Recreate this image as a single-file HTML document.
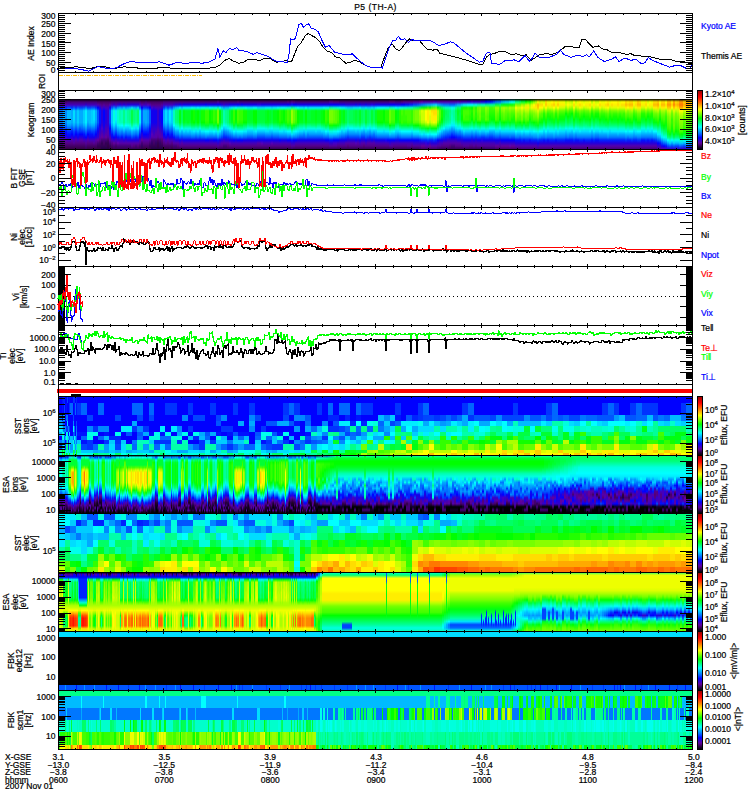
<!DOCTYPE html><html><head><meta charset="utf-8"><title>P5 (TH-A)</title><style>
html,body{margin:0;padding:0;background:#fff}
body{width:750px;height:800px;position:relative;overflow:hidden;font-family:"Liberation Sans",sans-serif}
.sp{position:absolute;overflow:hidden}
.sp i{position:absolute;top:0;height:100%;display:block}
.sp b{position:absolute;left:0;width:100%;display:block}
svg{position:absolute;left:0;top:0}
svg text{font-family:"Liberation Sans",sans-serif;font-size:8.5px;fill:currentColor;stroke:currentColor;stroke-width:.22px}
</style></head><body><div class="sp" style="left:59px;top:99px;width:633px;height:50px;background:#000"><i style="left:0px;width:2px;background:linear-gradient(#000,#406,#50a,#01f,#07f,#07f,#07f,#07f,#07f,#05f,#02f,#00f,#10e,#30c,#50a,#407,#306,#304)"></i><i style="left:2px;width:2px;background:linear-gradient(#000,#406,#50a,#01f,#07f,#07f,#07f,#07f,#07f,#05f,#02f,#00f,#10e,#30c,#50a,#407,#306,#304)"></i><i style="left:4px;width:2px;background:linear-gradient(#000,#407,#40b,#03f,#0af,#0af,#0af,#0af,#0af,#08f,#05f,#02f,#00f,#20d,#50a,#508,#406,#304)"></i><i style="left:6px;width:2px;background:linear-gradient(#000,#406,#50a,#02f,#08f,#08f,#08f,#08f,#08f,#06f,#04f,#01f,#10e,#20d,#50a,#508,#406,#304)"></i><i style="left:8px;width:2px;background:linear-gradient(#000,#407,#40b,#04f,#0bf,#0bf,#0bf,#0bf,#0bf,#09f,#06f,#03f,#01f,#10e,#40b,#508,#406,#304)"></i><i style="left:10px;width:2px;background:linear-gradient(#000,#407,#40b,#04f,#0bf,#0bf,#0bf,#0bf,#0bf,#09f,#06f,#03f,#01f,#10e,#40b,#508,#406,#304)"></i><i style="left:12px;width:2px;background:linear-gradient(#000,#407,#40b,#03f,#0af,#0af,#0af,#0af,#0af,#08f,#05f,#02f,#00f,#20d,#50a,#508,#406,#304)"></i><i style="left:14px;width:2px;background:linear-gradient(#000,#407,#40b,#05f,#0df,#0df,#0df,#0df,#0cf,#0af,#07f,#04f,#02f,#10e,#40b,#509,#406,#304)"></i><i style="left:16px;width:2px;background:linear-gradient(#000,#407,#40b,#03f,#0af,#0af,#0af,#0af,#0af,#08f,#05f,#02f,#00f,#20d,#50a,#508,#406,#304)"></i><i style="left:18px;width:2px;background:linear-gradient(#000,#407,#40b,#05f,#0cf,#0cf,#0cf,#0cf,#0cf,#0af,#07f,#04f,#01f,#10e,#40b,#508,#406,#304)"></i><i style="left:20px;width:2px;background:linear-gradient(#000,#407,#40b,#04f,#0af,#0af,#0af,#0af,#0af,#08f,#05f,#03f,#00f,#20d,#50a,#508,#406,#304)"></i><i style="left:22px;width:2px;background:linear-gradient(#000,#407,#40b,#04f,#0af,#0af,#0af,#0af,#0af,#08f,#06f,#03f,#00f,#20d,#50a,#508,#406,#304)"></i><i style="left:24px;width:2px;background:linear-gradient(#000,#407,#40b,#05f,#0cf,#0cf,#0cf,#0cf,#0cf,#0af,#07f,#04f,#01f,#10e,#40b,#508,#406,#304)"></i><i style="left:26px;width:2px;background:linear-gradient(#000,#407,#30c,#07f,#0ef,#0ef,#0ef,#0ef,#0ef,#0cf,#09f,#06f,#03f,#00f,#40b,#509,#407,#305)"></i><i style="left:28px;width:2px;background:linear-gradient(#000,#407,#40b,#04f,#0bf,#0bf,#0bf,#0bf,#0af,#08f,#06f,#03f,#00f,#20d,#50a,#508,#406,#304)"></i><i style="left:30px;width:2px;background:linear-gradient(#000,#407,#40b,#04f,#0bf,#0bf,#0bf,#0bf,#0bf,#09f,#06f,#03f,#01f,#10e,#40b,#508,#406,#304)"></i><i style="left:32px;width:2px;background:linear-gradient(#000,#407,#40b,#05f,#0cf,#0cf,#0cf,#0cf,#0cf,#0af,#07f,#04f,#01f,#10e,#40b,#508,#406,#304)"></i><i style="left:34px;width:2px;background:linear-gradient(#000,#407,#40b,#05f,#0df,#0df,#0df,#0df,#0cf,#0af,#07f,#04f,#02f,#10e,#40b,#509,#406,#304)"></i><i style="left:36px;width:2px;background:linear-gradient(#000,#407,#40b,#03f,#0af,#0af,#0af,#0af,#09f,#07f,#05f,#02f,#00f,#20d,#50a,#508,#406,#304)"></i><i style="left:38px;width:2px;background:linear-gradient(#000,#406,#50a,#00f,#05f,#05f,#05f,#05f,#05f,#03f,#01f,#10e,#20d,#30c,#609,#407,#305,#304)"></i><i style="left:40px;width:2px;background:linear-gradient(#000,#406,#509,#20d,#01f,#01f,#01f,#01f,#01f,#10e,#20d,#30c,#40b,#50a,#508,#406,#305,#304)"></i><i style="left:42px;width:2px;background:linear-gradient(#000,#406,#508,#40b,#20d,#20d,#20d,#20d,#20d,#30c,#40c,#40b,#50a,#609,#407,#305,#305,#204)"></i><i style="left:44px;width:2px;background:linear-gradient(#000,#406,#509,#30c,#00f,#00f,#00f,#00f,#10e,#10e,#20d,#30c,#40b,#50a,#407,#406,#305,#204)"></i><i style="left:46px;width:2px;background:linear-gradient(#000,#406,#508,#40b,#20d,#20d,#20d,#20d,#20d,#30c,#40b,#40b,#50a,#609,#407,#305,#305,#204)"></i><i style="left:48px;width:2px;background:linear-gradient(#000,#406,#508,#40b,#30c,#30c,#30c,#30c,#30c,#30c,#40b,#50a,#50a,#509,#406,#305,#304,#204)"></i><i style="left:50px;width:2px;background:linear-gradient(#000,#406,#50a,#10e,#04f,#04f,#04f,#04f,#04f,#02f,#00f,#10e,#20d,#40b,#509,#407,#305,#304)"></i><i style="left:52px;width:2px;background:linear-gradient(#000,#407,#40b,#05f,#0cf,#0cf,#0cf,#0cf,#0cf,#0af,#07f,#04f,#01f,#10e,#40b,#508,#406,#304)"></i><i style="left:54px;width:2px;background:linear-gradient(#000,#407,#30c,#08f,#0fd,#0fd,#0fd,#0fd,#0fe,#0df,#0af,#07f,#04f,#00f,#30c,#609,#407,#305)"></i><i style="left:56px;width:2px;background:linear-gradient(#000,#407,#40b,#06f,#0ef,#0ef,#0ef,#0ef,#0df,#0bf,#08f,#05f,#02f,#10e,#40b,#509,#406,#305)"></i><i style="left:58px;width:2px;background:linear-gradient(#000,#407,#30c,#09f,#0fc,#0fc,#0fc,#0fc,#0fc,#0ef,#0bf,#08f,#05f,#01f,#30c,#60a,#407,#305)"></i><i style="left:60px;width:2px;background:linear-gradient(#000,#407,#20d,#0af,#0fa,#0fa,#0fa,#0fa,#0fb,#0fe,#0cf,#09f,#06f,#02f,#30c,#50a,#407,#305)"></i><i style="left:62px;width:2px;background:linear-gradient(#000,#407,#30c,#09f,#0fb,#0fb,#0fb,#0fb,#0fb,#0ff,#0cf,#08f,#05f,#01f,#30c,#50a,#407,#305)"></i><i style="left:64px;width:2px;background:linear-gradient(#000,#407,#20d,#0bf,#0f8,#0f8,#0f8,#0f8,#0f8,#0fc,#0df,#0af,#06f,#03f,#20d,#50a,#407,#305)"></i><i style="left:66px;width:2px;background:linear-gradient(#000,#407,#30c,#09f,#0fb,#0fb,#0fb,#0fb,#0fb,#0ff,#0cf,#08f,#05f,#01f,#30c,#50a,#407,#305)"></i><i style="left:68px;width:2px;background:linear-gradient(#000,#407,#20d,#0af,#0f9,#0f9,#0f9,#0f9,#0fa,#0fe,#0cf,#09f,#06f,#02f,#20d,#50a,#407,#305)"></i><i style="left:70px;width:2px;background:linear-gradient(#000,#407,#20d,#0bf,#0f8,#0f8,#0f8,#0f8,#0f9,#0fd,#0df,#09f,#06f,#02f,#20d,#50a,#407,#305)"></i><i style="left:72px;width:2px;background:linear-gradient(#000,#407,#20d,#0df,#0f4,#0f4,#0f4,#0f4,#0f5,#0f9,#0fe,#0bf,#08f,#04f,#20d,#50a,#508,#305)"></i><i style="left:74px;width:2px;background:linear-gradient(#000,#407,#20d,#0bf,#0f7,#0f7,#0f7,#0f7,#0f8,#0fc,#0ef,#0af,#07f,#03f,#20d,#50a,#507,#305)"></i><i style="left:76px;width:2px;background:linear-gradient(#000,#407,#20d,#0af,#0f8,#0f8,#0f8,#0f8,#0f9,#0fd,#0df,#09f,#06f,#02f,#20d,#50a,#407,#305)"></i><i style="left:78px;width:2px;background:linear-gradient(#000,#407,#20d,#0cf,#0f6,#0f6,#0f6,#0f6,#0f7,#0fb,#0ef,#0af,#07f,#03f,#20d,#50a,#507,#305)"></i><i style="left:80px;width:2px;background:linear-gradient(#000,#407,#40c,#06f,#0ef,#0ef,#0ef,#0ef,#0ef,#0bf,#08f,#05f,#02f,#10e,#40b,#509,#406,#305)"></i><i style="left:82px;width:2px;background:linear-gradient(#000,#406,#50a,#00f,#06f,#06f,#06f,#06f,#06f,#04f,#02f,#00f,#20d,#30c,#609,#407,#306,#304)"></i><i style="left:84px;width:2px;background:linear-gradient(#000,#406,#40b,#03f,#0af,#0af,#0af,#0af,#09f,#07f,#05f,#02f,#00f,#20d,#50a,#508,#406,#304)"></i><i style="left:86px;width:2px;background:linear-gradient(#000,#407,#40b,#03f,#0af,#0af,#0af,#0af,#0af,#08f,#05f,#02f,#00f,#20d,#50a,#508,#406,#304)"></i><i style="left:88px;width:2px;background:linear-gradient(#000,#406,#50b,#02f,#09f,#09f,#09f,#09f,#09f,#07f,#04f,#02f,#10e,#20d,#50a,#508,#406,#304)"></i><i style="left:90px;width:2px;background:linear-gradient(#000,#406,#50a,#00f,#05f,#05f,#05f,#05f,#05f,#03f,#01f,#10e,#20d,#30c,#509,#407,#305,#304)"></i><i style="left:92px;width:2px;background:linear-gradient(#000,#406,#508,#40c,#10e,#10e,#10e,#10e,#10e,#20d,#30c,#40b,#50b,#50a,#407,#306,#305,#204)"></i><i style="left:94px;width:2px;background:linear-gradient(#000,#406,#508,#30c,#10e,#10e,#10e,#10e,#10e,#20d,#30c,#30c,#40b,#50a,#407,#406,#305,#204)"></i><i style="left:96px;width:2px;background:linear-gradient(#000,#406,#508,#40b,#10e,#10e,#10e,#10e,#10e,#20d,#30c,#40b,#50a,#50a,#407,#306,#305,#204)"></i><i style="left:98px;width:2px;background:linear-gradient(#000,#406,#508,#40b,#30c,#30c,#30c,#30c,#30c,#30c,#40b,#50a,#50a,#509,#406,#305,#304,#204)"></i><i style="left:100px;width:2px;background:linear-gradient(#000,#406,#508,#40b,#10e,#10e,#10e,#10e,#20d,#20d,#30c,#40b,#50a,#50a,#407,#306,#305,#204)"></i><i style="left:102px;width:2px;background:linear-gradient(#000,#406,#509,#30c,#00f,#00f,#00f,#00f,#00f,#10e,#20d,#30c,#40b,#50a,#507,#406,#305,#204)"></i><i style="left:104px;width:2px;background:linear-gradient(#000,#407,#40b,#03f,#0af,#0af,#0af,#0af,#0af,#08f,#05f,#02f,#00f,#20d,#50a,#508,#406,#304)"></i><i style="left:106px;width:2px;background:linear-gradient(#000,#407,#40b,#06f,#0df,#0df,#0df,#0df,#0cf,#0af,#07f,#04f,#02f,#10e,#40b,#509,#406,#304)"></i><i style="left:108px;width:2px;background:linear-gradient(#000,#407,#40b,#04f,#0bf,#0bf,#0bf,#0bf,#0af,#08f,#06f,#03f,#00f,#20d,#50a,#508,#406,#304)"></i><i style="left:110px;width:2px;background:linear-gradient(#000,#407,#40b,#06f,#0ef,#0ef,#0ef,#0ef,#0df,#0bf,#08f,#05f,#02f,#10e,#40b,#509,#406,#305)"></i><i style="left:112px;width:2px;background:linear-gradient(#000,#407,#40b,#05f,#0cf,#0cf,#0cf,#0cf,#0cf,#0af,#07f,#04f,#01f,#10e,#40b,#508,#406,#304)"></i><i style="left:114px;width:2px;background:linear-gradient(#000,#407,#30c,#09f,#0fb,#0fb,#0fb,#0fb,#0fc,#0ff,#0bf,#08f,#05f,#01f,#30c,#50a,#407,#305)"></i><i style="left:116px;width:2px;background:linear-gradient(#000,#407,#20d,#0bf,#0f7,#0f7,#0f7,#0f7,#0f8,#0fc,#0ef,#0af,#07f,#03f,#20d,#50a,#407,#305)"></i><i style="left:118px;width:2px;background:linear-gradient(#000,#407,#20d,#0cf,#0f6,#0f6,#0f6,#0f6,#0f7,#0fb,#0ef,#0af,#07f,#03f,#20d,#50a,#507,#305)"></i><i style="left:120px;width:2px;background:linear-gradient(#000,#407,#10e,#0ef,#0f1,#0f1,#0f1,#0f1,#0f2,#0f7,#0fc,#0df,#09f,#05f,#10e,#40b,#508,#305)"></i><i style="left:122px;width:2px;background:linear-gradient(#000,#407,#20d,#0cf,#0f5,#0f5,#0f5,#0f5,#0f6,#0fa,#0ff,#0bf,#08f,#04f,#20d,#50a,#508,#305)"></i><i style="left:124px;width:2px;background:linear-gradient(#000,#407,#10e,#0ef,#0f1,#0f1,#0f1,#0f1,#0f2,#0f6,#0fc,#0df,#09f,#05f,#10e,#40b,#508,#305)"></i><i style="left:126px;width:2px;background:linear-gradient(#000,#407,#10e,#0ef,#0f2,#0f2,#0f2,#0f2,#0f3,#0f7,#0fd,#0cf,#09f,#05f,#10e,#40b,#508,#305)"></i><i style="left:128px;width:2px;background:linear-gradient(#000,#407,#10e,#0ef,#0f2,#0f2,#0f2,#0f2,#0f2,#0f7,#0fd,#0df,#09f,#05f,#10e,#40b,#508,#305)"></i><i style="left:130px;width:2px;background:linear-gradient(#000,#407,#10e,#0ef,#0f2,#0f2,#0f2,#0f2,#0f3,#0f7,#0fd,#0cf,#09f,#05f,#10e,#40b,#508,#305)"></i><i style="left:132px;width:2px;background:linear-gradient(#000,#407,#10e,#0ff,#0f0,#0f0,#0f0,#0f0,#0f1,#0f5,#0fb,#0df,#0af,#06f,#10e,#40b,#508,#305)"></i><i style="left:134px;width:2px;background:linear-gradient(#000,#407,#10e,#0fe,#1f0,#1f0,#1f0,#1f0,#0f0,#0f5,#0fb,#0ef,#0af,#06f,#10e,#40b,#508,#305)"></i><i style="left:136px;width:2px;background:linear-gradient(#000,#407,#10e,#0ef,#0f1,#0f1,#0f1,#0f1,#0f2,#0f6,#0fc,#0df,#09f,#05f,#10e,#40b,#508,#305)"></i><i style="left:138px;width:2px;background:linear-gradient(#000,#407,#10e,#0ff,#0f0,#0f0,#0f0,#0f0,#0f0,#0f5,#0fb,#0ef,#0af,#06f,#10e,#40b,#508,#305)"></i><i style="left:140px;width:2px;background:linear-gradient(#000,#407,#10e,#0ef,#0f2,#0f2,#0f2,#0f2,#0f3,#0f7,#0fd,#0cf,#09f,#05f,#10e,#40b,#508,#305)"></i><i style="left:142px;width:2px;background:linear-gradient(#000,#407,#10e,#0fe,#1f0,#1f0,#1f0,#1f0,#0f0,#0f4,#0fa,#0ef,#0af,#06f,#10e,#40b,#508,#305)"></i><i style="left:144px;width:2px;background:linear-gradient(#000,#407,#10e,#0fe,#1f0,#1f0,#1f0,#1f0,#0f0,#0f4,#0fa,#0ef,#0af,#06f,#10e,#40b,#508,#305)"></i><i style="left:146px;width:2px;background:linear-gradient(#000,#407,#00f,#0fd,#3f0,#3f0,#3f0,#3f0,#2f0,#0f3,#0f9,#0ff,#0bf,#07f,#00f,#40b,#508,#305)"></i><i style="left:148px;width:2px;background:linear-gradient(#000,#407,#10e,#0fd,#3f0,#3f0,#3f0,#3f0,#2f0,#0f3,#0f9,#0ff,#0bf,#06f,#00f,#40b,#508,#305)"></i><i style="left:150px;width:2px;background:linear-gradient(#000,#407,#10e,#0ff,#0f0,#0f0,#0f0,#0f0,#0f0,#0f5,#0fb,#0ef,#0af,#06f,#10e,#40b,#508,#305)"></i><i style="left:152px;width:2px;background:linear-gradient(#000,#407,#10e,#0fe,#1f0,#1f0,#1f0,#1f0,#0f0,#0f5,#0fa,#0ef,#0af,#06f,#10e,#40b,#508,#305)"></i><i style="left:154px;width:2px;background:linear-gradient(#000,#407,#10e,#0fd,#3f0,#3f0,#3f0,#3f0,#2f0,#0f3,#0f9,#0ff,#0bf,#06f,#00f,#40b,#508,#305)"></i><i style="left:156px;width:2px;background:linear-gradient(#000,#407,#10e,#0fe,#2f0,#2f0,#2f0,#2f0,#1f0,#0f4,#0fa,#0ef,#0af,#06f,#00f,#40b,#508,#305)"></i><i style="left:158px;width:2px;background:linear-gradient(#000,#508,#00f,#0fb,#7f0,#7f0,#7f0,#7f0,#6f0,#0f0,#0f6,#0fd,#0cf,#08f,#01f,#30c,#509,#305)"></i><i style="left:160px;width:2px;background:linear-gradient(#000,#407,#10e,#0ff,#0f0,#0f0,#0f0,#0f0,#0f1,#0f5,#0fb,#0ef,#0af,#06f,#10e,#40b,#508,#305)"></i><i style="left:162px;width:2px;background:linear-gradient(#000,#407,#20d,#0cf,#0f5,#0f5,#0f5,#0f5,#0f5,#0fa,#0ff,#0bf,#08f,#04f,#20d,#50a,#508,#305)"></i><i style="left:164px;width:2px;background:linear-gradient(#000,#407,#30c,#0af,#0fa,#0fa,#0fa,#0fa,#0fb,#0fe,#0cf,#08f,#05f,#02f,#30c,#50a,#407,#305)"></i><i style="left:166px;width:2px;background:linear-gradient(#000,#407,#20d,#0bf,#0f8,#0f8,#0f8,#0f8,#0f9,#0fd,#0df,#09f,#06f,#02f,#20d,#50a,#407,#305)"></i><i style="left:168px;width:2px;background:linear-gradient(#000,#407,#20d,#0bf,#0f7,#0f7,#0f7,#0f7,#0f7,#0fb,#0ef,#0af,#07f,#03f,#20d,#50a,#507,#305)"></i><i style="left:170px;width:2px;background:linear-gradient(#000,#407,#10e,#0df,#0f3,#0f3,#0f3,#0f3,#0f4,#0f9,#0fe,#0cf,#08f,#04f,#10e,#50b,#508,#305)"></i><i style="left:172px;width:2px;background:linear-gradient(#000,#407,#10e,#0ef,#0f1,#0f1,#0f1,#0f1,#0f2,#0f7,#0fc,#0df,#09f,#05f,#10e,#40b,#508,#305)"></i><i style="left:174px;width:2px;background:linear-gradient(#000,#407,#10e,#0fd,#3f0,#3f0,#3f0,#3f0,#2f0,#0f3,#0f9,#0ff,#0bf,#06f,#00f,#40b,#508,#305)"></i><i style="left:176px;width:2px;background:linear-gradient(#000,#407,#10e,#0ff,#0f0,#0f0,#0f0,#0f0,#0f1,#0f5,#0fb,#0ef,#0af,#06f,#10e,#40b,#508,#305)"></i><i style="left:178px;width:2px;background:linear-gradient(#000,#507,#00f,#0fd,#4f0,#4f0,#4f0,#4f0,#3f0,#0f2,#0f9,#0ff,#0bf,#07f,#00f,#40b,#508,#305)"></i><i style="left:180px;width:2px;background:linear-gradient(#000,#407,#10e,#0fd,#3f0,#3f0,#3f0,#3f0,#2f0,#0f3,#0f9,#0ff,#0bf,#06f,#00f,#40b,#508,#305)"></i><i style="left:182px;width:2px;background:linear-gradient(#000,#407,#00f,#0fd,#3f0,#3f0,#3f0,#3f0,#2f0,#0f3,#0f9,#0ff,#0bf,#07f,#00f,#40b,#508,#305)"></i><i style="left:184px;width:2px;background:linear-gradient(#000,#407,#10e,#0fe,#1f0,#1f0,#1f0,#1f0,#0f0,#0f5,#0fa,#0ef,#0af,#06f,#10e,#40b,#508,#305)"></i><i style="left:186px;width:2px;background:linear-gradient(#000,#407,#10e,#0ff,#1f0,#1f0,#1f0,#1f0,#0f0,#0f5,#0fb,#0ef,#0af,#06f,#10e,#40b,#508,#305)"></i><i style="left:188px;width:2px;background:linear-gradient(#000,#407,#10e,#0ef,#0f2,#0f2,#0f2,#0f2,#0f3,#0f8,#0fd,#0cf,#09f,#05f,#10e,#40b,#508,#305)"></i><i style="left:190px;width:2px;background:linear-gradient(#000,#407,#10e,#0ef,#0f2,#0f2,#0f2,#0f2,#0f3,#0f7,#0fd,#0cf,#09f,#05f,#10e,#40b,#508,#305)"></i><i style="left:192px;width:2px;background:linear-gradient(#000,#407,#10e,#0ef,#0f2,#0f2,#0f2,#0f2,#0f3,#0f7,#0fd,#0cf,#09f,#05f,#10e,#40b,#508,#305)"></i><i style="left:194px;width:2px;background:linear-gradient(#000,#407,#10e,#0ff,#0f0,#0f0,#0f0,#0f0,#0f1,#0f5,#0fb,#0df,#0af,#06f,#10e,#40b,#508,#305)"></i><i style="left:196px;width:2px;background:linear-gradient(#000,#407,#10e,#0ff,#0f0,#0f0,#0f0,#0f0,#0f0,#0f5,#0fb,#0ef,#0af,#06f,#10e,#40b,#508,#305)"></i><i style="left:198px;width:2px;background:linear-gradient(#000,#407,#20e,#0df,#0f3,#0f3,#0f3,#0f3,#0f4,#0f9,#0fe,#0cf,#08f,#04f,#10e,#50a,#508,#305)"></i><i style="left:200px;width:2px;background:linear-gradient(#000,#407,#20e,#0df,#0f3,#0f3,#0f3,#0f3,#0f4,#0f9,#0fe,#0cf,#08f,#04f,#10e,#50a,#508,#305)"></i><i style="left:202px;width:2px;background:linear-gradient(#000,#407,#10e,#0df,#0f3,#0f3,#0f3,#0f3,#0f4,#0f8,#0fe,#0cf,#08f,#04f,#10e,#50b,#508,#305)"></i><i style="left:204px;width:2px;background:linear-gradient(#000,#407,#10e,#0df,#0f3,#0f3,#0f3,#0f3,#0f4,#0f8,#0fe,#0cf,#08f,#04f,#10e,#40b,#508,#305)"></i><i style="left:206px;width:2px;background:linear-gradient(#000,#407,#10e,#0ef,#0f2,#0f2,#0f2,#0f2,#0f2,#0f7,#0fd,#0df,#09f,#05f,#10e,#40b,#508,#305)"></i><i style="left:208px;width:2px;background:linear-gradient(#000,#407,#10e,#0ef,#0f1,#0f1,#0f1,#0f1,#0f2,#0f6,#0fc,#0df,#09f,#05f,#10e,#40b,#508,#305)"></i><i style="left:210px;width:2px;background:linear-gradient(#000,#407,#10e,#0ef,#0f2,#0f2,#0f2,#0f2,#0f3,#0f8,#0fd,#0cf,#09f,#05f,#10e,#40b,#508,#305)"></i><i style="left:212px;width:2px;background:linear-gradient(#000,#407,#10e,#0df,#0f3,#0f3,#0f3,#0f3,#0f4,#0f9,#0fe,#0cf,#08f,#04f,#10e,#50b,#508,#305)"></i><i style="left:214px;width:2px;background:linear-gradient(#000,#407,#10e,#0ef,#0f1,#0f1,#0f1,#0f1,#0f2,#0f7,#0fc,#0df,#09f,#05f,#10e,#40b,#508,#305)"></i><i style="left:216px;width:2px;background:linear-gradient(#000,#407,#10e,#0ef,#0f1,#0f1,#0f1,#0f1,#0f2,#0f7,#0fc,#0df,#09f,#05f,#10e,#40b,#508,#305)"></i><i style="left:218px;width:2px;background:linear-gradient(#000,#407,#10e,#0ff,#0f0,#0f0,#0f0,#0f0,#0f1,#0f6,#0fc,#0df,#09f,#05f,#10e,#40b,#508,#305)"></i><i style="left:220px;width:2px;background:linear-gradient(#000,#407,#10e,#0fe,#2f0,#2f0,#2f0,#2f0,#1f0,#0f4,#0fa,#0ef,#0af,#06f,#00f,#40b,#508,#305)"></i><i style="left:222px;width:2px;background:linear-gradient(#000,#407,#10e,#0ff,#1f0,#1f0,#1f0,#1f0,#0f0,#0f5,#0fb,#0ef,#0af,#06f,#10e,#40b,#508,#305)"></i><i style="left:224px;width:2px;background:linear-gradient(#000,#407,#10e,#0ff,#0f0,#0f0,#0f0,#0f0,#0f1,#0f6,#0fb,#0df,#0af,#06f,#10e,#40b,#508,#305)"></i><i style="left:226px;width:2px;background:linear-gradient(#000,#407,#10e,#0fe,#2f0,#2f0,#2f0,#2f0,#1f0,#0f4,#0fa,#0ef,#0af,#06f,#10e,#40b,#508,#305)"></i><i style="left:228px;width:2px;background:linear-gradient(#000,#507,#00f,#0fd,#4f0,#4f0,#4f0,#4f0,#3f0,#0f2,#0f8,#0ff,#0bf,#07f,#00f,#40b,#508,#305)"></i><i style="left:230px;width:2px;background:linear-gradient(#000,#407,#10e,#0fd,#3f0,#3f0,#3f0,#3f0,#2f0,#0f3,#0f9,#0ff,#0bf,#06f,#00f,#40b,#508,#305)"></i><i style="left:232px;width:2px;background:linear-gradient(#000,#508,#01f,#0f9,#9f0,#9f0,#9f0,#9f0,#8f0,#2f0,#0f4,#0fb,#0df,#08f,#01f,#30c,#509,#306)"></i><i style="left:234px;width:2px;background:linear-gradient(#000,#507,#00f,#0fb,#6f0,#6f0,#6f0,#6f0,#5f0,#0f1,#0f7,#0fe,#0cf,#07f,#00f,#30c,#509,#305)"></i><i style="left:236px;width:2px;background:linear-gradient(#000,#407,#00f,#0fd,#4f0,#4f0,#4f0,#4f0,#3f0,#0f3,#0f9,#0ff,#0bf,#07f,#00f,#40b,#508,#305)"></i><i style="left:238px;width:2px;background:linear-gradient(#000,#407,#10e,#0ff,#0f0,#0f0,#0f0,#0f0,#0f0,#0f5,#0fb,#0ef,#0af,#06f,#10e,#40b,#508,#305)"></i><i style="left:240px;width:2px;background:linear-gradient(#000,#407,#10e,#0ef,#0f1,#0f1,#0f1,#0f1,#0f2,#0f7,#0fc,#0df,#09f,#05f,#10e,#40b,#508,#305)"></i><i style="left:242px;width:2px;background:linear-gradient(#000,#407,#10e,#0ef,#0f1,#0f1,#0f1,#0f1,#0f2,#0f7,#0fc,#0df,#09f,#05f,#10e,#40b,#508,#305)"></i><i style="left:244px;width:2px;background:linear-gradient(#000,#407,#10e,#0df,#0f3,#0f3,#0f3,#0f3,#0f3,#0f8,#0fd,#0cf,#08f,#05f,#10e,#40b,#508,#305)"></i><i style="left:246px;width:2px;background:linear-gradient(#000,#407,#10e,#0ff,#0f0,#0f0,#0f0,#0f0,#0f1,#0f6,#0fb,#0df,#0af,#06f,#10e,#40b,#508,#305)"></i><i style="left:248px;width:2px;background:linear-gradient(#000,#407,#10e,#0df,#0f3,#0f3,#0f3,#0f3,#0f3,#0f8,#0fd,#0cf,#08f,#05f,#10e,#40b,#508,#305)"></i><i style="left:250px;width:2px;background:linear-gradient(#000,#407,#10e,#0ef,#0f3,#0f3,#0f3,#0f3,#0f3,#0f8,#0fd,#0cf,#09f,#05f,#10e,#40b,#508,#305)"></i><i style="left:252px;width:2px;background:linear-gradient(#000,#407,#10e,#0ef,#0f2,#0f2,#0f2,#0f2,#0f3,#0f7,#0fd,#0cf,#09f,#05f,#10e,#40b,#508,#305)"></i><i style="left:254px;width:2px;background:linear-gradient(#000,#407,#10e,#0ef,#0f2,#0f2,#0f2,#0f2,#0f3,#0f7,#0fd,#0cf,#09f,#05f,#10e,#40b,#508,#305)"></i><i style="left:256px;width:2px;background:linear-gradient(#000,#407,#10e,#0ef,#0f1,#0f1,#0f1,#0f1,#0f2,#0f6,#0fc,#0df,#09f,#05f,#10e,#40b,#508,#305)"></i><i style="left:258px;width:2px;background:linear-gradient(#000,#407,#10e,#0ef,#0f2,#0f2,#0f2,#0f2,#0f3,#0f8,#0fd,#0cf,#09f,#05f,#10e,#40b,#508,#305)"></i><i style="left:260px;width:2px;background:linear-gradient(#000,#407,#10e,#0ef,#0f2,#0f2,#0f2,#0f2,#0f3,#0f8,#0fd,#0cf,#09f,#05f,#10e,#40b,#508,#305)"></i><i style="left:262px;width:2px;background:linear-gradient(#000,#407,#10e,#0ef,#0f1,#0f1,#0f1,#0f1,#0f1,#0f6,#0fc,#0df,#09f,#05f,#10e,#40b,#508,#305)"></i><i style="left:264px;width:2px;background:linear-gradient(#000,#407,#10e,#0ff,#0f0,#0f0,#0f0,#0f0,#0f1,#0f5,#0fb,#0df,#0af,#06f,#10e,#40b,#508,#305)"></i><i style="left:266px;width:2px;background:linear-gradient(#000,#407,#10e,#0fe,#3f0,#3f0,#3f0,#3f0,#2f0,#0f3,#0f9,#0ff,#0bf,#06f,#00f,#40b,#508,#305)"></i><i style="left:268px;width:2px;background:linear-gradient(#000,#407,#10e,#0fe,#2f0,#2f0,#2f0,#2f0,#1f0,#0f4,#0fa,#0ef,#0af,#06f,#00f,#40b,#508,#305)"></i><i style="left:270px;width:2px;background:linear-gradient(#000,#508,#00f,#0fa,#7f0,#7f0,#7f0,#7f0,#6f0,#1f0,#0f6,#0fd,#0cf,#08f,#01f,#30c,#509,#305)"></i><i style="left:272px;width:2px;background:linear-gradient(#000,#508,#00f,#0fb,#7f0,#7f0,#7f0,#7f0,#6f0,#1f0,#0f6,#0fd,#0cf,#08f,#01f,#30c,#509,#305)"></i><i style="left:274px;width:2px;background:linear-gradient(#000,#507,#00f,#0fc,#6f0,#6f0,#6f0,#6f0,#5f0,#0f1,#0f7,#0fe,#0cf,#07f,#00f,#40c,#509,#305)"></i><i style="left:276px;width:2px;background:linear-gradient(#000,#507,#00f,#0fc,#5f0,#5f0,#5f0,#5f0,#5f0,#0f1,#0f7,#0fe,#0cf,#07f,#00f,#40c,#509,#305)"></i><i style="left:278px;width:2px;background:linear-gradient(#000,#507,#00f,#0fd,#4f0,#4f0,#4f0,#4f0,#3f0,#0f2,#0f9,#0ff,#0bf,#07f,#00f,#40b,#508,#305)"></i><i style="left:280px;width:2px;background:linear-gradient(#000,#407,#10e,#0fe,#1f0,#1f0,#1f0,#1f0,#1f0,#0f4,#0fa,#0ef,#0af,#06f,#10e,#40b,#508,#305)"></i><i style="left:282px;width:2px;background:linear-gradient(#000,#407,#10e,#0ef,#0f2,#0f2,#0f2,#0f2,#0f3,#0f7,#0fd,#0cf,#09f,#05f,#10e,#40b,#508,#305)"></i><i style="left:284px;width:2px;background:linear-gradient(#000,#407,#10e,#0ef,#0f1,#0f1,#0f1,#0f1,#0f2,#0f7,#0fc,#0df,#09f,#05f,#10e,#40b,#508,#305)"></i><i style="left:286px;width:2px;background:linear-gradient(#000,#407,#20d,#0df,#0f4,#0f4,#0f4,#0f4,#0f4,#0f9,#0fe,#0cf,#08f,#04f,#10e,#50a,#508,#305)"></i><i style="left:288px;width:2px;background:linear-gradient(#000,#407,#20d,#0cf,#0f6,#0f6,#0f6,#0f6,#0f7,#0fb,#0ef,#0af,#07f,#03f,#20d,#50a,#507,#305)"></i><i style="left:290px;width:2px;background:linear-gradient(#000,#407,#20d,#0cf,#0f5,#0f5,#0f5,#0f5,#0f5,#0fa,#0ff,#0bf,#08f,#04f,#20d,#50a,#508,#305)"></i><i style="left:292px;width:2px;background:linear-gradient(#000,#407,#20d,#0cf,#0f5,#0f5,#0f5,#0f5,#0f5,#0fa,#0ff,#0bf,#08f,#04f,#20d,#50a,#508,#305)"></i><i style="left:294px;width:2px;background:linear-gradient(#000,#407,#20d,#0df,#0f4,#0f4,#0f4,#0f4,#0f5,#0f9,#0fe,#0bf,#08f,#04f,#20d,#50a,#508,#305)"></i><i style="left:296px;width:2px;background:linear-gradient(#000,#407,#10e,#0df,#0f3,#0f3,#0f3,#0f3,#0f4,#0f8,#0fe,#0cf,#08f,#04f,#10e,#50b,#508,#305)"></i><i style="left:298px;width:2px;background:linear-gradient(#000,#407,#20d,#0df,#0f4,#0f4,#0f4,#0f4,#0f5,#0f9,#0fe,#0bf,#08f,#04f,#20d,#50a,#508,#305)"></i><i style="left:300px;width:2px;background:linear-gradient(#000,#407,#10e,#0ef,#0f2,#0f2,#0f2,#0f2,#0f3,#0f7,#0fd,#0cf,#09f,#05f,#10e,#40b,#508,#305)"></i><i style="left:302px;width:2px;background:linear-gradient(#000,#407,#20d,#0cf,#0f5,#0f5,#0f5,#0f5,#0f6,#0fa,#0ff,#0bf,#07f,#03f,#20d,#50a,#508,#305)"></i><i style="left:304px;width:2px;background:linear-gradient(#000,#407,#20d,#0cf,#0f6,#0f6,#0f6,#0f6,#0f7,#0fb,#0ef,#0af,#07f,#03f,#20d,#50a,#507,#305)"></i><i style="left:306px;width:2px;background:linear-gradient(#000,#407,#10e,#0df,#0f3,#0f3,#0f3,#0f3,#0f3,#0f8,#0fd,#0cf,#08f,#05f,#10e,#40b,#508,#305)"></i><i style="left:308px;width:2px;background:linear-gradient(#000,#407,#20d,#0cf,#0f5,#0f5,#0f5,#0f5,#0f6,#0fa,#0ff,#0bf,#08f,#04f,#20d,#50a,#508,#305)"></i><i style="left:310px;width:2px;background:linear-gradient(#000,#407,#20d,#0cf,#0f6,#0f6,#0f6,#0f6,#0f7,#0fb,#0ef,#0af,#07f,#03f,#20d,#50a,#508,#305)"></i><i style="left:312px;width:2px;background:linear-gradient(#000,#407,#20e,#0df,#0f3,#0f3,#0f3,#0f3,#0f4,#0f9,#0fe,#0cf,#08f,#04f,#10e,#50a,#508,#305)"></i><i style="left:314px;width:2px;background:linear-gradient(#000,#407,#20d,#0cf,#0f5,#0f5,#0f5,#0f5,#0f6,#0fa,#0ff,#0bf,#07f,#04f,#20d,#50a,#508,#305)"></i><i style="left:316px;width:2px;background:linear-gradient(#000,#407,#10e,#0ef,#0f2,#0f2,#0f2,#0f2,#0f3,#0f8,#0fd,#0cf,#09f,#05f,#10e,#40b,#508,#305)"></i><i style="left:318px;width:2px;background:linear-gradient(#000,#407,#10e,#0ff,#1f0,#1f0,#1f0,#1f0,#0f0,#0f5,#0fb,#0ef,#0af,#06f,#10e,#40b,#508,#305)"></i><i style="left:320px;width:2px;background:linear-gradient(#000,#407,#10e,#0ff,#1f0,#1f0,#1f0,#1f0,#0f0,#0f5,#0fb,#0ef,#0af,#06f,#10e,#40b,#508,#305)"></i><i style="left:322px;width:2px;background:linear-gradient(#000,#407,#10e,#0ff,#1f0,#1f0,#1f0,#1f0,#0f0,#0f5,#0fb,#0ef,#0af,#06f,#10e,#40b,#508,#305)"></i><i style="left:324px;width:2px;background:linear-gradient(#000,#407,#10e,#0ff,#0f0,#0f0,#0f0,#0f0,#0f1,#0f6,#0fb,#0df,#0af,#06f,#10e,#40b,#508,#305)"></i><i style="left:326px;width:2px;background:linear-gradient(#000,#407,#10e,#0fe,#2f0,#2f0,#2f0,#2f0,#1f0,#0f4,#0fa,#0ef,#0af,#06f,#10f,#40b,#508,#305)"></i><i style="left:328px;width:2px;background:linear-gradient(#000,#407,#10e,#0fe,#2f0,#2f0,#2f0,#2f0,#1f0,#0f4,#0fa,#0ef,#0af,#06f,#00f,#40b,#508,#305)"></i><i style="left:330px;width:2px;background:linear-gradient(#000,#507,#00f,#0fb,#6f0,#6f0,#6f0,#6f0,#5f0,#0f0,#0f7,#0fd,#0cf,#07f,#00f,#30c,#509,#305)"></i><i style="left:332px;width:2px;background:linear-gradient(#000,#507,#00f,#0fc,#4f0,#4f0,#4f0,#4f0,#3f0,#0f2,#0f8,#0fe,#0bf,#07f,#00f,#40b,#509,#305)"></i><i style="left:334px;width:2px;background:linear-gradient(#000,#507,#00f,#0fd,#4f0,#4f0,#4f0,#4f0,#3f0,#0f2,#0f8,#0ff,#0bf,#07f,#00f,#40b,#508,#305)"></i><i style="left:336px;width:2px;background:linear-gradient(#000,#407,#10e,#0ff,#0f0,#0f0,#0f0,#0f0,#0f1,#0f6,#0fb,#0df,#0af,#06f,#10e,#40b,#508,#305)"></i><i style="left:338px;width:2px;background:linear-gradient(#000,#407,#10e,#0ef,#0f1,#0f1,#0f1,#0f1,#0f2,#0f7,#0fc,#0df,#09f,#05f,#10e,#40b,#508,#305)"></i><i style="left:340px;width:2px;background:linear-gradient(#000,#407,#10e,#0fe,#2f0,#2f0,#2f0,#2f0,#1f0,#0f4,#0fa,#0ef,#0af,#06f,#00f,#40b,#508,#305)"></i><i style="left:342px;width:2px;background:linear-gradient(#000,#507,#00f,#0fd,#4f0,#4f0,#3f0,#3f0,#3f0,#0f3,#0f9,#0ff,#0bf,#07f,#00f,#40b,#508,#305)"></i><i style="left:344px;width:2px;background:linear-gradient(#000,#508,#00f,#0fc,#3f0,#3f0,#3f0,#3f0,#2f0,#0f3,#0f9,#0ff,#0bf,#07f,#00f,#40b,#508,#305)"></i><i style="left:346px;width:2px;background:linear-gradient(#000,#508,#01f,#0fc,#4f0,#4f0,#3f0,#3f0,#2f0,#0f3,#0f9,#0ff,#0bf,#07f,#00f,#40b,#508,#305)"></i><i style="left:348px;width:2px;background:linear-gradient(#000,#508,#01f,#0fb,#4f0,#4f0,#4f0,#4f0,#3f0,#0f2,#0f9,#0ff,#0bf,#07f,#00f,#40b,#509,#305)"></i><i style="left:350px;width:2px;background:linear-gradient(#000,#508,#02f,#0fb,#4f0,#4f0,#4f0,#4f0,#3f0,#0f3,#0f9,#0ff,#0bf,#07f,#00f,#40b,#509,#305)"></i><i style="left:352px;width:2px;background:linear-gradient(#000,#508,#02f,#0fb,#3f0,#3f0,#3f0,#3f0,#2f0,#0f3,#0fa,#0ef,#0af,#06f,#00f,#40b,#508,#305)"></i><i style="left:354px;width:2px;background:linear-gradient(#000,#509,#04f,#0f8,#6f0,#6f0,#6f0,#6f0,#5f0,#0f1,#0f7,#0fe,#0cf,#07f,#00f,#30c,#509,#305)"></i><i style="left:356px;width:2px;background:linear-gradient(#000,#509,#04f,#0f7,#7f0,#7f0,#7f0,#7f0,#5f0,#0f0,#0f7,#0fe,#0cf,#07f,#00f,#30c,#509,#305)"></i><i style="left:358px;width:2px;background:linear-gradient(#000,#509,#05f,#0f6,#7f0,#7f0,#7f0,#7f0,#5f0,#0f0,#0f7,#0fe,#0cf,#07f,#00f,#30c,#509,#305)"></i><i style="left:360px;width:2px;background:linear-gradient(#000,#609,#06f,#0f4,#af0,#af0,#9f0,#9f0,#7f0,#2f0,#0f5,#0fc,#0df,#08f,#01f,#30c,#509,#306)"></i><i style="left:362px;width:2px;background:linear-gradient(#000,#60a,#07f,#0f2,#df0,#cf0,#cf0,#cf0,#af0,#4f0,#0f3,#0fb,#0ef,#09f,#02f,#30c,#609,#406)"></i><i style="left:364px;width:2px;background:linear-gradient(#000,#50a,#08f,#0f1,#cf0,#cf0,#cf0,#cf0,#af0,#4f0,#0f3,#0fb,#0df,#09f,#02f,#30c,#609,#406)"></i><i style="left:366px;width:2px;background:linear-gradient(#000,#50a,#09f,#1f0,#ff0,#ff0,#ff0,#ff0,#cf0,#6f0,#0f2,#0f9,#0ef,#09f,#02f,#30d,#50a,#406)"></i><i style="left:368px;width:2px;background:linear-gradient(#000,#50a,#0af,#3f0,#fe0,#fe0,#fe0,#fe0,#ef0,#7f0,#0f1,#0f8,#0ff,#0af,#03f,#20d,#50a,#406)"></i><i style="left:370px;width:2px;background:linear-gradient(#000,#50a,#0af,#1f0,#ef0,#ef0,#df0,#df0,#bf0,#5f0,#0f3,#0fa,#0ef,#09f,#02f,#30c,#609,#406)"></i><i style="left:372px;width:2px;background:linear-gradient(#000,#50a,#0bf,#4f0,#fd0,#fe0,#fe0,#fe0,#df0,#7f0,#0f1,#0f9,#0ff,#09f,#02f,#20d,#50a,#406)"></i><i style="left:374px;width:2px;background:linear-gradient(#000,#50b,#0cf,#5f0,#fd0,#fd0,#fe0,#fe0,#ef0,#7f0,#0f1,#0f9,#0ff,#0af,#03f,#20d,#50a,#406)"></i><i style="left:376px;width:2px;background:linear-gradient(#000,#40b,#0df,#6f0,#fd0,#fd0,#fe0,#fe0,#df0,#7f0,#0f1,#0f9,#0ff,#09f,#02f,#20d,#50a,#406)"></i><i style="left:378px;width:2px;background:linear-gradient(#000,#50a,#0af,#0f0,#af0,#af0,#9f0,#9f0,#6f0,#1f0,#0f6,#0fd,#0cf,#07f,#00f,#30c,#509,#306)"></i><i style="left:380px;width:2px;background:linear-gradient(#000,#50a,#09f,#0f3,#5f0,#5f0,#5f0,#4f0,#2f0,#0f4,#0fa,#0ef,#0af,#06f,#10e,#40b,#509,#305)"></i><i style="left:382px;width:2px;background:linear-gradient(#000,#50a,#08f,#0f6,#1f0,#1f0,#1f0,#0f0,#0f2,#0f7,#0fd,#0cf,#08f,#04f,#10e,#40b,#508,#305)"></i><i style="left:384px;width:2px;background:linear-gradient(#000,#50a,#07f,#0f9,#0f3,#0f3,#0f3,#0f4,#0f6,#0fa,#0ff,#0af,#07f,#03f,#20d,#50a,#508,#305)"></i><i style="left:386px;width:2px;background:linear-gradient(#000,#50a,#07f,#0fb,#0f5,#0f5,#0f6,#0f6,#0f8,#0fc,#0df,#09f,#06f,#02f,#20d,#50a,#508,#305)"></i><i style="left:388px;width:2px;background:linear-gradient(#000,#50a,#07f,#0fb,#0f6,#0f6,#0f6,#0f7,#0f9,#0fd,#0df,#09f,#05f,#02f,#30c,#50a,#508,#305)"></i><i style="left:390px;width:2px;background:linear-gradient(#000,#50a,#06f,#0fc,#0f7,#0f8,#0f8,#0f8,#0fa,#0fe,#0cf,#08f,#05f,#01f,#30c,#50a,#507,#305)"></i><i style="left:392px;width:2px;background:linear-gradient(#000,#50a,#06f,#0fe,#0fa,#0fa,#0fb,#0fb,#0fd,#0ef,#0af,#07f,#03f,#00f,#30c,#50a,#407,#305)"></i><i style="left:394px;width:2px;background:linear-gradient(#000,#50a,#06f,#0fd,#0f9,#0f9,#0f9,#0fa,#0fc,#0ef,#0bf,#07f,#04f,#00f,#30c,#50a,#407,#305)"></i><i style="left:396px;width:2px;background:linear-gradient(#000,#50a,#08f,#0f9,#0f5,#0f6,#0f6,#0f6,#0f9,#0fd,#0df,#09f,#05f,#01f,#30c,#50a,#508,#305)"></i><i style="left:398px;width:2px;background:linear-gradient(#000,#50b,#0af,#0f6,#0f2,#0f2,#0f3,#0f3,#0f6,#0fb,#0ef,#0af,#06f,#02f,#20d,#50a,#508,#305)"></i><i style="left:400px;width:2px;background:linear-gradient(#000,#50a,#0af,#0f7,#0f3,#0f4,#0f4,#0f4,#0f7,#0fc,#0ef,#09f,#06f,#02f,#20d,#50a,#508,#305)"></i><i style="left:402px;width:2px;background:linear-gradient(#000,#40b,#0cf,#0f2,#1f0,#1f0,#0f0,#0f0,#0f3,#0f8,#0fe,#0bf,#07f,#03f,#20d,#40b,#508,#305)"></i><i style="left:404px;width:2px;background:linear-gradient(#000,#40b,#0ef,#1f0,#4f0,#4f0,#4f0,#3f0,#0f1,#0f6,#0fc,#0df,#09f,#04f,#10e,#40b,#509,#305)"></i><i style="left:406px;width:2px;background:linear-gradient(#000,#40b,#0ef,#1f0,#4f0,#4f0,#3f0,#3f0,#0f1,#0f6,#0fc,#0cf,#08f,#04f,#10e,#40b,#509,#305)"></i><i style="left:408px;width:2px;background:linear-gradient(#000,#30c,#0ff,#2f0,#4f0,#4f0,#3f0,#3f0,#0f1,#0f6,#0fc,#0cf,#08f,#04f,#10e,#40b,#509,#305)"></i><i style="left:410px;width:2px;background:linear-gradient(#000,#30c,#0ff,#1f0,#3f0,#3f0,#2f0,#2f0,#0f2,#0f7,#0fd,#0cf,#08f,#04f,#10e,#40b,#508,#305)"></i><i style="left:412px;width:2px;background:linear-gradient(#000,#40c,#0ff,#0f0,#2f0,#1f0,#1f0,#0f0,#0f4,#0f8,#0fe,#0bf,#07f,#03f,#20d,#40b,#508,#305)"></i><i style="left:414px;width:2px;background:linear-gradient(#000,#30c,#0fd,#4f0,#5f0,#5f0,#4f0,#3f0,#0f1,#0f6,#0fc,#0cf,#08f,#04f,#10e,#40b,#509,#305)"></i><i style="left:416px;width:2px;background:linear-gradient(#000,#30c,#0fe,#2f0,#3f0,#2f0,#2f0,#1f0,#0f3,#0f8,#0fd,#0bf,#07f,#03f,#20d,#40b,#508,#305)"></i><i style="left:418px;width:2px;background:linear-gradient(#000,#30c,#0fb,#6f0,#6f0,#5f0,#4f0,#4f0,#0f0,#0f6,#0fc,#0cf,#08f,#04f,#10e,#40b,#509,#305)"></i><i style="left:420px;width:2px;background:linear-gradient(#000,#30c,#0fa,#7f0,#7f0,#6f0,#6f0,#5f0,#0f0,#0f5,#0fb,#0df,#09f,#04f,#10e,#40b,#509,#305)"></i><i style="left:422px;width:2px;background:linear-gradient(#000,#20d,#0fb,#5f0,#4f0,#3f0,#3f0,#2f0,#0f2,#0f7,#0fd,#0cf,#08f,#03f,#20e,#40b,#509,#305)"></i><i style="left:424px;width:2px;background:linear-gradient(#000,#20d,#0fb,#5f0,#4f0,#3f0,#3f0,#2f0,#0f2,#0f7,#0fd,#0cf,#08f,#03f,#10e,#40b,#509,#305)"></i><i style="left:426px;width:2px;background:linear-gradient(#000,#00f,#0f8,#8f0,#7f0,#6f0,#5f0,#5f0,#0f0,#0f5,#0fb,#0df,#09f,#04f,#10e,#40b,#509,#306)"></i><i style="left:428px;width:2px;background:linear-gradient(#000,#01f,#0f8,#7f0,#6f0,#5f0,#4f0,#4f0,#0f1,#0f6,#0fc,#0df,#08f,#04f,#10e,#40b,#509,#306)"></i><i style="left:430px;width:2px;background:linear-gradient(#000,#01f,#0f9,#4f0,#3f0,#2f0,#1f0,#1f0,#0f3,#0f8,#0fe,#0bf,#07f,#03f,#10e,#40b,#509,#306)"></i><i style="left:432px;width:2px;background:linear-gradient(#000,#02f,#0f9,#4f0,#3f0,#2f0,#1f0,#0f0,#0f4,#0f8,#0fe,#0bf,#07f,#03f,#10e,#40b,#509,#306)"></i><i style="left:434px;width:2px;background:linear-gradient(#000,#04f,#0f8,#5f0,#3f0,#2f0,#1f0,#0f0,#0f3,#0f8,#0fe,#0bf,#08f,#04f,#10e,#40b,#509,#306)"></i><i style="left:436px;width:2px;background:linear-gradient(#000,#06f,#0f4,#9f0,#7f0,#6f0,#5f0,#4f0,#0f0,#0f5,#0fb,#0df,#09f,#05f,#10e,#30c,#609,#406)"></i><i style="left:438px;width:2px;background:linear-gradient(#000,#07f,#0f4,#9f0,#7f0,#5f0,#4f0,#3f0,#0f1,#0f6,#0fc,#0df,#09f,#05f,#10e,#30c,#609,#406)"></i><i style="left:440px;width:2px;background:linear-gradient(#000,#07f,#0f6,#5f0,#3f0,#2f0,#1f0,#0f0,#0f4,#0f8,#0fe,#0cf,#08f,#04f,#10e,#40b,#509,#406)"></i><i style="left:442px;width:2px;background:linear-gradient(#000,#0af,#0f2,#9f0,#7f0,#5f0,#4f0,#3f0,#0f1,#0f5,#0fb,#0df,#09f,#05f,#00f,#30c,#609,#406)"></i><i style="left:444px;width:2px;background:linear-gradient(#000,#0bf,#0f1,#af0,#8f0,#6f0,#5f0,#4f0,#0f0,#0f5,#0fb,#0df,#09f,#05f,#00f,#30c,#609,#406)"></i><i style="left:446px;width:2px;background:linear-gradient(#000,#0cf,#0f1,#9f0,#6f0,#5f0,#4f0,#3f0,#0f1,#0f6,#0fc,#0df,#09f,#05f,#00f,#30c,#609,#406)"></i><i style="left:448px;width:2px;background:linear-gradient(#000,#0cf,#0f1,#8f0,#6f0,#4f0,#3f0,#2f0,#0f2,#0f7,#0fc,#0df,#09f,#05f,#00f,#30c,#609,#406)"></i><i style="left:450px;width:2px;background:linear-gradient(#000,#0ef,#1f0,#af0,#7f0,#5f0,#4f0,#3f0,#0f1,#0f5,#0fb,#0df,#09f,#06f,#00f,#30c,#60a,#406)"></i><i style="left:452px;width:2px;background:linear-gradient(#000,#0ff,#1f0,#9f0,#6f0,#4f0,#3f0,#1f0,#0f2,#0f7,#0fc,#0df,#09f,#05f,#00f,#30c,#609,#406)"></i><i style="left:454px;width:2px;background:linear-gradient(#000,#0fe,#2f0,#9f0,#6f0,#4f0,#2f0,#1f0,#0f2,#0f7,#0fc,#0df,#09f,#05f,#00f,#30c,#609,#406)"></i><i style="left:456px;width:2px;background:linear-gradient(#000,#0f8,#8f0,#ff0,#bf0,#9f0,#8f0,#6f0,#2f0,#0f3,#0f9,#0ff,#0bf,#07f,#01f,#20d,#50a,#406)"></i><i style="left:458px;width:2px;background:linear-gradient(#000,#0f8,#7f0,#df0,#af0,#7f0,#6f0,#4f0,#1f0,#0f4,#0fa,#0ef,#0af,#07f,#01f,#20d,#50a,#406)"></i><i style="left:460px;width:2px;background:linear-gradient(#000,#0f6,#7f0,#df0,#9f0,#7f0,#5f0,#4f0,#0f0,#0f4,#0fa,#0ef,#0af,#06f,#01f,#20d,#50a,#406)"></i><i style="left:462px;width:2px;background:linear-gradient(#000,#0f3,#af0,#ff0,#bf0,#9f0,#7f0,#6f0,#2f0,#0f3,#0f9,#0ff,#0bf,#07f,#02f,#20d,#50a,#407)"></i><i style="left:464px;width:2px;background:linear-gradient(#000,#0f3,#9f0,#df0,#9f0,#6f0,#5f0,#3f0,#0f0,#0f5,#0fb,#0ef,#0af,#07f,#01f,#20d,#50a,#407)"></i><i style="left:466px;width:2px;background:linear-gradient(#000,#0f0,#cf0,#fe0,#bf0,#8f0,#7f0,#5f0,#2f0,#0f3,#0f9,#0ff,#0bf,#07f,#02f,#20d,#50a,#407)"></i><i style="left:468px;width:2px;background:linear-gradient(#000,#2f0,#df0,#fe0,#bf0,#8f0,#6f0,#5f0,#1f0,#0f3,#0f9,#0ff,#0bf,#07f,#02f,#20d,#50a,#407)"></i><i style="left:470px;width:2px;background:linear-gradient(#000,#1f0,#af0,#cf0,#8f0,#5f0,#3f0,#1f0,#0f2,#0f6,#0fb,#0ef,#0af,#07f,#01f,#20d,#50a,#407)"></i><i style="left:472px;width:2px;background:linear-gradient(#000,#4f0,#df0,#ef0,#9f0,#6f0,#4f0,#3f0,#0f1,#0f5,#0fa,#0ef,#0bf,#07f,#02f,#20d,#50a,#407)"></i><i style="left:474px;width:2px;background:linear-gradient(#000,#7f0,#ff0,#fe0,#af0,#7f0,#6f0,#4f0,#0f0,#0f4,#0fa,#0ff,#0bf,#08f,#02f,#20d,#50a,#407)"></i><i style="left:476px;width:2px;background:linear-gradient(#000,#af0,#fd0,#fe0,#bf0,#8f0,#6f0,#4f0,#1f0,#0f3,#0f9,#0fe,#0bf,#08f,#02f,#20d,#50a,#407)"></i><i style="left:478px;width:2px;background:linear-gradient(#000,#ef0,#fb0,#fc0,#df0,#af0,#8f0,#5f0,#2f0,#0f2,#0f8,#0fd,#0cf,#09f,#03f,#10e,#40b,#407)"></i><i style="left:480px;width:2px;background:linear-gradient(#000,#cf0,#fd0,#ff0,#af0,#6f0,#4f0,#2f0,#0f1,#0f5,#0fa,#0ff,#0bf,#08f,#02f,#20d,#50a,#407)"></i><i style="left:482px;width:2px;background:linear-gradient(#000,#df0,#fd0,#ff0,#9f0,#5f0,#4f0,#1f0,#0f1,#0f5,#0fb,#0ff,#0bf,#07f,#02f,#20d,#50a,#407)"></i><i style="left:484px;width:2px;background:linear-gradient(#000,#cf0,#ff0,#cf0,#6f0,#2f0,#1f0,#0f1,#0f4,#0f8,#0fd,#0df,#0af,#07f,#01f,#20d,#50a,#407)"></i><i style="left:486px;width:2px;background:linear-gradient(#000,#fd0,#fc0,#ff0,#9f0,#5f0,#3f0,#1f0,#0f1,#0f5,#0fb,#0ff,#0bf,#08f,#02f,#20d,#50a,#407)"></i><i style="left:488px;width:2px;background:linear-gradient(#000,#ef0,#fe0,#cf0,#6f0,#2f0,#1f0,#0f2,#0f4,#0f8,#0fd,#0df,#0af,#07f,#01f,#20d,#50a,#407)"></i><i style="left:490px;width:2px;background:linear-gradient(#000,#ef0,#fe0,#df0,#6f0,#3f0,#1f0,#0f1,#0f4,#0f7,#0fc,#0ef,#0af,#07f,#02f,#20d,#50a,#407)"></i><i style="left:492px;width:2px;background:linear-gradient(#000,#ff0,#fd0,#df0,#7f0,#3f0,#2f0,#0f1,#0f3,#0f7,#0fc,#0ef,#0af,#07f,#02f,#20d,#50a,#407)"></i><i style="left:494px;width:2px;background:linear-gradient(#000,#fe0,#fc0,#ff0,#9f0,#5f0,#3f0,#1f0,#0f2,#0f6,#0fb,#0ef,#0bf,#08f,#02f,#20d,#50a,#407)"></i><i style="left:496px;width:2px;background:linear-gradient(#000,#ef0,#fe0,#cf0,#6f0,#2f0,#1f0,#0f2,#0f4,#0f8,#0fd,#0df,#0af,#07f,#01f,#20d,#50a,#407)"></i><i style="left:498px;width:2px;background:linear-gradient(#000,#fe0,#fc0,#ff0,#8f0,#5f0,#3f0,#1f0,#0f2,#0f6,#0fb,#0ef,#0bf,#07f,#02f,#20d,#50a,#407)"></i><i style="left:500px;width:2px;background:linear-gradient(#000,#ef0,#fe0,#cf0,#6f0,#3f0,#1f0,#0f1,#0f4,#0f8,#0fd,#0df,#0af,#07f,#02f,#20d,#50a,#407)"></i><i style="left:502px;width:2px;background:linear-gradient(#000,#ef0,#fe0,#cf0,#6f0,#3f0,#1f0,#0f1,#0f4,#0f7,#0fc,#0df,#0af,#07f,#02f,#20d,#50a,#407)"></i><i style="left:504px;width:2px;background:linear-gradient(#000,#ef0,#fe0,#cf0,#6f0,#3f0,#1f0,#0f1,#0f4,#0f7,#0fc,#0df,#0af,#07f,#02f,#20d,#50a,#407)"></i><i style="left:506px;width:2px;background:linear-gradient(#000,#bf0,#df0,#9f0,#4f0,#0f0,#0f2,#0f4,#0f6,#0f9,#0fe,#0cf,#09f,#06f,#01f,#20d,#50a,#407)"></i><i style="left:508px;width:2px;background:linear-gradient(#000,#df0,#ff0,#cf0,#6f0,#2f0,#0f0,#0f2,#0f4,#0f8,#0fd,#0df,#0af,#07f,#01f,#20d,#50a,#407)"></i><i style="left:510px;width:2px;background:linear-gradient(#000,#cf0,#ef0,#af0,#4f0,#1f0,#0f1,#0f3,#0f5,#0f9,#0fe,#0df,#09f,#06f,#01f,#20d,#50a,#407)"></i><i style="left:512px;width:2px;background:linear-gradient(#000,#bf0,#df0,#9f0,#4f0,#0f0,#0f2,#0f4,#0f6,#0f9,#0fe,#0cf,#09f,#06f,#01f,#20d,#50a,#407)"></i><i style="left:514px;width:2px;background:linear-gradient(#000,#ff0,#fd0,#ef0,#8f0,#4f0,#2f0,#0f0,#0f3,#0f6,#0fc,#0ef,#0af,#07f,#02f,#20d,#50a,#407)"></i><i style="left:516px;width:2px;background:linear-gradient(#000,#cf0,#ef0,#af0,#4f0,#1f0,#0f1,#0f3,#0f5,#0f9,#0fe,#0df,#09f,#06f,#01f,#20d,#50a,#407)"></i><i style="left:518px;width:2px;background:linear-gradient(#000,#ef0,#fe0,#cf0,#6f0,#2f0,#1f0,#0f2,#0f4,#0f8,#0fd,#0df,#0af,#07f,#01f,#20d,#50a,#407)"></i><i style="left:520px;width:2px;background:linear-gradient(#000,#ff0,#fd0,#ef0,#7f0,#4f0,#2f0,#0f0,#0f3,#0f7,#0fc,#0ef,#0af,#07f,#02f,#20d,#50a,#407)"></i><i style="left:522px;width:2px;background:linear-gradient(#000,#ef0,#fe0,#df0,#6f0,#3f0,#1f0,#0f1,#0f4,#0f7,#0fc,#0df,#0af,#07f,#02f,#20d,#50a,#407)"></i><i style="left:524px;width:2px;background:linear-gradient(#000,#df0,#ff0,#bf0,#5f0,#2f0,#0f0,#0f2,#0f5,#0f8,#0fd,#0df,#0af,#07f,#01f,#20d,#50a,#407)"></i><i style="left:526px;width:2px;background:linear-gradient(#000,#ef0,#fe0,#cf0,#6f0,#3f0,#1f0,#0f1,#0f4,#0f8,#0fc,#0df,#0af,#07f,#02f,#20d,#50a,#407)"></i><i style="left:528px;width:2px;background:linear-gradient(#000,#ef0,#fe0,#df0,#6f0,#3f0,#1f0,#0f1,#0f4,#0f7,#0fc,#0df,#0af,#07f,#02f,#20d,#50a,#407)"></i><i style="left:530px;width:2px;background:linear-gradient(#000,#ff0,#fd0,#ef0,#8f0,#4f0,#2f0,#0f0,#0f3,#0f6,#0fc,#0ef,#0af,#07f,#02f,#20d,#50a,#407)"></i><i style="left:532px;width:2px;background:linear-gradient(#000,#bf0,#ef0,#af0,#4f0,#1f0,#0f1,#0f3,#0f6,#0f9,#0fe,#0cf,#09f,#06f,#01f,#20d,#50a,#407)"></i><i style="left:534px;width:2px;background:linear-gradient(#000,#ef0,#fe0,#df0,#6f0,#3f0,#1f0,#0f1,#0f4,#0f7,#0fc,#0ef,#0af,#07f,#02f,#20d,#50a,#407)"></i><i style="left:536px;width:2px;background:linear-gradient(#000,#cf0,#ef0,#bf0,#5f0,#1f0,#0f0,#0f3,#0f5,#0f9,#0fd,#0df,#09f,#06f,#01f,#20d,#50a,#407)"></i><i style="left:538px;width:2px;background:linear-gradient(#000,#cf0,#ff0,#bf0,#5f0,#1f0,#0f0,#0f2,#0f5,#0f8,#0fd,#0df,#09f,#06f,#01f,#20d,#50a,#407)"></i><i style="left:540px;width:2px;background:linear-gradient(#000,#ff0,#fd0,#ef0,#8f0,#4f0,#2f0,#0f0,#0f3,#0f7,#0fc,#0ef,#0af,#07f,#02f,#20d,#50a,#407)"></i><i style="left:542px;width:2px;background:linear-gradient(#000,#ef0,#fe0,#cf0,#6f0,#3f0,#1f0,#0f1,#0f4,#0f7,#0fc,#0df,#0af,#07f,#02f,#20d,#50a,#407)"></i><i style="left:544px;width:2px;background:linear-gradient(#000,#ef0,#fe0,#df0,#7f0,#3f0,#1f0,#0f1,#0f3,#0f7,#0fc,#0ef,#0af,#07f,#02f,#20d,#50a,#407)"></i><i style="left:546px;width:2px;background:linear-gradient(#000,#ff0,#fd0,#ef0,#8f0,#4f0,#2f0,#0f0,#0f3,#0f6,#0fc,#0ef,#0af,#07f,#02f,#20d,#50a,#407)"></i><i style="left:548px;width:2px;background:linear-gradient(#000,#fe0,#fc0,#ff0,#9f0,#5f0,#3f0,#1f0,#0f2,#0f6,#0fb,#0ef,#0bf,#08f,#02f,#20d,#50a,#407)"></i><i style="left:550px;width:2px;background:linear-gradient(#000,#ef0,#fe0,#cf0,#6f0,#3f0,#1f0,#0f1,#0f4,#0f7,#0fc,#0df,#0af,#07f,#02f,#20d,#50a,#407)"></i><i style="left:552px;width:2px;background:linear-gradient(#000,#ff0,#fd0,#df0,#7f0,#4f0,#2f0,#0f0,#0f3,#0f7,#0fc,#0ef,#0af,#07f,#02f,#20d,#50a,#407)"></i><i style="left:554px;width:2px;background:linear-gradient(#000,#ff0,#fe0,#df0,#7f0,#3f0,#1f0,#0f1,#0f3,#0f7,#0fc,#0ef,#0af,#07f,#02f,#20d,#50a,#407)"></i><i style="left:556px;width:2px;background:linear-gradient(#000,#ff0,#fe0,#df0,#7f0,#3f0,#1f0,#0f1,#0f3,#0f7,#0fc,#0ef,#0af,#07f,#02f,#20d,#50a,#407)"></i><i style="left:558px;width:2px;background:linear-gradient(#000,#fe0,#fd0,#ef0,#8f0,#4f0,#2f0,#0f0,#0f2,#0f6,#0fb,#0ef,#0bf,#07f,#02f,#20d,#50a,#407)"></i><i style="left:560px;width:2px;background:linear-gradient(#000,#ef0,#fe0,#df0,#7f0,#3f0,#1f0,#0f1,#0f3,#0f7,#0fc,#0ef,#0af,#07f,#02f,#20d,#50a,#407)"></i><i style="left:562px;width:2px;background:linear-gradient(#000,#ff0,#fd0,#df0,#7f0,#4f0,#2f0,#0f0,#0f3,#0f7,#0fc,#0ef,#0af,#07f,#02f,#20d,#50a,#407)"></i><i style="left:564px;width:2px;background:linear-gradient(#000,#ff0,#fd0,#df0,#7f0,#3f0,#2f0,#0f1,#0f3,#0f7,#0fc,#0ef,#0af,#07f,#02f,#20d,#50a,#407)"></i><i style="left:566px;width:2px;background:linear-gradient(#000,#fd0,#fb0,#fe0,#af0,#6f0,#4f0,#2f0,#0f1,#0f5,#0fa,#0ff,#0bf,#08f,#03f,#20d,#50a,#407)"></i><i style="left:568px;width:2px;background:linear-gradient(#000,#fe0,#fc0,#ff0,#8f0,#5f0,#3f0,#0f0,#0f2,#0f6,#0fb,#0ef,#0bf,#07f,#02f,#20d,#50a,#407)"></i><i style="left:570px;width:2px;background:linear-gradient(#000,#fd0,#fb0,#fe0,#9f0,#6f0,#4f0,#1f0,#0f1,#0f5,#0fa,#0ff,#0bf,#08f,#02f,#20d,#50a,#407)"></i><i style="left:572px;width:2px;background:linear-gradient(#000,#fd0,#fb0,#fe0,#af0,#6f0,#4f0,#2f0,#0f1,#0f5,#0fa,#0ff,#0bf,#08f,#03f,#20d,#50a,#407)"></i><i style="left:574px;width:2px;background:linear-gradient(#000,#ef0,#fe0,#cf0,#6f0,#3f0,#1f0,#0f1,#0f4,#0f7,#0fc,#0df,#0af,#07f,#02f,#20d,#50a,#407)"></i><i style="left:576px;width:2px;background:linear-gradient(#000,#fe0,#fd0,#ef0,#8f0,#4f0,#2f0,#0f0,#0f2,#0f6,#0fb,#0ef,#0bf,#07f,#02f,#20d,#50a,#407)"></i><i style="left:578px;width:2px;background:linear-gradient(#000,#fc0,#fb0,#fe0,#af0,#6f0,#4f0,#2f0,#0f1,#0f5,#0fa,#0ff,#0bf,#08f,#03f,#20d,#50a,#407)"></i><i style="left:580px;width:2px;background:linear-gradient(#000,#fd0,#fb0,#fe0,#af0,#6f0,#4f0,#2f0,#0f1,#0f5,#0fa,#0ff,#0bf,#08f,#03f,#20d,#50a,#407)"></i><i style="left:582px;width:2px;background:linear-gradient(#000,#ef0,#fe0,#cf0,#6f0,#2f0,#1f0,#0f2,#0f4,#0f8,#0fd,#0df,#0af,#07f,#01f,#20d,#50a,#407)"></i><i style="left:584px;width:2px;background:linear-gradient(#000,#ef0,#fe0,#cf0,#6f0,#2f0,#1f0,#0f2,#0f4,#0f8,#0fd,#0df,#0af,#07f,#01f,#20d,#50a,#407)"></i><i style="left:586px;width:2px;background:linear-gradient(#000,#fe0,#fd0,#ef0,#8f0,#4f0,#2f0,#0f0,#0f3,#0f6,#0fb,#0ef,#0af,#07f,#02f,#20d,#50a,#407)"></i><i style="left:588px;width:2px;background:linear-gradient(#000,#df0,#ff0,#cf0,#6f0,#2f0,#0f0,#0f2,#0f4,#0f8,#0fd,#0df,#0af,#07f,#01f,#20d,#50a,#407)"></i><i style="left:590px;width:2px;background:linear-gradient(#000,#ff0,#fe0,#df0,#7f0,#3f0,#1f0,#0f1,#0f3,#0f7,#0fc,#0ef,#0af,#07f,#02f,#20d,#50a,#407)"></i><i style="left:592px;width:2px;background:linear-gradient(#000,#ef0,#fe0,#cf0,#6f0,#2f0,#1f0,#0f2,#0f4,#0f8,#0fd,#0df,#0af,#07f,#01f,#20d,#50a,#407)"></i><i style="left:594px;width:2px;background:linear-gradient(#000,#fd0,#fb0,#fe0,#9f0,#6f0,#4f0,#1f0,#0f1,#0f5,#0fa,#0ff,#0bf,#08f,#02f,#20d,#50a,#407)"></i><i style="left:596px;width:2px;background:linear-gradient(#000,#fd0,#fb0,#fe0,#af0,#6f0,#4f0,#2f0,#0f1,#0f5,#0fa,#0ff,#0bf,#08f,#03f,#20d,#50a,#407)"></i><i style="left:598px;width:2px;background:linear-gradient(#000,#fc0,#fa0,#fd0,#bf0,#7f0,#5f0,#3f0,#1f0,#0f3,#0f8,#0fc,#0ef,#0af,#05f,#00f,#30c,#508)"></i><i style="left:600px;width:2px;background:linear-gradient(#000,#ff0,#fe0,#df0,#7f0,#4f0,#2f0,#0f0,#0f2,#0f5,#0f9,#0fc,#0ef,#0bf,#06f,#01f,#30c,#509)"></i><i style="left:602px;width:2px;background:linear-gradient(#000,#fd0,#fb0,#fe0,#af0,#7f0,#5f0,#3f0,#1f0,#0f1,#0f4,#0f8,#0fc,#0ef,#09f,#04f,#10e,#50a)"></i><i style="left:604px;width:2px;background:linear-gradient(#000,#fd0,#fb0,#fe0,#af0,#7f0,#5f0,#4f0,#2f0,#0f0,#0f2,#0f6,#0f9,#0fe,#0bf,#06f,#00f,#50a)"></i><i style="left:606px;width:2px;background:linear-gradient(#000,#ff0,#fd0,#ef0,#8f0,#5f0,#3f0,#2f0,#1f0,#0f1,#0f3,#0f5,#0f9,#0fd,#0cf,#07f,#01f,#40b)"></i><i style="left:608px;width:2px;background:linear-gradient(#000,#fb0,#f90,#fc0,#cf0,#9f0,#7f0,#6f0,#5f0,#4f0,#3f0,#1f0,#0f3,#0f7,#0ff,#0af,#04f,#30c)"></i><i style="left:610px;width:2px;background:linear-gradient(#000,#fb0,#f90,#fc0,#df0,#af0,#8f0,#7f0,#6f0,#5f0,#4f0,#2f0,#0f1,#0f6,#0fd,#0cf,#05f,#30c)"></i><i style="left:612px;width:2px;background:linear-gradient(#000,#fe0,#fc0,#ff0,#9f0,#6f0,#5f0,#3f0,#3f0,#2f0,#1f0,#0f1,#0f4,#0f8,#0ff,#0af,#04f,#30c)"></i><i style="left:614px;width:2px;background:linear-gradient(#000,#fa0,#f80,#fc0,#df0,#af0,#8f0,#7f0,#6f0,#6f0,#5f0,#3f0,#0f1,#0f5,#0fd,#0cf,#05f,#30c)"></i><i style="left:616px;width:2px;background:linear-gradient(#000,#fd0,#fb0,#fe0,#bf0,#7f0,#6f0,#5f0,#4f0,#3f0,#2f0,#0f0,#0f3,#0f7,#0fe,#0bf,#04f,#30c)"></i><i style="left:618px;width:2px;background:linear-gradient(#000,#fc0,#fa0,#fd0,#cf0,#9f0,#7f0,#6f0,#5f0,#4f0,#3f0,#1f0,#0f2,#0f7,#0fe,#0bf,#04f,#30c)"></i><i style="left:620px;width:2px;background:linear-gradient(#000,#f90,#f70,#fa0,#ff0,#cf0,#af0,#9f0,#8f0,#7f0,#6f0,#4f0,#1f0,#0f4,#0fc,#0cf,#06f,#30c)"></i><i style="left:622px;width:2px;background:linear-gradient(#000,#f90,#f70,#fa0,#ff0,#cf0,#af0,#9f0,#8f0,#7f0,#6f0,#4f0,#0f0,#0f4,#0fc,#0cf,#05f,#30c)"></i><i style="left:624px;width:2px;background:linear-gradient(#000,#fc0,#fa0,#fd0,#cf0,#9f0,#7f0,#6f0,#5f0,#4f0,#3f0,#1f0,#0f2,#0f7,#0fe,#0bf,#04f,#30c)"></i><i style="left:626px;width:2px;background:linear-gradient(#000,#fb0,#f90,#fc0,#df0,#af0,#8f0,#7f0,#6f0,#5f0,#4f0,#2f0,#0f1,#0f6,#0fd,#0cf,#05f,#30c)"></i><i style="left:628px;width:2px;background:linear-gradient(#000,#fb0,#f90,#fc0,#df0,#af0,#8f0,#7f0,#6f0,#5f0,#4f0,#2f0,#0f1,#0f6,#0fd,#0cf,#05f,#30c)"></i><i style="left:630px;width:2px;background:linear-gradient(#000,#fc0,#fa0,#fd0,#bf0,#8f0,#7f0,#5f0,#5f0,#4f0,#3f0,#1f0,#0f2,#0f7,#0fe,#0bf,#04f,#30c)"></i><i style="left:632px;width:1px;background:linear-gradient(#000,#fd0,#fb0,#fe0,#af0,#7f0,#6f0,#4f0,#4f0,#3f0,#2f0,#0f0,#0f3,#0f8,#0ff,#0bf,#04f,#30c)"></i></div><div class="sp" style="left:59px;top:396px;width:633px;height:59px;background:#000"><i style="left:0px;width:6px;background:linear-gradient(#00f 0% 12.71%,#00f 12.71% 33.05%,#08f 33.05% 43.22%,#0af 43.22% 51.69%,#0ef 51.69% 60.17%,#0af 60.17% 67.8%,#00f 67.8% 74.58%,#07f 74.58% 82.2%,#04f 82.2% 90.68%,#0fa 90.68% 96.61%,#0fe 96.61% 100%)"></i><i style="left:6px;width:5px;background:linear-gradient(#00f 0% 12.71%,#00f 12.71% 33.05%,#00f 33.05% 43.22%,#00f 43.22% 51.69%,#08f 51.69% 60.17%,#00f 60.17% 67.8%,#0bf 67.8% 74.58%,#01f 74.58% 82.2%,#03f 82.2% 90.68%,#0fa 90.68% 96.61%,#0fd 96.61% 100%)"></i><i style="left:11px;width:6px;background:linear-gradient(#00f 0% 12.71%,#06f 12.71% 33.05%,#00f 33.05% 43.22%,#00f 43.22% 51.69%,#00f 51.69% 60.17%,#00f 60.17% 67.8%,#0bf 67.8% 74.58%,#0cf 74.58% 82.2%,#09f 82.2% 90.68%,#0bf 90.68% 96.61%,#0fd 96.61% 100%)"></i><i style="left:17px;width:5px;background:linear-gradient(#00f 0% 12.71%,#03f 12.71% 33.05%,#00f 33.05% 43.22%,#00f 43.22% 51.69%,#00f 51.69% 60.17%,#01f 60.17% 67.8%,#00f 67.8% 74.58%,#0cf 74.58% 82.2%,#0fa 82.2% 90.68%,#0fa 90.68% 96.61%,#0fd 96.61% 100%)"></i><i style="left:22px;width:6px;background:linear-gradient(#00f 0% 12.71%,#06f 12.71% 33.05%,#00f 33.05% 43.22%,#00f 43.22% 51.69%,#00f 51.69% 60.17%,#01f 60.17% 67.8%,#06f 67.8% 74.58%,#01f 74.58% 82.2%,#04f 82.2% 90.68%,#0cf 90.68% 96.61%,#0fe 96.61% 100%)"></i><i style="left:28px;width:6px;background:linear-gradient(#00f 0% 12.71%,#00f 12.71% 33.05%,#04f 33.05% 43.22%,#00f 43.22% 51.69%,#08f 51.69% 60.17%,#0fe 60.17% 67.8%,#0fd 67.8% 74.58%,#03f 74.58% 82.2%,#03f 82.2% 90.68%,#0cf 90.68% 96.61%,#0fd 96.61% 100%)"></i><i style="left:34px;width:5px;background:linear-gradient(#00f 0% 12.71%,#00f 12.71% 33.05%,#00f 33.05% 43.22%,#00f 43.22% 51.69%,#03f 51.69% 60.17%,#0fe 60.17% 67.8%,#00f 67.8% 74.58%,#00f 74.58% 82.2%,#06f 82.2% 90.68%,#0af 90.68% 96.61%,#0f6 96.61% 100%)"></i><i style="left:39px;width:6px;background:linear-gradient(#00f 0% 12.71%,#06f 12.71% 33.05%,#00f 33.05% 43.22%,#00f 43.22% 51.69%,#08f 51.69% 60.17%,#00f 60.17% 67.8%,#06f 67.8% 74.58%,#00f 74.58% 82.2%,#0fa 82.2% 90.68%,#0bf 90.68% 96.61%,#0f9 96.61% 100%)"></i><i style="left:45px;width:5px;background:linear-gradient(#00f 0% 12.71%,#00f 12.71% 33.05%,#00f 33.05% 43.22%,#00f 43.22% 51.69%,#08f 51.69% 60.17%,#01f 60.17% 67.8%,#0bf 67.8% 74.58%,#03f 74.58% 82.2%,#09f 82.2% 90.68%,#0af 90.68% 96.61%,#0f9 96.61% 100%)"></i><i style="left:50px;width:6px;background:linear-gradient(#00f 0% 12.71%,#00f 12.71% 33.05%,#00f 33.05% 43.22%,#00f 43.22% 51.69%,#00f 51.69% 60.17%,#00f 60.17% 67.8%,#02f 67.8% 74.58%,#0cf 74.58% 82.2%,#0df 82.2% 90.68%,#0cf 90.68% 96.61%,#0fd 96.61% 100%)"></i><i style="left:56px;width:6px;background:linear-gradient(#00f 0% 12.71%,#00f 12.71% 33.05%,#04f 33.05% 43.22%,#00f 43.22% 51.69%,#00f 51.69% 60.17%,#0fe 60.17% 67.8%,#02f 67.8% 74.58%,#03f 74.58% 82.2%,#04f 82.2% 90.68%,#0af 90.68% 96.61%,#0f6 96.61% 100%)"></i><i style="left:62px;width:5px;background:linear-gradient(#00f 0% 12.71%,#00f 12.71% 33.05%,#00f 33.05% 43.22%,#00f 43.22% 51.69%,#0ef 51.69% 60.17%,#00f 60.17% 67.8%,#00f 67.8% 74.58%,#0cf 74.58% 82.2%,#0df 82.2% 90.68%,#0df 90.68% 96.61%,#0fe 96.61% 100%)"></i><i style="left:67px;width:6px;background:linear-gradient(#00f 0% 12.71%,#00f 12.71% 33.05%,#00f 33.05% 43.22%,#00f 43.22% 51.69%,#0ef 51.69% 60.17%,#05f 60.17% 67.8%,#00f 67.8% 74.58%,#00f 74.58% 82.2%,#0fa 82.2% 90.68%,#0af 90.68% 96.61%,#0fb 96.61% 100%)"></i><i style="left:73px;width:5px;background:linear-gradient(#00f 0% 12.71%,#06f 12.71% 33.05%,#00f 33.05% 43.22%,#0af 43.22% 51.69%,#03f 51.69% 60.17%,#00f 60.17% 67.8%,#00f 67.8% 74.58%,#07f 74.58% 82.2%,#06f 82.2% 90.68%,#0bf 90.68% 96.61%,#0fe 96.61% 100%)"></i><i style="left:78px;width:6px;background:linear-gradient(#00f 0% 12.71%,#06f 12.71% 33.05%,#04f 33.05% 43.22%,#00f 43.22% 51.69%,#08f 51.69% 60.17%,#05f 60.17% 67.8%,#06f 67.8% 74.58%,#0fb 74.58% 82.2%,#0fa 82.2% 90.68%,#0cf 90.68% 96.61%,#0fb 96.61% 100%)"></i><i style="left:84px;width:6px;background:linear-gradient(#00f 0% 12.71%,#00f 12.71% 33.05%,#00f 33.05% 43.22%,#00f 43.22% 51.69%,#03f 51.69% 60.17%,#0af 60.17% 67.8%,#00f 67.8% 74.58%,#0fb 74.58% 82.2%,#09f 82.2% 90.68%,#0cf 90.68% 96.61%,#0fd 96.61% 100%)"></i><i style="left:90px;width:5px;background:linear-gradient(#00f 0% 12.71%,#06f 12.71% 33.05%,#04f 33.05% 43.22%,#00f 43.22% 51.69%,#00f 51.69% 60.17%,#01f 60.17% 67.8%,#0fd 67.8% 74.58%,#0cf 74.58% 82.2%,#0fa 82.2% 90.68%,#0af 90.68% 96.61%,#0fd 96.61% 100%)"></i><i style="left:95px;width:6px;background:linear-gradient(#00f 0% 12.71%,#00f 12.71% 33.05%,#00f 33.05% 43.22%,#00f 43.22% 51.69%,#00f 51.69% 60.17%,#0fe 60.17% 67.8%,#0fd 67.8% 74.58%,#03f 74.58% 82.2%,#06f 82.2% 90.68%,#0fa 90.68% 96.61%,#0fd 96.61% 100%)"></i><i style="left:101px;width:5px;background:linear-gradient(#00f 0% 12.71%,#00f 12.71% 33.05%,#00f 33.05% 43.22%,#00f 43.22% 51.69%,#0ef 51.69% 60.17%,#01f 60.17% 67.8%,#06f 67.8% 74.58%,#03f 74.58% 82.2%,#0df 82.2% 90.68%,#0fa 90.68% 96.61%,#0f6 96.61% 100%)"></i><i style="left:106px;width:6px;background:linear-gradient(#00f 0% 12.71%,#03f 12.71% 33.05%,#00f 33.05% 43.22%,#00f 43.22% 51.69%,#00f 51.69% 60.17%,#0fe 60.17% 67.8%,#06f 67.8% 74.58%,#03f 74.58% 82.2%,#06f 82.2% 90.68%,#0fe 90.68% 96.61%,#0fd 96.61% 100%)"></i><i style="left:112px;width:6px;background:linear-gradient(#00f 0% 12.71%,#03f 12.71% 33.05%,#00f 33.05% 43.22%,#00f 43.22% 51.69%,#0ef 51.69% 60.17%,#00f 60.17% 67.8%,#0fd 67.8% 74.58%,#0fb 74.58% 82.2%,#0fa 82.2% 90.68%,#0df 90.68% 96.61%,#0fd 96.61% 100%)"></i><i style="left:118px;width:5px;background:linear-gradient(#00f 0% 12.71%,#00f 12.71% 33.05%,#00f 33.05% 43.22%,#00f 43.22% 51.69%,#08f 51.69% 60.17%,#0af 60.17% 67.8%,#0fd 67.8% 74.58%,#03f 74.58% 82.2%,#0fa 82.2% 90.68%,#0af 90.68% 96.61%,#0fd 96.61% 100%)"></i><i style="left:123px;width:6px;background:linear-gradient(#00f 0% 12.71%,#00f 12.71% 33.05%,#08f 33.05% 43.22%,#00f 43.22% 51.69%,#00f 51.69% 60.17%,#0fe 60.17% 67.8%,#00f 67.8% 74.58%,#0fb 74.58% 82.2%,#0fa 82.2% 90.68%,#0af 90.68% 96.61%,#0fb 96.61% 100%)"></i><i style="left:129px;width:5px;background:linear-gradient(#00f 0% 12.71%,#03f 12.71% 33.05%,#00f 33.05% 43.22%,#00f 43.22% 51.69%,#03f 51.69% 60.17%,#00f 60.17% 67.8%,#0bf 67.8% 74.58%,#00f 74.58% 82.2%,#09f 82.2% 90.68%,#0df 90.68% 96.61%,#0fd 96.61% 100%)"></i><i style="left:134px;width:6px;background:linear-gradient(#00f 0% 12.71%,#00f 12.71% 33.05%,#04f 33.05% 43.22%,#00f 43.22% 51.69%,#00f 51.69% 60.17%,#0fe 60.17% 67.8%,#02f 67.8% 74.58%,#00f 74.58% 82.2%,#06f 82.2% 90.68%,#0df 90.68% 96.61%,#0fd 96.61% 100%)"></i><i style="left:140px;width:6px;background:linear-gradient(#00f 0% 12.71%,#00f 12.71% 33.05%,#04f 33.05% 43.22%,#00f 43.22% 51.69%,#00f 51.69% 60.17%,#0af 60.17% 67.8%,#0bf 67.8% 74.58%,#03f 74.58% 82.2%,#03f 82.2% 90.68%,#0cf 90.68% 96.61%,#0f9 96.61% 100%)"></i><i style="left:146px;width:5px;background:linear-gradient(#00f 0% 12.71%,#00f 12.71% 33.05%,#00f 33.05% 43.22%,#00f 43.22% 51.69%,#00f 51.69% 60.17%,#05f 60.17% 67.8%,#06f 67.8% 74.58%,#0cf 74.58% 82.2%,#0fa 82.2% 90.68%,#0fe 90.68% 96.61%,#0fd 96.61% 100%)"></i><i style="left:151px;width:6px;background:linear-gradient(#00f 0% 12.71%,#03f 12.71% 33.05%,#00f 33.05% 43.22%,#00f 43.22% 51.69%,#00f 51.69% 60.17%,#0af 60.17% 67.8%,#00f 67.8% 74.58%,#03f 74.58% 82.2%,#0fa 82.2% 90.68%,#0af 90.68% 96.61%,#0fb 96.61% 100%)"></i><i style="left:157px;width:5px;background:linear-gradient(#00f 0% 12.71%,#00f 12.71% 33.05%,#04f 33.05% 43.22%,#05f 43.22% 51.69%,#00f 51.69% 60.17%,#01f 60.17% 67.8%,#0fd 67.8% 74.58%,#0cf 74.58% 82.2%,#09f 82.2% 90.68%,#0df 90.68% 96.61%,#0fb 96.61% 100%)"></i><i style="left:162px;width:6px;background:linear-gradient(#00f 0% 12.71%,#00f 12.71% 33.05%,#08f 33.05% 43.22%,#00f 43.22% 51.69%,#03f 51.69% 60.17%,#00f 60.17% 67.8%,#0bf 67.8% 74.58%,#0cf 74.58% 82.2%,#06f 82.2% 90.68%,#0fa 90.68% 96.61%,#0fd 96.61% 100%)"></i><i style="left:168px;width:6px;background:linear-gradient(#00f 0% 12.71%,#00f 12.71% 33.05%,#00f 33.05% 43.22%,#00f 43.22% 51.69%,#03f 51.69% 60.17%,#01f 60.17% 67.8%,#00f 67.8% 74.58%,#07f 74.58% 82.2%,#03f 82.2% 90.68%,#0af 90.68% 96.61%,#0f6 96.61% 100%)"></i><i style="left:174px;width:5px;background:linear-gradient(#00f 0% 12.71%,#03f 12.71% 33.05%,#00f 33.05% 43.22%,#00f 43.22% 51.69%,#00f 51.69% 60.17%,#05f 60.17% 67.8%,#0bf 67.8% 74.58%,#0cf 74.58% 82.2%,#06f 82.2% 90.68%,#0bf 90.68% 96.61%,#0fb 96.61% 100%)"></i><i style="left:179px;width:6px;background:linear-gradient(#00f 0% 12.71%,#00f 12.71% 33.05%,#00f 33.05% 43.22%,#0af 43.22% 51.69%,#00f 51.69% 60.17%,#01f 60.17% 67.8%,#06f 67.8% 74.58%,#0cf 74.58% 82.2%,#09f 82.2% 90.68%,#0fe 90.68% 96.61%,#0f6 96.61% 100%)"></i><i style="left:185px;width:5px;background:linear-gradient(#00f 0% 12.71%,#00f 12.71% 33.05%,#00f 33.05% 43.22%,#00f 43.22% 51.69%,#00f 51.69% 60.17%,#01f 60.17% 67.8%,#0bf 67.8% 74.58%,#0fb 74.58% 82.2%,#06f 82.2% 90.68%,#0fe 90.68% 96.61%,#0fd 96.61% 100%)"></i><i style="left:190px;width:6px;background:linear-gradient(#00f 0% 12.71%,#03f 12.71% 33.05%,#08f 33.05% 43.22%,#0af 43.22% 51.69%,#08f 51.69% 60.17%,#00f 60.17% 67.8%,#00f 67.8% 74.58%,#00f 74.58% 82.2%,#06f 82.2% 90.68%,#0fe 90.68% 96.61%,#0fb 96.61% 100%)"></i><i style="left:196px;width:6px;background:linear-gradient(#00f 0% 12.71%,#00f 12.71% 33.05%,#04f 33.05% 43.22%,#00f 43.22% 51.69%,#00f 51.69% 60.17%,#05f 60.17% 67.8%,#06f 67.8% 74.58%,#0cf 74.58% 82.2%,#0df 82.2% 90.68%,#0fa 90.68% 96.61%,#0f6 96.61% 100%)"></i><i style="left:202px;width:5px;background:linear-gradient(#00f 0% 12.71%,#00f 12.71% 33.05%,#00f 33.05% 43.22%,#00f 43.22% 51.69%,#03f 51.69% 60.17%,#0fe 60.17% 67.8%,#0fd 67.8% 74.58%,#01f 74.58% 82.2%,#06f 82.2% 90.68%,#0df 90.68% 96.61%,#0fe 96.61% 100%)"></i><i style="left:207px;width:6px;background:linear-gradient(#00f 0% 12.71%,#00f 12.71% 33.05%,#00f 33.05% 43.22%,#05f 43.22% 51.69%,#00f 51.69% 60.17%,#0fe 60.17% 67.8%,#06f 67.8% 74.58%,#03f 74.58% 82.2%,#04f 82.2% 90.68%,#0bf 90.68% 96.61%,#0fb 96.61% 100%)"></i><i style="left:213px;width:5px;background:linear-gradient(#00f 0% 12.71%,#00f 12.71% 33.05%,#00f 33.05% 43.22%,#05f 43.22% 51.69%,#00f 51.69% 60.17%,#05f 60.17% 67.8%,#0bf 67.8% 74.58%,#0cf 74.58% 82.2%,#03f 82.2% 90.68%,#0af 90.68% 96.61%,#0f6 96.61% 100%)"></i><i style="left:218px;width:6px;background:linear-gradient(#00f 0% 12.71%,#00f 12.71% 33.05%,#00f 33.05% 43.22%,#0af 43.22% 51.69%,#00f 51.69% 60.17%,#01f 60.17% 67.8%,#0fd 67.8% 74.58%,#07f 74.58% 82.2%,#03f 82.2% 90.68%,#0df 90.68% 96.61%,#0f6 96.61% 100%)"></i><i style="left:224px;width:6px;background:linear-gradient(#00f 0% 12.71%,#03f 12.71% 33.05%,#04f 33.05% 43.22%,#0af 43.22% 51.69%,#00f 51.69% 60.17%,#0fe 60.17% 67.8%,#00f 67.8% 74.58%,#03f 74.58% 82.2%,#0fa 82.2% 90.68%,#0df 90.68% 96.61%,#0fd 96.61% 100%)"></i><i style="left:230px;width:5px;background:linear-gradient(#00f 0% 12.71%,#06f 12.71% 33.05%,#00f 33.05% 43.22%,#05f 43.22% 51.69%,#00f 51.69% 60.17%,#00f 60.17% 67.8%,#0bf 67.8% 74.58%,#00f 74.58% 82.2%,#0fa 82.2% 90.68%,#0ef 90.68% 96.61%,#0f5 96.61% 100%)"></i><i style="left:235px;width:6px;background:linear-gradient(#00f 0% 12.71%,#03f 12.71% 33.05%,#08f 33.05% 43.22%,#01f 43.22% 51.69%,#09f 51.69% 60.17%,#00f 60.17% 67.8%,#00f 67.8% 74.58%,#08f 74.58% 82.2%,#04f 82.2% 90.68%,#0df 90.68% 96.61%,#0f4 96.61% 100%)"></i><i style="left:241px;width:5px;background:linear-gradient(#00f 0% 12.71%,#00f 12.71% 33.05%,#08f 33.05% 43.22%,#00f 43.22% 51.69%,#00f 51.69% 60.17%,#00f 60.17% 67.8%,#0fb 67.8% 74.58%,#06f 74.58% 82.2%,#07f 82.2% 90.68%,#0fb 90.68% 96.61%,#0f3 96.61% 100%)"></i><i style="left:246px;width:6px;background:linear-gradient(#00f 0% 12.71%,#00f 12.71% 33.05%,#05f 33.05% 43.22%,#06f 43.22% 51.69%,#0af 51.69% 60.17%,#01f 60.17% 67.8%,#04f 67.8% 74.58%,#03f 74.58% 82.2%,#0fd 82.2% 90.68%,#0ef 90.68% 96.61%,#0f9 96.61% 100%)"></i><i style="left:252px;width:6px;background:linear-gradient(#00f 0% 12.71%,#00f 12.71% 33.05%,#00f 33.05% 43.22%,#00f 43.22% 51.69%,#06f 51.69% 60.17%,#0fb 60.17% 67.8%,#08f 67.8% 74.58%,#05f 74.58% 82.2%,#09f 82.2% 90.68%,#0f4 90.68% 96.61%,#0f9 96.61% 100%)"></i><i style="left:258px;width:5px;background:linear-gradient(#00f 0% 12.71%,#03f 12.71% 33.05%,#00f 33.05% 43.22%,#00f 43.22% 51.69%,#0bf 51.69% 60.17%,#0df 60.17% 67.8%,#09f 67.8% 74.58%,#06f 74.58% 82.2%,#0ef 82.2% 90.68%,#0fa 90.68% 96.61%,#0f5 96.61% 100%)"></i><i style="left:263px;width:6px;background:linear-gradient(#00f 0% 12.71%,#00f 12.71% 33.05%,#00f 33.05% 43.22%,#08f 43.22% 51.69%,#0fd 51.69% 60.17%,#08f 60.17% 67.8%,#03f 67.8% 74.58%,#07f 74.58% 82.2%,#0ff 82.2% 90.68%,#0f2 90.68% 96.61%,#0f6 96.61% 100%)"></i><i style="left:269px;width:5px;background:linear-gradient(#00f 0% 12.71%,#06f 12.71% 33.05%,#02f 33.05% 43.22%,#00f 43.22% 51.69%,#03f 51.69% 60.17%,#0f9 60.17% 67.8%,#0ff 67.8% 74.58%,#0df 74.58% 82.2%,#0df 82.2% 90.68%,#0fb 90.68% 96.61%,#0f4 96.61% 100%)"></i><i style="left:274px;width:6px;background:linear-gradient(#00f 0% 12.71%,#00f 12.71% 33.05%,#02f 33.05% 43.22%,#05f 43.22% 51.69%,#03f 51.69% 60.17%,#0f8 60.17% 67.8%,#08f 67.8% 74.58%,#0f2 74.58% 82.2%,#0ef 82.2% 90.68%,#1f0 90.68% 96.61%,#0f1 96.61% 100%)"></i><i style="left:280px;width:6px;background:linear-gradient(#00f 0% 12.71%,#06f 12.71% 33.05%,#00f 33.05% 43.22%,#0ef 43.22% 51.69%,#04f 51.69% 60.17%,#0af 60.17% 67.8%,#05f 67.8% 74.58%,#08f 74.58% 82.2%,#0df 82.2% 90.68%,#0f9 90.68% 96.61%,#0f2 96.61% 100%)"></i><i style="left:286px;width:5px;background:linear-gradient(#00f 0% 12.71%,#06f 12.71% 33.05%,#02f 33.05% 43.22%,#0ef 43.22% 51.69%,#06f 51.69% 60.17%,#04f 60.17% 67.8%,#0cf 67.8% 74.58%,#0ff 74.58% 82.2%,#0fd 82.2% 90.68%,#0f1 90.68% 96.61%,#1f0 96.61% 100%)"></i><i style="left:291px;width:6px;background:linear-gradient(#00f 0% 12.71%,#00f 12.71% 33.05%,#00f 33.05% 43.22%,#02f 43.22% 51.69%,#0f9 51.69% 60.17%,#06f 60.17% 67.8%,#07f 67.8% 74.58%,#0df 74.58% 82.2%,#0f8 82.2% 90.68%,#0f2 90.68% 96.61%,#0f0 96.61% 100%)"></i><i style="left:297px;width:5px;background:linear-gradient(#00f 0% 12.71%,#06f 12.71% 33.05%,#01f 33.05% 43.22%,#0ff 43.22% 51.69%,#06f 51.69% 60.17%,#05f 60.17% 67.8%,#0df 67.8% 74.58%,#0bf 74.58% 82.2%,#0fb 82.2% 90.68%,#0f3 90.68% 96.61%,#2f0 96.61% 100%)"></i><i style="left:302px;width:6px;background:linear-gradient(#00f 0% 12.71%,#03f 12.71% 33.05%,#00f 33.05% 43.22%,#02f 43.22% 51.69%,#0f8 51.69% 60.17%,#09f 60.17% 67.8%,#0bf 67.8% 74.58%,#0fc 74.58% 82.2%,#7f0 82.2% 90.68%,#0f3 90.68% 96.61%,#af0 96.61% 100%)"></i><i style="left:308px;width:6px;background:linear-gradient(#00f 0% 12.71%,#03f 12.71% 33.05%,#00f 33.05% 43.22%,#0fe 43.22% 51.69%,#06f 51.69% 60.17%,#0fc 60.17% 67.8%,#0ff 67.8% 74.58%,#4f0 74.58% 82.2%,#0f8 82.2% 90.68%,#9f0 90.68% 96.61%,#5f0 96.61% 100%)"></i><i style="left:314px;width:5px;background:linear-gradient(#00f 0% 12.71%,#00f 12.71% 33.05%,#00f 33.05% 43.22%,#0fd 43.22% 51.69%,#0f7 51.69% 60.17%,#0df 60.17% 67.8%,#0af 67.8% 74.58%,#0ef 74.58% 82.2%,#0f9 82.2% 90.68%,#af0 90.68% 96.61%,#5f0 96.61% 100%)"></i><i style="left:319px;width:6px;background:linear-gradient(#00f 0% 12.71%,#00f 12.71% 33.05%,#0bf 33.05% 43.22%,#06f 43.22% 51.69%,#07f 51.69% 60.17%,#0ef 60.17% 67.8%,#0af 67.8% 74.58%,#0f8 74.58% 82.2%,#bf0 82.2% 90.68%,#4f0 90.68% 96.61%,#6f0 96.61% 100%)"></i><i style="left:325px;width:6px;background:linear-gradient(#00f 0% 12.71%,#00f 12.71% 33.05%,#08f 33.05% 43.22%,#0cf 43.22% 51.69%,#0af 51.69% 60.17%,#08f 60.17% 67.8%,#2f0 67.8% 74.58%,#0ff 74.58% 82.2%,#0f6 82.2% 90.68%,#5f0 90.68% 96.61%,#7f0 96.61% 100%)"></i><i style="left:331px;width:5px;background:linear-gradient(#00f 0% 12.71%,#00f 12.71% 33.05%,#0cf 33.05% 43.22%,#04f 43.22% 51.69%,#0df 51.69% 60.17%,#0ff 60.17% 67.8%,#0bf 67.8% 74.58%,#0fe 74.58% 82.2%,#0f3 82.2% 90.68%,#7f0 90.68% 96.61%,#bf0 96.61% 100%)"></i><i style="left:336px;width:6px;background:linear-gradient(#00f 0% 12.71%,#03f 12.71% 33.05%,#01f 33.05% 43.22%,#06f 43.22% 51.69%,#0f4 51.69% 60.17%,#0f8 60.17% 67.8%,#3f0 67.8% 74.58%,#0f5 74.58% 82.2%,#0f4 82.2% 90.68%,#bf0 90.68% 96.61%,#af0 96.61% 100%)"></i><i style="left:342px;width:5px;background:linear-gradient(#00f 0% 12.71%,#00f 12.71% 33.05%,#00f 33.05% 43.22%,#0ef 43.22% 51.69%,#0af 51.69% 60.17%,#0f8 60.17% 67.8%,#0cf 67.8% 74.58%,#af0 74.58% 82.2%,#0f2 82.2% 90.68%,#cf0 90.68% 96.61%,#af0 96.61% 100%)"></i><i style="left:347px;width:6px;background:linear-gradient(#00f 0% 12.71%,#00f 12.71% 33.05%,#05f 33.05% 43.22%,#0ef 43.22% 51.69%,#0ff 51.69% 60.17%,#0f7 60.17% 67.8%,#5f0 67.8% 74.58%,#0f9 74.58% 82.2%,#fd0 82.2% 90.68%,#6f0 90.68% 96.61%,#df0 96.61% 100%)"></i><i style="left:353px;width:6px;background:linear-gradient(#00f 0% 12.71%,#00f 12.71% 33.05%,#02f 33.05% 43.22%,#0ef 43.22% 51.69%,#0af 51.69% 60.17%,#0cf 60.17% 67.8%,#0fd 67.8% 74.58%,#0f2 74.58% 82.2%,#0f1 82.2% 90.68%,#af0 90.68% 96.61%,#fe0 96.61% 100%)"></i><i style="left:359px;width:5px;background:linear-gradient(#00f 0% 12.71%,#03f 12.71% 33.05%,#03f 33.05% 43.22%,#0fe 43.22% 51.69%,#0df 51.69% 60.17%,#0fc 60.17% 67.8%,#0f4 67.8% 74.58%,#8f0 74.58% 82.2%,#4f0 82.2% 90.68%,#cf0 90.68% 96.61%,#ff0 96.61% 100%)"></i><i style="left:364px;width:6px;background:linear-gradient(#00f 0% 12.71%,#06f 12.71% 33.05%,#04f 33.05% 43.22%,#0af 43.22% 51.69%,#0df 51.69% 60.17%,#0ef 60.17% 67.8%,#0f8 67.8% 74.58%,#0f3 74.58% 82.2%,#7f0 82.2% 90.68%,#ff0 90.68% 96.61%,#ff0 96.61% 100%)"></i><i style="left:370px;width:5px;background:linear-gradient(#00f 0% 12.71%,#00f 12.71% 33.05%,#04f 33.05% 43.22%,#0ef 43.22% 51.69%,#0df 51.69% 60.17%,#0fc 60.17% 67.8%,#0fb 67.8% 74.58%,#8f0 74.58% 82.2%,#ff0 82.2% 90.68%,#bf0 90.68% 96.61%,#fb0 96.61% 100%)"></i><i style="left:375px;width:6px;background:linear-gradient(#00f 0% 12.71%,#00f 12.71% 33.05%,#03f 33.05% 43.22%,#0bf 43.22% 51.69%,#0fa 51.69% 60.17%,#0ff 60.17% 67.8%,#0fa 67.8% 74.58%,#0f5 74.58% 82.2%,#5f0 82.2% 90.68%,#bf0 90.68% 96.61%,#ff0 96.61% 100%)"></i><i style="left:381px;width:6px;background:linear-gradient(#00f 0% 12.71%,#00f 12.71% 33.05%,#04f 33.05% 43.22%,#09f 43.22% 51.69%,#0df 51.69% 60.17%,#0f7 60.17% 67.8%,#2f0 67.8% 74.58%,#3f0 74.58% 82.2%,#3f0 82.2% 90.68%,#bf0 90.68% 96.61%,#ff0 96.61% 100%)"></i><i style="left:387px;width:5px;background:linear-gradient(#00f 0% 12.71%,#00f 12.71% 33.05%,#06f 33.05% 43.22%,#0af 43.22% 51.69%,#0fa 51.69% 60.17%,#0ef 60.17% 67.8%,#0fb 67.8% 74.58%,#3f0 74.58% 82.2%,#7f0 82.2% 90.68%,#bf0 90.68% 96.61%,#fe0 96.61% 100%)"></i><i style="left:392px;width:6px;background:linear-gradient(#00f 0% 12.71%,#00f 12.71% 33.05%,#04f 33.05% 43.22%,#0ef 43.22% 51.69%,#0fa 51.69% 60.17%,#0ff 60.17% 67.8%,#2f0 67.8% 74.58%,#0f5 74.58% 82.2%,#5f0 82.2% 90.68%,#ff0 90.68% 96.61%,#fc0 96.61% 100%)"></i><i style="left:398px;width:5px;background:linear-gradient(#00f 0% 12.71%,#00f 12.71% 33.05%,#06f 33.05% 43.22%,#0cf 43.22% 51.69%,#0fd 51.69% 60.17%,#0ff 60.17% 67.8%,#0f9 67.8% 74.58%,#0f3 74.58% 82.2%,#7f0 82.2% 90.68%,#cf0 90.68% 96.61%,#fe0 96.61% 100%)"></i><i style="left:403px;width:6px;background:linear-gradient(#00f 0% 12.71%,#03f 12.71% 33.05%,#0af 33.05% 43.22%,#0af 43.22% 51.69%,#0f9 51.69% 60.17%,#0fa 60.17% 67.8%,#0f6 67.8% 74.58%,#4f0 74.58% 82.2%,#3f0 82.2% 90.68%,#bf0 90.68% 96.61%,#ff0 96.61% 100%)"></i><i style="left:409px;width:6px;background:linear-gradient(#00f 0% 12.71%,#06f 12.71% 33.05%,#03f 33.05% 43.22%,#0ef 43.22% 51.69%,#0ef 51.69% 60.17%,#0fa 60.17% 67.8%,#3f0 67.8% 74.58%,#0f2 74.58% 82.2%,#8f0 82.2% 90.68%,#ef0 90.68% 96.61%,#ff0 96.61% 100%)"></i><i style="left:415px;width:5px;background:linear-gradient(#00f 0% 12.71%,#00f 12.71% 33.05%,#05f 33.05% 43.22%,#0ff 43.22% 51.69%,#0f9 51.69% 60.17%,#0fc 60.17% 67.8%,#0fa 67.8% 74.58%,#0f2 74.58% 82.2%,#6f0 82.2% 90.68%,#cf0 90.68% 96.61%,#fb0 96.61% 100%)"></i><i style="left:420px;width:6px;background:linear-gradient(#00f 0% 12.71%,#00f 12.71% 33.05%,#05f 33.05% 43.22%,#0af 43.22% 51.69%,#0ff 51.69% 60.17%,#0fd 60.17% 67.8%,#0f6 67.8% 74.58%,#0f0 74.58% 82.2%,#3f0 82.2% 90.68%,#bf0 90.68% 96.61%,#ff0 96.61% 100%)"></i><i style="left:426px;width:5px;background:linear-gradient(#00f 0% 12.71%,#00f 12.71% 33.05%,#05f 33.05% 43.22%,#0af 43.22% 51.69%,#0fe 51.69% 60.17%,#0f9 60.17% 67.8%,#3f0 67.8% 74.58%,#1f0 74.58% 82.2%,#bf0 82.2% 90.68%,#fe0 90.68% 96.61%,#ff0 96.61% 100%)"></i><i style="left:431px;width:6px;background:linear-gradient(#00f 0% 12.71%,#00f 12.71% 33.05%,#04f 33.05% 43.22%,#0ff 43.22% 51.69%,#0f9 51.69% 60.17%,#0f5 60.17% 67.8%,#0f1 67.8% 74.58%,#0f3 74.58% 82.2%,#8f0 82.2% 90.68%,#bf0 90.68% 96.61%,#fe0 96.61% 100%)"></i><i style="left:437px;width:6px;background:linear-gradient(#00f 0% 12.71%,#00f 12.71% 33.05%,#08f 33.05% 43.22%,#0df 43.22% 51.69%,#0f8 51.69% 60.17%,#0f9 60.17% 67.8%,#0f1 67.8% 74.58%,#9f0 74.58% 82.2%,#ff0 82.2% 90.68%,#ef0 90.68% 96.61%,#fe0 96.61% 100%)"></i><i style="left:443px;width:5px;background:linear-gradient(#00f 0% 12.71%,#00f 12.71% 33.05%,#04f 33.05% 43.22%,#0ff 43.22% 51.69%,#0ff 51.69% 60.17%,#0f9 60.17% 67.8%,#0f7 67.8% 74.58%,#5f0 74.58% 82.2%,#4f0 82.2% 90.68%,#fd0 90.68% 96.61%,#fc0 96.61% 100%)"></i><i style="left:448px;width:6px;background:linear-gradient(#00f 0% 12.71%,#00f 12.71% 33.05%,#04f 33.05% 43.22%,#0af 43.22% 51.69%,#0fe 51.69% 60.17%,#0f5 60.17% 67.8%,#0f1 67.8% 74.58%,#af0 74.58% 82.2%,#8f0 82.2% 90.68%,#df0 90.68% 96.61%,#ff0 96.61% 100%)"></i><i style="left:454px;width:5px;background:linear-gradient(#00f 0% 12.71%,#03f 12.71% 33.05%,#04f 33.05% 43.22%,#0fb 43.22% 51.69%,#0fd 51.69% 60.17%,#0fb 60.17% 67.8%,#4f0 67.8% 74.58%,#af0 74.58% 82.2%,#bf0 82.2% 90.68%,#fe0 90.68% 96.61%,#fc0 96.61% 100%)"></i><i style="left:459px;width:6px;background:linear-gradient(#00f 0% 12.71%,#00f 12.71% 33.05%,#04f 33.05% 43.22%,#0bf 43.22% 51.69%,#0fd 51.69% 60.17%,#0f4 60.17% 67.8%,#0f4 67.8% 74.58%,#1f0 74.58% 82.2%,#4f0 82.2% 90.68%,#fc0 90.68% 96.61%,#fe0 96.61% 100%)"></i><i style="left:465px;width:6px;background:linear-gradient(#00f 0% 12.71%,#00f 12.71% 33.05%,#08f 33.05% 43.22%,#0bf 43.22% 51.69%,#0f3 51.69% 60.17%,#0f4 60.17% 67.8%,#0f6 67.8% 74.58%,#1f0 74.58% 82.2%,#6f0 82.2% 90.68%,#cf0 90.68% 96.61%,#fb0 96.61% 100%)"></i><i style="left:471px;width:5px;background:linear-gradient(#00f 0% 12.71%,#00f 12.71% 33.05%,#05f 33.05% 43.22%,#0bf 43.22% 51.69%,#0ff 51.69% 60.17%,#0fb 60.17% 67.8%,#0f6 67.8% 74.58%,#0f1 74.58% 82.2%,#6f0 82.2% 90.68%,#fe0 90.68% 96.61%,#ff0 96.61% 100%)"></i><i style="left:476px;width:6px;background:linear-gradient(#00f 0% 12.71%,#00f 12.71% 33.05%,#05f 33.05% 43.22%,#0bf 43.22% 51.69%,#0f3 51.69% 60.17%,#0fc 60.17% 67.8%,#0f0 67.8% 74.58%,#5f0 74.58% 82.2%,#fe0 82.2% 90.68%,#fc0 90.68% 96.61%,#fc0 96.61% 100%)"></i><i style="left:482px;width:5px;background:linear-gradient(#00f 0% 12.71%,#00f 12.71% 33.05%,#07f 33.05% 43.22%,#0ef 43.22% 51.69%,#0f7 51.69% 60.17%,#0f3 60.17% 67.8%,#0f7 67.8% 74.58%,#0f1 74.58% 82.2%,#8f0 82.2% 90.68%,#df0 90.68% 96.61%,#ff0 96.61% 100%)"></i><i style="left:487px;width:6px;background:linear-gradient(#00f 0% 12.71%,#03f 12.71% 33.05%,#04f 33.05% 43.22%,#0cf 43.22% 51.69%,#0f7 51.69% 60.17%,#0f3 60.17% 67.8%,#1f0 67.8% 74.58%,#6f0 74.58% 82.2%,#5f0 82.2% 90.68%,#ef0 90.68% 96.61%,#ff0 96.61% 100%)"></i><i style="left:493px;width:6px;background:linear-gradient(#00f 0% 12.71%,#06f 12.71% 33.05%,#06f 33.05% 43.22%,#0fa 43.22% 51.69%,#0fe 51.69% 60.17%,#0fc 60.17% 67.8%,#0f3 67.8% 74.58%,#0f2 74.58% 82.2%,#cf0 82.2% 90.68%,#cf0 90.68% 96.61%,#fe0 96.61% 100%)"></i><i style="left:499px;width:5px;background:linear-gradient(#00f 0% 12.71%,#00f 12.71% 33.05%,#05f 33.05% 43.22%,#0fa 43.22% 51.69%,#0f7 51.69% 60.17%,#0f7 60.17% 67.8%,#0f7 67.8% 74.58%,#0f3 74.58% 82.2%,#5f0 82.2% 90.68%,#fc0 90.68% 96.61%,#ff0 96.61% 100%)"></i><i style="left:504px;width:6px;background:linear-gradient(#00f 0% 12.71%,#00f 12.71% 33.05%,#06f 33.05% 43.22%,#0fd 43.22% 51.69%,#0fe 51.69% 60.17%,#0f2 60.17% 67.8%,#0f2 67.8% 74.58%,#bf0 74.58% 82.2%,#7f0 82.2% 90.68%,#df0 90.68% 96.61%,#fb0 96.61% 100%)"></i><i style="left:510px;width:5px;background:linear-gradient(#00f 0% 12.71%,#00f 12.71% 33.05%,#04f 33.05% 43.22%,#0df 43.22% 51.69%,#0fe 51.69% 60.17%,#0fb 60.17% 67.8%,#0f6 67.8% 74.58%,#0f1 74.58% 82.2%,#7f0 82.2% 90.68%,#df0 90.68% 96.61%,#ff0 96.61% 100%)"></i><i style="left:515px;width:6px;background:linear-gradient(#00f 0% 12.71%,#00f 12.71% 33.05%,#04f 33.05% 43.22%,#0cf 43.22% 51.69%,#0fa 51.69% 60.17%,#0f2 60.17% 67.8%,#0f2 67.8% 74.58%,#2f0 74.58% 82.2%,#5f0 82.2% 90.68%,#cf0 90.68% 96.61%,#fc0 96.61% 100%)"></i><i style="left:521px;width:6px;background:linear-gradient(#00f 0% 12.71%,#00f 12.71% 33.05%,#07f 33.05% 43.22%,#0ff 43.22% 51.69%,#0fc 51.69% 60.17%,#3f0 60.17% 67.8%,#0f6 67.8% 74.58%,#3f0 74.58% 82.2%,#fe0 82.2% 90.68%,#fc0 90.68% 96.61%,#fe0 96.61% 100%)"></i><i style="left:527px;width:5px;background:linear-gradient(#00f 0% 12.71%,#00f 12.71% 33.05%,#06f 33.05% 43.22%,#0f9 43.22% 51.69%,#0fd 51.69% 60.17%,#0f8 60.17% 67.8%,#0f1 67.8% 74.58%,#0f1 74.58% 82.2%,#7f0 82.2% 90.68%,#ff0 90.68% 96.61%,#fb0 96.61% 100%)"></i><i style="left:532px;width:6px;background:linear-gradient(#00f 0% 12.71%,#00f 12.71% 33.05%,#06f 33.05% 43.22%,#0ff 43.22% 51.69%,#0fb 51.69% 60.17%,#0fa 60.17% 67.8%,#3f0 67.8% 74.58%,#3f0 74.58% 82.2%,#5f0 82.2% 90.68%,#df0 90.68% 96.61%,#fe0 96.61% 100%)"></i><i style="left:538px;width:5px;background:linear-gradient(#00f 0% 12.71%,#00f 12.71% 33.05%,#05f 33.05% 43.22%,#0df 43.22% 51.69%,#0fb 51.69% 60.17%,#0fa 60.17% 67.8%,#3f0 67.8% 74.58%,#3f0 74.58% 82.2%,#9f0 82.2% 90.68%,#df0 90.68% 96.61%,#fc0 96.61% 100%)"></i><i style="left:543px;width:6px;background:linear-gradient(#00f 0% 12.71%,#03f 12.71% 33.05%,#05f 33.05% 43.22%,#0cf 43.22% 51.69%,#0fc 51.69% 60.17%,#0f7 60.17% 67.8%,#0f6 67.8% 74.58%,#0f2 74.58% 82.2%,#7f0 82.2% 90.68%,#fe0 90.68% 96.61%,#fe0 96.61% 100%)"></i><i style="left:549px;width:6px;background:linear-gradient(#00f 0% 12.71%,#06f 12.71% 33.05%,#05f 33.05% 43.22%,#0ff 43.22% 51.69%,#0fd 51.69% 60.17%,#0f5 60.17% 67.8%,#3f0 67.8% 74.58%,#0f2 74.58% 82.2%,#7f0 82.2% 90.68%,#fe0 90.68% 96.61%,#fb0 96.61% 100%)"></i><i style="left:555px;width:5px;background:linear-gradient(#00f 0% 12.71%,#03f 12.71% 33.05%,#09f 33.05% 43.22%,#0ff 43.22% 51.69%,#0f6 51.69% 60.17%,#4f0 60.17% 67.8%,#8f0 67.8% 74.58%,#7f0 74.58% 82.2%,#fe0 82.2% 90.68%,#fe0 90.68% 96.61%,#ff0 96.61% 100%)"></i><i style="left:560px;width:6px;background:linear-gradient(#00f 0% 12.71%,#00f 12.71% 33.05%,#0bf 33.05% 43.22%,#0ff 43.22% 51.69%,#0f9 51.69% 60.17%,#0f5 60.17% 67.8%,#0f6 67.8% 74.58%,#0f1 74.58% 82.2%,#7f0 82.2% 90.68%,#df0 90.68% 96.61%,#fe0 96.61% 100%)"></i><i style="left:566px;width:5px;background:linear-gradient(#00f 0% 12.71%,#00f 12.71% 33.05%,#05f 33.05% 43.22%,#0ef 43.22% 51.69%,#0fc 51.69% 60.17%,#0f5 60.17% 67.8%,#0f1 67.8% 74.58%,#0f1 74.58% 82.2%,#7f0 82.2% 90.68%,#df0 90.68% 96.61%,#fe0 96.61% 100%)"></i><i style="left:571px;width:6px;background:linear-gradient(#00f 0% 12.71%,#03f 12.71% 33.05%,#05f 33.05% 43.22%,#0ff 43.22% 51.69%,#0fd 51.69% 60.17%,#0fa 60.17% 67.8%,#8f0 67.8% 74.58%,#3f0 74.58% 82.2%,#5f0 82.2% 90.68%,#ff0 90.68% 96.61%,#ff0 96.61% 100%)"></i><i style="left:577px;width:6px;background:linear-gradient(#00f 0% 12.71%,#06f 12.71% 33.05%,#06f 33.05% 43.22%,#0fc 43.22% 51.69%,#0f9 51.69% 60.17%,#0f9 60.17% 67.8%,#0f1 67.8% 74.58%,#0f1 74.58% 82.2%,#5f0 82.2% 90.68%,#ef0 90.68% 96.61%,#fc0 96.61% 100%)"></i><i style="left:583px;width:5px;background:linear-gradient(#00f 0% 12.71%,#03f 12.71% 33.05%,#06f 33.05% 43.22%,#0df 43.22% 51.69%,#0f1 51.69% 60.17%,#0f7 60.17% 67.8%,#0f3 67.8% 74.58%,#0f1 74.58% 82.2%,#6f0 82.2% 90.68%,#ef0 90.68% 96.61%,#fc0 96.61% 100%)"></i><i style="left:588px;width:6px;background:linear-gradient(#00f 0% 12.71%,#03f 12.71% 33.05%,#0bf 33.05% 43.22%,#0ff 43.22% 51.69%,#0fb 51.69% 60.17%,#0f7 60.17% 67.8%,#0f3 67.8% 74.58%,#3f0 74.58% 82.2%,#cf0 82.2% 90.68%,#fe0 90.68% 96.61%,#fe0 96.61% 100%)"></i><i style="left:594px;width:5px;background:linear-gradient(#00f 0% 12.71%,#03f 12.71% 33.05%,#05f 33.05% 43.22%,#0f9 43.22% 51.69%,#0f9 51.69% 60.17%,#0f9 60.17% 67.8%,#0f5 67.8% 74.58%,#3f0 74.58% 82.2%,#fe0 82.2% 90.68%,#fc0 90.68% 96.61%,#ff0 96.61% 100%)"></i><i style="left:599px;width:6px;background:linear-gradient(#00f 0% 12.71%,#00f 12.71% 33.05%,#07f 33.05% 43.22%,#0df 43.22% 51.69%,#0f6 51.69% 60.17%,#4f0 60.17% 67.8%,#3f0 67.8% 74.58%,#0f1 74.58% 82.2%,#7f0 82.2% 90.68%,#df0 90.68% 96.61%,#fc0 96.61% 100%)"></i><i style="left:605px;width:6px;background:linear-gradient(#00f 0% 12.71%,#00f 12.71% 33.05%,#06f 33.05% 43.22%,#0cf 43.22% 51.69%,#0f6 51.69% 60.17%,#0f7 60.17% 67.8%,#0f1 67.8% 74.58%,#3f0 74.58% 82.2%,#5f0 82.2% 90.68%,#fc0 90.68% 96.61%,#ff0 96.61% 100%)"></i><i style="left:611px;width:5px;background:linear-gradient(#00f 0% 12.71%,#00f 12.71% 33.05%,#0bf 33.05% 43.22%,#0fc 43.22% 51.69%,#0f6 51.69% 60.17%,#0f5 60.17% 67.8%,#0f1 67.8% 74.58%,#1f0 74.58% 82.2%,#6f0 82.2% 90.68%,#fe0 90.68% 96.61%,#fb0 96.61% 100%)"></i><i style="left:616px;width:6px;background:linear-gradient(#00f 0% 12.71%,#00f 12.71% 33.05%,#0bf 33.05% 43.22%,#0df 43.22% 51.69%,#0f6 51.69% 60.17%,#0f1 60.17% 67.8%,#0f1 67.8% 74.58%,#0f2 74.58% 82.2%,#cf0 82.2% 90.68%,#ef0 90.68% 96.61%,#fc0 96.61% 100%)"></i><i style="left:622px;width:5px;background:linear-gradient(#00f 0% 12.71%,#03f 12.71% 33.05%,#07f 33.05% 43.22%,#0cf 43.22% 51.69%,#0f6 51.69% 60.17%,#0f1 60.17% 67.8%,#0f5 67.8% 74.58%,#7f0 74.58% 82.2%,#9f0 82.2% 90.68%,#df0 90.68% 96.61%,#ff0 96.61% 100%)"></i><i style="left:627px;width:6px;background:linear-gradient(#00f 0% 12.71%,#06f 12.71% 33.05%,#06f 33.05% 43.22%,#0ef 43.22% 51.69%,#0fb 51.69% 60.17%,#0f7 60.17% 67.8%,#0f1 67.8% 74.58%,#0f1 74.58% 82.2%,#fe0 82.2% 90.68%,#df0 90.68% 96.61%,#fe0 96.61% 100%)"></i><i style="left:3px;width:1px;background:linear-gradient(#01f 0% 12.71%,#01f 12.71% 33.05%,#00f 33.05% 43.22%,#08f 43.22% 51.69%,#0df 51.69% 60.17%,#0fd 60.17% 67.8%,#0fc 67.8% 74.58%,#0af 74.58% 82.2%,#0cf 82.2% 90.68%,#0f2 90.68% 96.61%,#4f0 96.61% 100%)"></i><i style="left:4px;width:1px;background:linear-gradient(#02f 0% 12.71%,#00f 12.71% 33.05%,#0af 33.05% 43.22%,#04f 43.22% 51.69%,#07f 51.69% 60.17%,#0fd 60.17% 67.8%,#0ff 67.8% 74.58%,#0af 74.58% 82.2%,#0ff 82.2% 90.68%,#0f9 90.68% 96.61%,#0fb 96.61% 100%)"></i><i style="left:5px;width:1px;background:linear-gradient(#02f 0% 12.71%,#04f 12.71% 33.05%,#0af 33.05% 43.22%,#04f 43.22% 51.69%,#07f 51.69% 60.17%,#08f 60.17% 67.8%,#06f 67.8% 74.58%,#07f 74.58% 82.2%,#0cf 82.2% 90.68%,#0f2 90.68% 96.61%,#1f0 96.61% 100%)"></i><i style="left:7px;width:1px;background:linear-gradient(#00f 0% 12.71%,#01f 12.71% 33.05%,#07f 33.05% 43.22%,#00f 43.22% 51.69%,#03f 51.69% 60.17%,#0fd 60.17% 67.8%,#0ff 67.8% 74.58%,#07f 74.58% 82.2%,#0f8 82.2% 90.68%,#0df 90.68% 96.61%,#0f3 96.61% 100%)"></i><i style="left:8px;width:1px;background:linear-gradient(#04f 0% 12.71%,#00f 12.71% 33.05%,#07f 33.05% 43.22%,#0df 43.22% 51.69%,#03f 51.69% 60.17%,#0ef 60.17% 67.8%,#0fc 67.8% 74.58%,#0fa 74.58% 82.2%,#0f8 82.2% 90.68%,#0fd 90.68% 96.61%,#0f7 96.61% 100%)"></i><i style="left:10px;width:1px;background:linear-gradient(#01f 0% 12.71%,#03f 12.71% 33.05%,#00f 33.05% 43.22%,#00f 43.22% 51.69%,#03f 51.69% 60.17%,#0ef 60.17% 67.8%,#06f 67.8% 74.58%,#0df 74.58% 82.2%,#0fb 82.2% 90.68%,#0df 90.68% 96.61%,#0f3 96.61% 100%)"></i><i style="left:14px;width:1px;background:linear-gradient(#03f 0% 12.71%,#00f 12.71% 33.05%,#04f 33.05% 43.22%,#08f 43.22% 51.69%,#0fe 51.69% 60.17%,#05f 60.17% 67.8%,#06f 67.8% 74.58%,#0fd 74.58% 82.2%,#0ff 82.2% 90.68%,#0f5 90.68% 96.61%,#4f0 96.61% 100%)"></i><i style="left:15px;width:1px;background:linear-gradient(#03f 0% 12.71%,#01f 12.71% 33.05%,#00f 33.05% 43.22%,#00f 43.22% 51.69%,#07f 51.69% 60.17%,#05f 60.17% 67.8%,#0ff 67.8% 74.58%,#07f 74.58% 82.2%,#0fb 82.2% 90.68%,#0f5 90.68% 96.61%,#0fb 96.61% 100%)"></i><i style="left:17px;width:1px;background:linear-gradient(#02f 0% 12.71%,#01f 12.71% 33.05%,#00f 33.05% 43.22%,#04f 43.22% 51.69%,#07f 51.69% 60.17%,#08f 60.17% 67.8%,#06f 67.8% 74.58%,#07f 74.58% 82.2%,#0cf 82.2% 90.68%,#0f2 90.68% 96.61%,#1f0 96.61% 100%)"></i></div><div class="sp" style="left:59px;top:455px;width:633px;height:58px;background:#000"><i style="left:0px;width:1px;background:linear-gradient(#000,#04f,#0ff,#0fb,#0fa,#0fa,#0fa,#0fa,#0fa,#0fa,#0fa,#0fa,#0fc,#0fe,#0df,#09f,#06f,#01f,#20d,#50a,#406,#204,#102,#001)"></i><i style="left:1px;width:1px;background:linear-gradient(#000,#02f,#0bf,#0ef,#0ff,#0ff,#0ff,#0ff,#0ff,#0ff,#0ff,#0ff,#0df,#0bf,#09f,#06f,#02f,#10e,#40b,#508,#304,#50a,#407,#000)"></i><i style="left:2px;width:1px;background:linear-gradient(#000,#01f,#0bf,#0ef,#0ff,#0ff,#0ff,#0ff,#0ff,#0ff,#0ff,#0ff,#0df,#0bf,#09f,#06f,#02f,#10e,#40b,#407,#304,#50a,#50a,#000)"></i><i style="left:3px;width:1px;background:linear-gradient(#000,#04f,#0ef,#0fc,#0fb,#0fb,#0fb,#0fb,#0fb,#0fb,#0fb,#0fb,#0fd,#0ff,#0cf,#08f,#05f,#00f,#30c,#509,#305,#202,#102,#000)"></i><i style="left:4px;width:1px;background:linear-gradient(#000,#05f,#0fe,#0fa,#0f9,#0f9,#0f9,#0f9,#0f9,#0f9,#0f9,#0f9,#0fb,#0fe,#0df,#0af,#06f,#01f,#20d,#609,#407,#50a,#204,#000)"></i><i style="left:5px;width:1px;background:linear-gradient(#000,#05f,#0fe,#0fa,#0f9,#0f9,#0f9,#0f9,#0f9,#0f9,#0f9,#0f9,#0fb,#0fe,#0df,#09f,#06f,#01f,#30c,#509,#50a,#202,#101,#000)"></i><i style="left:6px;width:1px;background:linear-gradient(#000,#03f,#0df,#0fd,#0fc,#0fc,#0fc,#0fc,#0fc,#0fc,#0fc,#0fc,#0fe,#0df,#0af,#07f,#04f,#10e,#40b,#508,#305,#407,#407,#000)"></i><i style="left:7px;width:1px;background:linear-gradient(#000,#05f,#0fe,#0fa,#0f9,#0f9,#0f9,#0f9,#0f9,#0f9,#0f9,#0fa,#0fc,#0ff,#0cf,#09f,#05f,#00f,#30c,#508,#305,#204,#101,#000)"></i><i style="left:8px;width:1px;background:linear-gradient(#000,#03f,#0ef,#0fd,#0fc,#0fc,#0fc,#0fc,#0fc,#0fc,#0fc,#0fc,#0fd,#0ff,#0df,#0af,#06f,#02f,#20d,#50a,#407,#204,#102,#101)"></i><i style="left:9px;width:1px;background:linear-gradient(#000,#07f,#0fa,#0f5,#0f4,#0f4,#0f4,#0f4,#0f4,#0f4,#0f4,#0f4,#0f4,#0f6,#0fa,#0fe,#0cf,#08f,#03f,#10e,#50a,#406,#204,#102)"></i><i style="left:10px;width:1px;background:linear-gradient(#000,#0df,#0f3,#0f3,#0f3,#2f0,#6f0,#9f0,#9f0,#9f0,#9f0,#9f0,#6f0,#3f0,#0f2,#0f8,#0fe,#0af,#04f,#20d,#509,#305,#202,#101)"></i><i style="left:11px;width:1px;background:linear-gradient(#000,#0df,#0f3,#0f3,#0f3,#2f0,#6f0,#9f0,#9f0,#9f0,#9f0,#9f0,#6f0,#3f0,#0f3,#0f8,#0ff,#0af,#03f,#20d,#509,#304,#204,#101)"></i><i style="left:12px;width:1px;background:linear-gradient(#000,#0fc,#0f3,#0f3,#0f3,#6f0,#ef0,#fc0,#fc0,#fc0,#fc0,#fc0,#fd0,#ef0,#8f0,#2f0,#0f5,#0fd,#0af,#03f,#40b,#507,#50a,#102)"></i><i style="left:13px;width:1px;background:linear-gradient(#000,#0fa,#0f3,#0f3,#0f3,#6f0,#ff0,#fa0,#fa0,#fa0,#fa0,#fa0,#fc0,#ff0,#9f0,#2f0,#0f6,#0fe,#09f,#01f,#40b,#407,#204,#101)"></i><i style="left:14px;width:1px;background:linear-gradient(#000,#0fa,#0f3,#0f3,#0f3,#7f0,#fe0,#fa0,#fa0,#fa0,#fa0,#fa0,#fa0,#fc0,#ef0,#7f0,#0f0,#0f8,#0df,#06f,#10e,#50a,#305,#202)"></i><i style="left:15px;width:1px;background:linear-gradient(#000,#0df,#0f3,#0f3,#0f3,#1f0,#6f0,#8f0,#8f0,#8f0,#8f0,#8f0,#7f0,#4f0,#0f1,#0f6,#0fd,#0cf,#06f,#10e,#50a,#407,#407,#101)"></i><i style="left:16px;width:1px;background:linear-gradient(#000,#0fe,#0f3,#0f3,#0f3,#4f0,#bf0,#fe0,#fe0,#fe0,#fe0,#fe0,#ff0,#bf0,#6f0,#0f1,#0f8,#0ff,#09f,#02f,#40b,#407,#407,#102)"></i><i style="left:17px;width:1px;background:linear-gradient(#000,#0df,#0f3,#0f3,#0f3,#1f0,#6f0,#8f0,#8f0,#8f0,#8f0,#8f0,#7f0,#4f0,#0f1,#0f6,#0fc,#0cf,#06f,#00f,#50a,#406,#203,#101)"></i><i style="left:18px;width:1px;background:linear-gradient(#000,#06f,#0fc,#0f7,#0f6,#0f6,#0f6,#0f6,#0f6,#0f6,#0f6,#0f6,#0f7,#0f9,#0fd,#0df,#0af,#05f,#00f,#30c,#508,#304,#102,#101)"></i><i style="left:19px;width:1px;background:linear-gradient(#000,#04f,#0ff,#0fb,#0fa,#0fa,#0fa,#0fa,#0fa,#0fa,#0fa,#0fa,#0fa,#0fc,#0ff,#0cf,#09f,#05f,#00f,#30c,#509,#305,#50a,#101)"></i><i style="left:20px;width:1px;background:linear-gradient(#000,#03f,#0ef,#0fc,#0fc,#0fc,#0fc,#0fc,#0fc,#0fc,#0fc,#0fc,#0fe,#0df,#0bf,#07f,#03f,#10e,#40b,#508,#304,#102,#101,#000)"></i><i style="left:21px;width:1px;background:linear-gradient(#000,#03f,#0ef,#0fc,#0fc,#0fc,#0fc,#0fc,#0fc,#0fc,#0fd,#0ff,#0cf,#09f,#06f,#02f,#20d,#50a,#406,#203,#407,#204,#102,#000)"></i><i style="left:22px;width:1px;background:linear-gradient(#000,#0df,#0f3,#0f3,#0f3,#2f0,#7f0,#af0,#af0,#af0,#af0,#af0,#7f0,#4f0,#0f2,#0f8,#0fe,#0af,#04f,#20d,#509,#304,#202,#101)"></i><i style="left:23px;width:1px;background:linear-gradient(#000,#0fc,#0f3,#0f3,#0f3,#5f0,#df0,#fd0,#fd0,#fd0,#fd0,#fe0,#df0,#7f0,#0f0,#0f7,#0ff,#08f,#01f,#40b,#407,#407,#204,#000)"></i><i style="left:24px;width:1px;background:linear-gradient(#000,#0fc,#0f3,#0f3,#0f3,#6f0,#ef0,#fc0,#fc0,#fc0,#fc0,#fe0,#cf0,#6f0,#0f1,#0f9,#0df,#07f,#10e,#50a,#407,#203,#101,#000)"></i><i style="left:25px;width:1px;background:linear-gradient(#000,#0f8,#0f3,#0f3,#0f3,#8f0,#fc0,#f70,#f70,#f70,#f70,#f70,#f90,#fc0,#cf0,#5f0,#0f3,#0fc,#0af,#02f,#40b,#407,#407,#101)"></i><i style="left:26px;width:1px;background:linear-gradient(#000,#0fe,#0f3,#0f3,#0f3,#4f0,#bf0,#ff0,#ff0,#ff0,#ff0,#ff0,#df0,#af0,#4f0,#0f2,#0f9,#0ef,#08f,#01f,#40b,#407,#407,#101)"></i><i style="left:27px;width:1px;background:linear-gradient(#000,#0fd,#0f3,#0f3,#0f3,#5f0,#df0,#fd0,#fd0,#fd0,#fd0,#fe0,#df0,#8f0,#1f0,#0f6,#0fd,#0af,#03f,#30c,#508,#204,#102,#000)"></i><i style="left:28px;width:1px;background:linear-gradient(#000,#0fe,#0f3,#0f3,#0f3,#4f0,#cf0,#fe0,#fe0,#fe0,#fe0,#ff0,#bf0,#6f0,#0f0,#0f7,#0ff,#09f,#02f,#40b,#407,#50a,#102,#000)"></i><i style="left:29px;width:1px;background:linear-gradient(#000,#0df,#0f3,#0f3,#0f3,#1f0,#6f0,#8f0,#8f0,#8f0,#8f0,#7f0,#4f0,#0f0,#0f6,#0fc,#0cf,#06f,#00f,#50a,#406,#203,#101,#000)"></i><i style="left:30px;width:1px;background:linear-gradient(#000,#09f,#0f7,#0f2,#0f1,#0f1,#0f1,#0f1,#0f1,#0f2,#0f5,#0f9,#0fe,#0cf,#07f,#01f,#30c,#508,#305,#102,#50a,#000,#407,#000)"></i><i style="left:31px;width:1px;background:linear-gradient(#000,#06f,#0fc,#0f7,#0f6,#0f6,#0f6,#0f6,#0f6,#0f6,#0f8,#0fb,#0ff,#0cf,#08f,#04f,#10e,#40b,#407,#203,#50a,#50a,#204,#000)"></i><i style="left:32px;width:1px;background:linear-gradient(#000,#08f,#0f9,#0f4,#0f3,#0f3,#0f3,#0f3,#0f3,#0f3,#0f3,#0f3,#0f6,#0fa,#0fe,#0cf,#07f,#02f,#20d,#509,#305,#202,#101,#000)"></i><i style="left:33px;width:1px;background:linear-gradient(#000,#08f,#0f8,#0f3,#0f2,#0f2,#0f2,#0f2,#0f2,#0f2,#0f2,#0f2,#0f4,#0f7,#0fc,#0ef,#0af,#05f,#00f,#40b,#407,#203,#407,#001)"></i><i style="left:34px;width:1px;background:linear-gradient(#000,#08f,#0f8,#0f2,#0f1,#0f1,#0f1,#0f1,#0f1,#0f1,#0f1,#0f1,#0f3,#0f6,#0fb,#0ff,#0bf,#06f,#00f,#40b,#508,#204,#407,#101)"></i><i style="left:35px;width:1px;background:linear-gradient(#000,#05f,#0fe,#0fa,#0f9,#0f9,#0f9,#0f9,#0f9,#0f9,#0fa,#0fc,#0ef,#0bf,#07f,#03f,#10e,#50b,#407,#203,#102,#407,#102,#000)"></i><i style="left:36px;width:1px;background:linear-gradient(#000,#04f,#0ff,#0fb,#0fa,#0fa,#0fa,#0fa,#0fa,#0fa,#0fa,#0fc,#0ff,#0cf,#09f,#05f,#00f,#30c,#509,#305,#202,#50a,#102,#000)"></i><i style="left:37px;width:1px;background:linear-gradient(#000,#06f,#0fd,#0f8,#0f7,#0f7,#0f7,#0f7,#0f7,#0f7,#0f9,#0fc,#0ef,#0bf,#07f,#02f,#20d,#50a,#406,#203,#102,#001,#000,#000)"></i><i style="left:38px;width:1px;background:linear-gradient(#000,#03f,#0ef,#0fc,#0fc,#0fc,#0fc,#0fc,#0fc,#0fc,#0fe,#0ef,#0bf,#08f,#04f,#10e,#40b,#508,#305,#102,#101,#50a,#50a,#000)"></i><i style="left:39px;width:1px;background:linear-gradient(#000,#0af,#0f5,#0f0,#1f0,#1f0,#1f0,#1f0,#1f0,#1f0,#1f0,#0f1,#0f4,#0f9,#0fe,#0bf,#06f,#00f,#40b,#407,#203,#407,#001,#000)"></i><i style="left:40px;width:1px;background:linear-gradient(#000,#05f,#0fe,#0f9,#0f9,#0f9,#0f9,#0f9,#0f9,#0fa,#0fc,#0ef,#0bf,#07f,#03f,#10e,#40b,#407,#203,#102,#407,#204,#000,#000)"></i><i style="left:41px;width:1px;background:linear-gradient(#000,#04f,#0ff,#0fb,#0fa,#0fa,#0fa,#0fa,#0fa,#0fb,#0fd,#0df,#0af,#07f,#03f,#10e,#50a,#407,#204,#102,#407,#000,#204,#000)"></i><i style="left:42px;width:1px;background:linear-gradient(#000,#06f,#0fc,#0f7,#0f6,#0f6,#0f6,#0f6,#0f6,#0f8,#0fa,#0ff,#0cf,#08f,#03f,#10e,#50a,#407,#203,#102,#102,#000,#407,#000)"></i><i style="left:43px;width:1px;background:linear-gradient(#000,#0af,#0f5,#0f0,#1f0,#1f0,#1f0,#1f0,#1f0,#1f0,#1f0,#1f0,#0f2,#0f6,#0fb,#0ef,#09f,#04f,#10e,#50a,#50a,#203,#101,#000)"></i><i style="left:44px;width:1px;background:linear-gradient(#000,#0af,#0f5,#1f0,#2f0,#2f0,#2f0,#2f0,#2f0,#2f0,#2f0,#2f0,#0f1,#0f4,#0f9,#0fe,#0bf,#06f,#00f,#40b,#50a,#407,#102,#000)"></i><i style="left:45px;width:1px;background:linear-gradient(#000,#09f,#0f6,#0f0,#1f0,#1f0,#1f0,#1f0,#1f0,#1f0,#1f0,#1f0,#0f1,#0f4,#0f8,#0fd,#0cf,#07f,#01f,#30c,#508,#304,#407,#101)"></i><i style="left:46px;width:1px;background:linear-gradient(#000,#04f,#0ff,#0fb,#0fa,#0fa,#0fa,#0fa,#0fa,#0fa,#0fa,#0fc,#0ff,#0cf,#09f,#05f,#00f,#30c,#509,#305,#50a,#101,#102,#000)"></i><i style="left:47px;width:1px;background:linear-gradient(#000,#06f,#0fc,#0f7,#0f6,#0f6,#0f6,#0f6,#0f6,#0f6,#0f6,#0f7,#0fa,#0fe,#0df,#09f,#05f,#00f,#40b,#507,#304,#50a,#50a,#000)"></i><i style="left:48px;width:1px;background:linear-gradient(#000,#06f,#0fc,#0f8,#0f7,#0f7,#0f7,#0f7,#0f7,#0f7,#0f7,#0f7,#0fa,#0fd,#0df,#0af,#06f,#01f,#30c,#508,#50a,#204,#204,#000)"></i><i style="left:49px;width:1px;background:linear-gradient(#000,#04f,#0ff,#0fb,#0fa,#0fa,#0fa,#0fa,#0fa,#0fa,#0fa,#0fa,#0fc,#0ff,#0cf,#09f,#05f,#01f,#30c,#509,#407,#202,#102,#000)"></i><i style="left:50px;width:1px;background:linear-gradient(#000,#06f,#0fc,#0f7,#0f6,#0f6,#0f6,#0f6,#0f6,#0f6,#0f6,#0f6,#0f8,#0fb,#0ff,#0bf,#07f,#03f,#20d,#50a,#406,#203,#50a,#000)"></i><i style="left:51px;width:1px;background:linear-gradient(#000,#04f,#0ef,#0fc,#0fb,#0fb,#0fb,#0fb,#0fb,#0fb,#0fb,#0fb,#0fd,#0ff,#0cf,#09f,#06f,#01f,#20d,#50a,#407,#203,#102,#001)"></i><i style="left:52px;width:1px;background:linear-gradient(#000,#08f,#0f8,#0f3,#0f2,#0f2,#0f2,#0f2,#0f2,#0f2,#0f2,#0f2,#0f3,#0f6,#0fa,#0ff,#0bf,#06f,#01f,#30c,#508,#50a,#102,#101)"></i><i style="left:53px;width:1px;background:linear-gradient(#000,#09f,#0f6,#0f1,#0f0,#0f0,#0f0,#0f0,#0f0,#0f0,#0f0,#0f2,#0f5,#0f9,#0fe,#0bf,#07f,#01f,#30c,#508,#304,#102,#50a,#000)"></i><i style="left:54px;width:1px;background:linear-gradient(#000,#0af,#0f4,#1f0,#2f0,#2f0,#2f0,#2f0,#2f0,#2f0,#2f0,#1f0,#0f2,#0f6,#0fc,#0df,#09f,#03f,#20d,#509,#50a,#204,#101,#000)"></i><i style="left:55px;width:1px;background:linear-gradient(#000,#08f,#0f8,#0f3,#0f2,#0f2,#0f2,#0f2,#0f2,#0f2,#0f2,#0f4,#0f7,#0fc,#0ef,#0af,#05f,#10e,#40b,#407,#203,#204,#001,#000)"></i><i style="left:56px;width:1px;background:linear-gradient(#000,#08f,#0f7,#0f2,#0f1,#0f1,#0f1,#0f1,#0f1,#0f1,#0f1,#0f3,#0f6,#0fa,#0ff,#0bf,#06f,#01f,#30c,#508,#407,#102,#50a,#000)"></i><i style="left:57px;width:1px;background:linear-gradient(#000,#0df,#0f3,#0f3,#0f3,#1f0,#6f0,#8f0,#8f0,#8f0,#8f0,#8f0,#8f0,#6f0,#3f0,#0f3,#0f8,#0ff,#0af,#04f,#20d,#50a,#305,#202)"></i><i style="left:58px;width:1px;background:linear-gradient(#000,#0df,#0f3,#0f3,#0f3,#2f0,#7f0,#af0,#af0,#af0,#af0,#af0,#8f0,#5f0,#0f0,#0f6,#0fd,#0bf,#06f,#10e,#50a,#50a,#203,#101)"></i><i style="left:59px;width:1px;background:linear-gradient(#000,#0ef,#0f3,#0f3,#0f3,#3f0,#9f0,#cf0,#cf0,#cf0,#cf0,#cf0,#8f0,#4f0,#0f2,#0f9,#0ef,#08f,#02f,#40b,#507,#204,#102,#000)"></i><i style="left:60px;width:1px;background:linear-gradient(#000,#0af,#0f4,#1f0,#2f0,#2f0,#2f0,#2f0,#2f0,#2f0,#2f0,#0f0,#0f4,#0f8,#0fe,#0cf,#06f,#01f,#40b,#407,#50a,#407,#102,#000)"></i><i style="left:61px;width:1px;background:linear-gradient(#000,#0df,#0f3,#0f3,#0f3,#1f0,#5f0,#8f0,#8f0,#8f0,#8f0,#8f0,#7f0,#4f0,#0f1,#0f6,#0fd,#0cf,#06f,#00f,#50a,#407,#203,#101)"></i><i style="left:62px;width:1px;background:linear-gradient(#000,#0df,#0f3,#0f3,#0f3,#2f0,#6f0,#9f0,#9f0,#9f0,#9f0,#9f0,#6f0,#2f0,#0f3,#0f9,#0ef,#09f,#03f,#30c,#508,#204,#102,#001)"></i><i style="left:63px;width:1px;background:linear-gradient(#000,#0ef,#0f3,#0f3,#0f3,#3f0,#8f0,#bf0,#bf0,#bf0,#bf0,#bf0,#af0,#7f0,#1f0,#0f5,#0fb,#0cf,#06f,#00f,#50a,#407,#203,#101)"></i><i style="left:64px;width:1px;background:linear-gradient(#000,#0ff,#0f3,#0f3,#0f3,#4f0,#af0,#ef0,#ef0,#ef0,#ef0,#df0,#af0,#5f0,#0f1,#0f8,#0ff,#09f,#02f,#40b,#407,#204,#407,#000)"></i><i style="left:65px;width:1px;background:linear-gradient(#000,#0cf,#0f1,#5f0,#6f0,#6f0,#6f0,#6f0,#6f0,#6f0,#6f0,#6f0,#4f0,#0f0,#0f5,#0fb,#0ef,#08f,#02f,#30c,#508,#304,#102,#001)"></i><i style="left:66px;width:1px;background:linear-gradient(#000,#0bf,#0f2,#4f0,#5f0,#5f0,#5f0,#5f0,#5f0,#5f0,#5f0,#4f0,#1f0,#0f3,#0f8,#0fe,#0bf,#05f,#10e,#50a,#406,#203,#101,#000)"></i><i style="left:67px;width:1px;background:linear-gradient(#000,#0fd,#0f3,#0f3,#0f3,#5f0,#cf0,#fd0,#fd0,#fd0,#fd0,#fe0,#cf0,#7f0,#0f0,#0f7,#0fe,#09f,#02f,#40b,#407,#203,#102,#000)"></i><i style="left:68px;width:1px;background:linear-gradient(#000,#0df,#0f3,#0f3,#0f3,#1f0,#6f0,#8f0,#8f0,#8f0,#8f0,#6f0,#2f0,#0f3,#0f9,#0ff,#09f,#03f,#30c,#508,#304,#50a,#50a,#000)"></i><i style="left:69px;width:1px;background:linear-gradient(#000,#0fe,#0f3,#0f3,#0f3,#4f0,#bf0,#ff0,#ff0,#ff0,#ff0,#ff0,#bf0,#6f0,#0f0,#0f7,#0fe,#0af,#03f,#30c,#508,#204,#204,#000)"></i><i style="left:70px;width:1px;background:linear-gradient(#000,#0fe,#0f3,#0f3,#0f3,#4f0,#bf0,#ff0,#ff0,#ff0,#ff0,#ff0,#df0,#9f0,#4f0,#0f3,#0f9,#0df,#07f,#00f,#50a,#50a,#203,#101)"></i><i style="left:71px;width:1px;background:linear-gradient(#000,#0ff,#0f3,#0f3,#0f3,#4f0,#af0,#ef0,#ef0,#ef0,#ef0,#ef0,#df0,#9f0,#4f0,#0f2,#0f9,#0ef,#08f,#01f,#40b,#407,#203,#101)"></i><i style="left:72px;width:1px;background:linear-gradient(#000,#0fc,#0f3,#0f3,#0f3,#5f0,#df0,#fd0,#fd0,#fd0,#fd0,#fd0,#fd0,#fe0,#cf0,#6f0,#0f1,#0f8,#0ef,#07f,#00f,#50a,#406,#203)"></i><i style="left:73px;width:1px;background:linear-gradient(#000,#0fe,#0f3,#0f3,#0f3,#4f0,#af0,#ef0,#ef0,#ef0,#ef0,#ef0,#cf0,#8f0,#2f0,#0f5,#0fb,#0cf,#05f,#10e,#50a,#50a,#204,#101)"></i><i style="left:74px;width:1px;background:linear-gradient(#000,#0fe,#0f3,#0f3,#0f3,#4f0,#bf0,#fe0,#fe0,#fe0,#fe0,#ff0,#bf0,#6f0,#0f0,#0f7,#0fe,#09f,#02f,#40c,#507,#204,#102,#000)"></i><i style="left:75px;width:1px;background:linear-gradient(#000,#0fe,#0f3,#0f3,#0f3,#4f0,#bf0,#ff0,#ff0,#ff0,#ff0,#ff0,#bf0,#6f0,#0f0,#0f6,#0fe,#0af,#03f,#30c,#50a,#204,#204,#000)"></i><i style="left:76px;width:1px;background:linear-gradient(#000,#0fc,#0f3,#0f3,#0f3,#5f0,#df0,#fd0,#fd0,#fd0,#fd0,#fd0,#df0,#8f0,#2f0,#0f5,#0fd,#0af,#03f,#30c,#508,#204,#50a,#000)"></i><i style="left:77px;width:1px;background:linear-gradient(#000,#0fd,#0f3,#0f3,#0f3,#5f0,#cf0,#fe0,#fe0,#fe0,#fe0,#ff0,#bf0,#5f0,#0f1,#0f8,#0ef,#08f,#00f,#50a,#407,#407,#101,#000)"></i><i style="left:78px;width:1px;background:linear-gradient(#000,#0fd,#0f3,#0f3,#0f3,#5f0,#df0,#fd0,#fd0,#fd0,#fd0,#fd0,#ff0,#bf0,#5f0,#0f2,#0f9,#0df,#07f,#10e,#50a,#407,#204,#101)"></i><i style="left:79px;width:1px;background:linear-gradient(#000,#0fc,#0f3,#0f3,#0f3,#5f0,#df0,#fd0,#fd0,#fd0,#fd0,#fd0,#fe0,#df0,#7f0,#1f0,#0f6,#0fe,#09f,#02f,#40b,#407,#50a,#102)"></i><i style="left:80px;width:1px;background:linear-gradient(#000,#0fe,#0f3,#0f3,#0f3,#4f0,#af0,#ff0,#ff0,#ff0,#ff0,#ff0,#ff0,#cf0,#9f0,#3f0,#0f3,#0fa,#0df,#06f,#10e,#50a,#306,#203)"></i><i style="left:81px;width:1px;background:linear-gradient(#000,#0fd,#0f3,#0f3,#0f3,#5f0,#df0,#fd0,#fd0,#fd0,#fd0,#fd0,#fd0,#ef0,#af0,#3f0,#0f4,#0fb,#0cf,#05f,#20d,#609,#50a,#202)"></i><i style="left:82px;width:1px;background:linear-gradient(#000,#0fc,#0f3,#0f3,#0f3,#5f0,#df0,#fd0,#fd0,#fd0,#fd0,#fd0,#ef0,#9f0,#3f0,#0f4,#0fc,#0bf,#04f,#20d,#509,#304,#407,#000)"></i><i style="left:83px;width:1px;background:linear-gradient(#000,#0ff,#0f3,#0f3,#0f3,#4f0,#af0,#ef0,#ef0,#ef0,#ef0,#df0,#9f0,#4f0,#0f2,#0f9,#0ef,#07f,#00f,#50b,#406,#203,#407,#000)"></i><i style="left:84px;width:1px;background:linear-gradient(#000,#0fe,#0f3,#0f3,#0f3,#4f0,#bf0,#ff0,#ff0,#ff0,#ff0,#ff0,#ef0,#af0,#5f0,#0f2,#0f9,#0ef,#08f,#01f,#40b,#406,#203,#101)"></i><i style="left:85px;width:1px;background:linear-gradient(#000,#0fd,#0f3,#0f3,#0f3,#5f0,#df0,#fd0,#fd0,#fd0,#fd0,#fd0,#fd0,#ef0,#9f0,#3f0,#0f4,#0fc,#0bf,#05f,#20d,#509,#304,#102)"></i><i style="left:86px;width:1px;background:linear-gradient(#000,#0fe,#0f3,#0f3,#0f3,#4f0,#cf0,#fe0,#fe0,#fe0,#fe0,#fe0,#ef0,#bf0,#5f0,#0f1,#0f8,#0ef,#08f,#01f,#40b,#406,#204,#101)"></i><i style="left:87px;width:1px;background:linear-gradient(#000,#0fc,#0f3,#0f3,#0f3,#6f0,#ef0,#fc0,#fc0,#fc0,#fc0,#fc0,#fe0,#df0,#7f0,#0f0,#0f7,#0ff,#08f,#01f,#40b,#406,#407,#101)"></i><i style="left:88px;width:1px;background:linear-gradient(#000,#0cf,#0f1,#5f0,#6f0,#6f0,#6f0,#6f0,#6f0,#6f0,#6f0,#6f0,#6f0,#4f0,#0f0,#0f5,#0fb,#0ef,#08f,#02f,#30c,#508,#204,#102)"></i><i style="left:89px;width:1px;background:linear-gradient(#000,#0fd,#0f3,#0f3,#0f3,#4f0,#cf0,#fe0,#fe0,#fe0,#fe0,#fe0,#df0,#8f0,#2f0,#0f5,#0fc,#0bf,#05f,#20d,#509,#50a,#102,#001)"></i><i style="left:90px;width:1px;background:linear-gradient(#000,#0fe,#0f3,#0f3,#0f3,#4f0,#af0,#ef0,#ef0,#ef0,#ef0,#ef0,#bf0,#7f0,#1f0,#0f6,#0fd,#0af,#04f,#20d,#509,#304,#102,#000)"></i><i style="left:91px;width:1px;background:linear-gradient(#000,#0fe,#0f3,#0f3,#0f3,#4f0,#bf0,#ff0,#ff0,#ff0,#ff0,#ff0,#df0,#af0,#4f0,#0f2,#0f9,#0ef,#07f,#00f,#50a,#406,#204,#101)"></i><i style="left:92px;width:1px;background:linear-gradient(#000,#0ef,#0f3,#0f3,#0f3,#3f0,#8f0,#bf0,#bf0,#bf0,#bf0,#bf0,#8f0,#3f0,#0f2,#0f9,#0ef,#09f,#02f,#30c,#508,#204,#102,#000)"></i><i style="left:93px;width:1px;background:linear-gradient(#000,#0af,#0f4,#2f0,#3f0,#3f0,#3f0,#3f0,#3f0,#3f0,#3f0,#1f0,#0f2,#0f7,#0fc,#0df,#08f,#02f,#30c,#508,#304,#204,#101,#000)"></i><i style="left:94px;width:1px;background:linear-gradient(#000,#0af,#0f5,#1f0,#2f0,#2f0,#2f0,#2f0,#2f0,#2f0,#2f0,#2f0,#0f1,#0f5,#0fa,#0ff,#0af,#05f,#00f,#40b,#407,#203,#102,#000)"></i><i style="left:95px;width:1px;background:linear-gradient(#000,#0af,#0f5,#0f0,#1f0,#1f0,#1f0,#1f0,#1f0,#1f0,#1f0,#0f0,#0f3,#0f7,#0fc,#0df,#08f,#03f,#20d,#509,#407,#407,#204,#000)"></i><i style="left:96px;width:1px;background:linear-gradient(#000,#05f,#0fe,#0fa,#0f9,#0f9,#0f9,#0f9,#0f9,#0f9,#0fc,#0ff,#0cf,#09f,#05f,#00f,#30c,#508,#305,#202,#102,#102,#102,#000)"></i><i style="left:97px;width:1px;background:linear-gradient(#000,#05f,#0fe,#0f9,#0f9,#0f9,#0f9,#0f9,#0f9,#0f9,#0fa,#0fc,#0ef,#0bf,#07f,#03f,#10e,#50a,#407,#203,#102,#001,#000,#000)"></i><i style="left:98px;width:1px;background:linear-gradient(#000,#09f,#0f6,#0f1,#0f0,#0f0,#0f0,#0f0,#0f0,#0f0,#0f2,#0f6,#0fb,#0ef,#0af,#05f,#00f,#40b,#407,#203,#102,#204,#000,#000)"></i><i style="left:99px;width:1px;background:linear-gradient(#000,#0ff,#0f3,#0f3,#0f3,#3f0,#af0,#df0,#df0,#df0,#df0,#df0,#cf0,#8f0,#3f0,#0f4,#0fa,#0df,#07f,#00f,#50a,#406,#203,#101)"></i><i style="left:100px;width:1px;background:linear-gradient(#000,#0fd,#0f3,#0f3,#0f3,#5f0,#cf0,#fe0,#fe0,#fe0,#fe0,#fe0,#ff0,#bf0,#5f0,#0f2,#0f9,#0ef,#07f,#00f,#50a,#407,#407,#101)"></i><i style="left:101px;width:1px;background:linear-gradient(#000,#0fe,#0f3,#0f3,#0f3,#4f0,#af0,#ef0,#ef0,#ef0,#ef0,#df0,#af0,#5f0,#0f1,#0f8,#0ff,#08f,#02f,#40b,#407,#50a,#204,#000)"></i><i style="left:102px;width:1px;background:linear-gradient(#000,#0ff,#0f3,#0f3,#0f3,#4f0,#af0,#ef0,#ef0,#ef0,#ef0,#df0,#af0,#5f0,#0f1,#0f8,#0ff,#09f,#02f,#40b,#407,#203,#102,#000)"></i><i style="left:103px;width:1px;background:linear-gradient(#000,#0ef,#0f3,#0f3,#0f3,#2f0,#7f0,#af0,#af0,#af0,#af0,#af0,#8f0,#5f0,#0f0,#0f6,#0fd,#0bf,#05f,#10e,#50a,#305,#407,#101)"></i><i style="left:104px;width:1px;background:linear-gradient(#000,#06f,#0fc,#0f7,#0f6,#0f6,#0f6,#0f6,#0f6,#0f6,#0f7,#0fa,#0fe,#0df,#09f,#05f,#00f,#40b,#407,#304,#102,#204,#000,#000)"></i><i style="left:105px;width:1px;background:linear-gradient(#000,#05f,#0fe,#0f9,#0f9,#0f9,#0f9,#0f9,#0f9,#0f9,#0f9,#0fc,#0ff,#0cf,#08f,#04f,#10e,#40b,#407,#304,#407,#101,#000,#000)"></i><i style="left:106px;width:1px;background:linear-gradient(#000,#08f,#0f9,#0f3,#0f3,#0f3,#0f3,#0f3,#0f3,#0f3,#0f3,#0f4,#0f7,#0fb,#0ef,#0bf,#06f,#01f,#30c,#508,#407,#102,#102,#000)"></i><i style="left:107px;width:1px;background:linear-gradient(#000,#09f,#0f7,#0f2,#0f1,#0f1,#0f1,#0f1,#0f1,#0f1,#0f1,#0f1,#0f4,#0f7,#0fc,#0df,#09f,#04f,#10e,#50a,#406,#407,#102,#000)"></i><i style="left:108px;width:1px;background:linear-gradient(#000,#09f,#0f7,#0f2,#0f1,#0f1,#0f1,#0f1,#0f1,#0f1,#0f1,#0f1,#0f3,#0f7,#0fb,#0ef,#0af,#05f,#10e,#50a,#50a,#204,#407,#000)"></i><i style="left:109px;width:1px;background:linear-gradient(#000,#09f,#0f7,#0f2,#0f1,#0f1,#0f1,#0f1,#0f1,#0f1,#0f1,#0f1,#0f2,#0f4,#0f9,#0fd,#0cf,#08f,#02f,#20d,#509,#407,#407,#101)"></i><i style="left:110px;width:1px;background:linear-gradient(#000,#09f,#0f6,#0f1,#0f0,#0f0,#0f0,#0f0,#0f0,#0f0,#0f0,#0f0,#0f1,#0f3,#0f7,#0fc,#0df,#09f,#04f,#20d,#50a,#406,#203,#101)"></i><i style="left:111px;width:1px;background:linear-gradient(#000,#0af,#0f5,#0f0,#1f0,#1f0,#1f0,#1f0,#1f0,#1f0,#1f0,#1f0,#0f0,#0f3,#0f8,#0fd,#0df,#08f,#02f,#30c,#508,#50a,#407,#101)"></i><i style="left:112px;width:1px;background:linear-gradient(#000,#05f,#0fe,#0fa,#0f9,#0f9,#0f9,#0f9,#0f9,#0f9,#0f9,#0fb,#0fe,#0df,#09f,#06f,#01f,#30c,#609,#305,#202,#101,#50a,#000)"></i><i style="left:113px;width:1px;background:linear-gradient(#000,#08f,#0f7,#0f2,#0f1,#0f1,#0f1,#0f1,#0f1,#0f1,#0f1,#0f1,#0f4,#0f7,#0fb,#0ef,#0af,#05f,#10e,#40b,#407,#407,#102,#000)"></i><i style="left:114px;width:1px;background:linear-gradient(#000,#08f,#0f8,#0f3,#0f2,#0f2,#0f2,#0f2,#0f2,#0f2,#0f2,#0f3,#0f6,#0fa,#0fe,#0bf,#07f,#02f,#30c,#508,#305,#202,#102,#000)"></i><i style="left:115px;width:1px;background:linear-gradient(#000,#08f,#0f8,#0f3,#0f2,#0f2,#0f2,#0f2,#0f2,#0f2,#0f2,#0f2,#0f4,#0f7,#0fc,#0ef,#0af,#05f,#00f,#40b,#407,#203,#102,#001)"></i><i style="left:116px;width:1px;background:linear-gradient(#000,#09f,#0f7,#0f2,#0f1,#0f1,#0f1,#0f1,#0f1,#0f1,#0f1,#0f1,#0f4,#0f7,#0fc,#0df,#09f,#04f,#10e,#50a,#407,#407,#102,#000)"></i><i style="left:117px;width:1px;background:linear-gradient(#000,#08f,#0f8,#0f3,#0f2,#0f2,#0f2,#0f2,#0f2,#0f2,#0f2,#0f3,#0f5,#0f9,#0fd,#0cf,#08f,#03f,#20d,#609,#306,#204,#101,#000)"></i><i style="left:118px;width:1px;background:linear-gradient(#000,#09f,#0f7,#0f2,#0f1,#0f1,#0f1,#0f1,#0f1,#0f1,#0f1,#0f1,#0f2,#0f5,#0fa,#0ff,#0bf,#06f,#01f,#30c,#508,#50a,#102,#101)"></i><i style="left:119px;width:1px;background:linear-gradient(#000,#05f,#0ff,#0fa,#0fa,#0fa,#0fa,#0fa,#0fa,#0fa,#0fa,#0fc,#0ff,#0cf,#09f,#05f,#00f,#30c,#509,#305,#202,#50a,#50a,#000)"></i><i style="left:120px;width:1px;background:linear-gradient(#000,#04f,#0ef,#0fc,#0fb,#0fb,#0fb,#0fb,#0fb,#0fb,#0fd,#0ff,#0cf,#09f,#06f,#01f,#20d,#50a,#406,#203,#102,#50a,#000,#000)"></i><i style="left:121px;width:1px;background:linear-gradient(#000,#06f,#0fc,#0f7,#0f7,#0f7,#0f7,#0f7,#0f7,#0f7,#0f9,#0fd,#0ef,#0af,#06f,#01f,#30c,#509,#305,#202,#204,#407,#407,#000)"></i><i style="left:122px;width:1px;background:linear-gradient(#000,#0df,#0f3,#0f3,#0f3,#2f0,#7f0,#af0,#af0,#af0,#af0,#af0,#9f0,#6f0,#2f0,#0f4,#0fa,#0ef,#08f,#02f,#40c,#508,#203,#102)"></i><i style="left:123px;width:1px;background:linear-gradient(#000,#0cf,#0f1,#5f0,#6f0,#6f0,#6f0,#6f0,#6f0,#6f0,#6f0,#6f0,#6f0,#3f0,#0f1,#0f6,#0fc,#0cf,#07f,#00f,#40b,#407,#203,#102)"></i><i style="left:124px;width:1px;background:linear-gradient(#000,#0cf,#0f3,#0f3,#0f3,#1f0,#5f0,#8f0,#8f0,#8f0,#8f0,#8f0,#6f0,#3f0,#0f3,#0f8,#0fe,#0af,#04f,#20d,#609,#305,#50a,#101)"></i><i style="left:125px;width:1px;background:linear-gradient(#000,#05f,#0fe,#0f9,#0f8,#0f8,#0f8,#0f8,#0f8,#0f8,#0f8,#0fb,#0fe,#0df,#09f,#06f,#01f,#30c,#509,#305,#202,#407,#000,#000)"></i><i style="left:126px;width:1px;background:linear-gradient(#000,#09f,#0f6,#0f1,#0f0,#0f0,#0f0,#0f0,#0f0,#0f0,#0f0,#0f1,#0f4,#0f9,#0fd,#0cf,#07f,#02f,#30c,#508,#407,#202,#204,#000)"></i><i style="left:127px;width:1px;background:linear-gradient(#000,#0af,#0f5,#0f0,#1f0,#1f0,#1f0,#1f0,#1f0,#1f0,#1f0,#0f2,#0f6,#0fa,#0ef,#0af,#05f,#10e,#50a,#406,#50a,#102,#102,#000)"></i><i style="left:128px;width:1px;background:linear-gradient(#000,#0af,#0f4,#1f0,#2f0,#2f0,#2f0,#2f0,#2f0,#2f0,#2f0,#1f0,#0f1,#0f6,#0fa,#0ef,#0af,#04f,#10e,#50a,#406,#204,#407,#000)"></i><i style="left:129px;width:1px;background:linear-gradient(#000,#05f,#0ff,#0fa,#0f9,#0f9,#0f9,#0f9,#0f9,#0f9,#0fb,#0fe,#0df,#09f,#06f,#01f,#30c,#609,#305,#202,#50a,#407,#50a,#000)"></i><i style="left:130px;width:1px;background:linear-gradient(#000,#05f,#0fe,#0fa,#0f9,#0f9,#0f9,#0f9,#0f9,#0fa,#0fc,#0ff,#0bf,#08f,#04f,#10e,#40b,#407,#304,#102,#407,#102,#407,#000)"></i><i style="left:131px;width:1px;background:linear-gradient(#000,#04f,#0ef,#0fc,#0fb,#0fb,#0fb,#0fb,#0fb,#0fb,#0fc,#0fe,#0df,#0af,#07f,#02f,#10e,#50a,#407,#204,#102,#101,#204,#000)"></i><i style="left:132px;width:1px;background:linear-gradient(#000,#08f,#0f8,#0f3,#0f2,#0f2,#0f2,#0f2,#0f2,#0f2,#0f2,#0f3,#0f5,#0f9,#0fd,#0cf,#08f,#03f,#20d,#60a,#306,#203,#102,#000)"></i><i style="left:133px;width:1px;background:linear-gradient(#000,#0af,#0f5,#1f0,#2f0,#2f0,#2f0,#2f0,#2f0,#2f0,#2f0,#0f1,#0f4,#0f9,#0ff,#0bf,#06f,#00f,#40b,#407,#204,#102,#204,#000)"></i><i style="left:134px;width:1px;background:linear-gradient(#000,#08f,#0f8,#0f3,#0f2,#0f2,#0f2,#0f2,#0f2,#0f2,#0f2,#0f4,#0f7,#0fb,#0ef,#0af,#06f,#00f,#40b,#407,#204,#102,#204,#000)"></i><i style="left:135px;width:1px;background:linear-gradient(#000,#09f,#0f7,#0f2,#0f1,#0f1,#0f1,#0f1,#0f1,#0f1,#0f1,#0f1,#0f4,#0f7,#0fc,#0ef,#09f,#04f,#10e,#50a,#406,#203,#102,#000)"></i><i style="left:136px;width:1px;background:linear-gradient(#000,#0af,#0f5,#1f0,#2f0,#2f0,#2f0,#2f0,#2f0,#2f0,#2f0,#1f0,#0f2,#0f6,#0fb,#0ef,#09f,#04f,#10e,#50a,#406,#50a,#204,#000)"></i><i style="left:137px;width:1px;background:linear-gradient(#000,#09f,#0f6,#0f1,#0f0,#0f0,#0f0,#0f0,#0f0,#0f0,#0f0,#0f0,#0f1,#0f4,#0f8,#0fd,#0cf,#08f,#02f,#30c,#508,#407,#50a,#101)"></i><i style="left:138px;width:1px;background:linear-gradient(#000,#0af,#0f4,#2f0,#3f0,#3f0,#3f0,#3f0,#3f0,#3f0,#3f0,#3f0,#1f0,#0f2,#0f6,#0fc,#0df,#08f,#03f,#20d,#509,#305,#202,#101)"></i><i style="left:139px;width:1px;background:linear-gradient(#000,#08f,#0f8,#0f3,#0f2,#0f2,#0f2,#0f2,#0f2,#0f2,#0f2,#0f2,#0f3,#0f6,#0fa,#0ff,#0bf,#07f,#01f,#30c,#508,#304,#102,#101)"></i><i style="left:140px;width:1px;background:linear-gradient(#000,#0af,#0f5,#0f0,#1f0,#1f0,#1f0,#1f0,#1f0,#1f0,#1f0,#1f0,#0f1,#0f4,#0f9,#0ff,#0bf,#06f,#00f,#40b,#407,#203,#50a,#001)"></i><i style="left:141px;width:1px;background:linear-gradient(#000,#0af,#0f5,#1f0,#2f0,#2f0,#2f0,#2f0,#2f0,#2f0,#2f0,#2f0,#0f0,#0f2,#0f7,#0fc,#0df,#08f,#03f,#20d,#509,#305,#407,#101)"></i><i style="left:142px;width:1px;background:linear-gradient(#000,#04f,#0ff,#0fb,#0fa,#0fa,#0fa,#0fa,#0fa,#0fa,#0fa,#0fa,#0fc,#0ff,#0cf,#08f,#04f,#00f,#30c,#508,#305,#102,#101,#000)"></i><i style="left:143px;width:1px;background:linear-gradient(#000,#06f,#0fc,#0f8,#0f7,#0f7,#0f7,#0f7,#0f7,#0f7,#0f7,#0fa,#0fd,#0df,#0af,#06f,#01f,#30c,#508,#305,#407,#407,#407,#000)"></i><i style="left:144px;width:1px;background:linear-gradient(#000,#05f,#0fe,#0f9,#0f9,#0f9,#0f9,#0f9,#0f9,#0f9,#0f9,#0fb,#0fe,#0df,#0af,#06f,#01f,#20d,#609,#306,#50a,#50a,#000,#000)"></i><i style="left:145px;width:1px;background:linear-gradient(#000,#08f,#0f8,#0f3,#0f2,#0f2,#0f2,#0f2,#0f2,#0f2,#0f2,#0f2,#0f3,#0f6,#0fb,#0ff,#0bf,#06f,#00f,#40b,#508,#204,#50a,#101)"></i><i style="left:146px;width:1px;background:linear-gradient(#000,#08f,#0f8,#0f3,#0f2,#0f2,#0f2,#0f2,#0f2,#0f2,#0f2,#0f2,#0f5,#0f8,#0fc,#0df,#09f,#04f,#10e,#50a,#406,#203,#102,#000)"></i><i style="left:147px;width:1px;background:linear-gradient(#000,#08f,#0f7,#0f2,#0f1,#0f1,#0f1,#0f1,#0f1,#0f1,#0f1,#0f3,#0f6,#0fb,#0ef,#0af,#06f,#00f,#40b,#407,#204,#407,#50a,#000)"></i><i style="left:148px;width:1px;background:linear-gradient(#000,#0ef,#0f3,#0f3,#0f3,#3f0,#8f0,#bf0,#bf0,#bf0,#bf0,#bf0,#bf0,#8f0,#4f0,#0f1,#0f8,#0fe,#0af,#03f,#30d,#508,#50a,#102)"></i><i style="left:149px;width:1px;background:linear-gradient(#000,#05f,#0fe,#0fa,#0f9,#0f9,#0f9,#0f9,#0f9,#0f9,#0fa,#0fd,#0ef,#0af,#07f,#02f,#20d,#50a,#406,#203,#102,#204,#204,#000)"></i><i style="left:150px;width:1px;background:linear-gradient(#000,#07f,#0fb,#0f6,#0f5,#0f5,#0f5,#0f5,#0f5,#0f5,#0f7,#0fa,#0ff,#0cf,#08f,#03f,#20d,#50a,#406,#203,#407,#000,#50a,#000)"></i><i style="left:151px;width:1px;background:linear-gradient(#000,#09f,#0f7,#0f2,#0f1,#0f1,#0f1,#0f1,#0f1,#0f1,#0f1,#0f3,#0f6,#0fb,#0ef,#0af,#05f,#00f,#40b,#407,#203,#204,#001,#000)"></i><i style="left:152px;width:1px;background:linear-gradient(#000,#08f,#0f7,#0f2,#0f1,#0f1,#0f1,#0f1,#0f1,#0f1,#0f1,#0f2,#0f4,#0f8,#0fd,#0df,#09f,#03f,#20d,#50a,#406,#203,#407,#000)"></i><i style="left:153px;width:1px;background:linear-gradient(#000,#06f,#0fb,#0f7,#0f6,#0f6,#0f6,#0f6,#0f6,#0f6,#0f6,#0f8,#0fb,#0ef,#0bf,#07f,#02f,#20d,#609,#306,#204,#101,#000,#000)"></i><i style="left:154px;width:1px;background:linear-gradient(#000,#05f,#0fe,#0fa,#0f9,#0f9,#0f9,#0f9,#0f9,#0f9,#0f9,#0fb,#0fd,#0df,#0af,#07f,#02f,#20d,#50a,#406,#203,#50a,#204,#000)"></i><i style="left:155px;width:1px;background:linear-gradient(#000,#06f,#0fd,#0f8,#0f8,#0f8,#0f8,#0f8,#0f8,#0f8,#0f8,#0fb,#0fe,#0df,#09f,#05f,#00f,#30c,#508,#304,#407,#407,#50a,#000)"></i><i style="left:156px;width:1px;background:linear-gradient(#000,#04f,#0ef,#0fc,#0fb,#0fb,#0fb,#0fb,#0fb,#0fb,#0fd,#0ef,#0bf,#08f,#05f,#00f,#30c,#508,#305,#202,#204,#407,#102,#000)"></i><i style="left:157px;width:1px;background:linear-gradient(#000,#04f,#0ff,#0fb,#0fa,#0fa,#0fa,#0fa,#0fa,#0fa,#0fa,#0fc,#0ff,#0cf,#09f,#05f,#00f,#30c,#509,#305,#204,#102,#000,#000)"></i><i style="left:158px;width:1px;background:linear-gradient(#000,#0df,#0f3,#0f3,#0f3,#2f0,#6f0,#9f0,#9f0,#9f0,#9f0,#9f0,#9f0,#9f0,#6f0,#1f0,#0f4,#0fa,#0ef,#08f,#00f,#40b,#407,#203)"></i><i style="left:159px;width:1px;background:linear-gradient(#000,#0af,#0f4,#1f0,#2f0,#2f0,#2f0,#2f0,#2f0,#2f0,#2f0,#2f0,#0f0,#0f3,#0f8,#0fd,#0cf,#07f,#01f,#30c,#508,#204,#102,#001)"></i><i style="left:160px;width:1px;background:linear-gradient(#000,#09f,#0f6,#0f1,#0f0,#0f0,#0f0,#0f0,#0f0,#0f0,#0f0,#0f0,#0f2,#0f5,#0fa,#0ff,#0bf,#06f,#01f,#30c,#508,#304,#102,#101)"></i><i style="left:161px;width:1px;background:linear-gradient(#000,#0af,#0f4,#1f0,#2f0,#2f0,#2f0,#2f0,#2f0,#2f0,#2f0,#0f0,#0f3,#0f8,#0fd,#0cf,#07f,#01f,#30c,#508,#50a,#50a,#001,#000)"></i><i style="left:162px;width:1px;background:linear-gradient(#000,#09f,#0f7,#0f2,#0f1,#0f1,#0f1,#0f1,#0f1,#0f1,#0f1,#0f3,#0f6,#0fb,#0ff,#0bf,#06f,#00f,#40b,#407,#204,#102,#407,#000)"></i><i style="left:163px;width:1px;background:linear-gradient(#000,#09f,#0f7,#0f1,#0f0,#0f0,#0f0,#0f0,#0f0,#0f0,#0f0,#0f0,#0f3,#0f6,#0fa,#0ff,#0bf,#06f,#00f,#40b,#407,#203,#102,#001)"></i><i style="left:164px;width:1px;background:linear-gradient(#000,#06f,#0fc,#0f8,#0f7,#0f7,#0f7,#0f7,#0f7,#0f7,#0f7,#0fa,#0fd,#0df,#0af,#06f,#01f,#30c,#508,#305,#50a,#407,#50a,#000)"></i><i style="left:165px;width:1px;background:linear-gradient(#000,#05f,#0fe,#0fa,#0f9,#0f9,#0f9,#0f9,#0f9,#0f9,#0f9,#0fb,#0fe,#0df,#0af,#06f,#01f,#20d,#60a,#306,#50a,#101,#50a,#000)"></i><i style="left:166px;width:1px;background:linear-gradient(#000,#05f,#0ff,#0fa,#0f9,#0f9,#0f9,#0f9,#0f9,#0f9,#0fb,#0fe,#0df,#0af,#06f,#02f,#20d,#50a,#406,#203,#204,#407,#204,#000)"></i><i style="left:167px;width:1px;background:linear-gradient(#000,#06f,#0fd,#0f8,#0f7,#0f7,#0f7,#0f7,#0f7,#0f7,#0f9,#0fc,#0ef,#0bf,#07f,#02f,#20d,#50a,#406,#203,#407,#001,#407,#000)"></i><i style="left:168px;width:1px;background:linear-gradient(#000,#05f,#0fe,#0f9,#0f9,#0f9,#0f9,#0f9,#0f9,#0f9,#0fa,#0fc,#0ef,#0bf,#08f,#03f,#10e,#40b,#407,#204,#204,#101,#102,#000)"></i><i style="left:169px;width:1px;background:linear-gradient(#000,#07f,#0fb,#0f6,#0f5,#0f5,#0f5,#0f5,#0f5,#0f5,#0f6,#0f9,#0fd,#0df,#09f,#05f,#00f,#40b,#407,#204,#102,#50a,#000,#000)"></i><i style="left:170px;width:1px;background:linear-gradient(#000,#0af,#0f5,#1f0,#2f0,#2f0,#2f0,#2f0,#2f0,#2f0,#2f0,#1f0,#0f1,#0f5,#0fa,#0ff,#0af,#05f,#10e,#50a,#406,#203,#102,#000)"></i><i style="left:171px;width:1px;background:linear-gradient(#000,#09f,#0f5,#0f0,#1f0,#1f0,#1f0,#1f0,#1f0,#1f0,#1f0,#1f0,#0f1,#0f4,#0f8,#0fd,#0cf,#07f,#01f,#30c,#508,#304,#50a,#101)"></i><i style="left:172px;width:1px;background:linear-gradient(#000,#0af,#0f5,#1f0,#2f0,#2f0,#2f0,#2f0,#2f0,#2f0,#2f0,#2f0,#1f0,#0f2,#0f6,#0fa,#0ef,#0af,#04f,#10e,#50a,#406,#203,#101)"></i><i style="left:173px;width:1px;background:linear-gradient(#000,#0bf,#0f3,#2f0,#3f0,#3f0,#3f0,#3f0,#3f0,#3f0,#3f0,#3f0,#2f0,#0f1,#0f6,#0fb,#0ef,#09f,#03f,#20d,#509,#407,#202,#101)"></i><i style="left:174px;width:1px;background:linear-gradient(#000,#07f,#0fa,#0f5,#0f4,#0f4,#0f4,#0f4,#0f4,#0f4,#0f6,#0f9,#0fd,#0df,#09f,#04f,#10e,#40b,#407,#203,#204,#50a,#102,#000)"></i><i style="left:175px;width:1px;background:linear-gradient(#000,#0df,#0f3,#0f3,#0f3,#1f0,#6f0,#8f0,#8f0,#8f0,#8f0,#8f0,#4f0,#0f0,#0f6,#0fc,#0cf,#07f,#00f,#40b,#407,#407,#407,#000)"></i><i style="left:176px;width:1px;background:linear-gradient(#000,#0ff,#0f3,#0f3,#0f3,#3f0,#af0,#df0,#df0,#df0,#df0,#df0,#df0,#9f0,#4f0,#0f2,#0f8,#0ff,#08f,#02f,#40b,#407,#407,#102)"></i><i style="left:177px;width:1px;background:linear-gradient(#000,#0fd,#0f3,#0f3,#0f3,#5f0,#df0,#fd0,#fd0,#fd0,#fd0,#fd0,#fe0,#df0,#9f0,#2f0,#0f5,#0fc,#0bf,#04f,#30d,#508,#407,#102)"></i><i style="left:178px;width:1px;background:linear-gradient(#000,#0ff,#0f3,#0f3,#0f3,#4f0,#af0,#ef0,#ef0,#ef0,#ef0,#ef0,#ef0,#cf0,#9f0,#3f0,#0f3,#0fa,#0df,#07f,#00f,#50a,#406,#203)"></i><i style="left:179px;width:1px;background:linear-gradient(#000,#0fd,#0f3,#0f3,#0f3,#5f0,#cf0,#fe0,#fe0,#fe0,#fe0,#fe0,#ff0,#cf0,#6f0,#0f0,#0f7,#0fe,#09f,#02f,#40b,#50a,#203,#102)"></i><i style="left:180px;width:1px;background:linear-gradient(#000,#0fd,#0f3,#0f3,#0f3,#5f0,#cf0,#fe0,#fe0,#fe0,#fe0,#fe0,#ff0,#bf0,#5f0,#0f1,#0f8,#0ef,#08f,#00f,#50a,#406,#407,#101)"></i><i style="left:181px;width:1px;background:linear-gradient(#000,#0ff,#0f3,#0f3,#0f3,#3f0,#af0,#ef0,#ef0,#ef0,#ef0,#ef0,#af0,#6f0,#0f0,#0f7,#0fe,#0af,#03f,#30c,#508,#204,#407,#000)"></i><i style="left:182px;width:1px;background:linear-gradient(#000,#0fd,#0f3,#0f3,#0f3,#5f0,#cf0,#fd0,#fd0,#fd0,#fd0,#ff0,#cf0,#5f0,#0f1,#0f8,#0ef,#08f,#00f,#50b,#407,#203,#101,#000)"></i><i style="left:183px;width:1px;background:linear-gradient(#000,#0bf,#0f3,#3f0,#4f0,#4f0,#4f0,#4f0,#4f0,#4f0,#4f0,#4f0,#1f0,#0f2,#0f7,#0fd,#0cf,#07f,#01f,#40b,#407,#50a,#204,#001)"></i><i style="left:184px;width:1px;background:linear-gradient(#000,#0ef,#0f3,#0f3,#0f3,#2f0,#8f0,#bf0,#bf0,#bf0,#bf0,#bf0,#9f0,#5f0,#0f0,#0f6,#0fd,#0bf,#05f,#10e,#50a,#305,#202,#101)"></i><i style="left:185px;width:1px;background:linear-gradient(#000,#0cf,#0f3,#0f3,#0f3,#1f0,#5f0,#8f0,#8f0,#8f0,#8f0,#8f0,#4f0,#0f0,#0f5,#0fb,#0df,#07f,#01f,#40b,#407,#203,#102,#000)"></i><i style="left:186px;width:1px;background:linear-gradient(#000,#07f,#0fb,#0f6,#0f5,#0f5,#0f5,#0f5,#0f5,#0f5,#0f5,#0f7,#0fb,#0ff,#0cf,#08f,#03f,#20d,#50a,#406,#203,#102,#000,#000)"></i><i style="left:187px;width:1px;background:linear-gradient(#000,#05f,#0fe,#0f9,#0f8,#0f8,#0f8,#0f8,#0f8,#0f8,#0f8,#0fa,#0fd,#0df,#0af,#06f,#02f,#20d,#609,#306,#407,#101,#50a,#000)"></i><i style="left:188px;width:1px;background:linear-gradient(#000,#05f,#0ff,#0fa,#0fa,#0fa,#0fa,#0fa,#0fa,#0fa,#0fa,#0fc,#0ff,#0cf,#09f,#05f,#00f,#30c,#508,#305,#204,#102,#000,#000)"></i><i style="left:189px;width:1px;background:linear-gradient(#000,#05f,#0fe,#0fa,#0f9,#0f9,#0f9,#0f9,#0f9,#0f9,#0f9,#0fc,#0ff,#0cf,#09f,#05f,#00f,#30c,#508,#305,#102,#101,#102,#000)"></i><i style="left:190px;width:1px;background:linear-gradient(#000,#09f,#0f7,#0f2,#0f1,#0f1,#0f1,#0f1,#0f1,#0f1,#0f1,#0f1,#0f3,#0f7,#0fb,#0ef,#0af,#05f,#10e,#50a,#407,#203,#102,#000)"></i><i style="left:191px;width:1px;background:linear-gradient(#000,#09f,#0f5,#0f0,#1f0,#1f0,#1f0,#1f0,#1f0,#1f0,#1f0,#1f0,#0f1,#0f4,#0f9,#0fe,#0cf,#07f,#01f,#30c,#508,#407,#102,#001)"></i><i style="left:192px;width:1px;background:linear-gradient(#000,#09f,#0f5,#0f0,#1f0,#1f0,#1f0,#1f0,#1f0,#1f0,#1f0,#1f0,#0f1,#0f4,#0f9,#0fe,#0bf,#07f,#01f,#40c,#508,#50a,#102,#001)"></i><i style="left:193px;width:1px;background:linear-gradient(#000,#08f,#0f8,#0f3,#0f2,#0f2,#0f2,#0f2,#0f2,#0f2,#0f2,#0f2,#0f2,#0f5,#0f9,#0fd,#0cf,#08f,#03f,#20d,#509,#305,#202,#101)"></i><i style="left:194px;width:1px;background:linear-gradient(#000,#0af,#0f5,#1f0,#1f0,#1f0,#1f0,#1f0,#1f0,#1f0,#1f0,#1f0,#1f0,#0f2,#0f5,#0fa,#0ef,#0af,#05f,#10e,#50a,#50a,#203,#102)"></i><i style="left:195px;width:1px;background:linear-gradient(#000,#06f,#0fc,#0f7,#0f6,#0f6,#0f6,#0f6,#0f6,#0f6,#0f7,#0f9,#0fc,#0ef,#0af,#06f,#01f,#30c,#509,#305,#50a,#101,#000,#000)"></i><i style="left:196px;width:1px;background:linear-gradient(#000,#04f,#0ff,#0fb,#0fa,#0fa,#0fa,#0fa,#0fa,#0fa,#0fa,#0fc,#0fe,#0df,#09f,#06f,#01f,#20d,#60a,#406,#407,#50a,#50a,#000)"></i><i style="left:197px;width:1px;background:linear-gradient(#000,#07f,#0fb,#0f6,#0f5,#0f5,#0f5,#0f5,#0f5,#0f5,#0f6,#0f9,#0fd,#0df,#09f,#05f,#00f,#40b,#407,#204,#102,#50a,#204,#000)"></i><i style="left:198px;width:1px;background:linear-gradient(#000,#0ef,#0f3,#0f3,#0f3,#2f0,#8f0,#bf0,#bf0,#bf0,#bf0,#bf0,#8f0,#5f0,#0f1,#0f7,#0fd,#0bf,#05f,#20d,#609,#305,#50a,#101)"></i><i style="left:199px;width:1px;background:linear-gradient(#000,#0ef,#0f3,#0f3,#0f3,#3f0,#9f0,#cf0,#cf0,#cf0,#cf0,#cf0,#af0,#6f0,#0f0,#0f6,#0fd,#0bf,#05f,#20d,#609,#305,#202,#101)"></i><i style="left:200px;width:1px;background:linear-gradient(#000,#0bf,#0f2,#4f0,#5f0,#5f0,#5f0,#5f0,#5f0,#5f0,#5f0,#5f0,#3f0,#0f0,#0f5,#0fa,#0ef,#09f,#03f,#20d,#50a,#50a,#202,#101)"></i><i style="left:201px;width:1px;background:linear-gradient(#000,#0fc,#0f3,#0f3,#0f3,#5f0,#ef0,#fc0,#fc0,#fc0,#fc0,#fc0,#ff0,#bf0,#4f0,#0f3,#0fa,#0cf,#06f,#20d,#609,#304,#50a,#001)"></i><i style="left:202px;width:1px;background:linear-gradient(#000,#0fd,#0f3,#0f3,#0f3,#5f0,#cf0,#fe0,#fe0,#fe0,#fe0,#fe0,#ff0,#cf0,#6f0,#0f0,#0f7,#0ff,#08f,#01f,#40b,#50a,#203,#101)"></i><i style="left:203px;width:1px;background:linear-gradient(#000,#0fe,#0f3,#0f3,#0f3,#4f0,#bf0,#ff0,#ff0,#ff0,#ff0,#ff0,#cf0,#8f0,#2f0,#0f4,#0fb,#0cf,#05f,#10e,#60a,#305,#50a,#101)"></i><i style="left:204px;width:1px;background:linear-gradient(#000,#0fd,#0f3,#0f3,#0f3,#5f0,#cf0,#fe0,#fe0,#fe0,#fe0,#fe0,#fe0,#cf0,#7f0,#1f0,#0f6,#0fe,#09f,#02f,#40b,#50a,#203,#102)"></i><i style="left:205px;width:1px;background:linear-gradient(#000,#0fe,#0f3,#0f3,#0f3,#4f0,#bf0,#ff0,#ff0,#ff0,#ff0,#ef0,#bf0,#6f0,#0f0,#0f7,#0fe,#09f,#02f,#30c,#508,#407,#204,#000)"></i><i style="left:206px;width:1px;background:linear-gradient(#000,#0af,#0f5,#1f0,#2f0,#2f0,#2f0,#2f0,#2f0,#2f0,#2f0,#1f0,#0f2,#0f7,#0fc,#0df,#09f,#03f,#20d,#509,#305,#202,#101,#000)"></i><i style="left:207px;width:1px;background:linear-gradient(#000,#0df,#0f3,#0f3,#0f3,#2f0,#6f0,#9f0,#9f0,#9f0,#9f0,#7f0,#3f0,#0f2,#0f8,#0fe,#0af,#04f,#20d,#509,#305,#202,#101,#000)"></i><i style="left:208px;width:1px;background:linear-gradient(#000,#08f,#0f8,#0f3,#0f2,#0f2,#0f2,#0f2,#0f2,#0f3,#0f6,#0fa,#0fe,#0bf,#07f,#02f,#30c,#508,#305,#202,#50a,#000,#50a,#000)"></i><i style="left:209px;width:1px;background:linear-gradient(#000,#0af,#0f4,#1f0,#2f0,#2f0,#2f0,#2f0,#2f0,#2f0,#2f0,#0f1,#0f5,#0fa,#0ff,#0af,#05f,#10e,#50a,#406,#50a,#101,#102,#000)"></i><i style="left:210px;width:1px;background:linear-gradient(#000,#09f,#0f6,#0f1,#0f0,#0f0,#0f0,#0f0,#0f0,#0f0,#0f0,#0f2,#0f5,#0f9,#0fe,#0bf,#07f,#01f,#30c,#508,#304,#407,#50a,#000)"></i><i style="left:211px;width:1px;background:linear-gradient(#000,#0af,#0f5,#1f0,#2f0,#2f0,#2f0,#2f0,#2f0,#2f0,#2f0,#0f0,#0f2,#0f7,#0fc,#0df,#08f,#03f,#20d,#509,#305,#202,#204,#000)"></i><i style="left:212px;width:1px;background:linear-gradient(#000,#0af,#0f4,#2f0,#3f0,#3f0,#3f0,#3f0,#3f0,#3f0,#3f0,#0f0,#0f4,#0f8,#0fe,#0bf,#06f,#00f,#40b,#407,#407,#204,#000,#000)"></i><i style="left:213px;width:1px;background:linear-gradient(#000,#0af,#0f4,#1f0,#2f0,#2f0,#2f0,#2f0,#2f0,#2f0,#1f0,#0f2,#0f6,#0fb,#0ef,#09f,#04f,#20d,#609,#305,#203,#101,#407,#000)"></i><i style="left:214px;width:1px;background:linear-gradient(#000,#09f,#0f5,#0f0,#1f0,#1f0,#1f0,#1f0,#1f0,#1f0,#0f1,#0f4,#0f9,#0fe,#0cf,#07f,#01f,#30c,#508,#204,#102,#001,#50a,#000)"></i><i style="left:215px;width:1px;background:linear-gradient(#000,#0af,#0f4,#2f0,#3f0,#3f0,#3f0,#3f0,#3f0,#3f0,#3f0,#1f0,#0f2,#0f7,#0fc,#0df,#08f,#02f,#30c,#508,#304,#102,#101,#000)"></i><i style="left:216px;width:1px;background:linear-gradient(#000,#0bf,#0f2,#4f0,#5f0,#5f0,#5f0,#5f0,#5f0,#5f0,#5f0,#2f0,#0f2,#0f7,#0fd,#0cf,#07f,#01f,#40b,#407,#203,#102,#407,#000)"></i><i style="left:217px;width:1px;background:linear-gradient(#000,#09f,#0f5,#0f0,#1f0,#1f0,#1f0,#1f0,#1f0,#1f0,#1f0,#0f1,#0f5,#0f9,#0ff,#0bf,#06f,#00f,#40b,#407,#50a,#102,#50a,#000)"></i><i style="left:218px;width:1px;background:linear-gradient(#000,#0af,#0f4,#2f0,#3f0,#3f0,#3f0,#3f0,#3f0,#3f0,#3f0,#0f0,#0f3,#0f8,#0fe,#0bf,#06f,#00f,#40b,#407,#203,#407,#102,#000)"></i><i style="left:219px;width:1px;background:linear-gradient(#000,#0af,#0f5,#1f0,#2f0,#2f0,#2f0,#2f0,#2f0,#2f0,#2f0,#1f0,#0f1,#0f5,#0fa,#0ef,#0af,#04f,#10e,#50a,#406,#203,#102,#000)"></i><i style="left:220px;width:1px;background:linear-gradient(#000,#0bf,#0f3,#3f0,#4f0,#4f0,#4f0,#4f0,#4f0,#4f0,#4f0,#4f0,#1f0,#0f2,#0f7,#0fc,#0cf,#07f,#01f,#30c,#508,#50a,#204,#001)"></i><i style="left:221px;width:1px;background:linear-gradient(#000,#0af,#0f4,#2f0,#3f0,#3f0,#3f0,#3f0,#3f0,#3f0,#3f0,#3f0,#2f0,#0f1,#0f5,#0fa,#0ef,#0af,#04f,#10e,#50a,#407,#203,#101)"></i><i style="left:222px;width:1px;background:linear-gradient(#000,#0cf,#0f1,#5f0,#6f0,#6f0,#6f0,#6f0,#6f0,#6f0,#6f0,#6f0,#3f0,#0f1,#0f7,#0fc,#0cf,#07f,#00f,#40b,#50a,#204,#407,#000)"></i><i style="left:223px;width:1px;background:linear-gradient(#000,#0bf,#0f3,#3f0,#4f0,#4f0,#4f0,#4f0,#4f0,#4f0,#4f0,#3f0,#0f0,#0f5,#0fa,#0ef,#09f,#04f,#20d,#609,#305,#202,#101,#000)"></i><i style="left:224px;width:1px;background:linear-gradient(#000,#0bf,#0f2,#4f0,#5f0,#5f0,#5f0,#5f0,#5f0,#5f0,#5f0,#2f0,#0f1,#0f6,#0fc,#0df,#08f,#02f,#30c,#508,#204,#50a,#50a,#000)"></i><i style="left:225px;width:1px;background:linear-gradient(#000,#0bf,#0f2,#4f0,#5f0,#5f0,#5f0,#5f0,#5f0,#5f0,#5f0,#5f0,#3f0,#0f1,#0f6,#0fc,#0df,#08f,#02f,#30c,#508,#204,#102,#001)"></i><i style="left:226px;width:1px;background:linear-gradient(#000,#0fe,#0f3,#0f3,#0f3,#4f0,#bf0,#ff0,#ff0,#ff0,#ff0,#ff0,#ff0,#df0,#af0,#4f0,#0f3,#0fa,#0df,#07f,#00f,#50a,#406,#203)"></i><i style="left:227px;width:1px;background:linear-gradient(#000,#0cf,#0f1,#5f0,#6f0,#6f0,#6f0,#6f0,#6f0,#6f0,#6f0,#6f0,#3f0,#0f2,#0f7,#0fd,#0cf,#06f,#00f,#50b,#407,#203,#102,#000)"></i><i style="left:228px;width:1px;background:linear-gradient(#000,#0bf,#0f2,#4f0,#5f0,#5f0,#5f0,#5f0,#5f0,#5f0,#5f0,#3f0,#0f0,#0f5,#0fa,#0ef,#09f,#03f,#20d,#509,#50a,#202,#102,#000)"></i><i style="left:229px;width:1px;background:linear-gradient(#000,#08f,#0f8,#0f3,#0f2,#0f2,#0f2,#0f2,#0f2,#0f2,#0f3,#0f6,#0fa,#0fe,#0cf,#07f,#02f,#20d,#509,#305,#204,#101,#204,#000)"></i><i style="left:230px;width:1px;background:linear-gradient(#000,#06f,#0fc,#0f8,#0f7,#0f7,#0f7,#0f7,#0f7,#0f7,#0fa,#0fd,#0df,#09f,#06f,#00f,#30c,#508,#305,#102,#101,#204,#000,#000)"></i><i style="left:231px;width:1px;background:linear-gradient(#000,#06f,#0fc,#0f7,#0f6,#0f6,#0f6,#0f6,#0f6,#0f6,#0f8,#0fa,#0fe,#0cf,#08f,#04f,#10e,#40b,#407,#204,#407,#407,#000,#000)"></i><i style="left:232px;width:1px;background:linear-gradient(#000,#06f,#0fc,#0f7,#0f6,#0f6,#0f6,#0f6,#0f6,#0f6,#0f8,#0fb,#0ff,#0bf,#07f,#03f,#20d,#50a,#406,#203,#102,#50a,#000,#000)"></i><i style="left:233px;width:1px;background:linear-gradient(#000,#08f,#0f8,#0f3,#0f2,#0f2,#0f2,#0f2,#0f2,#0f3,#0f5,#0f9,#0fe,#0cf,#08f,#02f,#20d,#509,#305,#202,#102,#407,#204,#000)"></i><i style="left:234px;width:1px;background:linear-gradient(#000,#08f,#0f9,#0f4,#0f3,#0f3,#0f3,#0f3,#0f3,#0f3,#0f6,#0f9,#0fd,#0cf,#08f,#03f,#20d,#50a,#406,#203,#101,#000,#204,#000)"></i><i style="left:235px;width:1px;background:linear-gradient(#000,#07f,#0fa,#0f5,#0f4,#0f4,#0f4,#0f4,#0f4,#0f4,#0f5,#0f8,#0fc,#0ef,#0af,#05f,#00f,#40b,#407,#204,#407,#101,#102,#000)"></i><i style="left:236px;width:1px;background:linear-gradient(#000,#06f,#0fc,#0f7,#0f7,#0f7,#0f7,#0f7,#0f7,#0f7,#0f7,#0f9,#0fc,#0ef,#0af,#06f,#01f,#30c,#509,#305,#202,#101,#000,#000)"></i><i style="left:237px;width:1px;background:linear-gradient(#000,#0bf,#0f2,#4f0,#5f0,#5f0,#5f0,#5f0,#5f0,#5f0,#5f0,#5f0,#2f0,#0f1,#0f6,#0fc,#0df,#08f,#02f,#30c,#508,#304,#50a,#001)"></i><i style="left:238px;width:1px;background:linear-gradient(#000,#0cf,#0f1,#5f0,#6f0,#6f0,#6f0,#6f0,#6f0,#6f0,#6f0,#4f0,#1f0,#0f5,#0fa,#0ef,#09f,#03f,#30c,#508,#50a,#204,#101,#000)"></i><i style="left:239px;width:1px;background:linear-gradient(#000,#08f,#0f8,#0f3,#0f3,#0f3,#0f3,#0f3,#0f3,#0f3,#0f4,#0f6,#0fb,#0ff,#0bf,#06f,#01f,#30c,#508,#304,#102,#101,#407,#000)"></i><i style="left:240px;width:1px;background:linear-gradient(#000,#08f,#0f8,#0f3,#0f2,#0f2,#0f2,#0f2,#0f2,#0f2,#0f2,#0f4,#0f8,#0fc,#0df,#09f,#05f,#10e,#50b,#407,#204,#102,#204,#000)"></i><i style="left:241px;width:1px;background:linear-gradient(#000,#0fe,#0f3,#0f3,#0f3,#4f0,#bf0,#ff0,#ff0,#ff0,#ff0,#ff0,#ff0,#ff0,#bf0,#6f0,#0f0,#0f7,#0fe,#0af,#00f,#30c,#50a,#204)"></i><i style="left:242px;width:1px;background:linear-gradient(#000,#08f,#0f9,#0f4,#0f3,#0f3,#0f3,#0f3,#0f3,#0f3,#0f4,#0f6,#0fb,#0ff,#0bf,#06f,#01f,#30c,#508,#304,#50a,#204,#000,#000)"></i><i style="left:243px;width:1px;background:linear-gradient(#000,#06f,#0fd,#0f8,#0f7,#0f7,#0f7,#0f7,#0f7,#0f7,#0f7,#0f9,#0fb,#0ff,#0bf,#08f,#03f,#10e,#50b,#407,#407,#102,#407,#000)"></i><i style="left:244px;width:1px;background:linear-gradient(#000,#0af,#0f3,#2f0,#3f0,#3f0,#3f0,#3f0,#3f0,#3f0,#3f0,#3f0,#2f0,#0f1,#0f6,#0fb,#0ef,#09f,#03f,#20d,#509,#305,#202,#101)"></i><i style="left:245px;width:1px;background:linear-gradient(#000,#0cf,#0f1,#5f0,#6f0,#6f0,#6f0,#6f0,#6f0,#6f0,#6f0,#6f0,#6f0,#3f0,#0f2,#0f7,#0fd,#0cf,#06f,#00f,#40b,#407,#203,#102)"></i><i style="left:246px;width:1px;background:linear-gradient(#000,#0af,#0f4,#2f0,#3f0,#3f0,#3f0,#3f0,#3f0,#3f0,#3f0,#3f0,#3f0,#0f0,#0f3,#0f8,#0fe,#0cf,#06f,#00f,#40b,#407,#203,#102)"></i><i style="left:247px;width:1px;background:linear-gradient(#000,#0af,#0f5,#1f0,#2f0,#2f0,#2f0,#2f0,#2f0,#2f0,#2f0,#2f0,#2f0,#0f1,#0f5,#0fa,#0ff,#0af,#05f,#10e,#50a,#406,#50a,#102)"></i><i style="left:248px;width:1px;background:linear-gradient(#000,#0bf,#0f3,#3f0,#4f0,#4f0,#4f0,#4f0,#4f0,#4f0,#4f0,#4f0,#1f0,#0f3,#0f8,#0fe,#0bf,#06f,#00f,#40b,#407,#50a,#102,#000)"></i><i style="left:249px;width:1px;background:linear-gradient(#000,#05f,#0fe,#0f9,#0f8,#0f8,#0f8,#0f8,#0f8,#0f8,#0fa,#0fd,#0ef,#0af,#07f,#02f,#20d,#50a,#406,#203,#50a,#001,#102,#000)"></i><i style="left:250px;width:1px;background:linear-gradient(#000,#07f,#0fb,#0f6,#0f5,#0f5,#0f5,#0f5,#0f5,#0f6,#0f9,#0fd,#0df,#0af,#05f,#00f,#40b,#508,#304,#102,#407,#000,#50a,#000)"></i><i style="left:251px;width:1px;background:linear-gradient(#000,#07f,#0fb,#0f6,#0f5,#0f5,#0f5,#0f5,#0f5,#0f6,#0f9,#0fd,#0df,#09f,#05f,#00f,#40b,#407,#204,#102,#102,#407,#204,#000)"></i><i style="left:252px;width:1px;background:linear-gradient(#000,#09f,#0f6,#0f1,#0f0,#0f0,#0f0,#0f0,#0f0,#0f0,#0f2,#0f5,#0fa,#0ff,#0bf,#06f,#00f,#40b,#407,#203,#102,#001,#000,#000)"></i><i style="left:253px;width:1px;background:linear-gradient(#000,#09f,#0f6,#0f1,#0f0,#0f0,#0f0,#0f0,#0f0,#0f0,#0f0,#0f2,#0f5,#0f9,#0fe,#0bf,#06f,#01f,#30c,#508,#50a,#102,#50a,#000)"></i><i style="left:254px;width:1px;background:linear-gradient(#000,#09f,#0f6,#0f0,#1f0,#1f0,#1f0,#1f0,#1f0,#1f0,#1f0,#0f0,#0f3,#0f7,#0fc,#0df,#08f,#03f,#20d,#509,#305,#204,#204,#000)"></i><i style="left:255px;width:1px;background:linear-gradient(#000,#07f,#0fb,#0f6,#0f6,#0f6,#0f6,#0f6,#0f6,#0f6,#0f8,#0fc,#0ef,#0bf,#07f,#02f,#20d,#509,#305,#202,#102,#50a,#204,#000)"></i><i style="left:256px;width:1px;background:linear-gradient(#000,#05f,#0fe,#0fa,#0f9,#0f9,#0f9,#0f9,#0f9,#0f9,#0fa,#0fc,#0ef,#0bf,#08f,#03f,#10e,#40b,#407,#204,#102,#102,#204,#000)"></i><i style="left:257px;width:2px;background:linear-gradient(#000,#0fd,#0f0,#4f0,#4f0,#4f0,#4f0,#4f0,#0f1,#2f0,#3f0,#0f8,#0fc,#07f,#02f,#03f,#203,#102,#000,#000)"></i><i style="left:259px;width:2px;background:linear-gradient(#203,#0fc,#0f0,#4f0,#3f0,#3f0,#3f0,#2f0,#6f0,#5f0,#1f0,#0f2,#0cf,#0ff,#03f,#00f,#406,#000,#102,#000)"></i><i style="left:261px;width:2px;background:linear-gradient(#407,#0fb,#0f0,#3f0,#3f0,#2f0,#1f0,#1f0,#0f1,#0f3,#0f2,#0f6,#0ef,#0bf,#02f,#40b,#30c,#000,#102,#000)"></i><i style="left:263px;width:2px;background:linear-gradient(#50a,#0fa,#0f0,#3f0,#2f0,#1f0,#0f0,#0f1,#0f6,#0f0,#0f6,#0f9,#0bf,#05f,#10e,#30c,#508,#000,#407,#000)"></i><i style="left:265px;width:2px;background:linear-gradient(#30d,#0f9,#0f0,#2f0,#2f0,#0f0,#0f2,#0f3,#0f0,#0f2,#0fe,#0df,#09f,#09f,#04f,#40b,#509,#000,#102,#000)"></i><i style="left:267px;width:2px;background:linear-gradient(#00f,#0f8,#0f0,#2f0,#1f0,#0f1,#0f3,#0f5,#0fb,#0f9,#0f6,#0fa,#0ef,#08f,#20d,#10e,#50a,#000,#407,#000)"></i><i style="left:269px;width:2px;background:linear-gradient(#04f,#0f7,#0f0,#2f0,#1f0,#0f2,#0f4,#0f6,#0f4,#0f9,#0fd,#0ef,#07f,#0af,#04f,#30c,#50a,#000,#000,#000)"></i><i style="left:271px;width:2px;background:linear-gradient(#07f,#0f6,#0f0,#1f0,#0f0,#0f3,#0f6,#0f8,#0f9,#0fc,#0bf,#0df,#09f,#07f,#02f,#01f,#305,#407,#407,#000)"></i><i style="left:273px;width:2px;background:linear-gradient(#0af,#0f5,#0f0,#1f0,#0f0,#0f4,#0f7,#0fa,#0fd,#0fe,#09f,#0ff,#0bf,#09f,#30c,#50a,#30d,#102,#000,#000)"></i><i style="left:275px;width:2px;background:linear-gradient(#0df,#0f4,#0f0,#0f0,#0f1,#0f4,#0f9,#0fc,#0f8,#0af,#0ff,#0bf,#04f,#07f,#10e,#30c,#30c,#407,#102,#000)"></i><i style="left:277px;width:2px;background:linear-gradient(#0f3,#0f3,#0f0,#0f0,#0f2,#0f3,#0f4,#0f6,#0f6,#0f5,#0f9,#0fe,#0f8,#0f9,#0fb,#30c,#20d,#102,#102,#000)"></i><i style="left:279px;width:2px;background:linear-gradient(#0fd,#0f3,#0f0,#0f0,#0f2,#0f5,#0fa,#0fd,#0af,#0af,#0df,#0bf,#02f,#10e,#10e,#10e,#50a,#000,#102,#000)"></i><i style="left:281px;width:2px;background:linear-gradient(#0fd,#0f3,#0f0,#0f0,#0f2,#0f5,#0fa,#0fd,#0cf,#0fe,#0ef,#08f,#0bf,#01f,#03f,#20d,#30c,#102,#102,#000)"></i><i style="left:283px;width:2px;background:linear-gradient(#0fd,#0f3,#0f0,#0f0,#0f2,#0f5,#0fa,#0fd,#0bf,#0df,#06f,#06f,#03f,#01f,#00f,#50a,#304,#102,#407,#000)"></i><i style="left:285px;width:2px;background:linear-gradient(#0fd,#0f3,#0f0,#0f0,#0f2,#0f5,#0fa,#0fd,#0fd,#09f,#06f,#06f,#05f,#04f,#20d,#509,#305,#000,#000,#000)"></i><i style="left:287px;width:2px;background:linear-gradient(#0fd,#0f3,#0f0,#0f0,#0f2,#0f5,#0fa,#0fd,#0fc,#0af,#0df,#0af,#05f,#07f,#10e,#10e,#50a,#000,#407,#000)"></i><i style="left:289px;width:2px;background:linear-gradient(#0fd,#0f3,#0f0,#0f0,#0f2,#0f5,#0fa,#0fd,#0df,#0fe,#08f,#0af,#07f,#00f,#10e,#509,#30c,#000,#000,#000)"></i><i style="left:291px;width:2px;background:linear-gradient(#0fd,#0f3,#0f0,#0f0,#0f2,#0f5,#0fa,#0fd,#0fc,#0df,#0af,#04f,#0af,#10e,#20d,#40b,#40b,#407,#000,#000)"></i><i style="left:293px;width:2px;background:linear-gradient(#0fd,#0f3,#0f0,#0f0,#0f2,#0f5,#0fa,#0fd,#0bf,#08f,#07f,#08f,#06f,#04f,#40b,#50a,#304,#000,#000,#000)"></i><i style="left:295px;width:2px;background:linear-gradient(#0fd,#0f3,#0f0,#0f0,#0f2,#0f5,#0fa,#0fd,#0af,#0bf,#09f,#09f,#03f,#08f,#30c,#40b,#306,#000,#407,#000)"></i><i style="left:297px;width:2px;background:linear-gradient(#0fd,#0f3,#0f0,#0f0,#0f2,#0f5,#0fa,#0fd,#0fb,#0cf,#0df,#07f,#02f,#01f,#20d,#10e,#30c,#000,#000,#000)"></i><i style="left:299px;width:2px;background:linear-gradient(#0fd,#0f3,#0f0,#0f0,#0f2,#0f5,#0fa,#0fd,#0af,#0fd,#0af,#03f,#03f,#04f,#10e,#50a,#508,#000,#102,#000)"></i><i style="left:301px;width:2px;background:linear-gradient(#0fd,#0f3,#0f0,#0f0,#0f2,#0f5,#0fa,#0fd,#0bf,#08f,#06f,#0cf,#09f,#03f,#30c,#30c,#406,#000,#000,#000)"></i><i style="left:303px;width:2px;background:linear-gradient(#0fd,#0f3,#0f0,#0f0,#0f2,#0f5,#0fa,#0fd,#0fd,#08f,#0cf,#07f,#04f,#04f,#10e,#30c,#20d,#000,#407,#000)"></i><i style="left:305px;width:2px;background:linear-gradient(#0f3,#0f3,#0f0,#0f0,#0f2,#0f3,#0f4,#0f6,#0fa,#0fd,#0f4,#0fc,#0fc,#0fb,#0f9,#00f,#50a,#000,#407,#000)"></i><i style="left:307px;width:2px;background:linear-gradient(#0fd,#0f3,#0f0,#0f0,#0f2,#0f5,#0fa,#0fd,#0ff,#09f,#06f,#0bf,#05f,#04f,#20d,#509,#507,#102,#407,#000)"></i><i style="left:309px;width:2px;background:linear-gradient(#0fd,#0f3,#0f0,#0f0,#0f2,#0f5,#0fa,#0fd,#0bf,#08f,#09f,#06f,#06f,#00f,#02f,#30c,#304,#000,#407,#000)"></i><i style="left:311px;width:2px;background:linear-gradient(#0fd,#0f3,#0f0,#0f0,#0f2,#0f5,#0fa,#0fd,#0df,#0df,#09f,#06f,#07f,#04f,#20d,#30c,#50a,#000,#102,#000)"></i><i style="left:313px;width:2px;background:linear-gradient(#0fd,#0f3,#0f0,#0f0,#0f2,#0f5,#0fa,#0fd,#0cf,#0ff,#09f,#0bf,#05f,#00f,#01f,#508,#20d,#407,#102,#000)"></i><i style="left:315px;width:2px;background:linear-gradient(#0fd,#0f3,#0f0,#0f0,#0f2,#0f5,#0fa,#0fd,#0fd,#0df,#06f,#0af,#01f,#04f,#00f,#00f,#50b,#102,#000,#000)"></i><i style="left:317px;width:2px;background:linear-gradient(#0fd,#0f3,#0f0,#0f0,#0f2,#0f5,#0fa,#0fd,#0ef,#0af,#0bf,#0cf,#09f,#10e,#40b,#20d,#305,#000,#000,#000)"></i><i style="left:319px;width:2px;background:linear-gradient(#0fd,#0f3,#0f0,#0f0,#0f2,#0f5,#0fa,#0fd,#0fe,#08f,#06f,#0bf,#07f,#03f,#40b,#509,#507,#000,#102,#000)"></i><i style="left:321px;width:2px;background:linear-gradient(#0fd,#0f3,#0f0,#0f0,#0f2,#0f5,#0fa,#0fd,#0cf,#08f,#0ef,#04f,#03f,#02f,#04f,#00f,#406,#000,#000,#000)"></i><i style="left:323px;width:2px;background:linear-gradient(#0fd,#0f3,#0f0,#0f0,#0f2,#0f5,#0fa,#0fd,#0ef,#0cf,#0df,#0af,#04f,#20d,#03f,#20d,#508,#000,#000,#000)"></i><i style="left:325px;width:2px;background:linear-gradient(#0fd,#0f3,#0f0,#0f0,#0f2,#0f5,#0fa,#0fd,#0ff,#0cf,#0ef,#06f,#08f,#00f,#20d,#20d,#50a,#000,#407,#000)"></i><i style="left:327px;width:2px;background:linear-gradient(#0fd,#0f3,#0f0,#0f0,#0f2,#0f5,#0fa,#0fd,#0fe,#0bf,#0bf,#08f,#0af,#07f,#10e,#30c,#407,#000,#102,#000)"></i><i style="left:329px;width:2px;background:linear-gradient(#0f3,#0f3,#0f0,#0f0,#0f2,#0f3,#0f4,#0f6,#0f4,#0f7,#0f9,#0fc,#0ef,#0f7,#0fb,#10e,#305,#102,#407,#000)"></i><i style="left:331px;width:2px;background:linear-gradient(#0fd,#0f3,#0f0,#0f0,#0f2,#0f5,#0fa,#0fd,#0fd,#0df,#0ef,#0cf,#08f,#01f,#04f,#20d,#407,#407,#407,#000)"></i><i style="left:333px;width:2px;background:linear-gradient(#0f3,#0f3,#0f0,#0f0,#0f2,#0f3,#0f4,#0f6,#0f6,#0fb,#0fc,#0fd,#0ef,#0fd,#0ef,#50a,#407,#000,#102,#000)"></i><i style="left:335px;width:2px;background:linear-gradient(#0fd,#0f3,#0f0,#0f0,#0f2,#0f5,#0fa,#0fd,#0ef,#0ef,#0af,#09f,#0af,#06f,#20d,#508,#20d,#102,#407,#000)"></i><i style="left:337px;width:2px;background:linear-gradient(#0fd,#0f3,#0f0,#0f0,#0f2,#0f5,#0fa,#0fd,#0bf,#0df,#08f,#0af,#09f,#10e,#00f,#30c,#20d,#407,#000,#000)"></i><i style="left:339px;width:2px;background:linear-gradient(#0fd,#0f3,#0f0,#0f0,#0f2,#0f5,#0fa,#0fd,#0fb,#09f,#09f,#06f,#02f,#07f,#01f,#509,#509,#000,#102,#000)"></i><i style="left:341px;width:2px;background:linear-gradient(#0fd,#0f3,#0f0,#0f0,#0f2,#0f5,#0fa,#0fd,#0fe,#0df,#0ef,#0bf,#01f,#10e,#30c,#20d,#304,#000,#407,#000)"></i><i style="left:343px;width:2px;background:linear-gradient(#0fd,#0f3,#0f0,#0f0,#0f2,#0f5,#0fa,#0fd,#0bf,#0af,#07f,#08f,#09f,#10e,#10e,#10e,#50a,#407,#000,#000)"></i><i style="left:345px;width:2px;background:linear-gradient(#0fd,#0f3,#0f0,#0f0,#0f2,#0f5,#0fa,#0fd,#0bf,#0fe,#06f,#06f,#04f,#08f,#10e,#509,#406,#000,#000,#000)"></i><i style="left:347px;width:2px;background:linear-gradient(#0fd,#0f3,#0f0,#0f0,#0f2,#0f5,#0fa,#0fd,#0bf,#0bf,#07f,#06f,#03f,#01f,#04f,#50a,#304,#407,#407,#000)"></i><i style="left:349px;width:2px;background:linear-gradient(#0fd,#0f3,#0f0,#0f0,#0f2,#0f5,#0fa,#0fd,#0bf,#0fe,#07f,#04f,#03f,#02f,#02f,#50a,#407,#407,#407,#000)"></i><i style="left:351px;width:2px;background:linear-gradient(#0fd,#0f3,#0f0,#0f0,#0f2,#0f5,#0fa,#0fd,#09f,#0af,#06f,#08f,#08f,#00f,#40b,#50a,#305,#102,#000,#000)"></i><i style="left:353px;width:2px;background:linear-gradient(#0fd,#0f3,#0f0,#0f0,#0f2,#0f5,#0fa,#0fd,#0fb,#0bf,#09f,#0cf,#0af,#01f,#30c,#10e,#30c,#102,#407,#000)"></i><i style="left:355px;width:2px;background:linear-gradient(#0fd,#0f3,#0f0,#0f0,#0f2,#0f5,#0fa,#0fd,#0fb,#08f,#0ef,#0cf,#01f,#20d,#04f,#40b,#406,#102,#102,#000)"></i><i style="left:357px;width:2px;background:linear-gradient(#0fd,#0f3,#0f0,#0f0,#0f2,#0f5,#0fa,#0fd,#0cf,#0fe,#07f,#0af,#0af,#10e,#30c,#20d,#30c,#000,#000,#000)"></i><i style="left:359px;width:2px;background:linear-gradient(#0fd,#0f3,#0f0,#0f0,#0f2,#0f5,#0fa,#0fd,#0bf,#0ff,#0ef,#0af,#08f,#10e,#20d,#30c,#407,#000,#407,#000)"></i><i style="left:361px;width:2px;background:linear-gradient(#0fd,#0f3,#0f0,#0f0,#0f2,#0f5,#0fa,#0fd,#0af,#09f,#06f,#06f,#08f,#07f,#10e,#509,#508,#407,#000,#000)"></i><i style="left:363px;width:2px;background:linear-gradient(#0fd,#0f3,#0f0,#0f0,#0f2,#0f5,#0fa,#0fd,#0fa,#0cf,#06f,#04f,#06f,#05f,#10e,#30c,#50a,#000,#102,#000)"></i><i style="left:365px;width:2px;background:linear-gradient(#0fd,#0f3,#0f0,#0f0,#0f2,#0f5,#0fa,#0fd,#09f,#0bf,#0ef,#09f,#01f,#20d,#20d,#509,#20d,#407,#407,#000)"></i><i style="left:367px;width:2px;background:linear-gradient(#0fd,#0f3,#0f0,#0f0,#0f2,#0f5,#0fa,#0fd,#0cf,#0af,#0df,#09f,#05f,#03f,#10e,#50a,#20d,#102,#407,#000)"></i><i style="left:369px;width:2px;background:linear-gradient(#0fd,#0f3,#0f0,#0f0,#0f2,#0f5,#0fa,#0fd,#0fb,#0af,#0af,#07f,#08f,#01f,#01f,#20d,#304,#000,#000,#000)"></i><i style="left:371px;width:2px;background:linear-gradient(#0fd,#0f3,#0f0,#0f0,#0f2,#0f5,#0fa,#0fd,#0fe,#0bf,#0af,#0bf,#07f,#20d,#20d,#20d,#305,#000,#000,#000)"></i><i style="left:373px;width:2px;background:linear-gradient(#0f3,#0f3,#0f0,#0f0,#0f2,#0f3,#0f4,#0f6,#0f9,#0fd,#0f8,#0fc,#0df,#0ef,#0fc,#508,#508,#000,#000,#000)"></i><i style="left:375px;width:2px;background:linear-gradient(#0fd,#0f3,#0f0,#0f0,#0f2,#0f5,#0fa,#0fd,#0cf,#0df,#0af,#0cf,#07f,#05f,#10e,#50a,#40b,#102,#407,#000)"></i><i style="left:377px;width:2px;background:linear-gradient(#0fd,#0f3,#0f0,#0f0,#0f2,#0f5,#0fa,#0fd,#0fd,#09f,#0df,#06f,#03f,#07f,#40b,#30c,#508,#000,#000,#000)"></i><i style="left:379px;width:2px;background:linear-gradient(#0fd,#0f3,#0f0,#0f0,#0f2,#0f5,#0fa,#0fd,#0bf,#0af,#08f,#07f,#03f,#04f,#02f,#50a,#40b,#000,#000,#000)"></i><i style="left:381px;width:2px;background:linear-gradient(#0fd,#0f3,#0f0,#0f0,#0f2,#0f5,#0fa,#0fd,#0fd,#0ff,#0af,#0cf,#07f,#03f,#20d,#40b,#304,#102,#000,#000)"></i><i style="left:383px;width:2px;background:linear-gradient(#0fd,#0f3,#0f0,#0f0,#0f2,#0f5,#0fa,#0fd,#0ef,#0af,#08f,#05f,#07f,#05f,#04f,#50a,#20d,#407,#407,#000)"></i><i style="left:385px;width:2px;background:linear-gradient(#0fd,#0f3,#0f0,#0f0,#0f2,#0f5,#0fa,#0fd,#0fd,#0af,#08f,#08f,#06f,#20d,#03f,#30c,#609,#102,#407,#000)"></i><i style="left:387px;width:2px;background:linear-gradient(#0fd,#0f3,#0f0,#0f0,#0f2,#0f5,#0fa,#0fd,#0cf,#08f,#06f,#07f,#06f,#07f,#01f,#40b,#509,#000,#000,#000)"></i><i style="left:389px;width:2px;background:linear-gradient(#0fd,#0f3,#0f0,#0f0,#0f2,#0f5,#0fa,#0fd,#0df,#0ef,#0cf,#08f,#07f,#07f,#04f,#50a,#50a,#000,#000,#000)"></i><i style="left:391px;width:2px;background:linear-gradient(#0fd,#0f3,#0f0,#0f0,#0f2,#0f5,#0fa,#0fd,#0bf,#0fd,#0df,#09f,#0af,#00f,#02f,#508,#305,#000,#102,#000)"></i><i style="left:393px;width:2px;background:linear-gradient(#0fd,#0f3,#0f0,#0f0,#0f2,#0f5,#0fa,#0fd,#0fc,#08f,#06f,#06f,#08f,#02f,#30c,#40b,#50a,#000,#102,#000)"></i><i style="left:395px;width:2px;background:linear-gradient(#0fd,#0f3,#0f0,#0f0,#0f2,#0f5,#0fa,#0fd,#0ff,#08f,#0cf,#04f,#01f,#02f,#40b,#508,#508,#000,#102,#000)"></i><i style="left:397px;width:2px;background:linear-gradient(#0fd,#0f3,#0f0,#0f0,#0f2,#0f5,#0fa,#0fd,#0ef,#0df,#08f,#0cf,#02f,#00f,#30c,#10e,#50a,#000,#102,#000)"></i><i style="left:399px;width:2px;background:linear-gradient(#0fd,#0f3,#0f0,#0f0,#0f2,#0f5,#0fa,#0fd,#0fd,#0ef,#09f,#07f,#05f,#02f,#20d,#20d,#509,#000,#000,#000)"></i><i style="left:401px;width:2px;background:linear-gradient(#0fd,#0f3,#0f0,#0f0,#0f2,#0f5,#0fa,#0fd,#0ef,#0df,#0cf,#08f,#09f,#07f,#03f,#508,#406,#000,#407,#000)"></i><i style="left:403px;width:2px;background:linear-gradient(#0fd,#0f3,#0f0,#0f0,#0f2,#0f5,#0fa,#0fd,#0fd,#0cf,#0ef,#06f,#08f,#20d,#10e,#10e,#407,#102,#407,#000)"></i><i style="left:405px;width:2px;background:linear-gradient(#0fd,#0f3,#0f0,#0f0,#0f2,#0f5,#0fa,#0fd,#0bf,#0fe,#06f,#09f,#09f,#06f,#10e,#30c,#40b,#407,#407,#000)"></i><i style="left:407px;width:2px;background:linear-gradient(#0fd,#0f3,#0f0,#0f0,#0f2,#0f5,#0fa,#0fd,#0fe,#0bf,#07f,#03f,#08f,#04f,#03f,#30c,#304,#407,#000,#000)"></i><i style="left:409px;width:2px;background:linear-gradient(#0fd,#0f3,#0f0,#0f0,#0f2,#0f5,#0fa,#0fd,#0fb,#0ff,#0af,#08f,#0af,#08f,#01f,#508,#304,#000,#407,#000)"></i><i style="left:411px;width:2px;background:linear-gradient(#0fd,#0f3,#0f0,#0f0,#0f2,#0f5,#0fa,#0fd,#0fd,#08f,#08f,#0af,#08f,#06f,#20d,#50a,#508,#000,#000,#000)"></i><i style="left:413px;width:2px;background:linear-gradient(#0fd,#0f3,#0f0,#0f0,#0f2,#0f5,#0fa,#0fd,#0bf,#0af,#0df,#0cf,#03f,#10e,#40c,#508,#30c,#407,#000,#000)"></i><i style="left:415px;width:2px;background:linear-gradient(#0fd,#0f3,#0f0,#0f0,#0f2,#0f5,#0fa,#0fd,#09f,#0ff,#0df,#05f,#08f,#05f,#20d,#00f,#406,#407,#407,#000)"></i><i style="left:417px;width:2px;background:linear-gradient(#0fd,#0f3,#0f0,#0f0,#0f2,#0f5,#0fa,#0fd,#0fb,#09f,#07f,#09f,#02f,#07f,#20d,#40b,#509,#102,#407,#000)"></i><i style="left:419px;width:2px;background:linear-gradient(#0fd,#0f3,#0f0,#0f0,#0f2,#0f5,#0fa,#0fd,#0fc,#0ff,#07f,#07f,#03f,#05f,#40b,#20d,#305,#000,#000,#000)"></i><i style="left:421px;width:2px;background:linear-gradient(#0fd,#0f3,#0f0,#0f0,#0f2,#0f5,#0fa,#0fd,#0fd,#0cf,#0af,#07f,#09f,#02f,#04f,#20d,#50a,#102,#407,#000)"></i><i style="left:423px;width:2px;background:linear-gradient(#0fd,#0f3,#0f0,#0f0,#0f2,#0f5,#0fa,#0fd,#0fd,#09f,#05f,#06f,#00f,#07f,#20d,#507,#508,#102,#000,#000)"></i><i style="left:425px;width:2px;background:linear-gradient(#0fd,#0f3,#0f0,#0f0,#0f2,#0f5,#0fa,#0fd,#0af,#0df,#07f,#08f,#09f,#07f,#02f,#40b,#40b,#000,#407,#000)"></i><i style="left:427px;width:2px;background:linear-gradient(#0fd,#0f3,#0f0,#0f0,#0f2,#0f5,#0fa,#0fd,#0ef,#0cf,#0df,#0cf,#03f,#20d,#20d,#508,#30c,#407,#407,#000)"></i><i style="left:429px;width:2px;background:linear-gradient(#0fd,#0f3,#0f0,#0f0,#0f2,#0f5,#0fa,#0fd,#0fc,#0ef,#0cf,#0af,#05f,#01f,#00f,#00f,#20d,#102,#102,#000)"></i><i style="left:431px;width:2px;background:linear-gradient(#0fd,#0f3,#0f0,#0f0,#0f2,#0f5,#0fa,#0fd,#0cf,#0bf,#0af,#03f,#04f,#01f,#04f,#30c,#305,#000,#000,#000)"></i><i style="left:433px;width:2px;background:linear-gradient(#0fd,#0f3,#0f0,#0f0,#0f2,#0f5,#0fa,#0fd,#0fb,#0fe,#0bf,#08f,#01f,#05f,#40b,#10e,#407,#000,#407,#000)"></i><i style="left:435px;width:2px;background:linear-gradient(#0fd,#0f3,#0f0,#0f0,#0f2,#0f5,#0fa,#0fd,#0fb,#0df,#05f,#0af,#0af,#04f,#30c,#50a,#406,#000,#102,#000)"></i><i style="left:437px;width:2px;background:linear-gradient(#0fd,#0f3,#0f0,#0f0,#0f2,#0f5,#0fa,#0fd,#0fd,#0ef,#0cf,#03f,#01f,#06f,#30c,#609,#304,#000,#407,#000)"></i><i style="left:439px;width:2px;background:linear-gradient(#0fd,#0f3,#0f0,#0f0,#0f2,#0f5,#0fa,#0fd,#0fc,#0ef,#08f,#04f,#00f,#05f,#03f,#50a,#30c,#000,#102,#000)"></i><i style="left:441px;width:2px;background:linear-gradient(#0fd,#0f3,#0f0,#0f0,#0f2,#0f5,#0fa,#0fd,#0ff,#07f,#0bf,#06f,#03f,#10e,#30d,#20d,#508,#000,#000,#000)"></i><i style="left:443px;width:2px;background:linear-gradient(#0fd,#0f3,#0f0,#0f0,#0f2,#0f5,#0fa,#0fd,#0cf,#07f,#09f,#09f,#02f,#00f,#40c,#40b,#50a,#000,#102,#000)"></i><i style="left:445px;width:2px;background:linear-gradient(#0fd,#0f3,#0f0,#0f0,#0f2,#0f5,#0fa,#0fd,#09f,#0df,#0bf,#09f,#05f,#02f,#40b,#30c,#20d,#000,#000,#000)"></i><i style="left:447px;width:2px;background:linear-gradient(#0fd,#0f3,#0f0,#0f0,#0f2,#0f5,#0fa,#0fd,#0fd,#0ef,#0cf,#03f,#09f,#10e,#30c,#508,#304,#000,#000,#000)"></i><i style="left:449px;width:2px;background:linear-gradient(#0fd,#0f3,#0f0,#0f0,#0f2,#0f5,#0fa,#0fd,#0cf,#0fd,#0df,#09f,#03f,#10e,#10e,#40b,#305,#000,#000,#000)"></i><i style="left:451px;width:2px;background:linear-gradient(#0fd,#0f3,#0f0,#0f0,#0f2,#0f5,#0fa,#0fd,#0df,#0ef,#06f,#03f,#04f,#08f,#40b,#10e,#20d,#000,#407,#000)"></i><i style="left:453px;width:2px;background:linear-gradient(#0fd,#0f3,#0f0,#0f0,#0f2,#0f5,#0fa,#0fd,#0af,#0bf,#0cf,#07f,#08f,#07f,#40b,#50a,#407,#000,#102,#000)"></i><i style="left:455px;width:2px;background:linear-gradient(#0fd,#0f3,#0f0,#0f0,#0f2,#0f5,#0fa,#0fd,#0fc,#0af,#08f,#08f,#02f,#02f,#01f,#30c,#40b,#407,#000,#000)"></i><i style="left:457px;width:2px;background:linear-gradient(#0fd,#0f3,#0f0,#0f0,#0f2,#0f5,#0fa,#0fd,#0fb,#09f,#09f,#08f,#02f,#06f,#40b,#20d,#407,#000,#000,#000)"></i><i style="left:459px;width:2px;background:linear-gradient(#0fd,#0f3,#0f0,#0f0,#0f2,#0f5,#0fa,#0fd,#0fc,#07f,#07f,#08f,#07f,#03f,#20d,#40b,#50a,#000,#000,#000)"></i><i style="left:461px;width:2px;background:linear-gradient(#0fd,#0f3,#0f0,#0f0,#0f2,#0f5,#0fa,#0fd,#0ff,#0cf,#0af,#03f,#05f,#07f,#02f,#609,#509,#000,#000,#000)"></i><i style="left:463px;width:2px;background:linear-gradient(#0fd,#0f3,#0f0,#0f0,#0f2,#0f5,#0fa,#0fd,#0fe,#0ef,#0af,#09f,#0af,#04f,#04f,#509,#50a,#000,#102,#000)"></i><i style="left:465px;width:2px;background:linear-gradient(#0fd,#0f3,#0f0,#0f0,#0f2,#0f5,#0fa,#0fd,#0bf,#0df,#09f,#09f,#04f,#07f,#30c,#20d,#407,#000,#407,#000)"></i><i style="left:467px;width:2px;background:linear-gradient(#0fd,#0f3,#0f0,#0f0,#0f2,#0f5,#0fa,#0fd,#0af,#0df,#0af,#04f,#07f,#06f,#30c,#40b,#305,#407,#407,#000)"></i><i style="left:469px;width:2px;background:linear-gradient(#0fd,#0f3,#0f0,#0f0,#0f2,#0f5,#0fa,#0fd,#0fe,#0fe,#0af,#09f,#09f,#05f,#04f,#50a,#30c,#000,#000,#000)"></i><i style="left:471px;width:2px;background:linear-gradient(#0fd,#0f3,#0f0,#0f0,#0f2,#0f5,#0fa,#0fd,#0cf,#0df,#0af,#08f,#01f,#10e,#00f,#20d,#20d,#407,#000,#000)"></i><i style="left:473px;width:2px;background:linear-gradient(#0fd,#0f3,#0f0,#0f0,#0f2,#0f5,#0fa,#0fd,#0df,#0fe,#0af,#07f,#06f,#01f,#05f,#508,#508,#102,#000,#000)"></i><i style="left:475px;width:2px;background:linear-gradient(#0fd,#0f3,#0f0,#0f0,#0f2,#0f5,#0fa,#0fd,#0bf,#09f,#0bf,#06f,#05f,#07f,#02f,#407,#406,#102,#000,#000)"></i><i style="left:477px;width:2px;background:linear-gradient(#0fd,#0f3,#0f0,#0f0,#0f2,#0f5,#0fa,#0fd,#0bf,#0af,#07f,#0cf,#03f,#20d,#01f,#40b,#305,#407,#102,#000)"></i><i style="left:479px;width:2px;background:linear-gradient(#0fd,#0f3,#0f0,#0f0,#0f2,#0f5,#0fa,#0fd,#0fb,#09f,#0af,#06f,#05f,#06f,#04f,#40b,#406,#102,#000,#000)"></i><i style="left:481px;width:2px;background:linear-gradient(#0fd,#0f3,#0f0,#0f0,#0f2,#0f5,#0fa,#0fd,#0fd,#08f,#0af,#04f,#06f,#07f,#03f,#50a,#50a,#102,#407,#000)"></i><i style="left:483px;width:2px;background:linear-gradient(#0fd,#0f3,#0f0,#0f0,#0f2,#0f6,#0fa,#0fe,#0cf,#0bf,#0bf,#0af,#05f,#20d,#40b,#509,#30c,#000,#407,#000)"></i><i style="left:485px;width:2px;background:linear-gradient(#0fc,#0f4,#0f1,#0f1,#0f3,#0f6,#0fa,#0fe,#0bf,#0cf,#07f,#03f,#05f,#02f,#04f,#10e,#30c,#000,#407,#000)"></i><i style="left:487px;width:2px;background:linear-gradient(#0fc,#0f4,#0f1,#0f1,#0f3,#0f7,#0fb,#0fe,#0fe,#08f,#07f,#07f,#05f,#10e,#00f,#509,#508,#000,#407,#000)"></i><i style="left:489px;width:2px;background:linear-gradient(#0fc,#0f4,#0f1,#0f2,#0f4,#0f7,#0fb,#0fe,#0fc,#08f,#0df,#07f,#05f,#03f,#03f,#30c,#40b,#000,#000,#000)"></i><i style="left:491px;width:2px;background:linear-gradient(#0fc,#0f4,#0f2,#0f2,#0f4,#0f8,#0fb,#0fe,#0df,#08f,#07f,#06f,#01f,#02f,#50a,#20d,#20d,#102,#000,#000)"></i><i style="left:493px;width:2px;background:linear-gradient(#0fc,#0f4,#0f2,#0f3,#0f5,#0f8,#0fc,#0fe,#0fe,#0cf,#04f,#05f,#04f,#20d,#609,#40b,#50a,#407,#000,#000)"></i><i style="left:495px;width:2px;background:linear-gradient(#0fb,#0f4,#0f3,#0f3,#0f6,#0f9,#0fc,#0fe,#0fe,#07f,#09f,#01f,#20e,#20d,#50a,#01f,#30c,#000,#000,#000)"></i><i style="left:497px;width:2px;background:linear-gradient(#0fb,#0f4,#0f3,#0f4,#0f6,#0f9,#0fc,#0ff,#0ff,#0cf,#05f,#06f,#01f,#10e,#10e,#20d,#30c,#000,#102,#000)"></i><i style="left:499px;width:2px;background:linear-gradient(#0fb,#0f4,#0f3,#0f4,#0f7,#0f9,#0fc,#0ff,#0fe,#0ff,#0af,#00f,#20d,#40b,#20d,#20d,#30c,#407,#000,#000)"></i><i style="left:501px;width:2px;background:linear-gradient(#0fa,#0f5,#0f4,#0f5,#0f7,#0fa,#0fd,#0ff,#0bf,#0ef,#05f,#03f,#02f,#10e,#10e,#609,#50a,#000,#407,#000)"></i><i style="left:503px;width:2px;background:linear-gradient(#0fa,#0f5,#0f4,#0f5,#0f8,#0fa,#0fd,#0ff,#0cf,#0af,#08f,#05f,#01f,#30c,#00f,#60a,#20d,#000,#000,#000)"></i><i style="left:505px;width:2px;background:linear-gradient(#0fa,#0f5,#0f4,#0f6,#0f9,#0fb,#0fd,#0ff,#0ff,#0df,#0bf,#00f,#30c,#50a,#609,#00f,#00f,#102,#000,#000)"></i><i style="left:507px;width:2px;background:linear-gradient(#0fa,#0f5,#0f5,#0f6,#0f9,#0fb,#0fd,#0ff,#0df,#0cf,#09f,#03f,#10e,#40c,#50a,#40b,#10e,#407,#102,#000)"></i><i style="left:509px;width:2px;background:linear-gradient(#0f9,#0f5,#0f5,#0f7,#0fa,#0fc,#0fe,#0ff,#0cf,#0af,#0bf,#03f,#03f,#20d,#508,#50b,#60a,#000,#102,#000)"></i><i style="left:511px;width:2px;background:linear-gradient(#0f9,#0f5,#0f5,#0f7,#0fa,#0fc,#0fe,#0ef,#0df,#0af,#05f,#10e,#20d,#40b,#30c,#609,#00f,#102,#407,#000)"></i><i style="left:513px;width:2px;background:linear-gradient(#0f9,#0f5,#0f6,#0f8,#0fb,#0fd,#0fe,#0ef,#08f,#0cf,#01f,#02f,#50a,#407,#10e,#00f,#50a,#407,#000,#000)"></i><i style="left:515px;width:2px;background:linear-gradient(#0f9,#0f6,#0f6,#0f8,#0fc,#0fd,#0fe,#0ef,#0fe,#06f,#09f,#20d,#30c,#50a,#30d,#20d,#40b,#000,#407,#000)"></i><i style="left:517px;width:2px;background:linear-gradient(#0f8,#0f6,#0f7,#0f9,#0fc,#0fd,#0ff,#0ef,#0ef,#08f,#01f,#05f,#30c,#509,#509,#30c,#20d,#000,#407,#000)"></i><i style="left:519px;width:2px;background:linear-gradient(#0f8,#0f6,#0f7,#0f9,#0fd,#0fe,#0ff,#0ef,#0af,#09f,#03f,#30c,#10e,#508,#609,#40b,#30c,#407,#102,#000)"></i><i style="left:521px;width:2px;background:linear-gradient(#0f8,#0f6,#0f7,#0fa,#0fd,#0fe,#0ff,#0ef,#07f,#08f,#00f,#05f,#40b,#508,#609,#507,#40b,#000,#000,#000)"></i><i style="left:523px;width:2px;background:linear-gradient(#0f8,#0f6,#0f7,#0fa,#0fd,#0fe,#0ff,#0ef,#0bf,#0bf,#08f,#05f,#10e,#50a,#509,#30c,#00f,#000,#000,#000)"></i><i style="left:525px;width:2px;background:linear-gradient(#0f8,#0f6,#0f7,#0fa,#0fd,#0fe,#0ff,#0ef,#08f,#03f,#06f,#05f,#50a,#30c,#40b,#508,#00f,#000,#102,#000)"></i><i style="left:527px;width:2px;background:linear-gradient(#0f8,#0f6,#0f7,#0fa,#0fd,#0fe,#0ff,#0ef,#0af,#0af,#08f,#06f,#40b,#509,#30c,#30c,#01f,#000,#407,#000)"></i><i style="left:529px;width:2px;background:linear-gradient(#0f8,#0f6,#0f7,#0fa,#0fd,#0fe,#0ff,#0ef,#0cf,#07f,#05f,#04f,#609,#609,#509,#609,#20d,#000,#407,#000)"></i><i style="left:531px;width:2px;background:linear-gradient(#0f8,#0f6,#0f7,#0fa,#0fd,#0fe,#0ff,#0ef,#0ff,#0cf,#08f,#20d,#50a,#508,#50a,#30c,#20d,#407,#102,#000)"></i><i style="left:533px;width:2px;background:linear-gradient(#0f8,#0f6,#0f7,#0fa,#0fd,#0fe,#0ff,#0ef,#08f,#0af,#08f,#30c,#50a,#406,#40b,#00f,#30c,#407,#000,#000)"></i><i style="left:535px;width:2px;background:linear-gradient(#0f8,#0f6,#0f7,#0fa,#0fd,#0fe,#0ff,#0ef,#0af,#0cf,#08f,#06f,#20d,#40b,#40b,#509,#30c,#102,#000,#000)"></i><i style="left:537px;width:2px;background:linear-gradient(#0f8,#0f6,#0f7,#0fa,#0fd,#0fe,#0ff,#0ef,#0ff,#0bf,#09f,#04f,#20d,#304,#40b,#10e,#02f,#000,#000,#000)"></i><i style="left:539px;width:2px;background:linear-gradient(#0f8,#0f6,#0f7,#0fa,#0fd,#0fe,#0ff,#0ef,#0cf,#0af,#09f,#20d,#40b,#508,#304,#00f,#01f,#000,#102,#000)"></i><i style="left:541px;width:2px;background:linear-gradient(#0f8,#0f6,#0f7,#0fa,#0fd,#0fe,#0ff,#0ef,#0af,#0bf,#07f,#20d,#01f,#30c,#30c,#509,#04f,#102,#000,#000)"></i><i style="left:543px;width:2px;background:linear-gradient(#0f8,#0f6,#0f7,#0fa,#0fd,#0fe,#0ff,#0ef,#0df,#05f,#03f,#20d,#509,#50a,#507,#00f,#02f,#000,#000,#000)"></i><i style="left:545px;width:2px;background:linear-gradient(#0f8,#0f6,#0f7,#0fa,#0fd,#0fe,#0ff,#0ef,#0ff,#0bf,#0af,#00f,#508,#50a,#50a,#10e,#00f,#000,#407,#000)"></i><i style="left:547px;width:2px;background:linear-gradient(#0f8,#0f6,#0f7,#0fa,#0fd,#0fe,#0ff,#0ef,#0fe,#09f,#09f,#04f,#01f,#509,#30c,#40b,#50a,#407,#000,#000)"></i><i style="left:549px;width:2px;background:linear-gradient(#0f8,#0f6,#0f7,#0fa,#0fd,#0fe,#0ff,#0ef,#07f,#0cf,#06f,#03f,#10e,#304,#609,#40b,#40b,#102,#407,#000)"></i><i style="left:551px;width:2px;background:linear-gradient(#0f8,#0f6,#0f7,#0fa,#0fd,#0fe,#0ff,#0ef,#06f,#06f,#09f,#10e,#30c,#609,#406,#30c,#40b,#407,#102,#000)"></i><i style="left:553px;width:2px;background:linear-gradient(#0f8,#0f6,#0f7,#0fa,#0fd,#0fe,#0ff,#0ef,#0df,#04f,#01f,#03f,#00f,#20d,#40b,#509,#10e,#000,#407,#000)"></i><i style="left:555px;width:2px;background:linear-gradient(#0f8,#0f6,#0f7,#0fa,#0fd,#0fe,#0ff,#0ef,#09f,#0df,#04f,#30c,#20d,#406,#406,#50a,#00f,#102,#407,#000)"></i><i style="left:557px;width:2px;background:linear-gradient(#0f8,#0f6,#0f7,#0fa,#0fd,#0fe,#0ff,#0ef,#0af,#09f,#08f,#00f,#30c,#50b,#406,#20d,#00f,#102,#000,#000)"></i><i style="left:559px;width:2px;background:linear-gradient(#0f8,#0f6,#0f7,#0fa,#0fd,#0fe,#0ff,#0ef,#0bf,#08f,#03f,#02f,#508,#509,#20d,#50a,#30c,#102,#407,#000)"></i><i style="left:561px;width:2px;background:linear-gradient(#0f8,#0f6,#0f7,#0fa,#0fd,#0fe,#0ff,#0ef,#0df,#06f,#01f,#00f,#50a,#30c,#305,#508,#04f,#000,#102,#000)"></i><i style="left:563px;width:2px;background:linear-gradient(#0f8,#0f6,#0f7,#0fa,#0fd,#0fe,#0ff,#0ef,#0df,#07f,#04f,#06f,#50a,#304,#204,#10e,#40b,#000,#407,#000)"></i><i style="left:565px;width:2px;background:linear-gradient(#0f8,#0f6,#0f7,#0fa,#0fd,#0fe,#0ff,#0ef,#08f,#08f,#05f,#10e,#20d,#509,#406,#509,#20d,#102,#102,#000)"></i><i style="left:567px;width:2px;background:linear-gradient(#0f8,#0f6,#0f7,#0fa,#0fd,#0fe,#0ff,#0ef,#0bf,#04f,#02f,#00f,#00f,#30c,#406,#509,#01f,#407,#407,#000)"></i><i style="left:569px;width:2px;background:linear-gradient(#0f8,#0f6,#0f7,#0fa,#0fd,#0fe,#0ff,#0ef,#0ff,#06f,#09f,#20d,#40b,#407,#305,#508,#01f,#000,#000,#000)"></i><i style="left:571px;width:2px;background:linear-gradient(#0f8,#0f6,#0f7,#0fa,#0fd,#0fe,#0ff,#0ef,#09f,#09f,#04f,#20d,#30c,#305,#509,#00f,#40b,#102,#000,#000)"></i><i style="left:573px;width:2px;background:linear-gradient(#0f8,#0f6,#0f7,#0fa,#0fd,#0fe,#0ff,#0ef,#0af,#0cf,#06f,#30c,#20d,#509,#40b,#00f,#30c,#000,#102,#000)"></i><i style="left:575px;width:2px;background:linear-gradient(#0f8,#0f6,#0f7,#0fa,#0fd,#0fe,#0ff,#0ef,#09f,#08f,#04f,#04f,#00f,#508,#20d,#407,#30c,#407,#102,#000)"></i><i style="left:577px;width:2px;background:linear-gradient(#0f8,#0f6,#0f7,#0fa,#0fd,#0fe,#0ff,#0ef,#0bf,#07f,#05f,#02f,#50a,#30c,#50a,#00f,#30c,#102,#102,#000)"></i><i style="left:579px;width:2px;background:linear-gradient(#0f8,#0f6,#0f7,#0fa,#0fd,#0fe,#0ff,#0ef,#0df,#08f,#0af,#10e,#30c,#30c,#20d,#10e,#03f,#407,#000,#000)"></i><i style="left:581px;width:2px;background:linear-gradient(#0f8,#0f6,#0f7,#0fa,#0fd,#0fe,#0ff,#0ef,#0ff,#09f,#06f,#01f,#30c,#507,#20d,#10e,#10e,#000,#000,#000)"></i><i style="left:583px;width:2px;background:linear-gradient(#0f8,#0f6,#0f7,#0fa,#0fd,#0fe,#0ff,#0ef,#0ef,#0cf,#01f,#02f,#00f,#50a,#40b,#509,#10e,#000,#000,#000)"></i><i style="left:585px;width:2px;background:linear-gradient(#0f8,#0f6,#0f7,#0fa,#0fd,#0fe,#0ff,#0ef,#0ef,#09f,#01f,#10e,#00f,#50a,#50a,#20d,#40b,#000,#102,#000)"></i><i style="left:587px;width:2px;background:linear-gradient(#0f8,#0f6,#0f7,#0fa,#0fd,#0fe,#0ff,#0ef,#09f,#04f,#06f,#00f,#01f,#306,#406,#407,#50a,#000,#000,#000)"></i><i style="left:589px;width:2px;background:linear-gradient(#0f8,#0f6,#0f7,#0fa,#0fd,#0fe,#0ff,#0ef,#0af,#05f,#02f,#06f,#30c,#40b,#50a,#50a,#30c,#102,#407,#000)"></i><i style="left:591px;width:2px;background:linear-gradient(#0f8,#0f6,#0f7,#0fa,#0fd,#0fe,#0ff,#0ef,#0cf,#03f,#08f,#30c,#10e,#40b,#50a,#50a,#40b,#102,#000,#000)"></i><i style="left:593px;width:2px;background:linear-gradient(#0f8,#0f6,#0f7,#0fa,#0fd,#0fe,#0ff,#0ef,#0af,#0cf,#08f,#04f,#01f,#50a,#30c,#20d,#00f,#000,#407,#000)"></i><i style="left:595px;width:2px;background:linear-gradient(#0f8,#0f6,#0f7,#0fa,#0fd,#0fe,#0ff,#0ef,#0cf,#0cf,#07f,#20d,#508,#507,#508,#10e,#10e,#000,#102,#000)"></i><i style="left:597px;width:2px;background:linear-gradient(#0f8,#0f6,#0f7,#0fa,#0fd,#0fe,#0ff,#0ef,#0cf,#06f,#01f,#05f,#508,#508,#30c,#40b,#04f,#102,#102,#000)"></i><i style="left:599px;width:2px;background:linear-gradient(#0f8,#0f6,#0f7,#0fa,#0fd,#0fe,#0ff,#0ef,#0df,#05f,#07f,#01f,#20e,#40b,#40b,#40b,#40b,#102,#000,#000)"></i><i style="left:601px;width:2px;background:linear-gradient(#0f8,#0f6,#0f7,#0fa,#0fd,#0fe,#0ff,#0ef,#0fe,#09f,#06f,#03f,#40b,#508,#508,#20d,#01f,#102,#000,#000)"></i><i style="left:603px;width:2px;background:linear-gradient(#0f8,#0f6,#0f7,#0fa,#0fd,#0fe,#0ff,#0ef,#0af,#05f,#05f,#30c,#40b,#40b,#30c,#50a,#01f,#000,#407,#000)"></i><i style="left:605px;width:2px;background:linear-gradient(#0f8,#0f6,#0f7,#0fa,#0fd,#0fe,#0ff,#0ef,#0cf,#04f,#07f,#03f,#30c,#20d,#509,#509,#10e,#102,#102,#000)"></i><i style="left:607px;width:2px;background:linear-gradient(#0f8,#0f6,#0f7,#0fa,#0fd,#0fe,#0ff,#0ef,#0df,#05f,#05f,#06f,#509,#30c,#204,#00f,#03f,#000,#407,#000)"></i><i style="left:609px;width:2px;background:linear-gradient(#0f8,#0f6,#0f7,#0fa,#0fd,#0fe,#0ff,#0ef,#09f,#0bf,#06f,#06f,#10f,#203,#50a,#40b,#30c,#407,#000,#000)"></i><i style="left:611px;width:2px;background:linear-gradient(#0f8,#0f6,#0f7,#0fa,#0fd,#0fe,#0ff,#0ef,#09f,#07f,#05f,#00f,#50a,#406,#507,#00f,#10e,#102,#407,#000)"></i><i style="left:613px;width:2px;background:linear-gradient(#0f8,#0f6,#0f7,#0fa,#0fd,#0fe,#0ff,#0ef,#0af,#0df,#05f,#06f,#20d,#50a,#508,#01f,#20d,#102,#000,#000)"></i><i style="left:615px;width:2px;background:linear-gradient(#0f8,#0f6,#0f7,#0fa,#0fd,#0fe,#0ff,#0ef,#0ff,#0af,#01f,#06f,#508,#204,#30c,#50a,#50a,#000,#000,#000)"></i><i style="left:617px;width:2px;background:linear-gradient(#0f8,#0f6,#0f7,#0fa,#0fd,#0fe,#0ff,#0ef,#08f,#03f,#00f,#10e,#30c,#20d,#50a,#10e,#00f,#102,#407,#000)"></i><i style="left:619px;width:2px;background:linear-gradient(#0f8,#0f6,#0f7,#0fa,#0fd,#0fe,#0ff,#0ef,#07f,#0cf,#05f,#20d,#30c,#40b,#407,#30c,#40b,#102,#000,#000)"></i><i style="left:621px;width:2px;background:linear-gradient(#0f8,#0f6,#0f7,#0fa,#0fd,#0fe,#0ff,#0ef,#08f,#0af,#06f,#03f,#01f,#407,#20d,#40b,#10e,#000,#000,#000)"></i><i style="left:623px;width:2px;background:linear-gradient(#0f8,#0f6,#0f7,#0fa,#0fd,#0fe,#0ff,#0ef,#07f,#04f,#00f,#05f,#10e,#50a,#407,#40b,#03f,#102,#102,#000)"></i><i style="left:625px;width:2px;background:linear-gradient(#0f8,#0f6,#0f7,#0fa,#0fd,#0fe,#0ff,#0ef,#0ef,#0bf,#02f,#04f,#509,#305,#609,#609,#10e,#407,#000,#000)"></i><i style="left:627px;width:2px;background:linear-gradient(#0f8,#0f6,#0f7,#0fa,#0fd,#0fe,#0ff,#0ef,#06f,#0df,#03f,#00f,#10e,#407,#508,#508,#02f,#102,#000,#000)"></i><i style="left:629px;width:2px;background:linear-gradient(#0f8,#0f6,#0f7,#0fa,#0fd,#0fe,#0ff,#0ef,#09f,#0bf,#05f,#01f,#00f,#203,#407,#30c,#01f,#407,#000,#000)"></i><i style="left:631px;width:2px;background:linear-gradient(#0f8,#0f6,#0f7,#0fa,#0fd,#0fe,#0ff,#0ef,#0cf,#0bf,#04f,#02f,#509,#407,#50a,#00f,#20d,#000,#407,#000)"></i></div><div class="sp" style="left:59px;top:513px;width:633px;height:59px;background:#000"><i style="left:0px;width:6px;background:linear-gradient(#0ef 0% 12.71%,#0ff 12.71% 22.88%,#0af 22.88% 33.9%,#0df 33.9% 46.61%,#0ef 46.61% 57.63%,#0f9 57.63% 69.49%,#0f4 69.49% 80.51%,#6f0 80.51% 90.68%,#cf0 90.68% 100%)"></i><i style="left:6px;width:5px;background:linear-gradient(#0ef 0% 12.71%,#0ff 12.71% 22.88%,#04f 22.88% 33.9%,#0cf 33.9% 46.61%,#0f9 46.61% 57.63%,#0f5 57.63% 69.49%,#0f6 69.49% 80.51%,#5f0 80.51% 90.68%,#3f0 90.68% 100%)"></i><i style="left:11px;width:6px;background:linear-gradient(#0ef 0% 12.71%,#0cf 12.71% 22.88%,#07f 22.88% 33.9%,#0af 33.9% 46.61%,#0df 46.61% 57.63%,#0fe 57.63% 69.49%,#0f8 69.49% 80.51%,#0f1 80.51% 90.68%,#7f0 90.68% 100%)"></i><i style="left:17px;width:5px;background:linear-gradient(#0fc 0% 12.71%,#02f 12.71% 22.88%,#0cf 22.88% 33.9%,#07f 33.9% 46.61%,#0ef 46.61% 57.63%,#0fe 57.63% 69.49%,#0f8 69.49% 80.51%,#0f0 80.51% 90.68%,#0f4 90.68% 100%)"></i><i style="left:22px;width:6px;background:linear-gradient(#0bf 0% 12.71%,#06f 12.71% 22.88%,#0cf 22.88% 33.9%,#0bf 33.9% 46.61%,#0df 46.61% 57.63%,#0df 57.63% 69.49%,#0fb 69.49% 80.51%,#0f8 80.51% 90.68%,#0f0 90.68% 100%)"></i><i style="left:28px;width:6px;background:linear-gradient(#05f 0% 12.71%,#0cf 12.71% 22.88%,#0cf 22.88% 33.9%,#0af 33.9% 46.61%,#0af 46.61% 57.63%,#0fd 57.63% 69.49%,#0f3 69.49% 80.51%,#0f4 80.51% 90.68%,#6f0 90.68% 100%)"></i><i style="left:34px;width:5px;background:linear-gradient(#05f 0% 12.71%,#02f 12.71% 22.88%,#0ff 22.88% 33.9%,#0cf 33.9% 46.61%,#0ff 46.61% 57.63%,#0f7 57.63% 69.49%,#0f3 69.49% 80.51%,#3f0 80.51% 90.68%,#7f0 90.68% 100%)"></i><i style="left:39px;width:6px;background:linear-gradient(#0fd 0% 12.71%,#02f 12.71% 22.88%,#0fe 22.88% 33.9%,#0bf 33.9% 46.61%,#0f6 46.61% 57.63%,#0f2 57.63% 69.49%,#9f0 69.49% 80.51%,#bf0 80.51% 90.68%,#fe0 90.68% 100%)"></i><i style="left:45px;width:5px;background:linear-gradient(#05f 0% 12.71%,#0cf 12.71% 22.88%,#08f 22.88% 33.9%,#0bf 33.9% 46.61%,#0f6 46.61% 57.63%,#0f7 57.63% 69.49%,#2f0 69.49% 80.51%,#ff0 80.51% 90.68%,#9f0 90.68% 100%)"></i><i style="left:50px;width:6px;background:linear-gradient(#05f 0% 12.71%,#09f 12.71% 22.88%,#0fe 22.88% 33.9%,#0fa 33.9% 46.61%,#0fd 46.61% 57.63%,#0f5 57.63% 69.49%,#6f0 69.49% 80.51%,#5f0 80.51% 90.68%,#7f0 90.68% 100%)"></i><i style="left:56px;width:6px;background:linear-gradient(#0ef 0% 12.71%,#06f 12.71% 22.88%,#08f 22.88% 33.9%,#0fa 33.9% 46.61%,#0f6 46.61% 57.63%,#0fa 57.63% 69.49%,#1f0 69.49% 80.51%,#bf0 80.51% 90.68%,#df0 90.68% 100%)"></i><i style="left:62px;width:5px;background:linear-gradient(#0fd 0% 12.71%,#02f 12.71% 22.88%,#0bf 22.88% 33.9%,#0bf 33.9% 46.61%,#0f6 46.61% 57.63%,#0f6 57.63% 69.49%,#2f0 69.49% 80.51%,#3f0 80.51% 90.68%,#9f0 90.68% 100%)"></i><i style="left:67px;width:6px;background:linear-gradient(#08f 0% 12.71%,#0ff 12.71% 22.88%,#05f 22.88% 33.9%,#0fc 33.9% 46.61%,#0f6 46.61% 57.63%,#0f7 57.63% 69.49%,#0f6 69.49% 80.51%,#5f0 80.51% 90.68%,#2f0 90.68% 100%)"></i><i style="left:73px;width:5px;background:linear-gradient(#08f 0% 12.71%,#06f 12.71% 22.88%,#0ef 22.88% 33.9%,#0ff 33.9% 46.61%,#0fb 46.61% 57.63%,#0fb 57.63% 69.49%,#0f3 69.49% 80.51%,#1f0 80.51% 90.68%,#0f0 90.68% 100%)"></i><i style="left:78px;width:6px;background:linear-gradient(#0fd 0% 12.71%,#02f 12.71% 22.88%,#06f 22.88% 33.9%,#0fc 33.9% 46.61%,#0f7 46.61% 57.63%,#0f6 57.63% 69.49%,#0f3 69.49% 80.51%,#0f1 80.51% 90.68%,#0f0 90.68% 100%)"></i><i style="left:84px;width:6px;background:linear-gradient(#0fd 0% 12.71%,#03f 12.71% 22.88%,#0ef 22.88% 33.9%,#0df 33.9% 46.61%,#0ef 46.61% 57.63%,#0f5 57.63% 69.49%,#2f0 69.49% 80.51%,#2f0 80.51% 90.68%,#9f0 90.68% 100%)"></i><i style="left:90px;width:5px;background:linear-gradient(#0bf 0% 12.71%,#07f 12.71% 22.88%,#0cf 22.88% 33.9%,#0ef 33.9% 46.61%,#0fa 46.61% 57.63%,#0f9 57.63% 69.49%,#0f4 69.49% 80.51%,#3f0 80.51% 90.68%,#8f0 90.68% 100%)"></i><i style="left:95px;width:6px;background:linear-gradient(#08f 0% 12.71%,#04f 12.71% 22.88%,#0fb 22.88% 33.9%,#0ef 33.9% 46.61%,#0fe 46.61% 57.63%,#0f8 57.63% 69.49%,#0f2 69.49% 80.51%,#bf0 80.51% 90.68%,#9f0 90.68% 100%)"></i><i style="left:101px;width:5px;background:linear-gradient(#0ff 0% 12.71%,#0af 12.71% 22.88%,#0fa 22.88% 33.9%,#0df 33.9% 46.61%,#0f9 46.61% 57.63%,#0f3 57.63% 69.49%,#2f0 69.49% 80.51%,#ef0 80.51% 90.68%,#fd0 90.68% 100%)"></i><i style="left:106px;width:6px;background:linear-gradient(#0cf 0% 12.71%,#07f 12.71% 22.88%,#08f 22.88% 33.9%,#0f8 33.9% 46.61%,#0f8 46.61% 57.63%,#0f6 57.63% 69.49%,#1f0 69.49% 80.51%,#ff0 80.51% 90.68%,#fe0 90.68% 100%)"></i><i style="left:112px;width:6px;background:linear-gradient(#09f 0% 12.71%,#0fd 12.71% 22.88%,#0fd 22.88% 33.9%,#0f8 33.9% 46.61%,#0fb 46.61% 57.63%,#0f2 57.63% 69.49%,#9f0 69.49% 80.51%,#fe0 80.51% 90.68%,#fe0 90.68% 100%)"></i><i style="left:118px;width:5px;background:linear-gradient(#0cf 0% 12.71%,#05f 12.71% 22.88%,#08f 22.88% 33.9%,#0fd 33.9% 46.61%,#0f4 46.61% 57.63%,#0f4 57.63% 69.49%,#3f0 69.49% 80.51%,#8f0 80.51% 90.68%,#cf0 90.68% 100%)"></i><i style="left:123px;width:6px;background:linear-gradient(#0af 0% 12.71%,#05f 12.71% 22.88%,#0bf 22.88% 33.9%,#0ff 33.9% 46.61%,#0f6 46.61% 57.63%,#0f0 57.63% 69.49%,#9f0 69.49% 80.51%,#ff0 80.51% 90.68%,#fd0 90.68% 100%)"></i><i style="left:129px;width:5px;background:linear-gradient(#0fe 0% 12.71%,#05f 12.71% 22.88%,#0bf 22.88% 33.9%,#0f8 33.9% 46.61%,#0f6 46.61% 57.63%,#2f0 57.63% 69.49%,#4f0 69.49% 80.51%,#ff0 80.51% 90.68%,#9f0 90.68% 100%)"></i><i style="left:134px;width:6px;background:linear-gradient(#07f 0% 12.71%,#0fd 12.71% 22.88%,#0fa 22.88% 33.9%,#0fa 33.9% 46.61%,#0f4 46.61% 57.63%,#0f2 57.63% 69.49%,#8f0 69.49% 80.51%,#ff0 80.51% 90.68%,#fe0 90.68% 100%)"></i><i style="left:140px;width:6px;background:linear-gradient(#07f 0% 12.71%,#0fd 12.71% 22.88%,#0fa 22.88% 33.9%,#0fd 33.9% 46.61%,#0fd 46.61% 57.63%,#0f4 57.63% 69.49%,#2f0 69.49% 80.51%,#6f0 80.51% 90.68%,#8f0 90.68% 100%)"></i><i style="left:146px;width:5px;background:linear-gradient(#0fe 0% 12.71%,#0ef 12.71% 22.88%,#08f 22.88% 33.9%,#0fa 33.9% 46.61%,#0fd 46.61% 57.63%,#2f0 57.63% 69.49%,#0f0 69.49% 80.51%,#af0 80.51% 90.68%,#af0 90.68% 100%)"></i><i style="left:151px;width:6px;background:linear-gradient(#0fd 0% 12.71%,#08f 12.71% 22.88%,#0df 22.88% 33.9%,#0f8 33.9% 46.61%,#0f4 46.61% 57.63%,#0f0 57.63% 69.49%,#2f0 69.49% 80.51%,#5f0 80.51% 90.68%,#ff0 90.68% 100%)"></i><i style="left:157px;width:5px;background:linear-gradient(#0fa 0% 12.71%,#05f 12.71% 22.88%,#0fa 22.88% 33.9%,#0df 33.9% 46.61%,#0f6 46.61% 57.63%,#0f0 57.63% 69.49%,#8f0 69.49% 80.51%,#5f0 80.51% 90.68%,#7f0 90.68% 100%)"></i><i style="left:162px;width:6px;background:linear-gradient(#0bf 0% 12.71%,#05f 12.71% 22.88%,#0fa 22.88% 33.9%,#0ff 33.9% 46.61%,#0fd 46.61% 57.63%,#0f6 57.63% 69.49%,#0f0 69.49% 80.51%,#9f0 80.51% 90.68%,#ff0 90.68% 100%)"></i><i style="left:168px;width:6px;background:linear-gradient(#0fd 0% 12.71%,#0fd 12.71% 22.88%,#0fa 22.88% 33.9%,#0fa 33.9% 46.61%,#0fd 46.61% 57.63%,#0f6 57.63% 69.49%,#4f0 69.49% 80.51%,#5f0 80.51% 90.68%,#bf0 90.68% 100%)"></i><i style="left:174px;width:5px;background:linear-gradient(#08f 0% 12.71%,#0ef 12.71% 22.88%,#0fe 22.88% 33.9%,#0f8 33.9% 46.61%,#0fb 46.61% 57.63%,#0f0 57.63% 69.49%,#6f0 69.49% 80.51%,#7f0 80.51% 90.68%,#6f0 90.68% 100%)"></i><i style="left:179px;width:6px;background:linear-gradient(#0df 0% 12.71%,#08f 12.71% 22.88%,#0fe 22.88% 33.9%,#0ff 33.9% 46.61%,#0fb 46.61% 57.63%,#0f4 57.63% 69.49%,#0f0 69.49% 80.51%,#5f0 80.51% 90.68%,#6f0 90.68% 100%)"></i><i style="left:185px;width:5px;background:linear-gradient(#08f 0% 12.71%,#05f 12.71% 22.88%,#08f 22.88% 33.9%,#0fd 33.9% 46.61%,#0fd 46.61% 57.63%,#0f6 57.63% 69.49%,#6f0 69.49% 80.51%,#df0 80.51% 90.68%,#8f0 90.68% 100%)"></i><i style="left:190px;width:6px;background:linear-gradient(#0df 0% 12.71%,#05f 12.71% 22.88%,#0af 22.88% 33.9%,#0df 33.9% 46.61%,#0f8 46.61% 57.63%,#2f0 57.63% 69.49%,#2f0 69.49% 80.51%,#5f0 80.51% 90.68%,#cf0 90.68% 100%)"></i><i style="left:196px;width:6px;background:linear-gradient(#0df 0% 12.71%,#0fd 12.71% 22.88%,#08f 22.88% 33.9%,#0df 33.9% 46.61%,#0f4 46.61% 57.63%,#0f0 57.63% 69.49%,#1f0 69.49% 80.51%,#9f0 80.51% 90.68%,#cf0 90.68% 100%)"></i><i style="left:202px;width:5px;background:linear-gradient(#0df 0% 12.71%,#0fd 12.71% 22.88%,#0af 22.88% 33.9%,#0df 33.9% 46.61%,#0f8 46.61% 57.63%,#0f4 57.63% 69.49%,#5f0 69.49% 80.51%,#5f0 80.51% 90.68%,#8f0 90.68% 100%)"></i><i style="left:207px;width:6px;background:linear-gradient(#0df 0% 12.71%,#0df 12.71% 22.88%,#07f 22.88% 33.9%,#0fc 33.9% 46.61%,#0fd 46.61% 57.63%,#0f6 57.63% 69.49%,#5f0 69.49% 80.51%,#bf0 80.51% 90.68%,#8f0 90.68% 100%)"></i><i style="left:213px;width:5px;background:linear-gradient(#0fd 0% 12.71%,#0fd 12.71% 22.88%,#0df 22.88% 33.9%,#0fa 33.9% 46.61%,#0f4 46.61% 57.63%,#0f2 57.63% 69.49%,#7f0 69.49% 80.51%,#bf0 80.51% 90.68%,#7f0 90.68% 100%)"></i><i style="left:218px;width:6px;background:linear-gradient(#08f 0% 12.71%,#0af 12.71% 22.88%,#0df 22.88% 33.9%,#0fa 33.9% 46.61%,#0f6 46.61% 57.63%,#2f0 57.63% 69.49%,#9f0 69.49% 80.51%,#bf0 80.51% 90.68%,#bf0 90.68% 100%)"></i><i style="left:224px;width:6px;background:linear-gradient(#0fd 0% 12.71%,#07f 12.71% 22.88%,#0df 22.88% 33.9%,#0fa 33.9% 46.61%,#0fd 46.61% 57.63%,#0f2 57.63% 69.49%,#1f0 69.49% 80.51%,#7f0 80.51% 90.68%,#9f0 90.68% 100%)"></i><i style="left:230px;width:5px;background:linear-gradient(#0fa 0% 12.71%,#04f 12.71% 22.88%,#09f 22.88% 33.9%,#0ef 33.9% 46.61%,#0fa 46.61% 57.63%,#0f6 57.63% 69.49%,#0f2 69.49% 80.51%,#5f0 80.51% 90.68%,#5f0 90.68% 100%)"></i><i style="left:235px;width:6px;background:linear-gradient(#0fd 0% 12.71%,#0ff 12.71% 22.88%,#0cf 22.88% 33.9%,#0af 33.9% 46.61%,#0fc 46.61% 57.63%,#0fc 57.63% 69.49%,#0fc 69.49% 80.51%,#0ff 80.51% 90.68%,#0fd 90.68% 100%)"></i><i style="left:241px;width:5px;background:linear-gradient(#0fe 0% 12.71%,#0ef 12.71% 22.88%,#0af 22.88% 33.9%,#0fd 33.9% 46.61%,#0f4 46.61% 57.63%,#1f0 57.63% 69.49%,#0f2 69.49% 80.51%,#7f0 80.51% 90.68%,#1f0 90.68% 100%)"></i><i style="left:246px;width:6px;background:linear-gradient(#0df 0% 12.71%,#0fc 12.71% 22.88%,#0bf 22.88% 33.9%,#0fe 33.9% 46.61%,#0f7 46.61% 57.63%,#0f3 57.63% 69.49%,#7f0 69.49% 80.51%,#7f0 80.51% 90.68%,#9f0 90.68% 100%)"></i><i style="left:252px;width:6px;background:linear-gradient(#0bf 0% 12.71%,#0cf 12.71% 22.88%,#0cf 22.88% 33.9%,#0fc 33.9% 46.61%,#4f0 46.61% 57.63%,#5f0 57.63% 69.49%,#bf0 69.49% 80.51%,#ff0 80.51% 90.68%,#fc0 90.68% 100%)"></i><i style="left:258px;width:5px;background:linear-gradient(#0fa 0% 12.71%,#09f 12.71% 22.88%,#0f7 22.88% 33.9%,#0f6 33.9% 46.61%,#0f1 46.61% 57.63%,#3f0 57.63% 69.49%,#bf0 69.49% 80.51%,#fd0 80.51% 90.68%,#f80 90.68% 100%)"></i><i style="left:263px;width:6px;background:linear-gradient(#0fa 0% 12.71%,#09f 12.71% 22.88%,#0f7 22.88% 33.9%,#0f6 33.9% 46.61%,#2f0 46.61% 57.63%,#2f0 57.63% 69.49%,#df0 69.49% 80.51%,#fb0 80.51% 90.68%,#fa0 90.68% 100%)"></i><i style="left:269px;width:5px;background:linear-gradient(#0df 0% 12.71%,#0ff 12.71% 22.88%,#0f7 22.88% 33.9%,#0f4 33.9% 46.61%,#0f4 46.61% 57.63%,#3f0 57.63% 69.49%,#ff0 69.49% 80.51%,#fc0 80.51% 90.68%,#f70 90.68% 100%)"></i><i style="left:274px;width:6px;background:linear-gradient(#0fe 0% 12.71%,#0ff 12.71% 22.88%,#0df 22.88% 33.9%,#0f6 33.9% 46.61%,#0f1 46.61% 57.63%,#3f0 57.63% 69.49%,#ff0 69.49% 80.51%,#fa0 80.51% 90.68%,#fb0 90.68% 100%)"></i><i style="left:280px;width:6px;background:linear-gradient(#0fb 0% 12.71%,#0cf 12.71% 22.88%,#0fe 22.88% 33.9%,#0f7 33.9% 46.61%,#2f0 46.61% 57.63%,#3f0 57.63% 69.49%,#fe0 69.49% 80.51%,#fe0 80.51% 90.68%,#fa0 90.68% 100%)"></i><i style="left:286px;width:5px;background:linear-gradient(#0af 0% 12.71%,#0cf 12.71% 22.88%,#0df 22.88% 33.9%,#0f2 33.9% 46.61%,#0f2 46.61% 57.63%,#5f0 57.63% 69.49%,#df0 69.49% 80.51%,#fb0 80.51% 90.68%,#fc0 90.68% 100%)"></i><i style="left:291px;width:6px;background:linear-gradient(#0fb 0% 12.71%,#0ff 12.71% 22.88%,#0bf 22.88% 33.9%,#0f2 33.9% 46.61%,#0f3 46.61% 57.63%,#4f0 57.63% 69.49%,#ff0 69.49% 80.51%,#fd0 80.51% 90.68%,#fd0 90.68% 100%)"></i><i style="left:297px;width:5px;background:linear-gradient(#0cf 0% 12.71%,#0ff 12.71% 22.88%,#0f9 22.88% 33.9%,#0f3 33.9% 46.61%,#0f1 46.61% 57.63%,#6f0 57.63% 69.49%,#bf0 69.49% 80.51%,#fe0 80.51% 90.68%,#fa0 90.68% 100%)"></i><i style="left:302px;width:6px;background:linear-gradient(#07f 0% 12.71%,#0df 12.71% 22.88%,#0fc 22.88% 33.9%,#0f5 33.9% 46.61%,#1f0 46.61% 57.63%,#6f0 57.63% 69.49%,#cf0 69.49% 80.51%,#fc0 80.51% 90.68%,#fe0 90.68% 100%)"></i><i style="left:308px;width:6px;background:linear-gradient(#0fb 0% 12.71%,#0df 12.71% 22.88%,#0ff 22.88% 33.9%,#0f5 33.9% 46.61%,#0f2 46.61% 57.63%,#2f0 57.63% 69.49%,#ef0 69.49% 80.51%,#fd0 80.51% 90.68%,#fe0 90.68% 100%)"></i><i style="left:314px;width:5px;background:linear-gradient(#0cf 0% 12.71%,#0df 12.71% 22.88%,#0ff 22.88% 33.9%,#0f4 33.9% 46.61%,#1f0 46.61% 57.63%,#6f0 57.63% 69.49%,#9f0 69.49% 80.51%,#df0 80.51% 90.68%,#fc0 90.68% 100%)"></i><i style="left:319px;width:6px;background:linear-gradient(#09f 0% 12.71%,#0fe 12.71% 22.88%,#0f8 22.88% 33.9%,#0f6 33.9% 46.61%,#1f0 46.61% 57.63%,#4f0 57.63% 69.49%,#af0 69.49% 80.51%,#fe0 80.51% 90.68%,#fe0 90.68% 100%)"></i><i style="left:325px;width:6px;background:linear-gradient(#0fb 0% 12.71%,#0fa 12.71% 22.88%,#0f7 22.88% 33.9%,#0f1 33.9% 46.61%,#0f0 46.61% 57.63%,#6f0 57.63% 69.49%,#8f0 69.49% 80.51%,#ff0 80.51% 90.68%,#ff0 90.68% 100%)"></i><i style="left:331px;width:5px;background:linear-gradient(#0cf 0% 12.71%,#0fe 12.71% 22.88%,#0f7 22.88% 33.9%,#0f5 33.9% 46.61%,#4f0 46.61% 57.63%,#3f0 57.63% 69.49%,#cf0 69.49% 80.51%,#ff0 80.51% 90.68%,#fd0 90.68% 100%)"></i><i style="left:336px;width:6px;background:linear-gradient(#0cf 0% 12.71%,#0df 12.71% 22.88%,#0fa 22.88% 33.9%,#0f1 33.9% 46.61%,#2f0 46.61% 57.63%,#7f0 57.63% 69.49%,#7f0 69.49% 80.51%,#cf0 80.51% 90.68%,#df0 90.68% 100%)"></i><i style="left:342px;width:5px;background:linear-gradient(#0fb 0% 12.71%,#0fd 12.71% 22.88%,#0fa 22.88% 33.9%,#0f6 33.9% 46.61%,#0f0 46.61% 57.63%,#2f0 57.63% 69.49%,#5f0 69.49% 80.51%,#af0 80.51% 90.68%,#9f0 90.68% 100%)"></i><i style="left:347px;width:6px;background:linear-gradient(#0cf 0% 12.71%,#0df 12.71% 22.88%,#0fa 22.88% 33.9%,#0f4 33.9% 46.61%,#0f2 46.61% 57.63%,#1f0 57.63% 69.49%,#3f0 69.49% 80.51%,#3f0 80.51% 90.68%,#5f0 90.68% 100%)"></i><i style="left:353px;width:6px;background:linear-gradient(#0cf 0% 12.71%,#0df 12.71% 22.88%,#0f4 22.88% 33.9%,#0f4 33.9% 46.61%,#9f0 46.61% 57.63%,#9f0 57.63% 69.49%,#ef0 69.49% 80.51%,#fd0 80.51% 90.68%,#fe0 90.68% 100%)"></i><i style="left:359px;width:5px;background:linear-gradient(#06f 0% 12.71%,#0bf 12.71% 22.88%,#0df 22.88% 33.9%,#0f2 33.9% 46.61%,#8f0 46.61% 57.63%,#df0 57.63% 69.49%,#fd0 69.49% 80.51%,#f80 80.51% 90.68%,#fa0 90.68% 100%)"></i><i style="left:364px;width:6px;background:linear-gradient(#05f 0% 12.71%,#0fd 12.71% 22.88%,#0f6 22.88% 33.9%,#0f3 33.9% 46.61%,#4f0 46.61% 57.63%,#cf0 57.63% 69.49%,#fb0 69.49% 80.51%,#f90 80.51% 90.68%,#f50 90.68% 100%)"></i><i style="left:370px;width:5px;background:linear-gradient(#0fd 0% 12.71%,#0fd 12.71% 22.88%,#0f9 22.88% 33.9%,#0f2 33.9% 46.61%,#7f0 46.61% 57.63%,#ff0 57.63% 69.49%,#fb0 69.49% 80.51%,#f70 80.51% 90.68%,#f60 90.68% 100%)"></i><i style="left:375px;width:6px;background:linear-gradient(#08f 0% 12.71%,#0f8 12.71% 22.88%,#0f8 22.88% 33.9%,#0f1 33.9% 46.61%,#8f0 46.61% 57.63%,#df0 57.63% 69.49%,#fd0 69.49% 80.51%,#f70 80.51% 90.68%,#f30 90.68% 100%)"></i><i style="left:381px;width:6px;background:linear-gradient(#0ff 0% 12.71%,#0af 12.71% 22.88%,#0ff 22.88% 33.9%,#0f1 33.9% 46.61%,#7f0 46.61% 57.63%,#df0 57.63% 69.49%,#fd0 69.49% 80.51%,#f80 80.51% 90.68%,#f40 90.68% 100%)"></i><i style="left:387px;width:5px;background:linear-gradient(#0df 0% 12.71%,#0af 12.71% 22.88%,#0f4 22.88% 33.9%,#2f0 33.9% 46.61%,#7f0 46.61% 57.63%,#cf0 57.63% 69.49%,#fe0 69.49% 80.51%,#f80 80.51% 90.68%,#f40 90.68% 100%)"></i><i style="left:392px;width:6px;background:linear-gradient(#0fc 0% 12.71%,#0bf 12.71% 22.88%,#0f7 22.88% 33.9%,#0f0 33.9% 46.61%,#6f0 46.61% 57.63%,#df0 57.63% 69.49%,#fe0 69.49% 80.51%,#f80 80.51% 90.68%,#f40 90.68% 100%)"></i><i style="left:398px;width:5px;background:linear-gradient(#0fd 0% 12.71%,#0fc 12.71% 22.88%,#0f4 22.88% 33.9%,#0f2 33.9% 46.61%,#7f0 46.61% 57.63%,#df0 57.63% 69.49%,#fe0 69.49% 80.51%,#f80 80.51% 90.68%,#f50 90.68% 100%)"></i><i style="left:403px;width:6px;background:linear-gradient(#0fb 0% 12.71%,#0f8 12.71% 22.88%,#0f7 22.88% 33.9%,#0f1 33.9% 46.61%,#7f0 46.61% 57.63%,#ef0 57.63% 69.49%,#fe0 69.49% 80.51%,#f80 80.51% 90.68%,#f50 90.68% 100%)"></i><i style="left:409px;width:6px;background:linear-gradient(#0fb 0% 12.71%,#0f9 12.71% 22.88%,#0f7 22.88% 33.9%,#1f0 33.9% 46.61%,#8f0 46.61% 57.63%,#df0 57.63% 69.49%,#fe0 69.49% 80.51%,#f90 80.51% 90.68%,#f60 90.68% 100%)"></i><i style="left:415px;width:5px;background:linear-gradient(#0fa 0% 12.71%,#0f7 12.71% 22.88%,#0f3 22.88% 33.9%,#0f0 33.9% 46.61%,#7f0 46.61% 57.63%,#ef0 57.63% 69.49%,#fe0 69.49% 80.51%,#f90 80.51% 90.68%,#f60 90.68% 100%)"></i><i style="left:420px;width:6px;background:linear-gradient(#0fa 0% 12.71%,#0f4 12.71% 22.88%,#0f2 22.88% 33.9%,#1f0 33.9% 46.61%,#6f0 46.61% 57.63%,#cf0 57.63% 69.49%,#fd0 69.49% 80.51%,#fa0 80.51% 90.68%,#f70 90.68% 100%)"></i><i style="left:426px;width:5px;background:linear-gradient(#0f7 0% 12.71%,#0f7 12.71% 22.88%,#0f2 22.88% 33.9%,#1f0 33.9% 46.61%,#8f0 46.61% 57.63%,#df0 57.63% 69.49%,#fd0 69.49% 80.51%,#fa0 80.51% 90.68%,#f60 90.68% 100%)"></i><i style="left:431px;width:6px;background:linear-gradient(#0f7 0% 12.71%,#0f8 12.71% 22.88%,#0f2 22.88% 33.9%,#1f0 33.9% 46.61%,#6f0 46.61% 57.63%,#df0 57.63% 69.49%,#fd0 69.49% 80.51%,#fa0 80.51% 90.68%,#f70 90.68% 100%)"></i><i style="left:437px;width:6px;background:linear-gradient(#0f6 0% 12.71%,#0f6 12.71% 22.88%,#0f2 22.88% 33.9%,#0f0 33.9% 46.61%,#7f0 46.61% 57.63%,#cf0 57.63% 69.49%,#fe0 69.49% 80.51%,#fa0 80.51% 90.68%,#f70 90.68% 100%)"></i><i style="left:443px;width:5px;background:linear-gradient(#0f6 0% 12.71%,#0f6 12.71% 22.88%,#0f3 22.88% 33.9%,#0f0 33.9% 46.61%,#7f0 46.61% 57.63%,#df0 57.63% 69.49%,#fe0 69.49% 80.51%,#fb0 80.51% 90.68%,#f70 90.68% 100%)"></i><i style="left:448px;width:6px;background:linear-gradient(#0fa 0% 12.71%,#0f6 12.71% 22.88%,#0f3 22.88% 33.9%,#0f0 33.9% 46.61%,#8f0 46.61% 57.63%,#df0 57.63% 69.49%,#fe0 69.49% 80.51%,#fb0 80.51% 90.68%,#f70 90.68% 100%)"></i><i style="left:454px;width:5px;background:linear-gradient(#0f7 0% 12.71%,#0f5 12.71% 22.88%,#0f5 22.88% 33.9%,#1f0 33.9% 46.61%,#7f0 46.61% 57.63%,#df0 57.63% 69.49%,#fd0 69.49% 80.51%,#fb0 80.51% 90.68%,#f80 90.68% 100%)"></i><i style="left:459px;width:6px;background:linear-gradient(#0f7 0% 12.71%,#0f4 12.71% 22.88%,#0f5 22.88% 33.9%,#1f0 33.9% 46.61%,#7f0 46.61% 57.63%,#cf0 57.63% 69.49%,#fd0 69.49% 80.51%,#fc0 80.51% 90.68%,#f90 90.68% 100%)"></i><i style="left:465px;width:6px;background:linear-gradient(#0f9 0% 12.71%,#0f6 12.71% 22.88%,#0f5 22.88% 33.9%,#2f0 33.9% 46.61%,#7f0 46.61% 57.63%,#cf0 57.63% 69.49%,#fd0 69.49% 80.51%,#fb0 80.51% 90.68%,#f80 90.68% 100%)"></i><i style="left:471px;width:5px;background:linear-gradient(#0f9 0% 12.71%,#0f6 12.71% 22.88%,#0f5 22.88% 33.9%,#0f0 33.9% 46.61%,#7f0 46.61% 57.63%,#df0 57.63% 69.49%,#fd0 69.49% 80.51%,#fb0 80.51% 90.68%,#f80 90.68% 100%)"></i><i style="left:476px;width:6px;background:linear-gradient(#0f8 0% 12.71%,#0f7 12.71% 22.88%,#0f2 22.88% 33.9%,#2f0 33.9% 46.61%,#8f0 46.61% 57.63%,#df0 57.63% 69.49%,#fd0 69.49% 80.51%,#fb0 80.51% 90.68%,#f70 90.68% 100%)"></i><i style="left:482px;width:5px;background:linear-gradient(#0f8 0% 12.71%,#0f5 12.71% 22.88%,#0f4 22.88% 33.9%,#2f0 33.9% 46.61%,#8f0 46.61% 57.63%,#df0 57.63% 69.49%,#fd0 69.49% 80.51%,#fb0 80.51% 90.68%,#f70 90.68% 100%)"></i><i style="left:487px;width:6px;background:linear-gradient(#0f5 0% 12.71%,#0f5 12.71% 22.88%,#0f4 22.88% 33.9%,#2f0 33.9% 46.61%,#8f0 46.61% 57.63%,#df0 57.63% 69.49%,#fc0 69.49% 80.51%,#fb0 80.51% 90.68%,#f70 90.68% 100%)"></i><i style="left:493px;width:6px;background:linear-gradient(#0f6 0% 12.71%,#0f5 12.71% 22.88%,#0f1 22.88% 33.9%,#2f0 33.9% 46.61%,#8f0 46.61% 57.63%,#df0 57.63% 69.49%,#fd0 69.49% 80.51%,#fb0 80.51% 90.68%,#f70 90.68% 100%)"></i><i style="left:499px;width:5px;background:linear-gradient(#0f5 0% 12.71%,#0f8 12.71% 22.88%,#0f4 22.88% 33.9%,#1f0 33.9% 46.61%,#8f0 46.61% 57.63%,#ef0 57.63% 69.49%,#fc0 69.49% 80.51%,#fa0 80.51% 90.68%,#f70 90.68% 100%)"></i><i style="left:504px;width:6px;background:linear-gradient(#0f8 0% 12.71%,#0f5 12.71% 22.88%,#0f1 22.88% 33.9%,#1f0 33.9% 46.61%,#9f0 46.61% 57.63%,#ef0 57.63% 69.49%,#fc0 69.49% 80.51%,#fa0 80.51% 90.68%,#f70 90.68% 100%)"></i><i style="left:510px;width:5px;background:linear-gradient(#0f7 0% 12.71%,#0f8 12.71% 22.88%,#0f2 22.88% 33.9%,#2f0 33.9% 46.61%,#9f0 46.61% 57.63%,#ff0 57.63% 69.49%,#fd0 69.49% 80.51%,#fa0 80.51% 90.68%,#f70 90.68% 100%)"></i><i style="left:515px;width:6px;background:linear-gradient(#0f9 0% 12.71%,#0f7 12.71% 22.88%,#0f1 22.88% 33.9%,#2f0 33.9% 46.61%,#8f0 46.61% 57.63%,#ef0 57.63% 69.49%,#fc0 69.49% 80.51%,#fa0 80.51% 90.68%,#f60 90.68% 100%)"></i><i style="left:521px;width:6px;background:linear-gradient(#0f8 0% 12.71%,#0f5 12.71% 22.88%,#0f2 22.88% 33.9%,#4f0 33.9% 46.61%,#af0 46.61% 57.63%,#ef0 57.63% 69.49%,#fc0 69.49% 80.51%,#fa0 80.51% 90.68%,#f70 90.68% 100%)"></i><i style="left:527px;width:5px;background:linear-gradient(#0f9 0% 12.71%,#0f4 12.71% 22.88%,#0f3 22.88% 33.9%,#2f0 33.9% 46.61%,#af0 46.61% 57.63%,#ff0 57.63% 69.49%,#fc0 69.49% 80.51%,#fa0 80.51% 90.68%,#f60 90.68% 100%)"></i><i style="left:532px;width:6px;background:linear-gradient(#0f9 0% 12.71%,#0f4 12.71% 22.88%,#0f0 22.88% 33.9%,#3f0 33.9% 46.61%,#9f0 46.61% 57.63%,#ef0 57.63% 69.49%,#fc0 69.49% 80.51%,#f90 80.51% 90.68%,#f60 90.68% 100%)"></i><i style="left:538px;width:5px;background:linear-gradient(#0f8 0% 12.71%,#0f4 12.71% 22.88%,#0f2 22.88% 33.9%,#3f0 33.9% 46.61%,#af0 46.61% 57.63%,#ff0 57.63% 69.49%,#fc0 69.49% 80.51%,#fa0 80.51% 90.68%,#f60 90.68% 100%)"></i><i style="left:543px;width:6px;background:linear-gradient(#0f9 0% 12.71%,#0f6 12.71% 22.88%,#0f4 22.88% 33.9%,#4f0 33.9% 46.61%,#9f0 46.61% 57.63%,#ff0 57.63% 69.49%,#fd0 69.49% 80.51%,#fa0 80.51% 90.68%,#f60 90.68% 100%)"></i><i style="left:549px;width:6px;background:linear-gradient(#0f7 0% 12.71%,#0f5 12.71% 22.88%,#0f0 22.88% 33.9%,#2f0 33.9% 46.61%,#bf0 46.61% 57.63%,#fe0 57.63% 69.49%,#fc0 69.49% 80.51%,#f80 80.51% 90.68%,#f70 90.68% 100%)"></i><i style="left:555px;width:5px;background:linear-gradient(#0f9 0% 12.71%,#0f7 12.71% 22.88%,#0f4 22.88% 33.9%,#3f0 33.9% 46.61%,#bf0 46.61% 57.63%,#ef0 57.63% 69.49%,#fc0 69.49% 80.51%,#f90 80.51% 90.68%,#f60 90.68% 100%)"></i><i style="left:560px;width:6px;background:linear-gradient(#0f7 0% 12.71%,#0f4 12.71% 22.88%,#0f2 22.88% 33.9%,#3f0 33.9% 46.61%,#cf0 46.61% 57.63%,#ff0 57.63% 69.49%,#fc0 69.49% 80.51%,#f90 80.51% 90.68%,#f70 90.68% 100%)"></i><i style="left:566px;width:5px;background:linear-gradient(#0f9 0% 12.71%,#0f5 12.71% 22.88%,#0f3 22.88% 33.9%,#4f0 33.9% 46.61%,#bf0 46.61% 57.63%,#ef0 57.63% 69.49%,#fc0 69.49% 80.51%,#f80 80.51% 90.68%,#f70 90.68% 100%)"></i><i style="left:571px;width:6px;background:linear-gradient(#0f8 0% 12.71%,#0f7 12.71% 22.88%,#0f0 22.88% 33.9%,#3f0 33.9% 46.61%,#bf0 46.61% 57.63%,#ef0 57.63% 69.49%,#fc0 69.49% 80.51%,#fa0 80.51% 90.68%,#f70 90.68% 100%)"></i><i style="left:577px;width:6px;background:linear-gradient(#0f8 0% 12.71%,#0f6 12.71% 22.88%,#0f0 22.88% 33.9%,#5f0 33.9% 46.61%,#cf0 46.61% 57.63%,#ff0 57.63% 69.49%,#fc0 69.49% 80.51%,#f80 80.51% 90.68%,#f60 90.68% 100%)"></i><i style="left:583px;width:5px;background:linear-gradient(#0f5 0% 12.71%,#0f4 12.71% 22.88%,#0f2 22.88% 33.9%,#4f0 33.9% 46.61%,#cf0 46.61% 57.63%,#ff0 57.63% 69.49%,#fc0 69.49% 80.51%,#fa0 80.51% 90.68%,#f60 90.68% 100%)"></i><i style="left:588px;width:6px;background:linear-gradient(#0f5 0% 12.71%,#0f6 12.71% 22.88%,#0f2 22.88% 33.9%,#6f0 33.9% 46.61%,#bf0 46.61% 57.63%,#ff0 57.63% 69.49%,#fd0 69.49% 80.51%,#f90 80.51% 90.68%,#f70 90.68% 100%)"></i><i style="left:594px;width:5px;background:linear-gradient(#0f8 0% 12.71%,#0f5 12.71% 22.88%,#0f1 22.88% 33.9%,#6f0 33.9% 46.61%,#bf0 46.61% 57.63%,#ef0 57.63% 69.49%,#fc0 69.49% 80.51%,#fa0 80.51% 90.68%,#f70 90.68% 100%)"></i><i style="left:599px;width:6px;background:linear-gradient(#0f9 0% 12.71%,#0f5 12.71% 22.88%,#0f0 22.88% 33.9%,#6f0 33.9% 46.61%,#bf0 46.61% 57.63%,#fe0 57.63% 69.49%,#fc0 69.49% 80.51%,#f90 80.51% 90.68%,#f60 90.68% 100%)"></i><i style="left:605px;width:6px;background:linear-gradient(#0f8 0% 12.71%,#0f4 12.71% 22.88%,#0f2 22.88% 33.9%,#6f0 33.9% 46.61%,#df0 46.61% 57.63%,#fe0 57.63% 69.49%,#fc0 69.49% 80.51%,#f90 80.51% 90.68%,#f70 90.68% 100%)"></i><i style="left:611px;width:5px;background:linear-gradient(#0f8 0% 12.71%,#0f7 12.71% 22.88%,#0f3 22.88% 33.9%,#5f0 33.9% 46.61%,#cf0 46.61% 57.63%,#fe0 57.63% 69.49%,#fd0 69.49% 80.51%,#f90 80.51% 90.68%,#f60 90.68% 100%)"></i><i style="left:616px;width:6px;background:linear-gradient(#0f7 0% 12.71%,#0f3 12.71% 22.88%,#0f3 22.88% 33.9%,#6f0 33.9% 46.61%,#cf0 46.61% 57.63%,#ff0 57.63% 69.49%,#fc0 69.49% 80.51%,#fa0 80.51% 90.68%,#f70 90.68% 100%)"></i><i style="left:622px;width:5px;background:linear-gradient(#0f7 0% 12.71%,#0f4 12.71% 22.88%,#0f2 22.88% 33.9%,#6f0 33.9% 46.61%,#df0 46.61% 57.63%,#ff0 57.63% 69.49%,#fd0 69.49% 80.51%,#f90 80.51% 90.68%,#f70 90.68% 100%)"></i><i style="left:627px;width:6px;background:linear-gradient(#0f9 0% 12.71%,#0f5 12.71% 22.88%,#0f3 22.88% 33.9%,#7f0 33.9% 46.61%,#cf0 46.61% 57.63%,#ff0 57.63% 69.49%,#fb0 69.49% 80.51%,#fa0 80.51% 90.68%,#f60 90.68% 100%)"></i></div><div class="sp" style="left:59px;top:572px;width:633px;height:59px;background:#000"><i style="left:0px;width:1px;background:linear-gradient(#000,#50a,#00f,#1f0,#cf0,#df0,#df0,#df0,#ef0,#ef0,#ef0,#df0,#af0,#af0,#cf0,#ef0,#cf0,#bf0,#af0,#af0,#af0,#af0,#cf0,#df0)"></i><i style="left:1px;width:1px;background:linear-gradient(#000,#508,#00f,#0f1,#af0,#af0,#af0,#af0,#bf0,#bf0,#bf0,#bf0,#af0,#af0,#cf0,#ef0,#ef0,#df0,#df0,#df0,#df0,#df0,#df0,#df0)"></i><i style="left:2px;width:1px;background:linear-gradient(#000,#10e,#00f,#0f1,#af0,#af0,#af0,#bf0,#bf0,#bf0,#cf0,#bf0,#af0,#af0,#cf0,#ef0,#df0,#cf0,#bf0,#bf0,#bf0,#bf0,#cf0,#df0)"></i><i style="left:3px;width:1px;background:linear-gradient(#000,#10e,#00f,#1f0,#cf0,#df0,#df0,#df0,#ef0,#ef0,#ef0,#df0,#af0,#af0,#cf0,#ef0,#cf0,#bf0,#af0,#af0,#af0,#af0,#cf0,#df0)"></i><i style="left:4px;width:1px;background:linear-gradient(#000,#204,#00f,#0fc,#0f3,#0f3,#0f3,#0f2,#0f2,#0f2,#0f1,#1f0,#7f0,#af0,#cf0,#df0,#7f0,#0f0,#0f5,#0f5,#0f5,#0f5,#8f0,#df0)"></i><i style="left:5px;width:1px;background:linear-gradient(#000,#50a,#00f,#0fe,#0f6,#0f5,#0f5,#0f5,#0f5,#0f4,#0f4,#0f1,#6f0,#af0,#cf0,#df0,#5f0,#0f3,#0f9,#0f9,#0f9,#0f9,#7f0,#df0)"></i><i style="left:6px;width:1px;background:linear-gradient(#000,#50a,#00f,#0fc,#0f3,#0f3,#0f2,#0f2,#0f2,#0f2,#0f1,#1f0,#7f0,#af0,#cf0,#df0,#8f0,#1f0,#0f3,#0f3,#0f3,#0f3,#9f0,#df0)"></i><i style="left:7px;width:1px;background:linear-gradient(#000,#50a,#00f,#0fa,#0f1,#0f1,#0f1,#0f0,#0f0,#0f0,#1f0,#3f0,#7f0,#af0,#cf0,#df0,#6f0,#0f2,#0f6,#0f6,#0f6,#0f6,#8f0,#df0)"></i><i style="left:8px;width:1px;background:linear-gradient(#000,#508,#00f,#0fc,#0f4,#0f3,#0f3,#0f3,#0f2,#0f2,#0f2,#1f0,#6f0,#af0,#cf0,#df0,#8f0,#3f0,#0f1,#0f1,#0f1,#0f1,#9f0,#df0)"></i><i style="left:9px;width:1px;background:linear-gradient(#000,#508,#00f,#1f0,#cf0,#cf0,#cf0,#df0,#df0,#df0,#ef0,#df0,#af0,#af0,#cf0,#ef0,#ef0,#ef0,#ef0,#ef0,#ef0,#ef0,#df0,#df0)"></i><i style="left:10px;width:1px;background:linear-gradient(#000,#508,#00f,#0ef,#0f8,#0f8,#0f7,#0f7,#0f7,#0f6,#0f6,#0f2,#5f0,#af0,#cf0,#ff0,#fb0,#f70,#f50,#f50,#f50,#f50,#fd0,#df0)"></i><i style="left:11px;width:1px;background:linear-gradient(#000,#50a,#00f,#0ef,#0f8,#0f8,#0f8,#0f8,#0f7,#0f7,#0f7,#0f3,#5f0,#af0,#cf0,#ff0,#fb0,#f50,#f20,#f20,#f20,#f20,#fc0,#df0)"></i><i style="left:12px;width:1px;background:linear-gradient(#000,#50a,#00f,#0ff,#0f7,#0f7,#0f6,#0f6,#0f6,#0f5,#0f5,#0f2,#6f0,#af0,#cf0,#ff0,#fb0,#f50,#f30,#f30,#f30,#f30,#fc0,#df0)"></i><i style="left:13px;width:1px;background:linear-gradient(#000,#508,#00f,#0fc,#0f4,#0f3,#0f3,#0f3,#0f2,#0f2,#0f2,#1f0,#6f0,#af0,#cf0,#ff0,#fa0,#f50,#f20,#f20,#f20,#f20,#fc0,#df0)"></i><i style="left:14px;width:1px;background:linear-gradient(#000,#10e,#00f,#0ef,#0f8,#0f8,#0f8,#0f7,#0f7,#0f7,#0f6,#0f3,#5f0,#af0,#cf0,#ff0,#fa0,#f40,#f10,#f10,#f10,#f10,#fc0,#df0)"></i><i style="left:15px;width:1px;background:linear-gradient(#000,#10e,#00f,#0fd,#0f4,#0f4,#0f4,#0f4,#0f3,#0f3,#0f3,#0f0,#6f0,#af0,#cf0,#ff0,#fb0,#f60,#f30,#f30,#f30,#f30,#fd0,#df0)"></i><i style="left:16px;width:1px;background:linear-gradient(#000,#10e,#00f,#0fc,#0f3,#0f3,#0f3,#0f2,#0f2,#0f2,#0f1,#1f0,#7f0,#af0,#cf0,#ff0,#fb0,#f60,#f30,#f30,#f30,#f30,#fd0,#df0)"></i><i style="left:17px;width:1px;background:linear-gradient(#000,#204,#00f,#0ef,#0f8,#0f8,#0f7,#0f7,#0f7,#0f6,#0f6,#0f2,#5f0,#af0,#cf0,#ff0,#fb0,#f70,#f40,#f40,#f40,#f40,#fd0,#df0)"></i><i style="left:18px;width:1px;background:linear-gradient(#000,#10e,#00f,#0fc,#0f3,#0f3,#0f3,#0f2,#0f2,#0f2,#0f1,#1f0,#6f0,#af0,#cf0,#ff0,#fb0,#f70,#f50,#f50,#f50,#f50,#fd0,#df0)"></i><i style="left:19px;width:1px;background:linear-gradient(#000,#10e,#00f,#06f,#0af,#0bf,#0bf,#0bf,#0bf,#0cf,#0cf,#0fc,#2f0,#af0,#cf0,#df0,#5f0,#0f4,#0f9,#0f9,#0f9,#0f9,#7f0,#df0)"></i><i style="left:20px;width:1px;background:linear-gradient(#000,#50a,#00f,#02f,#02f,#02f,#02f,#02f,#02f,#02f,#02f,#09f,#0fc,#0f2,#cf0,#df0,#5f0,#0f4,#0f9,#0f9,#0f9,#0f9,#7f0,#df0)"></i><i style="left:21px;width:1px;background:linear-gradient(#000,#10e,#00f,#02f,#02f,#02f,#02f,#02f,#02f,#02f,#02f,#09f,#0fc,#0f2,#cf0,#df0,#5f0,#0f4,#0f9,#0f9,#0f9,#0f9,#7f0,#df0)"></i><i style="left:22px;width:1px;background:linear-gradient(#000,#508,#00f,#02f,#02f,#02f,#02f,#02f,#02f,#02f,#02f,#09f,#0fc,#0f2,#cf0,#ff0,#fb0,#f60,#f30,#f30,#f30,#f30,#fd0,#df0)"></i><i style="left:23px;width:1px;background:linear-gradient(#000,#10e,#00f,#02f,#02f,#02f,#02f,#02f,#02f,#02f,#02f,#09f,#0fc,#0f2,#cf0,#ff0,#fa0,#f40,#f10,#f10,#f10,#f10,#fc0,#df0)"></i><i style="left:24px;width:1px;background:linear-gradient(#000,#10e,#00f,#02f,#02f,#02f,#02f,#02f,#02f,#02f,#02f,#09f,#0fc,#0f2,#cf0,#ff0,#fa0,#f50,#f10,#f10,#f10,#f10,#fc0,#df0)"></i><i style="left:25px;width:1px;background:linear-gradient(#000,#50a,#00f,#02f,#02f,#02f,#02f,#02f,#02f,#02f,#02f,#09f,#0fc,#0f2,#cf0,#ff0,#fa0,#f50,#f20,#f20,#f20,#f20,#fc0,#df0)"></i><i style="left:26px;width:1px;background:linear-gradient(#000,#50a,#00f,#02f,#02f,#02f,#02f,#02f,#02f,#02f,#02f,#09f,#0fc,#0f2,#cf0,#ff0,#fa0,#f50,#f20,#f20,#f20,#f20,#fc0,#df0)"></i><i style="left:27px;width:1px;background:linear-gradient(#000,#10e,#00f,#02f,#02f,#02f,#02f,#02f,#02f,#02f,#02f,#09f,#0fc,#0f2,#cf0,#ff0,#fb0,#f50,#f30,#f30,#f30,#f30,#fc0,#df0)"></i><i style="left:28px;width:1px;background:linear-gradient(#000,#204,#00f,#0fc,#0f3,#0f3,#0f3,#0f2,#0f2,#0f2,#0f1,#1f0,#6f0,#af0,#cf0,#ff0,#fb0,#f70,#f50,#f50,#f50,#f50,#fd0,#df0)"></i><i style="left:29px;width:1px;background:linear-gradient(#000,#50a,#00f,#1f0,#cf0,#cf0,#cf0,#df0,#df0,#df0,#ef0,#df0,#af0,#af0,#cf0,#ef0,#ff0,#fe0,#fe0,#fe0,#fe0,#fe0,#ef0,#df0)"></i><i style="left:30px;width:1px;background:linear-gradient(#000,#508,#00f,#0f8,#1f0,#1f0,#2f0,#2f0,#2f0,#3f0,#3f0,#4f0,#8f0,#af0,#cf0,#ef0,#bf0,#8f0,#6f0,#6f0,#6f0,#6f0,#bf0,#df0)"></i><i style="left:31px;width:1px;background:linear-gradient(#000,#204,#00f,#0f5,#6f0,#6f0,#6f0,#6f0,#7f0,#7f0,#7f0,#8f0,#9f0,#af0,#cf0,#ef0,#bf0,#8f0,#6f0,#6f0,#6f0,#6f0,#bf0,#df0)"></i><i style="left:32px;width:1px;background:linear-gradient(#000,#10e,#00f,#0f5,#6f0,#6f0,#6f0,#6f0,#7f0,#7f0,#7f0,#8f0,#9f0,#af0,#cf0,#ef0,#df0,#bf0,#bf0,#bf0,#bf0,#bf0,#cf0,#df0)"></i><i style="left:33px;width:1px;background:linear-gradient(#000,#508,#00f,#0f5,#5f0,#6f0,#6f0,#6f0,#6f0,#7f0,#7f0,#8f0,#9f0,#af0,#cf0,#ef0,#bf0,#9f0,#7f0,#7f0,#7f0,#7f0,#bf0,#df0)"></i><i style="left:34px;width:1px;background:linear-gradient(#000,#508,#00f,#0fe,#0f5,#0f5,#0f5,#0f4,#0f4,#0f4,#0f4,#0f0,#6f0,#af0,#cf0,#df0,#9f0,#4f0,#1f0,#1f0,#1f0,#1f0,#af0,#df0)"></i><i style="left:35px;width:1px;background:linear-gradient(#000,#10e,#00f,#0fb,#0f2,#0f1,#0f1,#0f1,#0f1,#0f0,#0f0,#2f0,#7f0,#af0,#cf0,#df0,#9f0,#3f0,#0f0,#0f0,#0f0,#0f0,#9f0,#df0)"></i><i style="left:36px;width:1px;background:linear-gradient(#000,#50a,#00f,#0fc,#0f3,#0f3,#0f2,#0f2,#0f2,#0f1,#0f1,#1f0,#7f0,#af0,#cf0,#df0,#8f0,#1f0,#0f3,#0f3,#0f3,#0f3,#8f0,#df0)"></i><i style="left:37px;width:1px;background:linear-gradient(#000,#50a,#00f,#0f1,#9f0,#9f0,#af0,#af0,#af0,#bf0,#bf0,#bf0,#af0,#af0,#cf0,#ef0,#df0,#cf0,#bf0,#bf0,#bf0,#bf0,#df0,#df0)"></i><i style="left:38px;width:1px;background:linear-gradient(#000,#10e,#00f,#0f2,#8f0,#8f0,#9f0,#9f0,#9f0,#af0,#af0,#af0,#9f0,#af0,#cf0,#ef0,#cf0,#af0,#9f0,#9f0,#9f0,#9f0,#cf0,#df0)"></i><i style="left:39px;width:1px;background:linear-gradient(#000,#10e,#00f,#0f1,#af0,#bf0,#bf0,#bf0,#bf0,#cf0,#cf0,#bf0,#af0,#af0,#cf0,#ef0,#ef0,#ef0,#ff0,#ff0,#ff0,#ff0,#df0,#df0)"></i><i style="left:40px;width:1px;background:linear-gradient(#000,#508,#00f,#0f2,#8f0,#9f0,#9f0,#9f0,#af0,#af0,#af0,#af0,#9f0,#af0,#cf0,#ef0,#df0,#cf0,#bf0,#bf0,#bf0,#bf0,#cf0,#df0)"></i><i style="left:41px;width:1px;background:linear-gradient(#000,#50a,#00f,#0fc,#0f3,#0f3,#0f3,#0f2,#0f2,#0f2,#0f1,#1f0,#6f0,#af0,#cf0,#df0,#9f0,#4f0,#1f0,#1f0,#1f0,#1f0,#af0,#df0)"></i><i style="left:42px;width:1px;background:linear-gradient(#000,#204,#00f,#0ff,#0f7,#0f7,#0f6,#0f6,#0f6,#0f5,#0f5,#0f2,#6f0,#af0,#cf0,#df0,#5f0,#0f3,#0f9,#0f9,#0f9,#0f9,#7f0,#df0)"></i><i style="left:43px;width:1px;background:linear-gradient(#000,#10e,#00f,#0fe,#0f5,#0f5,#0f5,#0f5,#0f4,#0f4,#0f4,#0f0,#6f0,#af0,#cf0,#df0,#9f0,#4f0,#1f0,#1f0,#1f0,#1f0,#af0,#df0)"></i><i style="left:44px;width:1px;background:linear-gradient(#000,#508,#00f,#0f7,#3f0,#3f0,#3f0,#4f0,#4f0,#4f0,#4f0,#6f0,#8f0,#af0,#cf0,#ef0,#bf0,#8f0,#6f0,#6f0,#6f0,#6f0,#bf0,#df0)"></i><i style="left:45px;width:1px;background:linear-gradient(#000,#50a,#00f,#0f2,#8f0,#8f0,#9f0,#9f0,#9f0,#af0,#af0,#af0,#9f0,#af0,#cf0,#ef0,#ef0,#df0,#df0,#df0,#df0,#df0,#df0,#df0)"></i><i style="left:46px;width:1px;background:linear-gradient(#000,#508,#00f,#0f5,#5f0,#5f0,#5f0,#6f0,#6f0,#6f0,#7f0,#7f0,#8f0,#af0,#cf0,#ef0,#cf0,#af0,#9f0,#9f0,#9f0,#9f0,#cf0,#df0)"></i><i style="left:47px;width:1px;background:linear-gradient(#000,#204,#00f,#0f4,#7f0,#7f0,#7f0,#7f0,#8f0,#8f0,#8f0,#9f0,#9f0,#af0,#cf0,#df0,#af0,#7f0,#4f0,#4f0,#4f0,#4f0,#bf0,#df0)"></i><i style="left:48px;width:1px;background:linear-gradient(#000,#10e,#00f,#0f8,#2f0,#2f0,#2f0,#3f0,#3f0,#3f0,#4f0,#5f0,#8f0,#af0,#cf0,#ef0,#cf0,#af0,#9f0,#9f0,#9f0,#9f0,#cf0,#df0)"></i><i style="left:49px;width:1px;background:linear-gradient(#000,#204,#00f,#0f4,#6f0,#7f0,#7f0,#7f0,#8f0,#8f0,#8f0,#9f0,#9f0,#af0,#cf0,#df0,#bf0,#7f0,#5f0,#5f0,#5f0,#5f0,#bf0,#df0)"></i><i style="left:50px;width:1px;background:linear-gradient(#000,#204,#00f,#0f4,#6f0,#6f0,#7f0,#7f0,#7f0,#7f0,#8f0,#8f0,#9f0,#af0,#cf0,#ef0,#cf0,#9f0,#8f0,#8f0,#8f0,#8f0,#cf0,#df0)"></i><i style="left:51px;width:1px;background:linear-gradient(#000,#204,#00f,#0f7,#3f0,#3f0,#4f0,#4f0,#4f0,#5f0,#5f0,#6f0,#8f0,#af0,#cf0,#df0,#af0,#6f0,#4f0,#4f0,#4f0,#4f0,#af0,#df0)"></i><i style="left:52px;width:1px;background:linear-gradient(#000,#50a,#00f,#0f7,#2f0,#3f0,#3f0,#3f0,#3f0,#4f0,#4f0,#5f0,#8f0,#af0,#cf0,#ef0,#bf0,#8f0,#6f0,#6f0,#6f0,#6f0,#bf0,#df0)"></i><i style="left:53px;width:1px;background:linear-gradient(#000,#10e,#00f,#0f1,#af0,#bf0,#bf0,#bf0,#bf0,#cf0,#cf0,#bf0,#af0,#af0,#cf0,#ef0,#ff0,#ff0,#fe0,#fe0,#fe0,#fe0,#ef0,#df0)"></i><i style="left:54px;width:1px;background:linear-gradient(#000,#50a,#00f,#0f0,#bf0,#bf0,#cf0,#cf0,#cf0,#cf0,#df0,#cf0,#af0,#af0,#cf0,#ef0,#ef0,#ff0,#ff0,#ff0,#ff0,#ff0,#ef0,#df0)"></i><i style="left:55px;width:1px;background:linear-gradient(#000,#508,#00f,#0f1,#af0,#af0,#af0,#bf0,#bf0,#bf0,#cf0,#bf0,#af0,#af0,#cf0,#ef0,#ef0,#ef0,#ef0,#ef0,#ef0,#ef0,#df0,#df0)"></i><i style="left:56px;width:1px;background:linear-gradient(#000,#50a,#00f,#0f1,#9f0,#9f0,#af0,#af0,#af0,#bf0,#bf0,#bf0,#af0,#af0,#cf0,#ef0,#ff0,#fe0,#fe0,#fe0,#fe0,#fe0,#ef0,#df0)"></i><i style="left:57px;width:1px;background:linear-gradient(#000,#508,#00f,#0f1,#af0,#af0,#bf0,#bf0,#bf0,#bf0,#cf0,#bf0,#af0,#af0,#cf0,#ef0,#df0,#cf0,#cf0,#cf0,#cf0,#cf0,#df0,#df0)"></i><i style="left:58px;width:1px;background:linear-gradient(#000,#10e,#00f,#0f2,#8f0,#8f0,#9f0,#9f0,#9f0,#af0,#af0,#af0,#9f0,#af0,#cf0,#ef0,#df0,#cf0,#cf0,#cf0,#cf0,#cf0,#df0,#df0)"></i><i style="left:59px;width:1px;background:linear-gradient(#000,#10e,#00f,#0f3,#7f0,#8f0,#8f0,#8f0,#9f0,#9f0,#9f0,#9f0,#9f0,#af0,#cf0,#ef0,#df0,#cf0,#cf0,#cf0,#cf0,#cf0,#df0,#df0)"></i><i style="left:60px;width:1px;background:linear-gradient(#000,#10e,#00f,#0f1,#af0,#af0,#af0,#bf0,#bf0,#bf0,#cf0,#bf0,#af0,#af0,#cf0,#ef0,#df0,#bf0,#af0,#af0,#af0,#af0,#cf0,#df0)"></i><i style="left:61px;width:1px;background:linear-gradient(#000,#508,#00f,#0ff,#0f7,#0f6,#0f6,#0f6,#0f6,#0f5,#0f5,#0f1,#6f0,#af0,#cf0,#df0,#6f0,#0f1,#0f6,#0f6,#0f6,#0f6,#8f0,#df0)"></i><i style="left:62px;width:1px;background:linear-gradient(#000,#204,#00f,#0ff,#0f7,#0f6,#0f6,#0f6,#0f6,#0f5,#0f5,#0f1,#6f0,#af0,#cf0,#ff0,#fd0,#fa0,#f90,#f90,#f90,#f90,#fe0,#df0)"></i><i style="left:63px;width:1px;background:linear-gradient(#000,#10e,#00f,#0fd,#0f4,#0f4,#0f3,#0f3,#0f3,#0f3,#0f2,#1f0,#6f0,#af0,#cf0,#ef0,#fd0,#fb0,#fa0,#fa0,#fa0,#fa0,#ff0,#df0)"></i><i style="left:64px;width:1px;background:linear-gradient(#000,#204,#00f,#0f0,#bf0,#bf0,#cf0,#cf0,#cf0,#df0,#df0,#cf0,#af0,#af0,#cf0,#ef0,#df0,#df0,#cf0,#cf0,#cf0,#cf0,#df0,#df0)"></i><i style="left:65px;width:1px;background:linear-gradient(#000,#50a,#00f,#0ef,#0f9,#0f9,#0f8,#0f8,#0f8,#0f7,#0f7,#0f3,#5f0,#af0,#cf0,#ff0,#fc0,#f90,#f70,#f70,#f70,#f70,#fe0,#df0)"></i><i style="left:66px;width:1px;background:linear-gradient(#000,#50a,#00f,#0ff,#0f7,#0f7,#0f6,#0f6,#0f6,#0f5,#0f5,#0f2,#6f0,#af0,#cf0,#ff0,#fc0,#f80,#f60,#f60,#f60,#f60,#fd0,#df0)"></i><i style="left:67px;width:1px;background:linear-gradient(#000,#10e,#00f,#0ef,#0f9,#0f8,#0f8,#0f8,#0f7,#0f7,#0f7,#0f3,#5f0,#af0,#cf0,#ff0,#fc0,#f90,#f70,#f70,#f70,#f70,#fe0,#df0)"></i><i style="left:68px;width:1px;background:linear-gradient(#000,#50a,#00f,#0f1,#af0,#af0,#af0,#af0,#bf0,#bf0,#bf0,#bf0,#af0,#af0,#cf0,#ef0,#ef0,#ef0,#ef0,#ef0,#ef0,#ef0,#df0,#df0)"></i><i style="left:69px;width:1px;background:linear-gradient(#000,#508,#00f,#0fe,#0f5,#0f5,#0f5,#0f4,#0f4,#0f4,#0f4,#0f0,#6f0,#af0,#cf0,#ff0,#fc0,#f90,#f70,#f70,#f70,#f70,#fe0,#df0)"></i><i style="left:70px;width:1px;background:linear-gradient(#000,#50a,#00f,#0ff,#0f7,#0f7,#0f7,#0f6,#0f6,#0f6,#0f5,#0f2,#6f0,#af0,#cf0,#ff0,#fd0,#f90,#f70,#f70,#f70,#f70,#fe0,#df0)"></i><i style="left:71px;width:1px;background:linear-gradient(#000,#508,#00f,#0fd,#0f5,#0f4,#0f4,#0f4,#0f3,#0f3,#0f3,#0f0,#6f0,#af0,#cf0,#ff0,#fd0,#fa0,#f80,#f80,#f80,#f80,#fe0,#df0)"></i><i style="left:72px;width:1px;background:linear-gradient(#000,#50a,#00f,#0ef,#0f8,#0f8,#0f8,#0f7,#0f7,#0f7,#0f6,#0f3,#5f0,#af0,#cf0,#ff0,#fc0,#f80,#f60,#f60,#f60,#f60,#fd0,#df0)"></i><i style="left:73px;width:1px;background:linear-gradient(#000,#10e,#00f,#0ef,#0f8,#0f8,#0f8,#0f8,#0f7,#0f7,#0f7,#0f3,#5f0,#af0,#cf0,#ff0,#fc0,#f80,#f60,#f60,#f60,#f60,#fe0,#df0)"></i><i style="left:74px;width:1px;background:linear-gradient(#000,#50a,#00f,#0f0,#bf0,#bf0,#bf0,#cf0,#cf0,#cf0,#df0,#cf0,#af0,#af0,#cf0,#ef0,#ef0,#df0,#df0,#df0,#df0,#df0,#df0,#df0)"></i><i style="left:75px;width:1px;background:linear-gradient(#000,#204,#00f,#0ff,#0f6,#0f6,#0f6,#0f6,#0f5,#0f5,#0f5,#0f1,#6f0,#af0,#cf0,#ff0,#fc0,#f90,#f70,#f70,#f70,#f70,#fe0,#df0)"></i><i style="left:76px;width:1px;background:linear-gradient(#000,#508,#00f,#0f0,#bf0,#bf0,#cf0,#cf0,#cf0,#cf0,#df0,#cf0,#af0,#af0,#cf0,#ef0,#ef0,#ef0,#ef0,#ef0,#ef0,#ef0,#df0,#df0)"></i><i style="left:77px;width:1px;background:linear-gradient(#000,#50a,#00f,#0fd,#0f5,#0f4,#0f4,#0f4,#0f3,#0f3,#0f3,#0f0,#6f0,#af0,#cf0,#ff0,#fc0,#f80,#f60,#f60,#f60,#f60,#fd0,#df0)"></i><i style="left:78px;width:1px;background:linear-gradient(#000,#10e,#00f,#0ff,#0f7,#0f6,#0f6,#0f6,#0f5,#0f5,#0f5,#0f1,#6f0,#af0,#cf0,#ff0,#fd0,#fb0,#f90,#f90,#f90,#f90,#fe0,#df0)"></i><i style="left:79px;width:1px;background:linear-gradient(#000,#10e,#00f,#0ef,#0f8,#0f8,#0f7,#0f7,#0f7,#0f7,#0f6,#0f2,#5f0,#af0,#cf0,#ff0,#fd0,#fb0,#f90,#f90,#f90,#f90,#fe0,#df0)"></i><i style="left:80px;width:1px;background:linear-gradient(#000,#50a,#00f,#0fe,#0f6,#0f6,#0f5,#0f5,#0f5,#0f4,#0f4,#0f1,#6f0,#af0,#cf0,#ff0,#fd0,#f90,#f70,#f70,#f70,#f70,#fe0,#df0)"></i><i style="left:81px;width:1px;background:linear-gradient(#000,#508,#00f,#0fe,#0f5,#0f5,#0f5,#0f4,#0f4,#0f4,#0f3,#0f0,#6f0,#af0,#cf0,#ff0,#fc0,#f80,#f60,#f60,#f60,#f60,#fd0,#df0)"></i><i style="left:82px;width:1px;background:linear-gradient(#000,#508,#00f,#0fd,#0f4,#0f4,#0f3,#0f3,#0f3,#0f2,#0f2,#1f0,#6f0,#af0,#cf0,#ff0,#fd0,#fb0,#f90,#f90,#f90,#f90,#fe0,#df0)"></i><i style="left:83px;width:1px;background:linear-gradient(#000,#508,#00f,#0ef,#0f8,#0f8,#0f8,#0f7,#0f7,#0f7,#0f6,#0f3,#5f0,#af0,#cf0,#ff0,#fc0,#f80,#f60,#f60,#f60,#f60,#fd0,#df0)"></i><i style="left:84px;width:1px;background:linear-gradient(#000,#508,#00f,#0fe,#0f6,#0f6,#0f5,#0f5,#0f5,#0f4,#0f4,#0f1,#6f0,#af0,#cf0,#ff0,#fc0,#f90,#f70,#f70,#f70,#f70,#fe0,#df0)"></i><i style="left:85px;width:1px;background:linear-gradient(#000,#508,#00f,#0ff,#0f7,#0f7,#0f7,#0f6,#0f6,#0f6,#0f6,#0f2,#5f0,#af0,#cf0,#ff0,#fc0,#f90,#f70,#f70,#f70,#f70,#fe0,#df0)"></i><i style="left:86px;width:1px;background:linear-gradient(#000,#50a,#00f,#0ef,#0f8,#0f7,#0f7,#0f7,#0f7,#0f6,#0f6,#0f2,#5f0,#af0,#cf0,#ff0,#fd0,#f90,#f70,#f70,#f70,#f70,#fe0,#df0)"></i><i style="left:87px;width:1px;background:linear-gradient(#000,#50a,#00f,#0ef,#0f8,#0f8,#0f8,#0f7,#0f7,#0f7,#0f7,#0f3,#5f0,#af0,#cf0,#ff0,#fd0,#fa0,#f80,#f80,#f80,#f80,#fe0,#df0)"></i><i style="left:88px;width:1px;background:linear-gradient(#000,#508,#00f,#0ef,#0f8,#0f8,#0f7,#0f7,#0f7,#0f7,#0f6,#0f2,#5f0,#af0,#cf0,#ff0,#fc0,#f90,#f70,#f70,#f70,#f70,#fe0,#df0)"></i><i style="left:89px;width:1px;background:linear-gradient(#000,#204,#00f,#0fe,#0f6,#0f5,#0f5,#0f5,#0f4,#0f4,#0f4,#0f1,#6f0,#af0,#cf0,#ff0,#fc0,#f80,#f50,#f50,#f50,#f50,#fd0,#df0)"></i><i style="left:90px;width:1px;background:linear-gradient(#000,#204,#00f,#0f3,#7f0,#8f0,#8f0,#8f0,#9f0,#9f0,#9f0,#9f0,#9f0,#af0,#cf0,#ef0,#df0,#cf0,#cf0,#cf0,#cf0,#cf0,#df0,#df0)"></i><i style="left:91px;width:1px;background:linear-gradient(#000,#50a,#00f,#0ff,#0f6,#0f6,#0f6,#0f5,#0f5,#0f5,#0f4,#0f1,#6f0,#af0,#cf0,#ef0,#fe0,#fb0,#fa0,#fa0,#fa0,#fa0,#ff0,#df0)"></i><i style="left:92px;width:1px;background:linear-gradient(#000,#50a,#00f,#0f1,#9f0,#9f0,#af0,#af0,#af0,#bf0,#bf0,#bf0,#af0,#af0,#cf0,#ef0,#df0,#bf0,#bf0,#bf0,#bf0,#bf0,#cf0,#df0)"></i><i style="left:93px;width:1px;background:linear-gradient(#000,#10e,#00f,#0f2,#9f0,#9f0,#9f0,#af0,#af0,#af0,#bf0,#af0,#9f0,#af0,#cf0,#ef0,#ff0,#ff0,#ff0,#ff0,#ff0,#ff0,#ef0,#df0)"></i><i style="left:94px;width:1px;background:linear-gradient(#000,#10e,#00f,#0f1,#9f0,#af0,#af0,#af0,#bf0,#bf0,#bf0,#bf0,#af0,#af0,#cf0,#ef0,#ef0,#ef0,#ef0,#ef0,#ef0,#ef0,#df0,#df0)"></i><i style="left:95px;width:1px;background:linear-gradient(#000,#204,#00f,#0f2,#8f0,#8f0,#9f0,#9f0,#9f0,#af0,#af0,#af0,#9f0,#af0,#cf0,#ef0,#ff0,#ff0,#fe0,#fe0,#fe0,#fe0,#ef0,#df0)"></i><i style="left:96px;width:1px;background:linear-gradient(#000,#50a,#00f,#0f5,#5f0,#5f0,#6f0,#6f0,#6f0,#7f0,#7f0,#8f0,#9f0,#af0,#cf0,#df0,#af0,#6f0,#4f0,#4f0,#4f0,#4f0,#af0,#df0)"></i><i style="left:97px;width:1px;background:linear-gradient(#000,#508,#00f,#0f4,#7f0,#7f0,#7f0,#8f0,#8f0,#8f0,#9f0,#9f0,#9f0,#af0,#cf0,#ef0,#cf0,#9f0,#8f0,#8f0,#8f0,#8f0,#cf0,#df0)"></i><i style="left:98px;width:1px;background:linear-gradient(#000,#10e,#00f,#0fc,#0f4,#0f3,#0f3,#0f3,#0f3,#0f2,#0f2,#1f0,#6f0,#af0,#cf0,#df0,#7f0,#0f0,#0f4,#0f4,#0f4,#0f4,#8f0,#df0)"></i><i style="left:99px;width:1px;background:linear-gradient(#000,#508,#00f,#0ff,#0f7,#0f6,#0f6,#0f6,#0f5,#0f5,#0f5,#0f1,#6f0,#af0,#cf0,#ff0,#fd0,#fa0,#f80,#f80,#f80,#f80,#fe0,#df0)"></i><i style="left:100px;width:1px;background:linear-gradient(#000,#10e,#00f,#0fe,#0f6,#0f5,#0f5,#0f5,#0f4,#0f4,#0f4,#0f1,#6f0,#af0,#cf0,#ff0,#fc0,#f80,#f60,#f60,#f60,#f60,#fd0,#df0)"></i><i style="left:101px;width:1px;background:linear-gradient(#000,#204,#00f,#0fc,#0f3,#0f3,#0f3,#0f3,#0f2,#0f2,#0f2,#1f0,#6f0,#af0,#cf0,#ff0,#fc0,#f80,#f60,#f60,#f60,#f60,#fe0,#df0)"></i><i style="left:102px;width:1px;background:linear-gradient(#000,#50a,#00f,#0fe,#0f5,#0f5,#0f5,#0f4,#0f4,#0f4,#0f3,#0f0,#6f0,#af0,#cf0,#ff0,#fc0,#f80,#f60,#f60,#f60,#f60,#fd0,#df0)"></i><i style="left:103px;width:1px;background:linear-gradient(#000,#50a,#00f,#0fd,#0f4,#0f4,#0f3,#0f3,#0f3,#0f3,#0f2,#1f0,#6f0,#af0,#cf0,#ff0,#fd0,#fa0,#f80,#f80,#f80,#f80,#fe0,#df0)"></i><i style="left:104px;width:1px;background:linear-gradient(#000,#508,#00f,#0f3,#7f0,#7f0,#7f0,#8f0,#8f0,#8f0,#9f0,#9f0,#9f0,#af0,#cf0,#ef0,#cf0,#af0,#8f0,#8f0,#8f0,#8f0,#cf0,#df0)"></i><i style="left:105px;width:1px;background:linear-gradient(#000,#50a,#00f,#0fb,#0f2,#0f2,#0f2,#0f2,#0f1,#0f1,#0f1,#2f0,#7f0,#af0,#cf0,#df0,#8f0,#2f0,#0f2,#0f2,#0f2,#0f2,#9f0,#df0)"></i><i style="left:106px;width:1px;background:linear-gradient(#000,#10e,#00f,#0fd,#0f5,#0f4,#0f4,#0f4,#0f4,#0f3,#0f3,#0f0,#6f0,#af0,#cf0,#df0,#6f0,#0f2,#0f7,#0f7,#0f7,#0f7,#7f0,#df0)"></i><i style="left:107px;width:1px;background:linear-gradient(#000,#204,#00f,#1f0,#cf0,#cf0,#cf0,#cf0,#df0,#df0,#df0,#cf0,#af0,#af0,#cf0,#ef0,#ff0,#fe0,#fe0,#fe0,#fe0,#fe0,#ef0,#df0)"></i><i style="left:108px;width:1px;background:linear-gradient(#000,#10e,#00f,#0f8,#2f0,#2f0,#2f0,#3f0,#3f0,#3f0,#4f0,#5f0,#8f0,#af0,#cf0,#df0,#af0,#6f0,#4f0,#4f0,#4f0,#4f0,#af0,#df0)"></i><i style="left:109px;width:1px;background:linear-gradient(#000,#50a,#00f,#0f7,#3f0,#3f0,#4f0,#4f0,#4f0,#5f0,#5f0,#6f0,#8f0,#af0,#cf0,#df0,#af0,#6f0,#4f0,#4f0,#4f0,#4f0,#af0,#df0)"></i><i style="left:110px;width:1px;background:linear-gradient(#000,#508,#00f,#0f4,#6f0,#7f0,#7f0,#7f0,#7f0,#8f0,#8f0,#8f0,#9f0,#af0,#cf0,#ef0,#cf0,#bf0,#9f0,#9f0,#9f0,#9f0,#cf0,#df0)"></i><i style="left:111px;width:1px;background:linear-gradient(#000,#50a,#00f,#0f4,#6f0,#6f0,#7f0,#7f0,#7f0,#8f0,#8f0,#8f0,#9f0,#af0,#cf0,#ef0,#cf0,#af0,#9f0,#9f0,#9f0,#9f0,#cf0,#df0)"></i><i style="left:112px;width:1px;background:linear-gradient(#000,#508,#00f,#0f3,#7f0,#7f0,#8f0,#8f0,#8f0,#8f0,#9f0,#9f0,#9f0,#af0,#cf0,#df0,#af0,#6f0,#3f0,#3f0,#3f0,#3f0,#af0,#df0)"></i><i style="left:113px;width:1px;background:linear-gradient(#000,#204,#00f,#1f0,#cf0,#cf0,#df0,#df0,#df0,#df0,#ef0,#df0,#af0,#af0,#cf0,#ef0,#ef0,#df0,#df0,#df0,#df0,#df0,#df0,#df0)"></i><i style="left:114px;width:1px;background:linear-gradient(#000,#10e,#00f,#0f5,#5f0,#6f0,#6f0,#6f0,#7f0,#7f0,#7f0,#8f0,#9f0,#af0,#cf0,#ef0,#df0,#bf0,#af0,#af0,#af0,#af0,#cf0,#df0)"></i><i style="left:115px;width:1px;background:linear-gradient(#000,#508,#00f,#1f0,#cf0,#df0,#df0,#df0,#ef0,#ef0,#ef0,#df0,#af0,#af0,#cf0,#ef0,#ef0,#ef0,#ef0,#ef0,#ef0,#ef0,#df0,#df0)"></i><i style="left:116px;width:1px;background:linear-gradient(#000,#508,#00f,#0f0,#bf0,#cf0,#cf0,#cf0,#cf0,#df0,#df0,#cf0,#af0,#af0,#cf0,#ef0,#df0,#cf0,#bf0,#bf0,#bf0,#bf0,#df0,#df0)"></i><i style="left:117px;width:1px;background:linear-gradient(#000,#204,#00f,#0f3,#8f0,#8f0,#8f0,#9f0,#9f0,#9f0,#9f0,#9f0,#9f0,#af0,#cf0,#ef0,#ff0,#fe0,#fe0,#fe0,#fe0,#fe0,#ef0,#df0)"></i><i style="left:118px;width:1px;background:linear-gradient(#000,#10e,#00f,#0f1,#af0,#af0,#bf0,#bf0,#bf0,#bf0,#cf0,#bf0,#af0,#af0,#cf0,#ef0,#ef0,#df0,#df0,#df0,#df0,#df0,#df0,#df0)"></i><i style="left:119px;width:1px;background:linear-gradient(#000,#508,#00f,#0f1,#af0,#af0,#af0,#af0,#bf0,#bf0,#bf0,#bf0,#af0,#af0,#cf0,#ef0,#df0,#bf0,#bf0,#bf0,#bf0,#bf0,#cf0,#df0)"></i><i style="left:120px;width:1px;background:linear-gradient(#000,#50a,#00f,#1f0,#cf0,#df0,#df0,#df0,#df0,#ef0,#ef0,#df0,#af0,#af0,#cf0,#ef0,#cf0,#bf0,#af0,#af0,#af0,#af0,#cf0,#df0)"></i><i style="left:121px;width:1px;background:linear-gradient(#000,#50a,#00f,#0f7,#2f0,#3f0,#3f0,#3f0,#4f0,#4f0,#4f0,#5f0,#8f0,#af0,#cf0,#df0,#af0,#6f0,#3f0,#3f0,#3f0,#3f0,#af0,#df0)"></i><i style="left:122px;width:1px;background:linear-gradient(#000,#508,#00f,#0ff,#0f6,#0f6,#0f6,#0f6,#0f5,#0f5,#0f5,#0f1,#6f0,#af0,#cf0,#df0,#6f0,#0f2,#0f7,#0f7,#0f7,#0f7,#7f0,#df0)"></i><i style="left:123px;width:1px;background:linear-gradient(#000,#508,#00f,#0fc,#0f3,#0f3,#0f3,#0f2,#0f2,#0f2,#0f1,#1f0,#7f0,#af0,#cf0,#ff0,#fc0,#f80,#f60,#f60,#f60,#f60,#fd0,#df0)"></i><i style="left:124px;width:1px;background:linear-gradient(#000,#204,#00f,#0ff,#0f7,#0f6,#0f6,#0f6,#0f6,#0f5,#0f5,#0f1,#6f0,#af0,#cf0,#ff0,#fc0,#f80,#f60,#f60,#f60,#f60,#fe0,#df0)"></i><i style="left:125px;width:1px;background:linear-gradient(#000,#204,#00f,#0fd,#0f5,#0f5,#0f4,#0f4,#0f4,#0f4,#0f3,#0f0,#6f0,#af0,#cf0,#df0,#7f0,#0f0,#0f4,#0f4,#0f4,#0f4,#8f0,#df0)"></i><i style="left:126px;width:1px;background:linear-gradient(#000,#204,#00f,#0fb,#0f2,#0f1,#0f1,#0f1,#0f0,#0f0,#0f0,#2f0,#7f0,#af0,#cf0,#df0,#6f0,#0f2,#0f7,#0f7,#0f7,#0f7,#7f0,#df0)"></i><i style="left:127px;width:1px;background:linear-gradient(#000,#204,#00f,#0fb,#0f2,#0f2,#0f2,#0f1,#0f1,#0f1,#0f1,#2f0,#7f0,#af0,#cf0,#df0,#6f0,#0f3,#0f8,#0f8,#0f8,#0f8,#7f0,#df0)"></i><i style="left:128px;width:1px;background:linear-gradient(#000,#508,#00f,#0ff,#0f7,#0f6,#0f6,#0f6,#0f5,#0f5,#0f5,#0f1,#6f0,#af0,#cf0,#df0,#6f0,#0f3,#0f8,#0f8,#0f8,#0f8,#7f0,#df0)"></i><i style="left:129px;width:1px;background:linear-gradient(#000,#50a,#00f,#0f0,#bf0,#cf0,#cf0,#cf0,#cf0,#df0,#df0,#cf0,#af0,#af0,#cf0,#ef0,#df0,#df0,#df0,#df0,#df0,#df0,#df0,#df0)"></i><i style="left:130px;width:1px;background:linear-gradient(#000,#204,#00f,#0fb,#0f3,#0f2,#0f2,#0f2,#0f1,#0f1,#0f1,#2f0,#7f0,#af0,#cf0,#df0,#8f0,#2f0,#0f1,#0f1,#0f1,#0f1,#9f0,#df0)"></i><i style="left:131px;width:1px;background:linear-gradient(#000,#50a,#00f,#0fc,#0f4,#0f3,#0f3,#0f3,#0f2,#0f2,#0f2,#1f0,#6f0,#af0,#cf0,#df0,#6f0,#0f2,#0f7,#0f7,#0f7,#0f7,#7f0,#df0)"></i><i style="left:132px;width:1px;background:linear-gradient(#000,#204,#00f,#0fd,#0f4,#0f4,#0f3,#0f3,#0f3,#0f2,#0f2,#1f0,#6f0,#af0,#cf0,#df0,#8f0,#1f0,#0f3,#0f3,#0f3,#0f3,#9f0,#df0)"></i><i style="left:133px;width:1px;background:linear-gradient(#000,#204,#00f,#0fe,#0f5,#0f5,#0f4,#0f4,#0f4,#0f4,#0f3,#0f0,#6f0,#af0,#cf0,#df0,#7f0,#1f0,#0f3,#0f3,#0f3,#0f3,#8f0,#df0)"></i><i style="left:134px;width:1px;background:linear-gradient(#000,#508,#00f,#0f6,#4f0,#5f0,#5f0,#5f0,#6f0,#6f0,#6f0,#7f0,#8f0,#af0,#cf0,#ef0,#cf0,#af0,#8f0,#8f0,#8f0,#8f0,#cf0,#df0)"></i><i style="left:135px;width:1px;background:linear-gradient(#000,#50a,#00f,#0f6,#4f0,#4f0,#5f0,#5f0,#5f0,#5f0,#6f0,#7f0,#8f0,#af0,#cf0,#df0,#af0,#6f0,#4f0,#4f0,#4f0,#4f0,#af0,#df0)"></i><i style="left:136px;width:1px;background:linear-gradient(#000,#50a,#00f,#0f4,#6f0,#6f0,#7f0,#7f0,#7f0,#8f0,#8f0,#8f0,#9f0,#af0,#cf0,#ef0,#cf0,#af0,#9f0,#9f0,#9f0,#9f0,#cf0,#df0)"></i><i style="left:137px;width:1px;background:linear-gradient(#000,#508,#00f,#0f0,#bf0,#bf0,#bf0,#cf0,#cf0,#cf0,#df0,#cf0,#af0,#af0,#cf0,#ef0,#df0,#cf0,#bf0,#bf0,#bf0,#bf0,#df0,#df0)"></i><i style="left:138px;width:1px;background:linear-gradient(#000,#204,#00f,#0f1,#af0,#af0,#af0,#af0,#bf0,#bf0,#bf0,#bf0,#af0,#af0,#cf0,#ef0,#ef0,#ef0,#ef0,#ef0,#ef0,#ef0,#df0,#df0)"></i><i style="left:139px;width:1px;background:linear-gradient(#000,#10e,#00f,#0fc,#0f4,#0f3,#0f3,#0f3,#0f3,#0f2,#0f2,#1f0,#6f0,#af0,#cf0,#ff0,#fd0,#fa0,#f80,#f80,#f80,#f80,#fe0,#df0)"></i><i style="left:140px;width:1px;background:linear-gradient(#000,#204,#00f,#0fc,#0f4,#0f3,#0f3,#0f3,#0f2,#0f2,#0f2,#1f0,#6f0,#af0,#cf0,#ff0,#fd0,#fa0,#f80,#f80,#f80,#f80,#fe0,#df0)"></i><i style="left:141px;width:1px;background:linear-gradient(#000,#204,#00f,#0f2,#8f0,#9f0,#9f0,#9f0,#af0,#af0,#af0,#af0,#9f0,#af0,#cf0,#ef0,#df0,#df0,#cf0,#cf0,#cf0,#cf0,#df0,#df0)"></i><i style="left:142px;width:1px;background:linear-gradient(#000,#50a,#00f,#0fc,#0f4,#0f3,#0f3,#0f3,#0f2,#0f2,#0f2,#1f0,#6f0,#af0,#cf0,#df0,#5f0,#0f3,#0f8,#0f8,#0f8,#0f8,#7f0,#df0)"></i><i style="left:143px;width:1px;background:linear-gradient(#000,#508,#00f,#0ff,#0f7,#0f6,#0f6,#0f6,#0f5,#0f5,#0f5,#0f1,#6f0,#af0,#cf0,#df0,#8f0,#3f0,#0f1,#0f1,#0f1,#0f1,#9f0,#df0)"></i><i style="left:144px;width:1px;background:linear-gradient(#000,#50a,#00f,#0f6,#4f0,#5f0,#5f0,#5f0,#5f0,#6f0,#6f0,#7f0,#8f0,#af0,#cf0,#ef0,#bf0,#8f0,#6f0,#6f0,#6f0,#6f0,#bf0,#df0)"></i><i style="left:145px;width:1px;background:linear-gradient(#000,#508,#00f,#0f2,#9f0,#9f0,#af0,#af0,#af0,#bf0,#bf0,#bf0,#9f0,#af0,#cf0,#ef0,#ff0,#ff0,#fe0,#fe0,#fe0,#fe0,#ef0,#df0)"></i><i style="left:146px;width:1px;background:linear-gradient(#000,#10e,#00f,#0f0,#bf0,#cf0,#cf0,#cf0,#df0,#df0,#df0,#cf0,#af0,#af0,#cf0,#ef0,#ff0,#fe0,#fe0,#fe0,#fe0,#fe0,#ef0,#df0)"></i><i style="left:147px;width:1px;background:linear-gradient(#000,#204,#00f,#0f2,#8f0,#8f0,#9f0,#9f0,#9f0,#9f0,#af0,#af0,#9f0,#af0,#cf0,#ef0,#ef0,#ff0,#ff0,#ff0,#ff0,#ff0,#ef0,#df0)"></i><i style="left:148px;width:1px;background:linear-gradient(#000,#50a,#00f,#0f6,#4f0,#4f0,#4f0,#5f0,#5f0,#5f0,#5f0,#6f0,#8f0,#af0,#cf0,#ef0,#cf0,#9f0,#8f0,#8f0,#8f0,#8f0,#bf0,#df0)"></i><i style="left:149px;width:1px;background:linear-gradient(#000,#204,#00f,#0f8,#2f0,#2f0,#3f0,#3f0,#3f0,#3f0,#4f0,#5f0,#8f0,#af0,#cf0,#ef0,#df0,#bf0,#af0,#af0,#af0,#af0,#cf0,#df0)"></i><i style="left:150px;width:1px;background:linear-gradient(#000,#10e,#00f,#0f5,#5f0,#5f0,#5f0,#5f0,#6f0,#6f0,#6f0,#7f0,#8f0,#af0,#cf0,#ef0,#cf0,#9f0,#7f0,#7f0,#7f0,#7f0,#bf0,#df0)"></i><i style="left:151px;width:1px;background:linear-gradient(#000,#10e,#00f,#0f4,#6f0,#6f0,#7f0,#7f0,#7f0,#7f0,#8f0,#8f0,#9f0,#af0,#cf0,#ef0,#bf0,#8f0,#7f0,#7f0,#7f0,#7f0,#bf0,#df0)"></i><i style="left:152px;width:1px;background:linear-gradient(#000,#10e,#00f,#0f8,#1f0,#2f0,#2f0,#2f0,#3f0,#3f0,#3f0,#5f0,#8f0,#af0,#cf0,#ef0,#bf0,#8f0,#7f0,#7f0,#7f0,#7f0,#bf0,#df0)"></i><i style="left:153px;width:1px;background:linear-gradient(#000,#50a,#00f,#0f7,#3f0,#3f0,#4f0,#4f0,#4f0,#5f0,#5f0,#6f0,#8f0,#af0,#cf0,#ef0,#cf0,#af0,#9f0,#9f0,#9f0,#9f0,#cf0,#df0)"></i><i style="left:154px;width:1px;background:linear-gradient(#000,#508,#00f,#0f2,#9f0,#9f0,#9f0,#af0,#af0,#af0,#bf0,#af0,#9f0,#af0,#cf0,#ef0,#ff0,#ff0,#fe0,#fe0,#fe0,#fe0,#ef0,#df0)"></i><i style="left:155px;width:1px;background:linear-gradient(#000,#10e,#00f,#0f3,#7f0,#7f0,#8f0,#8f0,#8f0,#9f0,#9f0,#9f0,#9f0,#af0,#cf0,#ef0,#ef0,#ef0,#ef0,#ef0,#ef0,#ef0,#df0,#df0)"></i><i style="left:156px;width:1px;background:linear-gradient(#000,#204,#00f,#0fc,#0f4,#0f3,#0f3,#0f3,#0f3,#0f2,#0f2,#1f0,#6f0,#af0,#cf0,#ff0,#fd0,#fa0,#f90,#f90,#f90,#f90,#fe0,#df0)"></i><i style="left:157px;width:1px;background:linear-gradient(#000,#50a,#00f,#0ef,#0f9,#0f8,#0f8,#0f8,#0f8,#0f7,#0f7,#0f3,#5f0,#af0,#cf0,#ff0,#fc0,#f90,#f70,#f70,#f70,#f70,#fe0,#df0)"></i><i style="left:158px;width:1px;background:linear-gradient(#000,#50a,#00f,#0ef,#0f8,#0f7,#0f7,#0f7,#0f7,#0f6,#0f6,#0f2,#5f0,#af0,#cf0,#ff0,#fd0,#f90,#f80,#f80,#f80,#f80,#fe0,#df0)"></i><i style="left:159px;width:1px;background:linear-gradient(#000,#508,#00f,#0ff,#0f7,#0f7,#0f7,#0f7,#0f6,#0f6,#0f6,#0f2,#5f0,#af0,#cf0,#ff0,#fd0,#fa0,#f80,#f80,#f80,#f80,#fe0,#df0)"></i><i style="left:160px;width:1px;background:linear-gradient(#000,#50a,#00f,#0f2,#8f0,#8f0,#9f0,#9f0,#9f0,#9f0,#af0,#af0,#9f0,#af0,#cf0,#ef0,#df0,#cf0,#bf0,#bf0,#bf0,#bf0,#df0,#df0)"></i><i style="left:161px;width:1px;background:linear-gradient(#000,#508,#00f,#0fd,#0f5,#0f4,#0f4,#0f4,#0f4,#0f3,#0f3,#0f0,#6f0,#af0,#cf0,#ff0,#fc0,#f90,#f70,#f70,#f70,#f70,#fe0,#df0)"></i><i style="left:162px;width:1px;background:linear-gradient(#000,#50a,#00f,#0f5,#5f0,#6f0,#6f0,#6f0,#7f0,#7f0,#7f0,#8f0,#9f0,#af0,#cf0,#ef0,#bf0,#9f0,#7f0,#7f0,#7f0,#7f0,#bf0,#df0)"></i><i style="left:163px;width:1px;background:linear-gradient(#000,#508,#00f,#0f6,#4f0,#4f0,#5f0,#5f0,#5f0,#6f0,#6f0,#7f0,#8f0,#af0,#cf0,#ef0,#cf0,#9f0,#8f0,#8f0,#8f0,#8f0,#cf0,#df0)"></i><i style="left:164px;width:1px;background:linear-gradient(#000,#10e,#00f,#0f5,#5f0,#5f0,#6f0,#6f0,#6f0,#7f0,#7f0,#8f0,#9f0,#af0,#cf0,#ef0,#cf0,#af0,#9f0,#9f0,#9f0,#9f0,#cf0,#df0)"></i><i style="left:165px;width:1px;background:linear-gradient(#000,#508,#00f,#0f5,#5f0,#5f0,#5f0,#6f0,#6f0,#6f0,#6f0,#7f0,#8f0,#af0,#cf0,#ef0,#bf0,#8f0,#6f0,#6f0,#6f0,#6f0,#bf0,#df0)"></i><i style="left:166px;width:1px;background:linear-gradient(#000,#204,#00f,#0ff,#0f6,#0f6,#0f6,#0f5,#0f5,#0f5,#0f4,#0f1,#6f0,#af0,#cf0,#df0,#8f0,#2f0,#0f2,#0f2,#0f2,#0f2,#9f0,#df0)"></i><i style="left:167px;width:1px;background:linear-gradient(#000,#204,#00f,#0fc,#0f3,#0f3,#0f3,#0f2,#0f2,#0f2,#0f2,#1f0,#6f0,#af0,#cf0,#df0,#8f0,#3f0,#0f1,#0f1,#0f1,#0f1,#9f0,#df0)"></i><i style="left:168px;width:1px;background:linear-gradient(#000,#508,#00f,#0f7,#2f0,#2f0,#3f0,#3f0,#3f0,#4f0,#4f0,#5f0,#8f0,#af0,#cf0,#ef0,#cf0,#bf0,#af0,#af0,#af0,#af0,#cf0,#df0)"></i><i style="left:169px;width:1px;background:linear-gradient(#000,#10e,#00f,#0f3,#7f0,#7f0,#8f0,#8f0,#8f0,#9f0,#9f0,#9f0,#9f0,#af0,#cf0,#ef0,#cf0,#af0,#9f0,#9f0,#9f0,#9f0,#cf0,#df0)"></i><i style="left:170px;width:1px;background:linear-gradient(#000,#50a,#00f,#0f7,#3f0,#3f0,#4f0,#4f0,#4f0,#4f0,#5f0,#6f0,#8f0,#af0,#cf0,#ef0,#cf0,#af0,#8f0,#8f0,#8f0,#8f0,#cf0,#df0)"></i><i style="left:171px;width:1px;background:linear-gradient(#000,#10e,#00f,#0f0,#bf0,#cf0,#cf0,#cf0,#cf0,#df0,#df0,#cf0,#af0,#af0,#cf0,#ef0,#ef0,#ff0,#ff0,#ff0,#ff0,#ff0,#ef0,#df0)"></i><i style="left:172px;width:1px;background:linear-gradient(#000,#50a,#00f,#0f2,#8f0,#8f0,#9f0,#9f0,#9f0,#9f0,#af0,#af0,#9f0,#af0,#cf0,#ef0,#df0,#df0,#cf0,#cf0,#cf0,#cf0,#df0,#df0)"></i><i style="left:173px;width:1px;background:linear-gradient(#000,#508,#00f,#0ff,#0f6,#0f6,#0f6,#0f5,#0f5,#0f5,#0f4,#0f1,#6f0,#af0,#cf0,#df0,#8f0,#2f0,#0f2,#0f2,#0f2,#0f2,#9f0,#df0)"></i><i style="left:174px;width:1px;background:linear-gradient(#000,#204,#00f,#0f1,#9f0,#af0,#af0,#af0,#bf0,#bf0,#bf0,#bf0,#af0,#af0,#cf0,#ef0,#df0,#df0,#cf0,#cf0,#cf0,#cf0,#df0,#df0)"></i><i style="left:175px;width:1px;background:linear-gradient(#000,#508,#00f,#0fc,#0f3,#0f3,#0f2,#0f2,#0f2,#0f1,#0f1,#1f0,#7f0,#af0,#cf0,#ff0,#fd0,#fa0,#f80,#f80,#f80,#f80,#fe0,#df0)"></i><i style="left:176px;width:1px;background:linear-gradient(#000,#508,#00f,#0ef,#0f9,#0f9,#0f8,#0f8,#0f8,#0f7,#0f7,#0f3,#5f0,#af0,#cf0,#ff0,#fd0,#fa0,#f90,#f90,#f90,#f90,#fe0,#df0)"></i><i style="left:177px;width:1px;background:linear-gradient(#000,#50a,#00f,#0ef,#0f8,#0f8,#0f7,#0f7,#0f7,#0f7,#0f6,#0f2,#5f0,#af0,#cf0,#ff0,#fc0,#f90,#f60,#f60,#f60,#f60,#fe0,#df0)"></i><i style="left:178px;width:1px;background:linear-gradient(#000,#50a,#00f,#0fd,#0f4,#0f4,#0f4,#0f4,#0f3,#0f3,#0f3,#0f0,#6f0,#af0,#cf0,#ff0,#fd0,#fa0,#f80,#f80,#f80,#f80,#fe0,#df0)"></i><i style="left:179px;width:1px;background:linear-gradient(#000,#204,#00f,#0fc,#0f4,#0f4,#0f3,#0f3,#0f3,#0f2,#0f2,#1f0,#6f0,#af0,#cf0,#ff0,#fc0,#f90,#f70,#f70,#f70,#f70,#fe0,#df0)"></i><i style="left:180px;width:1px;background:linear-gradient(#000,#204,#00f,#0f0,#bf0,#bf0,#cf0,#cf0,#cf0,#df0,#df0,#cf0,#af0,#af0,#cf0,#ef0,#df0,#cf0,#cf0,#cf0,#cf0,#cf0,#df0,#df0)"></i><i style="left:181px;width:1px;background:linear-gradient(#000,#204,#00f,#0ef,#0f8,#0f8,#0f8,#0f7,#0f7,#0f7,#0f6,#0f2,#5f0,#af0,#cf0,#ff0,#fd0,#fa0,#f90,#f90,#f90,#f90,#fe0,#df0)"></i><i style="left:182px;width:1px;background:linear-gradient(#000,#204,#00f,#0fd,#0f5,#0f4,#0f4,#0f4,#0f3,#0f3,#0f3,#0f0,#6f0,#af0,#cf0,#ff0,#fd0,#fa0,#f80,#f80,#f80,#f80,#fe0,#df0)"></i><i style="left:183px;width:1px;background:linear-gradient(#000,#50a,#00f,#0fe,#0f5,#0f5,#0f5,#0f4,#0f4,#0f4,#0f3,#0f0,#6f0,#af0,#cf0,#ff0,#fc0,#f70,#f50,#f50,#f50,#f50,#fd0,#df0)"></i><i style="left:184px;width:1px;background:linear-gradient(#000,#50a,#00f,#0fe,#0f5,#0f5,#0f5,#0f4,#0f4,#0f4,#0f3,#0f0,#6f0,#af0,#cf0,#ff0,#fd0,#fa0,#f80,#f80,#f80,#f80,#fe0,#df0)"></i><i style="left:185px;width:1px;background:linear-gradient(#000,#50a,#00f,#0f3,#8f0,#8f0,#8f0,#9f0,#9f0,#9f0,#af0,#af0,#9f0,#af0,#cf0,#ef0,#df0,#cf0,#bf0,#bf0,#bf0,#bf0,#cf0,#df0)"></i><i style="left:186px;width:1px;background:linear-gradient(#000,#10e,#00f,#0f2,#8f0,#9f0,#9f0,#9f0,#af0,#af0,#af0,#af0,#9f0,#af0,#cf0,#ef0,#df0,#cf0,#cf0,#cf0,#cf0,#cf0,#df0,#df0)"></i><i style="left:187px;width:1px;background:linear-gradient(#000,#204,#00f,#0f2,#8f0,#9f0,#9f0,#9f0,#af0,#af0,#af0,#af0,#9f0,#af0,#cf0,#ef0,#cf0,#af0,#9f0,#9f0,#9f0,#9f0,#cf0,#df0)"></i><i style="left:188px;width:1px;background:linear-gradient(#000,#10e,#00f,#0f1,#af0,#af0,#bf0,#bf0,#bf0,#cf0,#cf0,#bf0,#af0,#af0,#cf0,#ef0,#ef0,#df0,#df0,#df0,#df0,#df0,#df0,#df0)"></i><i style="left:189px;width:1px;background:linear-gradient(#000,#508,#00f,#0f0,#bf0,#bf0,#cf0,#cf0,#cf0,#df0,#df0,#cf0,#af0,#af0,#cf0,#ef0,#ef0,#df0,#df0,#df0,#df0,#df0,#df0,#df0)"></i><i style="left:190px;width:1px;background:linear-gradient(#000,#10e,#00f,#0fb,#0f2,#0f2,#0f1,#0f1,#0f1,#0f0,#0f0,#2f0,#7f0,#af0,#cf0,#df0,#6f0,#0f1,#0f6,#0f6,#0f6,#0f6,#8f0,#df0)"></i><i style="left:191px;width:1px;background:linear-gradient(#000,#204,#00f,#0fb,#0f2,#0f2,#0f1,#0f1,#0f1,#0f0,#0f0,#2f0,#7f0,#af0,#cf0,#df0,#7f0,#0f1,#0f6,#0f6,#0f6,#0f6,#8f0,#df0)"></i><i style="left:192px;width:1px;background:linear-gradient(#000,#10e,#00f,#0f1,#9f0,#9f0,#af0,#af0,#af0,#bf0,#bf0,#bf0,#af0,#af0,#cf0,#ef0,#df0,#cf0,#cf0,#cf0,#cf0,#cf0,#df0,#df0)"></i><i style="left:193px;width:1px;background:linear-gradient(#000,#508,#00f,#0f2,#8f0,#9f0,#9f0,#9f0,#9f0,#af0,#af0,#af0,#9f0,#af0,#cf0,#ef0,#df0,#bf0,#af0,#af0,#af0,#af0,#cf0,#df0)"></i><i style="left:194px;width:1px;background:linear-gradient(#000,#50a,#00f,#0f1,#af0,#af0,#af0,#bf0,#bf0,#bf0,#cf0,#bf0,#af0,#af0,#cf0,#ef0,#df0,#cf0,#bf0,#bf0,#bf0,#bf0,#df0,#df0)"></i><i style="left:195px;width:1px;background:linear-gradient(#000,#50a,#00f,#0f8,#2f0,#2f0,#2f0,#3f0,#3f0,#3f0,#3f0,#5f0,#8f0,#af0,#cf0,#ef0,#cf0,#bf0,#af0,#af0,#af0,#af0,#cf0,#df0)"></i><i style="left:196px;width:1px;background:linear-gradient(#000,#508,#00f,#0f0,#bf0,#bf0,#bf0,#bf0,#cf0,#cf0,#cf0,#cf0,#af0,#af0,#cf0,#ef0,#df0,#cf0,#cf0,#cf0,#cf0,#cf0,#df0,#df0)"></i><i style="left:197px;width:1px;background:linear-gradient(#000,#204,#00f,#1f0,#cf0,#cf0,#df0,#df0,#df0,#df0,#ef0,#df0,#af0,#af0,#cf0,#ef0,#ff0,#ff0,#fe0,#fe0,#fe0,#fe0,#ef0,#df0)"></i><i style="left:198px;width:1px;background:linear-gradient(#000,#10e,#00f,#0f0,#bf0,#bf0,#cf0,#cf0,#cf0,#df0,#df0,#cf0,#af0,#af0,#cf0,#ef0,#ef0,#ff0,#ff0,#ff0,#ff0,#ff0,#ef0,#df0)"></i><i style="left:199px;width:1px;background:linear-gradient(#000,#10e,#00f,#0fd,#0f5,#0f5,#0f4,#0f4,#0f4,#0f3,#0f3,#0f0,#6f0,#af0,#cf0,#ef0,#fd0,#fb0,#fa0,#fa0,#fa0,#fa0,#ff0,#df0)"></i><i style="left:200px;width:1px;background:linear-gradient(#000,#508,#00f,#0fe,#0f6,#0f6,#0f6,#0f5,#0f5,#0f5,#0f4,#0f1,#6f0,#af0,#cf0,#ff0,#fd0,#fa0,#f80,#f80,#f80,#f80,#fe0,#df0)"></i><i style="left:201px;width:1px;background:linear-gradient(#000,#204,#00f,#0ef,#0f9,#0f9,#0f8,#0f8,#0f8,#0f7,#0f7,#0f3,#5f0,#af0,#cf0,#ff0,#fd0,#fa0,#f80,#f80,#f80,#f80,#fe0,#df0)"></i><i style="left:202px;width:1px;background:linear-gradient(#000,#10e,#00f,#0ff,#0f7,#0f7,#0f6,#0f6,#0f6,#0f5,#0f5,#0f1,#6f0,#af0,#cf0,#ff0,#fb0,#f70,#f50,#f50,#f50,#f50,#fd0,#df0)"></i><i style="left:203px;width:1px;background:linear-gradient(#000,#204,#00f,#0fe,#0f6,#0f5,#0f5,#0f5,#0f5,#0f4,#0f4,#0f1,#6f0,#af0,#cf0,#ff0,#fd0,#f90,#f70,#f70,#f70,#f70,#fe0,#df0)"></i><i style="left:204px;width:1px;background:linear-gradient(#000,#508,#00f,#0ef,#0f9,#0f8,#0f8,#0f8,#0f7,#0f7,#0f7,#0f3,#5f0,#af0,#cf0,#ff0,#fd0,#fa0,#f80,#f80,#f80,#f80,#fe0,#df0)"></i><i style="left:205px;width:1px;background:linear-gradient(#000,#10e,#00f,#0fc,#0f4,#0f4,#0f3,#0f3,#0f3,#0f2,#0f2,#1f0,#6f0,#af0,#cf0,#ff0,#fc0,#f90,#f70,#f70,#f70,#f70,#fe0,#df0)"></i><i style="left:206px;width:1px;background:linear-gradient(#000,#50a,#00f,#0fc,#0f3,#0f3,#0f2,#0f2,#0f2,#0f2,#0f1,#1f0,#7f0,#af0,#cf0,#ff0,#fc0,#f90,#f60,#f60,#f60,#f60,#fe0,#df0)"></i><i style="left:207px;width:1px;background:linear-gradient(#000,#50a,#00f,#0fd,#0f5,#0f5,#0f4,#0f4,#0f4,#0f3,#0f3,#0f0,#6f0,#af0,#cf0,#df0,#8f0,#3f0,#0f0,#0f0,#0f0,#0f0,#9f0,#df0)"></i><i style="left:208px;width:1px;background:linear-gradient(#000,#204,#00f,#0fe,#0f5,#0f5,#0f4,#0f4,#0f4,#0f4,#0f3,#0f0,#6f0,#af0,#cf0,#df0,#9f0,#3f0,#0f0,#0f0,#0f0,#0f0,#9f0,#df0)"></i><i style="left:209px;width:1px;background:linear-gradient(#000,#508,#00f,#1f0,#cf0,#df0,#df0,#df0,#ef0,#ef0,#ef0,#df0,#af0,#af0,#cf0,#ef0,#ef0,#ef0,#ef0,#ef0,#ef0,#ef0,#df0,#df0)"></i><i style="left:210px;width:1px;background:linear-gradient(#000,#508,#00f,#0f7,#3f0,#3f0,#3f0,#3f0,#4f0,#4f0,#4f0,#6f0,#8f0,#af0,#cf0,#ef0,#cf0,#af0,#9f0,#9f0,#9f0,#9f0,#cf0,#df0)"></i><i style="left:211px;width:1px;background:linear-gradient(#000,#508,#00f,#0f6,#3f0,#4f0,#4f0,#4f0,#5f0,#5f0,#5f0,#6f0,#8f0,#af0,#cf0,#ef0,#cf0,#bf0,#af0,#af0,#af0,#af0,#cf0,#df0)"></i><i style="left:212px;width:1px;background:linear-gradient(#000,#50a,#00f,#0fc,#0f3,#0f3,#0f2,#0f2,#0f2,#0f2,#0f1,#1f0,#7f0,#af0,#cf0,#df0,#8f0,#2f0,#0f1,#0f1,#0f1,#0f1,#9f0,#df0)"></i><i style="left:213px;width:1px;background:linear-gradient(#000,#50a,#00f,#0fa,#0f1,#0f1,#0f1,#0f0,#0f0,#0f0,#1f0,#3f0,#7f0,#af0,#cf0,#df0,#7f0,#0f0,#0f4,#0f4,#0f4,#0f4,#8f0,#df0)"></i><i style="left:214px;width:1px;background:linear-gradient(#000,#204,#00f,#0f2,#8f0,#9f0,#9f0,#9f0,#af0,#af0,#af0,#af0,#9f0,#af0,#cf0,#ef0,#ff0,#ff0,#ff0,#ff0,#ff0,#ff0,#ef0,#df0)"></i><i style="left:215px;width:1px;background:linear-gradient(#000,#10e,#00f,#0f1,#af0,#af0,#bf0,#bf0,#bf0,#bf0,#cf0,#bf0,#af0,#af0,#cf0,#ef0,#df0,#bf0,#af0,#af0,#af0,#af0,#cf0,#df0)"></i><i style="left:216px;width:1px;background:linear-gradient(#000,#50a,#00f,#1f0,#cf0,#df0,#df0,#df0,#ef0,#ef0,#ef0,#df0,#af0,#af0,#cf0,#ef0,#cf0,#af0,#9f0,#9f0,#9f0,#9f0,#cf0,#df0)"></i><i style="left:217px;width:1px;background:linear-gradient(#000,#10e,#00f,#1f0,#cf0,#cf0,#df0,#df0,#df0,#df0,#ef0,#df0,#af0,#af0,#cf0,#ef0,#ff0,#ff0,#fe0,#fe0,#fe0,#fe0,#ef0,#df0)"></i><i style="left:218px;width:1px;background:linear-gradient(#000,#10e,#00f,#0f1,#9f0,#af0,#af0,#af0,#af0,#bf0,#bf0,#bf0,#af0,#af0,#cf0,#ef0,#ef0,#ef0,#ef0,#ef0,#ef0,#ef0,#df0,#df0)"></i><i style="left:219px;width:1px;background:linear-gradient(#000,#10e,#00f,#0f1,#af0,#af0,#af0,#af0,#bf0,#bf0,#bf0,#bf0,#af0,#af0,#cf0,#ef0,#ef0,#ff0,#ff0,#ff0,#ff0,#ff0,#ef0,#df0)"></i><i style="left:220px;width:1px;background:linear-gradient(#000,#204,#00f,#0f1,#9f0,#9f0,#af0,#af0,#af0,#bf0,#bf0,#bf0,#af0,#af0,#cf0,#ef0,#df0,#df0,#cf0,#cf0,#cf0,#cf0,#df0,#df0)"></i><i style="left:221px;width:1px;background:linear-gradient(#000,#50a,#00f,#0f2,#9f0,#9f0,#9f0,#9f0,#af0,#af0,#af0,#af0,#9f0,#af0,#cf0,#ef0,#cf0,#bf0,#af0,#af0,#af0,#af0,#cf0,#df0)"></i><i style="left:222px;width:1px;background:linear-gradient(#000,#10e,#00f,#0f0,#bf0,#cf0,#cf0,#cf0,#df0,#df0,#df0,#cf0,#af0,#af0,#cf0,#ef0,#df0,#bf0,#af0,#af0,#af0,#af0,#cf0,#df0)"></i><i style="left:223px;width:1px;background:linear-gradient(#000,#50a,#00f,#0f2,#9f0,#9f0,#9f0,#af0,#af0,#af0,#af0,#af0,#9f0,#af0,#cf0,#ef0,#df0,#cf0,#bf0,#bf0,#bf0,#bf0,#cf0,#df0)"></i><i style="left:224px;width:1px;background:linear-gradient(#000,#204,#00f,#0f0,#bf0,#bf0,#bf0,#cf0,#cf0,#cf0,#cf0,#cf0,#af0,#af0,#cf0,#ef0,#ef0,#ef0,#df0,#df0,#df0,#df0,#df0,#df0)"></i><i style="left:225px;width:1px;background:linear-gradient(#000,#50a,#00f,#1f0,#cf0,#cf0,#cf0,#cf0,#df0,#df0,#df0,#cf0,#af0,#af0,#cf0,#ef0,#df0,#bf0,#af0,#af0,#af0,#af0,#cf0,#df0)"></i><i style="left:226px;width:1px;background:linear-gradient(#000,#50a,#00f,#0f1,#af0,#af0,#bf0,#bf0,#bf0,#bf0,#cf0,#bf0,#af0,#af0,#cf0,#ef0,#df0,#bf0,#af0,#af0,#af0,#af0,#cf0,#df0)"></i><i style="left:227px;width:1px;background:linear-gradient(#000,#10e,#00f,#1f0,#cf0,#cf0,#df0,#df0,#df0,#ef0,#ef0,#df0,#af0,#af0,#cf0,#ef0,#ff0,#fe0,#fe0,#fe0,#fe0,#fe0,#ef0,#df0)"></i><i style="left:228px;width:1px;background:linear-gradient(#000,#50a,#00f,#0f1,#9f0,#af0,#af0,#af0,#bf0,#bf0,#bf0,#bf0,#af0,#af0,#cf0,#ef0,#ef0,#ff0,#ff0,#ff0,#ff0,#ff0,#ef0,#df0)"></i><i style="left:229px;width:1px;background:linear-gradient(#000,#204,#00f,#0f1,#af0,#af0,#bf0,#bf0,#bf0,#cf0,#cf0,#bf0,#af0,#af0,#cf0,#ef0,#cf0,#af0,#9f0,#9f0,#9f0,#9f0,#cf0,#df0)"></i><i style="left:230px;width:1px;background:linear-gradient(#000,#508,#00f,#0f3,#7f0,#8f0,#8f0,#8f0,#9f0,#9f0,#9f0,#9f0,#9f0,#af0,#cf0,#ef0,#ff0,#fe0,#fe0,#fe0,#fe0,#fe0,#ef0,#df0)"></i><i style="left:231px;width:1px;background:linear-gradient(#000,#204,#00f,#0f2,#8f0,#8f0,#9f0,#9f0,#9f0,#9f0,#af0,#af0,#9f0,#af0,#cf0,#ef0,#ef0,#df0,#df0,#df0,#df0,#df0,#df0,#df0)"></i><i style="left:232px;width:1px;background:linear-gradient(#000,#204,#00f,#0fe,#0f6,#0f5,#0f5,#0f5,#0f5,#0f4,#0f4,#0f1,#6f0,#af0,#cf0,#ef0,#fe0,#fb0,#fa0,#fa0,#fa0,#fa0,#ff0,#df0)"></i><i style="left:233px;width:1px;background:linear-gradient(#000,#204,#00f,#0f3,#8f0,#8f0,#8f0,#9f0,#9f0,#9f0,#9f0,#9f0,#9f0,#af0,#cf0,#ef0,#cf0,#af0,#9f0,#9f0,#9f0,#9f0,#cf0,#df0)"></i><i style="left:234px;width:1px;background:linear-gradient(#000,#50a,#00f,#0fe,#0f6,#0f6,#0f5,#0f5,#0f5,#0f4,#0f4,#0f1,#6f0,#af0,#cf0,#ff0,#fd0,#f90,#f70,#f70,#f70,#f70,#fe0,#df0)"></i><i style="left:235px;width:1px;background:linear-gradient(#000,#50a,#00f,#0f0,#af0,#bf0,#bf0,#bf0,#cf0,#cf0,#cf0,#cf0,#af0,#af0,#cf0,#ef0,#cf0,#af0,#9f0,#9f0,#9f0,#9f0,#cf0,#df0)"></i><i style="left:236px;width:1px;background:linear-gradient(#000,#204,#00f,#0fc,#0f3,#0f3,#0f3,#0f2,#0f2,#0f2,#0f1,#1f0,#7f0,#af0,#cf0,#ff0,#fc0,#f80,#f60,#f60,#f60,#f60,#fe0,#df0)"></i><i style="left:237px;width:1px;background:linear-gradient(#000,#508,#00f,#0f3,#8f0,#8f0,#8f0,#9f0,#9f0,#9f0,#af0,#af0,#9f0,#af0,#cf0,#ef0,#df0,#cf0,#bf0,#bf0,#bf0,#bf0,#df0,#df0)"></i><i style="left:238px;width:1px;background:linear-gradient(#000,#50a,#00f,#0fe,#0f6,#0f5,#0f5,#0f5,#0f4,#0f4,#0f4,#0f1,#6f0,#af0,#cf0,#ff0,#fd0,#fa0,#f80,#f80,#f80,#f80,#fe0,#df0)"></i><i style="left:239px;width:1px;background:linear-gradient(#000,#508,#00f,#0ef,#0f9,#0f9,#0f8,#0f8,#0f8,#0f7,#0f7,#0f3,#5f0,#af0,#cf0,#ff0,#fc0,#f90,#f70,#f70,#f70,#f70,#fe0,#df0)"></i><i style="left:240px;width:1px;background:linear-gradient(#000,#204,#00f,#0ff,#0f8,#0f7,#0f7,#0f7,#0f6,#0f6,#0f6,#0f2,#5f0,#af0,#cf0,#ff0,#fc0,#f90,#f60,#f60,#f60,#f60,#fe0,#df0)"></i><i style="left:241px;width:1px;background:linear-gradient(#000,#50a,#00f,#0fd,#0f5,#0f4,#0f4,#0f4,#0f3,#0f3,#0f3,#0f0,#6f0,#af0,#cf0,#ff0,#fc0,#f90,#f60,#f60,#f60,#f60,#fe0,#df0)"></i><i style="left:242px;width:1px;background:linear-gradient(#000,#508,#00f,#0ff,#0f7,#0f7,#0f6,#0f6,#0f6,#0f5,#0f5,#0f2,#6f0,#af0,#cf0,#ff0,#fd0,#fa0,#f90,#f90,#f90,#f90,#fe0,#df0)"></i><i style="left:243px;width:1px;background:linear-gradient(#000,#50a,#00f,#0ef,#0f8,#0f7,#0f7,#0f7,#0f6,#0f6,#0f6,#0f2,#5f0,#af0,#cf0,#ff0,#fc0,#f90,#f70,#f70,#f70,#f70,#fe0,#df0)"></i><i style="left:244px;width:1px;background:linear-gradient(#000,#508,#00f,#0ef,#0f8,#0f8,#0f8,#0f7,#0f7,#0f7,#0f7,#0f3,#5f0,#af0,#cf0,#ff0,#fd0,#fa0,#f80,#f80,#f80,#f80,#fe0,#df0)"></i><i style="left:245px;width:1px;background:linear-gradient(#000,#508,#00f,#0ff,#0f7,#0f7,#0f6,#0f6,#0f6,#0f5,#0f5,#0f1,#6f0,#af0,#cf0,#ff0,#fd0,#fb0,#f90,#f90,#f90,#f90,#ff0,#df0)"></i><i style="left:246px;width:1px;background:linear-gradient(#000,#50a,#00f,#0fc,#0f4,#0f4,#0f3,#0f3,#0f3,#0f2,#0f2,#1f0,#6f0,#af0,#cf0,#ef0,#fd0,#fb0,#fa0,#fa0,#fa0,#fa0,#ff0,#df0)"></i><i style="left:247px;width:1px;background:linear-gradient(#000,#204,#00f,#0ff,#0f7,#0f6,#0f6,#0f6,#0f5,#0f5,#0f5,#0f1,#6f0,#af0,#cf0,#ff0,#fd0,#fa0,#f80,#f80,#f80,#f80,#fe0,#df0)"></i><i style="left:248px;width:1px;background:linear-gradient(#000,#508,#00f,#0ef,#0f8,#0f8,#0f7,#0f7,#0f7,#0f7,#0f6,#0f2,#5f0,#af0,#cf0,#ff0,#fd0,#fa0,#f80,#f80,#f80,#f80,#fe0,#df0)"></i><i style="left:249px;width:1px;background:linear-gradient(#000,#10e,#00f,#0fe,#0f5,#0f5,#0f5,#0f4,#0f4,#0f4,#0f3,#0f0,#6f0,#af0,#cf0,#ff0,#fd0,#fa0,#f80,#f80,#f80,#f80,#fe0,#df0)"></i><i style="left:250px;width:1px;background:linear-gradient(#000,#508,#00f,#0ef,#0f9,#0f8,#0f8,#0f8,#0f7,#0f7,#0f7,#0f3,#5f0,#af0,#cf0,#ff0,#fd0,#fa0,#f80,#f80,#f80,#f80,#fe0,#df0)"></i><i style="left:251px;width:1px;background:linear-gradient(#000,#50a,#00f,#0ff,#0f7,#0f6,#0f6,#0f6,#0f5,#0f5,#0f5,#0f1,#6f0,#af0,#cf0,#ff0,#fd0,#fa0,#f80,#f80,#f80,#f80,#fe0,#df0)"></i><i style="left:252px;width:1px;background:linear-gradient(#000,#204,#00f,#0fd,#0f4,#0f4,#0f4,#0f3,#0f3,#0f3,#0f2,#0f0,#6f0,#af0,#cf0,#ff0,#fc0,#f90,#f60,#f60,#f60,#f60,#fe0,#df0)"></i><i style="left:253px;width:1px;background:linear-gradient(#000,#10e,#00f,#0fe,#0f5,#0f5,#0f5,#0f5,#0f4,#0f4,#0f4,#0f0,#6f0,#af0,#cf0,#ff0,#fc0,#f80,#f60,#f60,#f60,#f60,#fe0,#df0)"></i><i style="left:254px;width:1px;background:linear-gradient(#000,#50a,#00f,#0fc,#0f3,#0f3,#0f3,#0f2,#0f2,#0f2,#0f2,#1f0,#6f0,#af0,#cf0,#ff0,#fc0,#f90,#f70,#f70,#f70,#f70,#fe0,#df0)"></i><i style="left:255px;width:1px;background:linear-gradient(#000,#204,#00f,#0fe,#0f6,#0f5,#0f5,#0f5,#0f4,#0f4,#0f4,#0f1,#6f0,#af0,#cf0,#df0,#6f0,#0f2,#0f7,#0f7,#0f7,#0f7,#7f0,#df0)"></i><i style="left:256px;width:1px;background:linear-gradient(#000,#508,#00f,#0ff,#0f7,#0f6,#0f6,#0f6,#0f5,#0f5,#0f5,#0f1,#6f0,#af0,#cf0,#df0,#8f0,#3f0,#0f1,#0f1,#0f1,#0f1,#9f0,#df0)"></i><i style="left:257px;width:2px;background:linear-gradient(#508,#10e,#0ff,#0f0,#2f0,#2f0,#2f0,#3f0,#3f0,#5f0,#8f0,#af0,#bf0,#af0,#7f0,#4f0,#4f0,#3f0,#4f0,#7f0)"></i><i style="left:259px;width:2px;background:linear-gradient(#00f,#07f,#0f5,#5f0,#6f0,#7f0,#7f0,#7f0,#7f0,#8f0,#9f0,#9f0,#9f0,#8f0,#4f0,#2f0,#0f0,#0f1,#0f2,#1f0)"></i><i style="left:261px;width:2px;background:linear-gradient(#09f,#0ef,#5f0,#af0,#bf0,#bf0,#bf0,#bf0,#cf0,#cf0,#af0,#8f0,#7f0,#6f0,#2f0,#0f1,#0f3,#0f5,#0f7,#0f5)"></i><i style="left:263px;width:2px;background:linear-gradient(#0fd,#0f7,#ff0,#ff0,#ff0,#ff0,#ff0,#fe0,#fe0,#fe0,#bf0,#7f0,#5f0,#4f0,#0f0,#0f3,#0f6,#0f9,#0fd,#0fb)"></i><i style="left:265px;width:2px;background:linear-gradient(#0fd,#0f7,#ff0,#ff0,#ff0,#ff0,#ff0,#fe0,#fe0,#fe0,#bf0,#7f0,#5f0,#4f0,#0f0,#0f3,#0f6,#0f9,#0fd,#0fb)"></i><i style="left:267px;width:2px;background:linear-gradient(#0fd,#0f7,#ff0,#ff0,#ff0,#ff0,#ff0,#fe0,#fe0,#fe0,#bf0,#7f0,#5f0,#4f0,#0f0,#0f3,#0f6,#0f9,#0fd,#0fb)"></i><i style="left:269px;width:2px;background:linear-gradient(#0fd,#0f7,#ff0,#ff0,#ff0,#ff0,#ff0,#fe0,#fe0,#fe0,#bf0,#7f0,#5f0,#4f0,#0f0,#0f3,#0f6,#0f9,#0fd,#0fb)"></i><i style="left:271px;width:2px;background:linear-gradient(#0fd,#0f7,#ff0,#ff0,#ff0,#ff0,#ff0,#fe0,#fe0,#fe0,#bf0,#7f0,#5f0,#4f0,#0f0,#0f3,#0f6,#0f9,#0fd,#0fb)"></i><i style="left:273px;width:2px;background:linear-gradient(#0fd,#0f7,#ff0,#ff0,#ff0,#ff0,#ff0,#fe0,#fe0,#fe0,#bf0,#7f0,#5f0,#4f0,#0f0,#0f3,#0f6,#0f9,#0fd,#0fb)"></i><i style="left:275px;width:2px;background:linear-gradient(#0fd,#0f7,#ff0,#ff0,#ff0,#ff0,#ff0,#fe0,#fe0,#fe0,#bf0,#7f0,#5f0,#4f0,#0f0,#0f3,#0f6,#0f9,#0fd,#0fb)"></i><i style="left:277px;width:2px;background:linear-gradient(#0fd,#0f7,#ff0,#ff0,#ff0,#ff0,#ff0,#fe0,#fe0,#fe0,#bf0,#7f0,#5f0,#4f0,#0f0,#0f3,#0f6,#0f9,#0fd,#0fb)"></i><i style="left:279px;width:2px;background:linear-gradient(#0fd,#0f7,#ff0,#ff0,#ff0,#ff0,#ff0,#fe0,#fe0,#fe0,#bf0,#7f0,#5f0,#4f0,#0f0,#0f3,#0f6,#0f9,#0fd,#0fb)"></i><i style="left:281px;width:2px;background:linear-gradient(#0fd,#0f7,#ff0,#ff0,#ff0,#ff0,#ff0,#fe0,#fe0,#fe0,#bf0,#7f0,#5f0,#4f0,#0f0,#0f3,#0f6,#0f9,#0fd,#0fb)"></i><i style="left:283px;width:2px;background:linear-gradient(#0fd,#0f7,#ff0,#ff0,#ff0,#ff0,#ff0,#fe0,#fe0,#fe0,#bf0,#7f0,#5f0,#4f0,#0f0,#0f3,#0f6,#04f,#04f,#0fb)"></i><i style="left:285px;width:2px;background:linear-gradient(#0fd,#0f7,#ff0,#ff0,#ff0,#ff0,#ff0,#fe0,#fe0,#fe0,#bf0,#7f0,#5f0,#4f0,#0f0,#0f3,#0f6,#04f,#04f,#0fb)"></i><i style="left:287px;width:2px;background:linear-gradient(#0fd,#0f7,#ff0,#ff0,#ff0,#ff0,#ff0,#fe0,#fe0,#fe0,#bf0,#7f0,#5f0,#4f0,#0f0,#0f3,#0f6,#04f,#04f,#0fb)"></i><i style="left:289px;width:2px;background:linear-gradient(#0fd,#0f7,#ff0,#ff0,#ff0,#ff0,#ff0,#fe0,#fe0,#fe0,#bf0,#7f0,#5f0,#4f0,#0f0,#0f3,#0f6,#04f,#04f,#0fb)"></i><i style="left:291px;width:2px;background:linear-gradient(#0fd,#0f7,#ff0,#ff0,#ff0,#ff0,#ff0,#fe0,#fe0,#fe0,#bf0,#7f0,#5f0,#4f0,#0f0,#0f3,#0f6,#04f,#04f,#0fb)"></i><i style="left:293px;width:2px;background:linear-gradient(#0fd,#0f7,#ff0,#ff0,#ff0,#ff0,#ff0,#fe0,#fe0,#fe0,#bf0,#7f0,#5f0,#4f0,#0f0,#0f3,#0f6,#0f9,#0fd,#0fb)"></i><i style="left:295px;width:2px;background:linear-gradient(#0fd,#0f7,#ff0,#ff0,#ff0,#ff0,#ff0,#fe0,#fe0,#fe0,#bf0,#7f0,#5f0,#4f0,#0f0,#0f3,#0f6,#0f9,#0fd,#0fb)"></i><i style="left:297px;width:2px;background:linear-gradient(#0fd,#0f7,#ff0,#ff0,#ff0,#ff0,#ff0,#fe0,#fe0,#fe0,#bf0,#7f0,#5f0,#4f0,#0f0,#0f3,#0f6,#0f9,#0fd,#0fb)"></i><i style="left:299px;width:2px;background:linear-gradient(#0fd,#0f7,#ff0,#ff0,#ff0,#ff0,#ff0,#fe0,#fe0,#fe0,#bf0,#7f0,#5f0,#4f0,#0f0,#0f3,#0f6,#0f9,#0fd,#0fb)"></i><i style="left:301px;width:2px;background:linear-gradient(#0fd,#0f7,#ff0,#ff0,#ff0,#ff0,#ff0,#fe0,#fe0,#fe0,#bf0,#7f0,#5f0,#4f0,#0f0,#0f3,#0f6,#0f9,#0fd,#0fb)"></i><i style="left:303px;width:2px;background:linear-gradient(#0fd,#0f7,#ff0,#ff0,#ff0,#ff0,#ff0,#fe0,#fe0,#fe0,#bf0,#7f0,#5f0,#4f0,#0f0,#0f3,#0f6,#0f9,#0fd,#0fb)"></i><i style="left:305px;width:2px;background:linear-gradient(#0fd,#0f7,#ff0,#ff0,#ff0,#ff0,#ff0,#fe0,#fe0,#fe0,#bf0,#7f0,#5f0,#4f0,#0f0,#0f3,#0f6,#0f9,#0fd,#0fb)"></i><i style="left:307px;width:2px;background:linear-gradient(#0fd,#0f7,#ff0,#ff0,#ff0,#ff0,#ff0,#fe0,#fe0,#fe0,#bf0,#7f0,#5f0,#4f0,#0f0,#0f3,#0f6,#0f9,#0fd,#0fb)"></i><i style="left:309px;width:2px;background:linear-gradient(#0fd,#0f7,#ff0,#ff0,#ff0,#ff0,#ff0,#fe0,#fe0,#fe0,#bf0,#7f0,#5f0,#4f0,#0f0,#0f3,#0f6,#0f9,#0fd,#0fb)"></i><i style="left:311px;width:2px;background:linear-gradient(#0fd,#0f7,#ff0,#ff0,#ff0,#ff0,#ff0,#fe0,#fe0,#fe0,#bf0,#7f0,#5f0,#4f0,#0f0,#0f3,#0f6,#0f9,#0fd,#0fb)"></i><i style="left:313px;width:2px;background:linear-gradient(#0fd,#0f7,#ff0,#ff0,#ff0,#ff0,#ff0,#fe0,#fe0,#fe0,#bf0,#7f0,#5f0,#4f0,#0f0,#0f3,#0f6,#0f9,#0fd,#0fb)"></i><i style="left:315px;width:2px;background:linear-gradient(#0fd,#0f7,#ff0,#ff0,#ff0,#ff0,#ff0,#fe0,#fe0,#fe0,#bf0,#7f0,#5f0,#4f0,#0f0,#0f3,#0f6,#0f9,#0fd,#0fb)"></i><i style="left:317px;width:2px;background:linear-gradient(#0fd,#0f7,#ff0,#ff0,#ff0,#ff0,#ff0,#fe0,#fe0,#fe0,#bf0,#7f0,#5f0,#4f0,#0f0,#0f3,#0f6,#0f9,#0fd,#0fb)"></i><i style="left:319px;width:2px;background:linear-gradient(#0fd,#0f7,#ff0,#ff0,#ff0,#ff0,#ff0,#fe0,#fe0,#fe0,#bf0,#7f0,#5f0,#4f0,#0f0,#0f3,#0f6,#0f9,#0fd,#0fb)"></i><i style="left:321px;width:2px;background:linear-gradient(#0fd,#0f7,#ff0,#ff0,#ff0,#ff0,#ff0,#fe0,#fe0,#fe0,#bf0,#7f0,#5f0,#4f0,#0f0,#0f3,#0f6,#0f9,#0fd,#0fb)"></i><i style="left:323px;width:2px;background:linear-gradient(#0fd,#0f7,#ff0,#ff0,#ff0,#ff0,#ff0,#fe0,#fe0,#fe0,#bf0,#7f0,#5f0,#4f0,#0f0,#0f3,#0f6,#0f9,#0fd,#0fb)"></i><i style="left:325px;width:2px;background:linear-gradient(#0fd,#0f7,#ff0,#ff0,#ff0,#ff0,#ff0,#fe0,#fe0,#fe0,#bf0,#7f0,#5f0,#4f0,#0f0,#0f3,#0f6,#0f9,#0fd,#0fb)"></i><i style="left:327px;width:1px;background:linear-gradient(#05f,#05f,#05f,#05f,#0f1,#0f1,#0f1,#0f1,#0f1,#0f1,#0f1,#0f1,#0f1,#0f1,#0f1,#0f3,#0f6,#0f9,#0fd,#0fb)"></i><i style="left:328px;width:1px;background:linear-gradient(#0fd,#0f7,#ff0,#ff0,#ff0,#ff0,#ff0,#fe0,#fe0,#fe0,#bf0,#7f0,#5f0,#4f0,#0f0,#0f3,#0f6,#0f9,#0fd,#0fb)"></i><i style="left:329px;width:2px;background:linear-gradient(#0fd,#0f7,#ff0,#ff0,#ff0,#ff0,#ff0,#fe0,#fe0,#fe0,#bf0,#7f0,#5f0,#4f0,#0f0,#0f3,#0f6,#0f9,#0fd,#0fb)"></i><i style="left:331px;width:2px;background:linear-gradient(#0fd,#0f7,#ff0,#ff0,#ff0,#ff0,#ff0,#fe0,#fe0,#fe0,#bf0,#7f0,#5f0,#4f0,#0f0,#0f3,#0f6,#0f9,#0fd,#0fb)"></i><i style="left:333px;width:2px;background:linear-gradient(#0fd,#0f7,#ff0,#ff0,#ff0,#ff0,#ff0,#fe0,#fe0,#fe0,#bf0,#7f0,#5f0,#4f0,#0f0,#0f3,#0f6,#0f9,#0fd,#0fb)"></i><i style="left:335px;width:2px;background:linear-gradient(#0fd,#0f7,#ff0,#ff0,#ff0,#ff0,#ff0,#fe0,#fe0,#fe0,#bf0,#7f0,#5f0,#4f0,#0f0,#0f3,#0f6,#0f9,#0fd,#0fb)"></i><i style="left:337px;width:2px;background:linear-gradient(#0fd,#0f7,#ff0,#ff0,#ff0,#ff0,#ff0,#fe0,#fe0,#fe0,#bf0,#7f0,#5f0,#4f0,#0f0,#0f3,#0f6,#0f9,#0fd,#0fb)"></i><i style="left:339px;width:2px;background:linear-gradient(#0fd,#0f7,#ff0,#ff0,#ff0,#ff0,#ff0,#fe0,#fe0,#fe0,#bf0,#7f0,#5f0,#4f0,#0f0,#0f3,#0f6,#0f9,#0fd,#0fb)"></i><i style="left:341px;width:2px;background:linear-gradient(#0fd,#0f7,#ff0,#ff0,#ff0,#ff0,#ff0,#fe0,#fe0,#fe0,#bf0,#7f0,#5f0,#4f0,#0f0,#0f3,#0f6,#0f9,#0fd,#0fb)"></i><i style="left:343px;width:2px;background:linear-gradient(#0fd,#0f7,#ff0,#ff0,#ff0,#ff0,#ff0,#fe0,#fe0,#fe0,#bf0,#7f0,#5f0,#4f0,#0f0,#0f3,#0f6,#0f9,#0fd,#0fb)"></i><i style="left:345px;width:2px;background:linear-gradient(#0fd,#0f7,#ff0,#ff0,#ff0,#ff0,#ff0,#fe0,#fe0,#fe0,#bf0,#7f0,#5f0,#4f0,#0f0,#0f3,#0f6,#0f9,#0fd,#0fb)"></i><i style="left:347px;width:2px;background:linear-gradient(#0fd,#0f7,#ff0,#ff0,#ff0,#ff0,#ff0,#fe0,#fe0,#fe0,#bf0,#7f0,#5f0,#4f0,#0f0,#0f3,#0f6,#0f9,#0fd,#0fb)"></i><i style="left:349px;width:2px;background:linear-gradient(#0fd,#0f7,#ff0,#ff0,#ff0,#ff0,#ff0,#fe0,#fe0,#fe0,#bf0,#7f0,#5f0,#4f0,#0f0,#0f3,#0f6,#0f9,#0fd,#0fb)"></i><i style="left:351px;width:1px;background:linear-gradient(#05f,#05f,#05f,#05f,#0f1,#0f1,#0f1,#0f1,#0f1,#0f1,#0f1,#0f1,#0f1,#0f1,#0f1,#0f3,#0f6,#0f9,#0fd,#0fb)"></i><i style="left:352px;width:1px;background:linear-gradient(#0fd,#0f7,#ff0,#ff0,#ff0,#ff0,#ff0,#fe0,#fe0,#fe0,#bf0,#7f0,#5f0,#4f0,#0f0,#0f3,#0f6,#0f9,#0fd,#0fb)"></i><i style="left:353px;width:2px;background:linear-gradient(#0fd,#0f7,#ff0,#ff0,#ff0,#ff0,#ff0,#fe0,#fe0,#fe0,#bf0,#7f0,#5f0,#4f0,#0f0,#0f3,#0f6,#0f9,#0fd,#0fb)"></i><i style="left:355px;width:2px;background:linear-gradient(#0fd,#0f7,#ff0,#ff0,#ff0,#ff0,#ff0,#fe0,#fe0,#fe0,#bf0,#7f0,#5f0,#4f0,#0f0,#0f3,#0f6,#0f9,#0fd,#0fb)"></i><i style="left:357px;width:1px;background:linear-gradient(#0fd,#0f7,#ff0,#ff0,#ff0,#ff0,#ff0,#fe0,#fe0,#fe0,#bf0,#7f0,#5f0,#4f0,#0f0,#0f3,#0f6,#0f9,#0fd,#0fb)"></i><i style="left:358px;width:1px;background:linear-gradient(#05f,#05f,#05f,#05f,#0f1,#0f1,#0f1,#0f1,#0f1,#0f1,#0f1,#0f1,#0f1,#0f1,#0f1,#0f3,#0f6,#0f9,#0fd,#0fb)"></i><i style="left:359px;width:2px;background:linear-gradient(#0fd,#0f7,#ff0,#ff0,#ff0,#ff0,#ff0,#fe0,#fe0,#fe0,#bf0,#7f0,#5f0,#4f0,#0f0,#0f3,#0f6,#0f9,#0fd,#0fb)"></i><i style="left:361px;width:2px;background:linear-gradient(#0fd,#0f7,#ff0,#ff0,#ff0,#ff0,#ff0,#fe0,#fe0,#fe0,#bf0,#7f0,#5f0,#4f0,#0f0,#0f3,#0f6,#0f9,#0fd,#0fb)"></i><i style="left:363px;width:2px;background:linear-gradient(#0fd,#0f7,#ff0,#ff0,#ff0,#ff0,#ff0,#fe0,#fe0,#fe0,#bf0,#7f0,#5f0,#4f0,#0f0,#0f3,#0f6,#0f9,#0fd,#0fb)"></i><i style="left:365px;width:2px;background:linear-gradient(#0fd,#0f7,#ff0,#ff0,#ff0,#ff0,#ff0,#fe0,#fe0,#fe0,#bf0,#7f0,#5f0,#4f0,#0f0,#0f3,#0f6,#0f9,#0fd,#0fb)"></i><i style="left:367px;width:2px;background:linear-gradient(#0fd,#0f7,#ff0,#ff0,#ff0,#ff0,#ff0,#fe0,#fe0,#fe0,#bf0,#7f0,#5f0,#4f0,#0f0,#0f3,#0f6,#0f9,#0fd,#0fb)"></i><i style="left:369px;width:1px;background:linear-gradient(#0fd,#0f7,#ff0,#ff0,#ff0,#ff0,#ff0,#fe0,#fe0,#fe0,#bf0,#7f0,#5f0,#4f0,#0f0,#0f3,#0f6,#0f9,#0fd,#0fb)"></i><i style="left:370px;width:1px;background:linear-gradient(#05f,#05f,#05f,#05f,#0f1,#0f1,#0f1,#0f1,#0f1,#0f1,#0f1,#0f1,#0f1,#0f1,#0f1,#0f3,#0f6,#0f9,#0fd,#0fb)"></i><i style="left:371px;width:2px;background:linear-gradient(#0fd,#0f7,#ff0,#ff0,#ff0,#ff0,#ff0,#fe0,#fe0,#fe0,#bf0,#7f0,#5f0,#4f0,#0f0,#0f3,#0f6,#0f9,#0fd,#0fb)"></i><i style="left:373px;width:2px;background:linear-gradient(#0fd,#0f7,#ff0,#ff0,#ff0,#ff0,#ff0,#fe0,#fe0,#fe0,#bf0,#7f0,#5f0,#4f0,#0f0,#0f3,#0f6,#0f9,#0fd,#0fb)"></i><i style="left:375px;width:2px;background:linear-gradient(#0fd,#0f7,#ff0,#ff0,#ff0,#ff0,#ff0,#fe0,#fe0,#fe0,#bf0,#7f0,#5f0,#4f0,#0f0,#0f3,#0f6,#0f9,#0fd,#0fb)"></i><i style="left:377px;width:2px;background:linear-gradient(#0fd,#0f7,#ff0,#ff0,#ff0,#ff0,#ff0,#fe0,#fe0,#fe0,#bf0,#7f0,#5f0,#4f0,#0f0,#0f3,#0f6,#0f9,#0fd,#0fb)"></i><i style="left:379px;width:2px;background:linear-gradient(#0fd,#0f7,#ff0,#ff0,#ff0,#ff0,#ff0,#fe0,#fe0,#fe0,#bf0,#7f0,#5f0,#4f0,#0f0,#0f3,#0f6,#0f9,#0fd,#0fb)"></i><i style="left:381px;width:2px;background:linear-gradient(#0fd,#0f7,#ff0,#ff0,#ff0,#ff0,#ff0,#fe0,#fe0,#fe0,#bf0,#7f0,#5f0,#4f0,#0f0,#0f3,#0f6,#0f9,#0fd,#0fb)"></i><i style="left:383px;width:2px;background:linear-gradient(#0fc,#0f4,#ff0,#ff0,#ff0,#ff0,#ff0,#ff0,#ff0,#ef0,#af0,#6f0,#4f0,#2f0,#0f1,#0f5,#0f8,#0fd,#0ff,#0fb)"></i><i style="left:385px;width:2px;background:linear-gradient(#0fb,#0f1,#ff0,#ff0,#ff0,#ff0,#ff0,#ef0,#df0,#cf0,#9f0,#5f0,#3f0,#1f0,#0f3,#0f6,#0fb,#0df,#0cf,#0fc)"></i><i style="left:387px;width:1px;background:linear-gradient(#05f,#05f,#05f,#05f,#0f1,#0f1,#0f1,#0f1,#0f1,#0f1,#0f1,#0f1,#0f1,#0f1,#0f4,#0f7,#0fd,#0af,#0af,#0fc)"></i><i style="left:388px;width:1px;background:linear-gradient(#0fa,#3f0,#ef0,#ef0,#ff0,#ff0,#ef0,#df0,#cf0,#bf0,#7f0,#4f0,#2f0,#0f1,#0f4,#0f7,#0fd,#0af,#0af,#0fc)"></i><i style="left:389px;width:2px;background:linear-gradient(#0f9,#6f0,#ef0,#ef0,#ef0,#ef0,#ef0,#cf0,#bf0,#9f0,#6f0,#3f0,#0f0,#0f2,#0f5,#0f8,#0ff,#07f,#08f,#0fd)"></i><i style="left:391px;width:2px;background:linear-gradient(#0f8,#9f0,#ef0,#ef0,#ef0,#ef0,#ef0,#bf0,#9f0,#7f0,#4f0,#2f0,#0f1,#0f3,#0f6,#0fa,#0df,#04f,#06f,#0fd)"></i><i style="left:393px;width:2px;background:linear-gradient(#0f8,#9f0,#ef0,#ef0,#ef0,#ef0,#ef0,#bf0,#9f0,#7f0,#4f0,#2f0,#0f1,#0f3,#0f6,#0fa,#0df,#04f,#06f,#0fd)"></i><i style="left:395px;width:2px;background:linear-gradient(#0f8,#9f0,#ef0,#ef0,#ef0,#ef0,#ef0,#bf0,#9f0,#7f0,#4f0,#2f0,#0f1,#0f3,#0f6,#0fa,#0df,#04f,#06f,#0fd)"></i><i style="left:397px;width:2px;background:linear-gradient(#0f8,#9f0,#ef0,#ef0,#ef0,#ef0,#ef0,#bf0,#9f0,#7f0,#4f0,#2f0,#0f1,#0f3,#0f6,#0fa,#0df,#04f,#06f,#0fd)"></i><i style="left:399px;width:2px;background:linear-gradient(#0f8,#9f0,#ef0,#ef0,#ef0,#ef0,#ef0,#bf0,#9f0,#7f0,#4f0,#2f0,#0f1,#0f3,#0f6,#0fa,#0df,#04f,#06f,#0fd)"></i><i style="left:401px;width:2px;background:linear-gradient(#0f8,#9f0,#ef0,#ef0,#ef0,#ef0,#ef0,#bf0,#9f0,#7f0,#4f0,#2f0,#0f1,#0f3,#0f6,#0fa,#0df,#04f,#06f,#0fd)"></i><i style="left:403px;width:2px;background:linear-gradient(#0f8,#9f0,#ef0,#ef0,#ef0,#ef0,#ef0,#bf0,#9f0,#7f0,#4f0,#2f0,#0f1,#0f3,#0f6,#0fa,#0df,#04f,#06f,#0fd)"></i><i style="left:405px;width:2px;background:linear-gradient(#0f8,#9f0,#ef0,#ef0,#ef0,#ef0,#ef0,#bf0,#9f0,#7f0,#4f0,#2f0,#0f1,#0f3,#0f6,#0fa,#0df,#04f,#06f,#0fd)"></i><i style="left:407px;width:2px;background:linear-gradient(#0f8,#9f0,#ef0,#ef0,#ef0,#ef0,#ef0,#bf0,#9f0,#7f0,#4f0,#2f0,#0f1,#0f3,#0f6,#0fa,#0df,#04f,#06f,#0fd)"></i><i style="left:409px;width:2px;background:linear-gradient(#0f8,#9f0,#ef0,#ef0,#ef0,#ef0,#ef0,#bf0,#9f0,#7f0,#4f0,#2f0,#0f1,#0f3,#0f6,#0fa,#0df,#04f,#06f,#0fd)"></i><i style="left:411px;width:2px;background:linear-gradient(#0f8,#9f0,#ef0,#ef0,#ef0,#ef0,#ef0,#bf0,#9f0,#7f0,#4f0,#2f0,#0f1,#0f3,#0f6,#0fa,#0df,#04f,#06f,#0fd)"></i><i style="left:413px;width:2px;background:linear-gradient(#0f8,#9f0,#ef0,#ef0,#ef0,#ef0,#ef0,#bf0,#9f0,#7f0,#4f0,#2f0,#0f1,#0f3,#0f6,#0fa,#0df,#04f,#06f,#0fd)"></i><i style="left:415px;width:2px;background:linear-gradient(#0f8,#9f0,#ef0,#ef0,#ef0,#ef0,#ef0,#bf0,#9f0,#7f0,#4f0,#2f0,#0f1,#0f3,#0f6,#0fa,#0df,#04f,#06f,#0fd)"></i><i style="left:417px;width:2px;background:linear-gradient(#0f8,#9f0,#ef0,#ef0,#ef0,#ef0,#ef0,#bf0,#9f0,#7f0,#4f0,#2f0,#0f1,#0f3,#0f6,#0fa,#0df,#04f,#06f,#0fd)"></i><i style="left:419px;width:2px;background:linear-gradient(#0f8,#9f0,#ef0,#ef0,#ef0,#ef0,#ef0,#bf0,#9f0,#7f0,#4f0,#2f0,#0f1,#0f3,#0f6,#0fa,#0df,#04f,#06f,#0fd)"></i><i style="left:421px;width:1px;background:linear-gradient(#0f8,#9f0,#ef0,#ef0,#ef0,#ef0,#ef0,#bf0,#9f0,#7f0,#4f0,#2f0,#0f1,#0f3,#0f6,#0fa,#0df,#04f,#06f,#0fd)"></i><i style="left:422px;width:1px;background:linear-gradient(#0f8,#9f0,#ef0,#ef0,#ef0,#ef0,#ef0,#bf0,#9f0,#7f0,#4f0,#2f0,#0f1,#0f3,#02f,#02f,#02f,#02f,#06f,#0fd)"></i><i style="left:423px;width:1px;background:linear-gradient(#0f8,#9f0,#ef0,#ef0,#ef0,#ef0,#ef0,#bf0,#9f0,#7f0,#4f0,#2f0,#0f1,#0f3,#0f6,#0fa,#0df,#04f,#06f,#0fd)"></i><i style="left:424px;width:1px;background:linear-gradient(#0f8,#9f0,#ef0,#ef0,#ef0,#ef0,#ef0,#bf0,#9f0,#7f0,#4f0,#2f0,#0f1,#0f3,#0f6,#0fa,#02f,#02f,#06f,#0fd)"></i><i style="left:425px;width:1px;background:linear-gradient(#0f8,#9f0,#ef0,#ef0,#ef0,#ef0,#ef0,#bf0,#9f0,#7f0,#4f0,#2f0,#0f1,#0f3,#0f6,#0fa,#0df,#04f,#06f,#0fd)"></i><i style="left:426px;width:1px;background:linear-gradient(#0f8,#9f0,#ef0,#ef0,#ef0,#ef0,#ef0,#bf0,#9f0,#7f0,#4f0,#2f0,#0f1,#0f3,#0f6,#02f,#02f,#02f,#06f,#0fd)"></i><i style="left:427px;width:1px;background:linear-gradient(#0f8,#9f0,#ef0,#ef0,#ef0,#ef0,#ef0,#bf0,#9f0,#7f0,#4f0,#2f0,#0f1,#02f,#02f,#02f,#02f,#02f,#06f,#0fd)"></i><i style="left:428px;width:1px;background:linear-gradient(#0f8,#9f0,#ef0,#ef0,#ef0,#ef0,#ef0,#bf0,#9f0,#7f0,#4f0,#2f0,#0f1,#0f3,#0f6,#0fa,#0df,#04f,#06f,#0fd)"></i><i style="left:429px;width:1px;background:linear-gradient(#0f8,#9f0,#ef0,#ef0,#ef0,#ef0,#ef0,#bf0,#9f0,#7f0,#4f0,#2f0,#0f1,#0f3,#0f6,#02f,#02f,#02f,#06f,#0fd)"></i><i style="left:430px;width:1px;background:linear-gradient(#0f8,#9f0,#ef0,#ef0,#ef0,#ef0,#ef0,#bf0,#9f0,#7f0,#4f0,#2f0,#0f1,#0f3,#0f6,#0fa,#0df,#04f,#06f,#0fd)"></i><i style="left:431px;width:1px;background:linear-gradient(#0f8,#9f0,#ef0,#ef0,#ef0,#ef0,#ef0,#bf0,#9f0,#7f0,#4f0,#2f0,#0f1,#0f3,#0f6,#0fa,#0df,#04f,#06f,#0fd)"></i><i style="left:432px;width:1px;background:linear-gradient(#0f8,#9f0,#ef0,#ef0,#ef0,#ef0,#ef0,#bf0,#9f0,#7f0,#4f0,#2f0,#0f1,#0f3,#02f,#02f,#02f,#02f,#06f,#0fd)"></i><i style="left:433px;width:1px;background:linear-gradient(#0f8,#9f0,#ef0,#ef0,#ef0,#ef0,#ef0,#bf0,#9f0,#7f0,#4f0,#2f0,#0f1,#0f3,#0f6,#0fa,#0df,#04f,#06f,#0fd)"></i><i style="left:434px;width:1px;background:linear-gradient(#0f8,#9f0,#ef0,#ef0,#ef0,#ef0,#ef0,#bf0,#9f0,#7f0,#4f0,#2f0,#0f1,#0f3,#0f6,#0fa,#0df,#02f,#06f,#0fd)"></i><i style="left:435px;width:1px;background:linear-gradient(#0f8,#9f0,#ef0,#ef0,#ef0,#ef0,#ef0,#bf0,#9f0,#7f0,#4f0,#2f0,#0f1,#0f3,#0f6,#0fa,#0df,#04f,#06f,#0fd)"></i><i style="left:436px;width:1px;background:linear-gradient(#0f8,#9f0,#ef0,#ef0,#ef0,#ef0,#ef0,#bf0,#9f0,#7f0,#4f0,#2f0,#0f1,#02f,#02f,#02f,#02f,#02f,#06f,#0fd)"></i><i style="left:437px;width:1px;background:linear-gradient(#0f8,#9f0,#ef0,#ef0,#ef0,#ef0,#ef0,#bf0,#9f0,#7f0,#4f0,#2f0,#0f1,#0f3,#0f6,#0fa,#02f,#02f,#06f,#0fd)"></i><i style="left:438px;width:1px;background:linear-gradient(#0f8,#9f0,#ef0,#ef0,#ef0,#ef0,#ef0,#bf0,#9f0,#7f0,#4f0,#2f0,#0f1,#0f3,#0f6,#0fa,#0df,#04f,#06f,#0fd)"></i><i style="left:439px;width:1px;background:linear-gradient(#0f8,#9f0,#ef0,#ef0,#ef0,#ef0,#ef0,#bf0,#9f0,#7f0,#4f0,#2f0,#0f1,#0f3,#02f,#02f,#02f,#02f,#06f,#0fd)"></i><i style="left:440px;width:1px;background:linear-gradient(#0f8,#9f0,#ef0,#ef0,#ef0,#ef0,#ef0,#bf0,#9f0,#7f0,#4f0,#2f0,#0f1,#0f3,#0f6,#0fa,#0df,#04f,#06f,#0fd)"></i><i style="left:441px;width:1px;background:linear-gradient(#0f8,#9f0,#ef0,#ef0,#ef0,#ef0,#ef0,#bf0,#9f0,#7f0,#4f0,#2f0,#0f1,#0f3,#0f6,#0fa,#02f,#02f,#06f,#0fd)"></i><i style="left:442px;width:1px;background:linear-gradient(#0f8,#9f0,#ef0,#ef0,#ef0,#ef0,#ef0,#bf0,#9f0,#7f0,#4f0,#2f0,#0f1,#0f3,#0f6,#0fa,#0df,#04f,#06f,#0fd)"></i><i style="left:443px;width:1px;background:linear-gradient(#0f8,#9f0,#ef0,#ef0,#ef0,#ef0,#ef0,#bf0,#9f0,#7f0,#4f0,#2f0,#0f1,#0f3,#0f6,#0fa,#0df,#04f,#06f,#0fd)"></i><i style="left:444px;width:1px;background:linear-gradient(#0f8,#9f0,#ef0,#ef0,#ef0,#ef0,#ef0,#bf0,#9f0,#7f0,#4f0,#2f0,#0f1,#02f,#02f,#02f,#02f,#02f,#06f,#0fd)"></i><i style="left:445px;width:1px;background:linear-gradient(#0f8,#9f0,#ef0,#ef0,#ef0,#ef0,#ef0,#bf0,#9f0,#7f0,#4f0,#2f0,#0f1,#0f3,#0f6,#0fa,#0df,#04f,#06f,#0fd)"></i><i style="left:446px;width:1px;background:linear-gradient(#0f8,#9f0,#ef0,#ef0,#ef0,#ef0,#ef0,#bf0,#9f0,#7f0,#4f0,#2f0,#0f1,#0f3,#0f6,#02f,#02f,#02f,#06f,#0fd)"></i><i style="left:447px;width:1px;background:linear-gradient(#0f8,#9f0,#ef0,#ef0,#ef0,#ef0,#ef0,#bf0,#9f0,#7f0,#4f0,#2f0,#0f1,#0f3,#02f,#02f,#02f,#02f,#06f,#0fd)"></i><i style="left:448px;width:1px;background:linear-gradient(#0f8,#9f0,#ef0,#ef0,#ef0,#ef0,#ef0,#bf0,#9f0,#7f0,#4f0,#2f0,#0f1,#0f3,#0f6,#0fa,#0df,#04f,#06f,#0fd)"></i><i style="left:449px;width:1px;background:linear-gradient(#0f8,#9f0,#ef0,#ef0,#ef0,#ef0,#ef0,#bf0,#9f0,#7f0,#4f0,#2f0,#0f1,#0f3,#02f,#02f,#02f,#02f,#06f,#0fd)"></i><i style="left:450px;width:1px;background:linear-gradient(#0f8,#9f0,#ef0,#ef0,#ef0,#ef0,#ef0,#bf0,#9f0,#7f0,#4f0,#2f0,#0f1,#0f3,#0f6,#0fa,#0df,#04f,#06f,#0fd)"></i><i style="left:451px;width:1px;background:linear-gradient(#0f8,#9f0,#ef0,#ef0,#ef0,#ef0,#ef0,#bf0,#9f0,#7f0,#4f0,#2f0,#0f1,#0f3,#0f6,#0fa,#02f,#02f,#06f,#0fd)"></i><i style="left:452px;width:1px;background:linear-gradient(#0f8,#9f0,#ef0,#ef0,#ef0,#ef0,#ef0,#bf0,#9f0,#7f0,#4f0,#1f0,#0f2,#0f5,#02f,#02f,#02f,#02f,#08f,#0fc)"></i><i style="left:453px;width:1px;background:linear-gradient(#0f8,#af0,#ef0,#ef0,#ef0,#ef0,#ef0,#bf0,#9f0,#6f0,#3f0,#0f0,#0f3,#0f6,#0f9,#0fa,#0ef,#07f,#09f,#0fa)"></i><i style="left:454px;width:1px;background:linear-gradient(#0f8,#af0,#ef0,#ef0,#ef0,#ef0,#ef0,#bf0,#9f0,#6f0,#2f0,#0f1,#0f4,#0f7,#0fa,#0fb,#02f,#02f,#0bf,#0f9)"></i><i style="left:455px;width:1px;background:linear-gradient(#0f8,#af0,#ef0,#ef0,#ef0,#ef0,#df0,#bf0,#8f0,#5f0,#1f0,#0f2,#0f5,#0f8,#0fb,#0fb,#0ff,#09f,#0cf,#0f8)"></i><i style="left:456px;width:1px;background:linear-gradient(#0f8,#bf0,#ef0,#ef0,#ef0,#ef0,#df0,#bf0,#8f0,#5f0,#1f0,#0f3,#0f6,#02f,#02f,#02f,#02f,#02f,#0ef,#0f6)"></i><i style="left:457px;width:2px;background:linear-gradient(#0f8,#bf0,#ef0,#ef0,#ef0,#ef0,#df0,#bf0,#8f0,#4f0,#0f0,#0f4,#0f7,#0fa,#0fd,#0fc,#0fd,#0ef,#0fe,#0f5)"></i><i style="left:459px;width:2px;background:linear-gradient(#0f8,#cf0,#ef0,#ef0,#ef0,#ef0,#df0,#bf0,#8f0,#3f0,#0f2,#0f6,#0f9,#0fc,#0ff,#0fd,#0fc,#0fd,#0fa,#0f2)"></i><i style="left:461px;width:2px;background:linear-gradient(#0f8,#cf0,#ef0,#ef0,#ef0,#ef0,#df0,#af0,#7f0,#3f0,#0f3,#0f7,#0fb,#0ff,#0ef,#0fd,#0fa,#0f9,#0f6,#0f0)"></i><i style="left:463px;width:2px;background:linear-gradient(#0f8,#df0,#ef0,#ef0,#ef0,#ef0,#df0,#af0,#7f0,#2f0,#0f5,#0f9,#0fd,#0df,#0cf,#0fe,#0f9,#0f5,#0f2,#3f0)"></i><i style="left:465px;width:2px;background:linear-gradient(#0f8,#ef0,#ef0,#ef0,#ef0,#ef0,#df0,#af0,#6f0,#1f0,#0f6,#0fb,#0ff,#0cf,#0af,#0ff,#0f7,#0f1,#2f0,#6f0)"></i><i style="left:467px;width:2px;background:linear-gradient(#0f8,#ef0,#ef0,#ef0,#ef0,#ef0,#df0,#af0,#6f0,#0f0,#0f7,#0fc,#0ef,#0bf,#0af,#0ff,#0f6,#2f0,#5f0,#7f0)"></i><i style="left:469px;width:2px;background:linear-gradient(#0f8,#ef0,#ef0,#ef0,#ef0,#ef0,#df0,#af0,#8f0,#4f0,#0f3,#0f9,#0fe,#0cf,#09f,#0bf,#0fb,#0f3,#3f0,#6f0)"></i><i style="left:471px;width:2px;background:linear-gradient(#0f8,#ef0,#ef0,#ef0,#ef0,#ef0,#df0,#af0,#8f0,#5f0,#0f3,#0f9,#0fe,#0df,#0af,#0bf,#0fc,#0f3,#3f0,#5f0)"></i><i style="left:473px;width:2px;background:linear-gradient(#0f8,#ef0,#ef0,#ef0,#ef0,#ef0,#df0,#af0,#7f0,#2f0,#0f5,#0fb,#0ff,#0cf,#09f,#0df,#0f9,#0f1,#4f0,#6f0)"></i><i style="left:475px;width:2px;background:linear-gradient(#0f8,#ef0,#ef0,#ef0,#ef0,#ef0,#df0,#af0,#8f0,#5f0,#0f3,#0f9,#0fe,#0df,#0af,#0bf,#0fb,#0f3,#3f0,#5f0)"></i><i style="left:477px;width:2px;background:linear-gradient(#0f8,#ef0,#ef0,#ef0,#ef0,#ef0,#df0,#af0,#7f0,#3f0,#0f5,#0fa,#0ff,#0cf,#09f,#0cf,#0f9,#0f1,#4f0,#6f0)"></i><i style="left:479px;width:2px;background:linear-gradient(#0f8,#ef0,#ef0,#ef0,#ef0,#ef0,#df0,#af0,#7f0,#2f0,#0f6,#0fb,#0ef,#0bf,#09f,#0df,#0f8,#0f0,#4f0,#6f0)"></i><i style="left:481px;width:2px;background:linear-gradient(#0f8,#ef0,#ef0,#ef0,#ef0,#ef0,#df0,#af0,#8f0,#5f0,#0f3,#0f9,#0fe,#0df,#0af,#0bf,#0fb,#0f3,#3f0,#5f0)"></i><i style="left:483px;width:2px;background:linear-gradient(#0f8,#ef0,#ef0,#ef0,#ef0,#ef0,#df0,#af0,#4f0,#0f4,#0fa,#0ff,#04f,#04f,#04f,#04f,#0f2,#3f0,#6f0,#7f0)"></i><i style="left:485px;width:2px;background:linear-gradient(#0f8,#ef0,#ef0,#ef0,#ef0,#ef0,#df0,#af0,#4f0,#0f4,#0fa,#0ff,#04f,#04f,#04f,#04f,#0f2,#3f0,#6f0,#7f0)"></i><i style="left:487px;width:2px;background:linear-gradient(#0f8,#ef0,#ef0,#ef0,#ef0,#ef0,#df0,#af0,#5f0,#0f3,#0f9,#0fe,#0df,#0af,#0bf,#0fc,#0f3,#3f0,#5f0,#7f0)"></i><i style="left:489px;width:2px;background:linear-gradient(#0f8,#ef0,#ef0,#ef0,#ef0,#ef0,#df0,#af0,#6f0,#0f1,#0f8,#0fd,#0df,#04f,#04f,#04f,#0f6,#2f0,#5f0,#7f0)"></i><i style="left:491px;width:2px;background:linear-gradient(#0f8,#ef0,#ef0,#ef0,#ef0,#ef0,#df0,#af0,#3f0,#0f4,#0fa,#0ff,#0cf,#09f,#0cf,#0fa,#0f2,#3f0,#6f0,#7f0)"></i><i style="left:493px;width:2px;background:linear-gradient(#0f8,#ef0,#ef0,#ef0,#ef0,#ef0,#df0,#af0,#6f0,#0f0,#0f7,#0fc,#04f,#04f,#04f,#04f,#0f6,#2f0,#5f0,#7f0)"></i><i style="left:495px;width:2px;background:linear-gradient(#0f8,#ef0,#ef0,#ef0,#ef0,#ef0,#df0,#af0,#4f0,#0f3,#0f9,#0fe,#0cf,#09f,#0bf,#0fb,#0f3,#3f0,#6f0,#7f0)"></i><i style="left:497px;width:2px;background:linear-gradient(#0f8,#ef0,#ef0,#ef0,#ef0,#ef0,#df0,#af0,#8f0,#5f0,#0f3,#0f9,#0fe,#04f,#04f,#04f,#0fc,#0f4,#3f0,#5f0)"></i><i style="left:499px;width:2px;background:linear-gradient(#0f8,#ef0,#ef0,#ef0,#ef0,#ef0,#df0,#af0,#7f0,#2f0,#0f6,#0fb,#0ef,#0bf,#09f,#0df,#0f8,#0f0,#4f0,#6f0)"></i><i style="left:501px;width:2px;background:linear-gradient(#0f8,#ef0,#ef0,#ef0,#ef0,#ef0,#df0,#af0,#8f0,#5f0,#0f3,#0f9,#0fe,#0df,#0af,#0bf,#0fb,#0f3,#3f0,#5f0)"></i><i style="left:503px;width:2px;background:linear-gradient(#0f8,#ef0,#ef0,#ef0,#ef0,#ef0,#df0,#af0,#3f0,#0f4,#0fa,#0ff,#0cf,#04f,#04f,#04f,#0f2,#3f0,#6f0,#7f0)"></i><i style="left:505px;width:2px;background:linear-gradient(#0f8,#ef0,#ef0,#ef0,#ef0,#ef0,#df0,#af0,#5f0,#0f3,#0f9,#0fe,#0cf,#0af,#0bf,#0fb,#0f3,#3f0,#6f0,#7f0)"></i><i style="left:507px;width:2px;background:linear-gradient(#0f8,#ef0,#ef0,#ef0,#ef0,#ef0,#df0,#af0,#7f0,#2f0,#0f5,#0fb,#0ef,#0bf,#09f,#0df,#0f8,#0f0,#4f0,#6f0)"></i><i style="left:509px;width:2px;background:linear-gradient(#0f8,#ef0,#ef0,#ef0,#ef0,#ef0,#df0,#af0,#5f0,#0f1,#0f8,#0fd,#0df,#0af,#0af,#0fd,#0f5,#2f0,#5f0,#7f0)"></i><i style="left:511px;width:2px;background:linear-gradient(#0f8,#ef0,#ef0,#ef0,#ef0,#ef0,#df0,#af0,#7f0,#2f0,#0f5,#0fb,#04f,#04f,#04f,#04f,#0f9,#0f1,#4f0,#6f0)"></i><i style="left:513px;width:2px;background:linear-gradient(#0f8,#ef0,#ef0,#ef0,#ef0,#ef0,#df0,#af0,#7f0,#2f0,#0f6,#0fb,#0ef,#04f,#04f,#04f,#0f8,#0f0,#4f0,#6f0)"></i><i style="left:515px;width:2px;background:linear-gradient(#0f8,#ef0,#ef0,#ef0,#ef0,#ef0,#df0,#af0,#8f0,#4f0,#0f4,#0fa,#0ff,#0cf,#09f,#0cf,#0fa,#0f2,#3f0,#6f0)"></i><i style="left:517px;width:2px;background:linear-gradient(#0f8,#ef0,#ef0,#ef0,#ef0,#ef0,#df0,#af0,#8f0,#4f0,#0f3,#0f9,#0fe,#04f,#04f,#04f,#0fb,#0f3,#3f0,#6f0)"></i><i style="left:519px;width:2px;background:linear-gradient(#0f8,#ef0,#ef0,#ef0,#ef0,#ef0,#df0,#af0,#4f0,#0f3,#0f9,#0fe,#0cf,#09f,#0bf,#0fb,#0f3,#3f0,#6f0,#7f0)"></i><i style="left:521px;width:2px;background:linear-gradient(#0f8,#ef0,#ef0,#ef0,#ef0,#ef0,#df0,#af0,#7f0,#2f0,#0f6,#0fb,#0ef,#0bf,#09f,#0ef,#0f8,#0f0,#4f0,#7f0)"></i><i style="left:523px;width:2px;background:linear-gradient(#0f8,#ef0,#ef0,#ef0,#ef0,#ef0,#df0,#af0,#4f0,#0f4,#0fa,#0ff,#0cf,#09f,#0bf,#0fa,#0f2,#3f0,#6f0,#7f0)"></i><i style="left:525px;width:2px;background:linear-gradient(#0f8,#ef0,#ef0,#ef0,#ef0,#ef0,#df0,#af0,#4f0,#0f4,#0fa,#0ff,#0cf,#09f,#0bf,#0fa,#0f2,#3f0,#6f0,#7f0)"></i><i style="left:527px;width:2px;background:linear-gradient(#0f8,#ef0,#ef0,#ef0,#ef0,#ef0,#df0,#af0,#7f0,#2f0,#0f6,#0fb,#0ef,#0bf,#09f,#0df,#0f8,#0f0,#4f0,#7f0)"></i><i style="left:529px;width:2px;background:linear-gradient(#0f8,#ef0,#ef0,#ef0,#ef0,#ef0,#df0,#af0,#5f0,#0f1,#0f8,#0fd,#0df,#04f,#04f,#04f,#0f5,#2f0,#5f0,#7f0)"></i><i style="left:531px;width:2px;background:linear-gradient(#0f8,#ef0,#ef0,#ef0,#ef0,#ef0,#df0,#af0,#7f0,#2f0,#0f6,#0fb,#0ef,#0bf,#09f,#0ef,#0f8,#0f0,#4f0,#7f0)"></i><i style="left:533px;width:2px;background:linear-gradient(#0f8,#ef0,#ef0,#ef0,#ef0,#ef0,#df0,#af0,#7f0,#3f0,#0f5,#0fa,#0ff,#0cf,#09f,#0cf,#0f9,#0f1,#4f0,#6f0)"></i><i style="left:535px;width:2px;background:linear-gradient(#0f8,#ef0,#ef0,#ef0,#ef0,#ef0,#df0,#af0,#6f0,#0f1,#0f8,#0fd,#0df,#0af,#0af,#0fd,#0f5,#2f0,#5f0,#7f0)"></i><i style="left:537px;width:2px;background:linear-gradient(#0f8,#ef0,#ef0,#ef0,#ef0,#ef0,#df0,#af0,#4f0,#0f4,#0fa,#0ff,#0cf,#09f,#0cf,#0fa,#0f2,#3f0,#6f0,#7f0)"></i><i style="left:539px;width:2px;background:linear-gradient(#0f8,#ef0,#ef0,#ef0,#ef0,#ef0,#df0,#af0,#8f0,#4f0,#0f4,#0fa,#0ff,#0cf,#09f,#0bf,#0fa,#0f2,#3f0,#6f0)"></i><i style="left:541px;width:2px;background:linear-gradient(#0f8,#ef0,#ef0,#ef0,#ef0,#ef0,#df0,#af0,#6f0,#0f0,#0f7,#0fc,#0ef,#0bf,#0af,#0ff,#0f7,#1f0,#4f0,#7f0)"></i><i style="left:543px;width:2px;background:linear-gradient(#0f8,#ef0,#ef0,#ef0,#ef0,#ef0,#df0,#af0,#6f0,#0f0,#0f7,#0fc,#0df,#09f,#08f,#0ef,#0f7,#1f0,#4f0,#7f0)"></i><i style="left:545px;width:2px;background:linear-gradient(#0f8,#ef0,#ef0,#ef0,#ef0,#ef0,#df0,#af0,#6f0,#0f0,#0f7,#0fd,#0df,#08f,#06f,#0ef,#0f7,#1f0,#4f0,#7f0)"></i><i style="left:547px;width:2px;background:linear-gradient(#0f8,#ef0,#ef0,#ef0,#ef0,#ef0,#df0,#af0,#6f0,#0f0,#0f7,#0fd,#0cf,#07f,#04f,#0df,#0f7,#1f0,#4f0,#7f0)"></i><i style="left:549px;width:2px;background:linear-gradient(#0f8,#ef0,#ef0,#ef0,#ef0,#ef0,#df0,#af0,#6f0,#0f0,#0f7,#0fd,#0bf,#05f,#01f,#0cf,#0f7,#1f0,#4f0,#7f0)"></i><i style="left:551px;width:2px;background:linear-gradient(#0f8,#ef0,#ef0,#ef0,#ef0,#ef0,#df0,#af0,#6f0,#0f0,#0f7,#0fe,#0af,#03f,#00f,#0cf,#0f6,#2f0,#5f0,#7f0)"></i><i style="left:553px;width:2px;background:linear-gradient(#0f8,#ef0,#ef0,#ef0,#ef0,#ef0,#df0,#af0,#7f0,#1f0,#0f7,#0fd,#0bf,#04f,#10e,#0bf,#0f7,#1f0,#4f0,#7f0)"></i><i style="left:555px;width:2px;background:linear-gradient(#0f8,#ef0,#ef0,#ef0,#ef0,#ef0,#df0,#af0,#5f0,#0f2,#0f9,#0ff,#09f,#00f,#03f,#0fe,#0f4,#3f0,#5f0,#7f0)"></i><i style="left:557px;width:2px;background:linear-gradient(#0f8,#ef0,#ef0,#ef0,#ef0,#ef0,#df0,#af0,#5f0,#0f2,#0f9,#0ff,#08f,#10e,#03f,#0fd,#0f4,#3f0,#5f0,#7f0)"></i><i style="left:559px;width:2px;background:linear-gradient(#0f8,#ef0,#ef0,#ef0,#ef0,#ef0,#df0,#af0,#6f0,#0f1,#0f8,#0fe,#0af,#02f,#01f,#0ef,#0f6,#2f0,#5f0,#7f0)"></i><i style="left:561px;width:2px;background:linear-gradient(#0f8,#ef0,#ef0,#ef0,#ef0,#ef0,#df0,#af0,#7f0,#2f0,#0f6,#0fc,#0cf,#05f,#20d,#09f,#0f8,#0f0,#4f0,#7f0)"></i><i style="left:563px;width:2px;background:linear-gradient(#0f8,#ef0,#ef0,#ef0,#ef0,#ef0,#df0,#af0,#4f0,#0f3,#0fa,#0ef,#08f,#10e,#04f,#0fb,#0f3,#3f0,#6f0,#7f0)"></i><i style="left:565px;width:2px;background:linear-gradient(#0f8,#ef0,#ef0,#ef0,#ef0,#ef0,#df0,#af0,#5f0,#0f2,#0f9,#0ff,#09f,#00f,#02f,#0fe,#0f4,#3f0,#5f0,#7f0)"></i><i style="left:567px;width:2px;background:linear-gradient(#0f8,#ef0,#ef0,#ef0,#ef0,#ef0,#df0,#af0,#7f0,#1f0,#0f6,#0fd,#0cf,#05f,#20d,#0af,#0f8,#0f0,#4f0,#7f0)"></i><i style="left:569px;width:2px;background:linear-gradient(#0f8,#ef0,#ef0,#ef0,#ef0,#ef0,#df0,#af0,#5f0,#0f3,#0fa,#0ef,#08f,#10e,#04f,#0fc,#0f3,#3f0,#5f0,#7f0)"></i><i style="left:571px;width:2px;background:linear-gradient(#0f8,#ef0,#ef0,#ef0,#ef0,#ef0,#df0,#af0,#7f0,#1f0,#0f6,#0fd,#0cf,#05f,#20d,#0af,#0f8,#0f0,#4f0,#7f0)"></i><i style="left:573px;width:2px;background:linear-gradient(#0f8,#ef0,#ef0,#ef0,#ef0,#ef0,#df0,#af0,#5f0,#0f3,#0fa,#0ef,#08f,#10e,#04f,#0fb,#0f3,#3f0,#6f0,#7f0)"></i><i style="left:575px;width:2px;background:linear-gradient(#0f8,#ef0,#ef0,#ef0,#ef0,#ef0,#df0,#af0,#5f0,#0f2,#0f9,#0ff,#09f,#00f,#02f,#0fe,#0f4,#3f0,#5f0,#7f0)"></i><i style="left:577px;width:2px;background:linear-gradient(#0f8,#ef0,#ef0,#ef0,#ef0,#ef0,#df0,#af0,#5f0,#0f3,#0fa,#0ef,#08f,#10e,#04f,#0fc,#0f3,#3f0,#5f0,#7f0)"></i><i style="left:579px;width:2px;background:linear-gradient(#0f8,#ef0,#ef0,#ef0,#ef0,#ef0,#df0,#af0,#6f0,#0f1,#0f8,#0fe,#0af,#02f,#00f,#0ef,#0f6,#2f0,#5f0,#7f0)"></i><i style="left:581px;width:2px;background:linear-gradient(#0f8,#ef0,#ef0,#ef0,#ef0,#ef0,#df0,#af0,#6f0,#0f0,#0f7,#0fd,#0bf,#03f,#10e,#0cf,#0f7,#1f0,#4f0,#7f0)"></i><i style="left:583px;width:2px;background:linear-gradient(#0f8,#ef0,#ef0,#ef0,#ef0,#ef0,#df0,#af0,#7f0,#2f0,#0f5,#0fc,#0cf,#06f,#30c,#08f,#0f9,#0f1,#4f0,#6f0)"></i><i style="left:585px;width:2px;background:linear-gradient(#0f8,#ef0,#ef0,#ef0,#ef0,#ef0,#df0,#af0,#7f0,#2f0,#0f5,#0fc,#0cf,#06f,#30c,#08f,#0f9,#0f1,#4f0,#6f0)"></i><i style="left:587px;width:2px;background:linear-gradient(#0f8,#ef0,#ef0,#ef0,#ef0,#ef0,#df0,#af0,#7f0,#1f0,#0f7,#0fd,#0bf,#04f,#10e,#0bf,#0f7,#1f0,#4f0,#7f0)"></i><i style="left:589px;width:2px;background:linear-gradient(#0f8,#ef0,#ef0,#ef0,#ef0,#ef0,#df0,#af0,#5f0,#0f3,#0fa,#0ef,#08f,#10e,#04f,#0fc,#0f3,#3f0,#6f0,#7f0)"></i><i style="left:591px;width:2px;background:linear-gradient(#0f8,#ef0,#ef0,#ef0,#ef0,#ef0,#df0,#af0,#6f0,#0f0,#0f7,#0fe,#0af,#03f,#00f,#0cf,#0f6,#2f0,#5f0,#7f0)"></i><i style="left:593px;width:2px;background:linear-gradient(#0f8,#ef0,#ef0,#ef0,#ef0,#ef0,#df0,#af0,#6f0,#0f0,#0f8,#0fe,#0af,#02f,#00f,#0df,#0f6,#2f0,#5f0,#7f0)"></i><i style="left:595px;width:2px;background:linear-gradient(#0f8,#ef0,#ef0,#ef0,#ef0,#ef0,#df0,#af0,#6f0,#0f1,#0f8,#0ff,#09f,#01f,#01f,#0ff,#0f5,#2f0,#5f0,#7f0)"></i><i style="left:597px;width:2px;background:linear-gradient(#0f8,#ef0,#ef0,#ef0,#ef0,#ef0,#df0,#af0,#8f0,#3f0,#0f4,#0fb,#0df,#07f,#20d,#06f,#0fa,#0f2,#3f0,#6f0)"></i><i style="left:599px;width:2px;background:linear-gradient(#0f8,#ef0,#ef0,#ef0,#ef0,#ef0,#df0,#af0,#7f0,#2f0,#0f5,#0fc,#0cf,#06f,#20d,#09f,#0f8,#0f0,#4f0,#6f0)"></i><i style="left:601px;width:2px;background:linear-gradient(#0f8,#ef0,#ef0,#ef0,#ef0,#ef0,#df0,#af0,#7f0,#1f0,#0f6,#0fd,#0cf,#05f,#20d,#0af,#0f8,#1f0,#4f0,#7f0)"></i><i style="left:603px;width:2px;background:linear-gradient(#0f8,#ef0,#ef0,#ef0,#ef0,#ef0,#df0,#af0,#5f0,#0f1,#0f9,#0ff,#09f,#01f,#02f,#0ff,#0f5,#2f0,#5f0,#7f0)"></i><i style="left:605px;width:2px;background:linear-gradient(#0f8,#ef0,#ef0,#ef0,#ef0,#ef0,#df0,#af0,#7f0,#1f0,#0f6,#0fc,#0cf,#05f,#20d,#0af,#0f8,#0f0,#4f0,#7f0)"></i><i style="left:607px;width:2px;background:linear-gradient(#0f8,#ef0,#ef0,#ef0,#ef0,#ef0,#df0,#af0,#6f0,#0f1,#0f8,#0fe,#0af,#01f,#01f,#0ef,#0f5,#2f0,#5f0,#7f0)"></i><i style="left:609px;width:2px;background:linear-gradient(#0f8,#ef0,#ef0,#ef0,#ef0,#ef0,#df0,#af0,#7f0,#1f0,#0f6,#0fc,#0cf,#05f,#20d,#0af,#0f8,#0f0,#4f0,#7f0)"></i><i style="left:611px;width:2px;background:linear-gradient(#0f8,#ef0,#ef0,#ef0,#ef0,#ef0,#df0,#af0,#6f0,#0f0,#0f7,#0fe,#0bf,#03f,#00f,#0cf,#0f6,#2f0,#4f0,#7f0)"></i><i style="left:613px;width:2px;background:linear-gradient(#0f8,#ef0,#ef0,#ef0,#ef0,#ef0,#df0,#af0,#7f0,#1f0,#0f7,#0fd,#0bf,#04f,#10e,#0bf,#0f7,#1f0,#4f0,#7f0)"></i><i style="left:615px;width:2px;background:linear-gradient(#0f8,#ef0,#ef0,#ef0,#ef0,#ef0,#df0,#af0,#7f0,#2f0,#0f5,#0fc,#0df,#06f,#30c,#08f,#0f9,#0f1,#4f0,#6f0)"></i><i style="left:617px;width:2px;background:linear-gradient(#0f8,#ef0,#ef0,#ef0,#ef0,#ef0,#df0,#af0,#5f0,#0f2,#0f9,#0ff,#09f,#00f,#03f,#0fe,#0f4,#3f0,#5f0,#7f0)"></i><i style="left:619px;width:2px;background:linear-gradient(#0f8,#ef0,#ef0,#ef0,#ef0,#ef0,#df0,#af0,#7f0,#1f0,#0f7,#0fd,#0bf,#04f,#10e,#0bf,#0f7,#1f0,#4f0,#7f0)"></i><i style="left:621px;width:2px;background:linear-gradient(#0f8,#ef0,#ef0,#ef0,#ef0,#ef0,#df0,#af0,#5f0,#0f3,#0fa,#0ef,#08f,#10e,#04f,#0fc,#0f3,#3f0,#5f0,#7f0)"></i><i style="left:623px;width:2px;background:linear-gradient(#0f8,#ef0,#ef0,#ef0,#ef0,#ef0,#df0,#af0,#8f0,#4f0,#0f4,#0fb,#0ef,#07f,#20d,#06f,#0fa,#0f2,#3f0,#6f0)"></i><i style="left:625px;width:2px;background:linear-gradient(#0f8,#ef0,#ef0,#ef0,#ef0,#ef0,#df0,#af0,#5f0,#0f3,#0fa,#0ef,#08f,#10e,#04f,#0fc,#0f3,#3f0,#6f0,#7f0)"></i><i style="left:627px;width:2px;background:linear-gradient(#0f8,#ef0,#ef0,#ef0,#ef0,#ef0,#df0,#af0,#7f0,#2f0,#0f5,#0fc,#0cf,#06f,#30c,#09f,#0f9,#0f0,#4f0,#6f0)"></i><i style="left:629px;width:2px;background:linear-gradient(#0f8,#ef0,#ef0,#ef0,#ef0,#ef0,#df0,#af0,#5f0,#0f2,#0f9,#0ff,#08f,#00f,#03f,#0fd,#0f4,#3f0,#5f0,#7f0)"></i><i style="left:631px;width:2px;background:linear-gradient(#0f8,#ef0,#ef0,#ef0,#ef0,#ef0,#df0,#af0,#8f0,#4f0,#0f4,#0fb,#0ef,#07f,#20d,#06f,#0fa,#0f2,#3f0,#6f0)"></i></div><div class="sp" style="left:59px;top:631px;width:633px;height:59px;background:#000"><i style="left:0;width:633px;top:1px;height:5px;background:#0df"></i><i style="left:0;width:633px;top:54px;height:5px;background:#05f"></i><i style="left:6px;width:1px;top:54px;height:5px;background:#09f"></i><i style="left:17px;width:1px;top:54px;height:5px;background:#01f"></i><i style="left:25px;width:1px;top:54px;height:5px;background:#09f"></i><i style="left:35px;width:1px;top:54px;height:5px;background:#09f"></i><i style="left:47px;width:1px;top:54px;height:5px;background:#01f"></i><i style="left:59px;width:1px;top:54px;height:5px;background:#01f"></i><i style="left:69px;width:1px;top:54px;height:5px;background:#03f"></i><i style="left:80px;width:1px;top:54px;height:5px;background:#01f"></i><i style="left:86px;width:1px;top:54px;height:5px;background:#09f"></i><i style="left:96px;width:1px;top:54px;height:5px;background:#09f"></i><i style="left:107px;width:1px;top:54px;height:5px;background:#03f"></i><i style="left:116px;width:1px;top:54px;height:5px;background:#09f"></i><i style="left:121px;width:1px;top:54px;height:5px;background:#01f"></i><i style="left:134px;width:1px;top:54px;height:5px;background:#01f"></i><i style="left:145px;width:1px;top:54px;height:5px;background:#03f"></i><i style="left:159px;width:1px;top:54px;height:5px;background:#01f"></i><i style="left:172px;width:1px;top:54px;height:5px;background:#01f"></i><i style="left:177px;width:1px;top:54px;height:5px;background:#09f"></i><i style="left:180px;width:1px;top:54px;height:5px;background:#03f"></i><i style="left:183px;width:1px;top:54px;height:5px;background:#03f"></i><i style="left:193px;width:1px;top:54px;height:5px;background:#09f"></i><i style="left:207px;width:1px;top:54px;height:5px;background:#03f"></i><i style="left:221px;width:1px;top:54px;height:5px;background:#03f"></i><i style="left:230px;width:1px;top:54px;height:5px;background:#09f"></i><i style="left:242px;width:1px;top:54px;height:5px;background:#03f"></i><i style="left:247px;width:1px;top:54px;height:5px;background:#03f"></i><i style="left:251px;width:1px;top:54px;height:5px;background:#01f"></i><i style="left:256px;width:1px;top:54px;height:5px;background:#03f"></i><i style="left:262px;width:1px;top:54px;height:5px;background:#03f"></i><i style="left:275px;width:1px;top:54px;height:5px;background:#03f"></i><i style="left:288px;width:1px;top:54px;height:5px;background:#03f"></i><i style="left:297px;width:1px;top:54px;height:5px;background:#09f"></i><i style="left:306px;width:1px;top:54px;height:5px;background:#09f"></i><i style="left:314px;width:1px;top:54px;height:5px;background:#09f"></i><i style="left:326px;width:1px;top:54px;height:5px;background:#03f"></i><i style="left:338px;width:1px;top:54px;height:5px;background:#01f"></i><i style="left:346px;width:1px;top:54px;height:5px;background:#09f"></i><i style="left:349px;width:1px;top:54px;height:5px;background:#03f"></i><i style="left:361px;width:1px;top:54px;height:5px;background:#09f"></i><i style="left:375px;width:1px;top:54px;height:5px;background:#01f"></i><i style="left:389px;width:1px;top:54px;height:5px;background:#03f"></i><i style="left:400px;width:1px;top:54px;height:5px;background:#09f"></i><i style="left:412px;width:1px;top:54px;height:5px;background:#01f"></i><i style="left:426px;width:1px;top:54px;height:5px;background:#09f"></i><i style="left:432px;width:1px;top:54px;height:5px;background:#09f"></i><i style="left:444px;width:1px;top:54px;height:5px;background:#03f"></i><i style="left:451px;width:1px;top:54px;height:5px;background:#01f"></i><i style="left:455px;width:1px;top:54px;height:5px;background:#03f"></i><i style="left:468px;width:1px;top:54px;height:5px;background:#03f"></i><i style="left:472px;width:1px;top:54px;height:5px;background:#03f"></i><i style="left:476px;width:1px;top:54px;height:5px;background:#03f"></i><i style="left:481px;width:1px;top:54px;height:5px;background:#01f"></i><i style="left:488px;width:1px;top:54px;height:5px;background:#03f"></i><i style="left:497px;width:1px;top:54px;height:5px;background:#01f"></i><i style="left:500px;width:1px;top:54px;height:5px;background:#09f"></i><i style="left:512px;width:1px;top:54px;height:5px;background:#01f"></i><i style="left:521px;width:1px;top:54px;height:5px;background:#09f"></i><i style="left:533px;width:1px;top:54px;height:5px;background:#03f"></i><i style="left:544px;width:1px;top:54px;height:5px;background:#03f"></i><i style="left:555px;width:1px;top:54px;height:5px;background:#01f"></i><i style="left:558px;width:1px;top:54px;height:5px;background:#03f"></i><i style="left:561px;width:1px;top:54px;height:5px;background:#01f"></i><i style="left:565px;width:1px;top:54px;height:5px;background:#09f"></i><i style="left:576px;width:1px;top:54px;height:5px;background:#01f"></i><i style="left:582px;width:1px;top:54px;height:5px;background:#03f"></i><i style="left:589px;width:1px;top:54px;height:5px;background:#09f"></i><i style="left:596px;width:1px;top:54px;height:5px;background:#01f"></i><i style="left:610px;width:1px;top:54px;height:5px;background:#01f"></i><i style="left:618px;width:1px;top:54px;height:5px;background:#03f"></i><i style="left:626px;width:1px;top:54px;height:5px;background:#01f"></i><i style="left:635px;width:1px;top:54px;height:5px;background:#03f"></i></div><div class="sp" style="left:59px;top:690px;width:633px;height:59px;background:#000"><b style="top:1px;height:5px;background:#0f8"></b><b style="top:6px;height:12px;background:linear-gradient(90deg,#0bf 0 22px,#0ff 0 23px,#0bf 0 44px,#0ff 0 45px,#0bf 0 86px,#0ff 0 88px,#0bf 0 100px,#0ff 0 101px,#0bf 0 106px,#0ff 0 107px,#0bf 0 142px,#0ff 0 147px,#0bf 0 178px,#0ff 0 179px,#0bf 0 225px,#0ff 0 227px,#0bf 0 367px,#0f9 0 371px,#0bf 0 375px,#0f9 0 376px,#0bf 0 379px,#0f9 0 381px,#0bf 0 387px,#0f9 0 390px,#0f8 0 391px,#0bf 0 396px,#0f8 0 397px,#0bf 0 402px,#0f8 0 405px,#0f7 0 406px,#0f8 0 409px,#0bf 0 413px,#0f6 0 416px,#0bf 0 417px,#0f6 0 418px,#0bf 0 419px,#0f5 0 420px,#0bf 0 424px,#0f6 0 425px,#0bf 0 435px,#0f5 0 436px,#0f4 0 438px,#0f3 0 439px,#0bf 0 443px,#0f1 0 446px,#0bf 0 448px,#0f3 0 449px,#0bf 0 451px,#0f4 0 453px,#0f0 0 454px,#0bf 0 460px,#1f0 0 461px,#0f0 0 462px,#0f2 0 464px,#0bf 0 467px,#0f2 0 468px,#0f0 0 469px,#0bf 0 472px,#1f0 0 474px,#2f0 0 475px,#0bf 0 477px,#0f2 0 479px,#0f0 0 481px,#2f0 0 483px,#0bf 0 485px,#2f0 0 486px,#0bf 0 491px,#0f1 0 493px,#0bf 0 495px,#3f0 0 496px,#5f0 0 499px,#0bf 0 501px,#0f1 0 502px,#6f0 0 503px,#0bf 0 505px,#5f0 0 506px,#0f1 0 508px,#2f0 0 512px,#1f0 0 513px,#0bf 0 514px,#0f2 0 517px,#0bf 0 520px,#3f0 0 522px,#5f0 0 523px,#0bf 0 527px,#0f1 0 528px,#1f0 0 532px,#4f0 0 533px,#2f0 0 535px,#0bf 0 536px,#5f0 0 537px,#1f0 0 541px,#2f0 0 542px,#0f0 0 543px,#4f0 0 544px,#0bf 0 546px,#0f1 0 547px,#0f2 0 549px,#0bf 0 550px,#1f0 0 551px,#0bf 0 554px,#0f0 0 555px,#0f3 0 558px,#0bf 0 561px,#1f0 0 562px,#0f2 0 563px,#0f1 0 564px,#0f0 0 565px,#1f0 0 568px,#0bf 0 569px,#0f2 0 571px,#0bf 0 576px,#4f0 0 579px,#1f0 0 582px,#4f0 0 583px,#0bf 0 586px,#2f0 0 587px,#0f2 0 588px,#0f0 0 589px,#0f1 0 592px,#0bf 0 593px,#0f2 0 596px,#2f0 0 597px,#0bf 0 599px,#0f1 0 601px,#0f2 0 605px,#0f1 0 606px,#5f0 0 607px,#0f0 0 608px,#0f2 0 609px,#5f0 0 613px,#0bf 0 615px,#1f0 0 617px,#0f0 0 618px,#0bf 0 619px,#0f1 0 620px,#0f5 0 621px,#0f6 0 622px,#0f3 0 623px,#0bf 0 630px,#0f8 0 631px,#0bf 0 633px)"></b><b style="top:18px;height:12px;background:linear-gradient(90deg,#07f 0 7px,#0cf 0 8px,#07f 0 22px,#0af 0 23px,#07f 0 40px,#0af 0 41px,#0df 0 42px,#07f 0 51px,#0df 0 53px,#07f 0 57px,#0bf 0 58px,#07f 0 81px,#0df 0 82px,#07f 0 93px,#0df 0 95px,#07f 0 103px,#0cf 0 104px,#0df 0 105px,#07f 0 120px,#0bf 0 121px,#0df 0 122px,#07f 0 127px,#0df 0 128px,#0bf 0 129px,#07f 0 136px,#0bf 0 137px,#07f 0 173px,#0df 0 175px,#07f 0 198px,#0df 0 201px,#07f 0 223px,#0bf 0 224px,#07f 0 228px,#0af 0 229px,#07f 0 239px,#0af 0 240px,#07f 0 243px,#0cf 0 245px,#07f 0 248px,#0bf 0 249px,#07f 0 261px,#0fe 0 263px,#07f 0 264px,#0fd 0 266px,#07f 0 268px,#0fd 0 269px,#07f 0 274px,#0fb 0 275px,#0f9 0 276px,#07f 0 279px,#0fa 0 281px,#0f8 0 283px,#0fa 0 284px,#0f8 0 285px,#07f 0 286px,#0f9 0 287px,#07f 0 294px,#0f9 0 296px,#07f 0 297px,#0f8 0 299px,#0f4 0 300px,#0f9 0 301px,#07f 0 302px,#0f4 0 304px,#07f 0 305px,#0f5 0 307px,#07f 0 308px,#0f8 0 313px,#0f2 0 314px,#07f 0 315px,#0f6 0 316px,#0f7 0 317px,#07f 0 323px,#0f0 0 324px,#07f 0 328px,#1f0 0 329px,#4f0 0 331px,#0f3 0 332px,#0f0 0 335px,#3f0 0 337px,#0f0 0 339px,#07f 0 341px,#0f0 0 342px,#0f5 0 344px,#2f0 0 345px,#07f 0 350px,#0f5 0 352px,#0f3 0 353px,#1f0 0 355px,#5f0 0 356px,#07f 0 358px,#4f0 0 363px,#07f 0 365px,#0f1 0 367px,#4f0 0 371px,#0f3 0 373px,#9f0 0 375px,#07f 0 376px,#3f0 0 378px,#0f0 0 379px,#07f 0 381px,#9f0 0 382px,#07f 0 386px,#af0 0 387px,#8f0 0 390px,#0f0 0 391px,#4f0 0 392px,#0f0 0 393px,#07f 0 394px,#4f0 0 395px,#2f0 0 396px,#3f0 0 397px,#2f0 0 400px,#9f0 0 402px,#cf0 0 403px,#4f0 0 405px,#07f 0 410px,#df0 0 411px,#7f0 0 413px,#0f1 0 414px,#0f0 0 415px,#07f 0 416px,#6f0 0 417px,#07f 0 418px,#ef0 0 419px,#07f 0 420px,#0f0 0 421px,#df0 0 423px,#07f 0 424px,#9f0 0 425px,#cf0 0 428px,#1f0 0 431px,#9f0 0 432px,#07f 0 435px,#9f0 0 436px,#bf0 0 438px,#9f0 0 439px,#07f 0 442px,#1f0 0 443px,#af0 0 446px,#07f 0 448px,#9f0 0 449px,#df0 0 451px,#8f0 0 453px,#07f 0 460px,#1f0 0 461px,#07f 0 464px,#1f0 0 467px,#0f1 0 469px,#3f0 0 472px,#0f2 0 474px,#07f 0 475px,#2f0 0 476px,#0f3 0 477px,#7f0 0 479px,#3f0 0 481px,#2f0 0 483px,#4f0 0 486px,#07f 0 487px,#0f1 0 489px,#0f0 0 491px,#07f 0 493px,#0f9 0 495px,#0fa 0 496px,#0f9 0 499px,#07f 0 502px,#0f8 0 503px,#07f 0 506px,#0fa 0 508px,#07f 0 512px,#0fb 0 513px,#07f 0 514px,#0fb 0 516px,#0fa 0 517px,#0f8 0 519px,#07f 0 520px,#0f9 0 522px,#07f 0 523px,#0fa 0 525px,#07f 0 527px,#0f8 0 528px,#0f9 0 532px,#07f 0 536px,#0fb 0 537px,#0f8 0 543px,#0f7 0 544px,#07f 0 545px,#0f8 0 546px,#0f6 0 547px,#07f 0 549px,#0f8 0 550px,#07f 0 554px,#0f9 0 555px,#07f 0 558px,#0f8 0 561px,#07f 0 562px,#0f8 0 563px,#07f 0 564px,#0fb 0 565px,#0f8 0 566px,#07f 0 573px,#0fa 0 576px,#07f 0 579px,#0fa 0 582px,#07f 0 592px,#0f9 0 593px,#07f 0 601px,#0fa 0 603px,#07f 0 607px,#0f9 0 609px,#07f 0 613px,#0fc 0 615px,#0fa 0 617px,#07f 0 618px,#0f9 0 619px,#07f 0 620px,#0fc 0 621px,#07f 0 625px,#0fa 0 626px,#07f 0 627px,#0fb 0 629px,#0fc 0 630px,#07f 0 633px)"></b><b style="top:30px;height:12px;background:linear-gradient(90deg,#0fd 0 1px,#0fc 0 6px,#0f7 0 7px,#0fc 0 8px,#0fd 0 9px,#0fc 0 10px,#0f8 0 11px,#0fd 0 12px,#0f3 0 13px,#0fc 0 18px,#0fb 0 19px,#0fc 0 20px,#0fb 0 23px,#0f6 0 27px,#0fc 0 29px,#0f7 0 30px,#0fd 0 31px,#0fb 0 32px,#0fd 0 33px,#0fc 0 37px,#0f7 0 38px,#0fc 0 41px,#0f6 0 42px,#0fc 0 51px,#0f6 0 53px,#0f7 0 55px,#0f9 0 57px,#0fc 0 65px,#0f1 0 66px,#0fc 0 71px,#0f0 0 72px,#0fb 0 74px,#0f0 0 75px,#0f3 0 78px,#0fb 0 80px,#0fc 0 81px,#0fb 0 82px,#0f1 0 83px,#0f0 0 84px,#0fb 0 86px,#0f6 0 88px,#0fc 0 90px,#0f7 0 92px,#0fa 0 93px,#0fc 0 97px,#0f6 0 98px,#0fc 0 100px,#0f1 0 101px,#0f2 0 102px,#0fb 0 105px,#0f1 0 107px,#0fc 0 114px,#0f7 0 117px,#0f6 0 120px,#0fc 0 121px,#0f9 0 122px,#0f4 0 123px,#0f5 0 127px,#0fc 0 129px,#0f5 0 133px,#0fc 0 134px,#0f8 0 136px,#0fc 0 149px,#0f4 0 150px,#0fc 0 153px,#0fa 0 154px,#0f5 0 155px,#0f7 0 156px,#0fc 0 162px,#0f4 0 164px,#0f8 0 165px,#0fc 0 170px,#0f8 0 172px,#0fc 0 173px,#0f4 0 176px,#0f6 0 178px,#0fc 0 179px,#0fb 0 182px,#0f7 0 185px,#0fb 0 187px,#0fc 0 188px,#0f3 0 189px,#0fc 0 190px,#0f8 0 191px,#0fc 0 195px,#0f4 0 196px,#0fc 0 201px,#0fb 0 205px,#0f1 0 206px,#0f7 0 208px,#0fc 0 210px,#0f9 0 211px,#0fc 0 219px,#0fd 0 221px,#0fc 0 222px,#0f6 0 223px,#0f5 0 224px,#0fc 0 232px,#0f4 0 233px,#0fc 0 235px,#0f7 0 236px,#0fc 0 238px,#0f3 0 239px,#0fc 0 240px,#0f7 0 242px,#0fc 0 244px,#0f5 0 245px,#0fc 0 247px,#0f3 0 249px,#0f5 0 250px,#0f4 0 252px,#0fc 0 253px,#0f3 0 254px,#0fb 0 257px,#0fd 0 259px,#0fb 0 261px,#0fe 0 263px,#0fd 0 264px,#0fb 0 266px,#0fc 0 267px,#0fe 0 268px,#0fc 0 269px,#0fe 0 270px,#0fd 0 271px,#0fe 0 273px,#0fc 0 274px,#0fb 0 275px,#0fc 0 276px,#0fe 0 277px,#0fd 0 278px,#0fc 0 281px,#0fd 0 282px,#0fc 0 283px,#0fd 0 285px,#0fb 0 290px,#0fd 0 291px,#0fb 0 292px,#0fc 0 293px,#0fd 0 296px,#0fc 0 297px,#0fb 0 299px,#0fd 0 302px,#0fc 0 305px,#0fd 0 308px,#0fc 0 314px,#0fd 0 315px,#0fc 0 317px,#0fd 0 318px,#0fb 0 320px,#0fc 0 321px,#0fd 0 323px,#0fb 0 324px,#0fc 0 325px,#0fd 0 326px,#0fe 0 327px,#0fc 0 328px,#0fd 0 329px,#0fc 0 332px,#0fb 0 335px,#0fd 0 337px,#0fc 0 339px,#0fd 0 341px,#0fb 0 342px,#0fc 0 348px,#0fd 0 350px,#0fb 0 352px,#0fe 0 353px,#0fd 0 355px,#0fb 0 356px,#0fd 0 358px,#0fc 0 363px,#0fd 0 364px,#0fe 0 365px,#0fb 0 367px,#0fd 0 373px,#0fc 0 376px,#0fb 0 379px,#0fc 0 382px,#0fd 0 387px,#0fc 0 390px,#0fe 0 391px,#0fd 0 397px,#0fc 0 400px,#0fd 0 402px,#0fe 0 403px,#0fc 0 405px,#0fd 0 406px,#0fb 0 409px,#0fe 0 410px,#0fc 0 411px,#0fe 0 413px,#0fb 0 414px,#0fd 0 415px,#0fe 0 417px,#0fc 0 418px,#0fd 0 419px,#0fb 0 420px,#0fd 0 421px,#0fc 0 423px,#0fd 0 424px,#0fb 0 425px,#0fc 0 431px,#0fd 0 438px,#0fc 0 439px,#0fd 0 442px,#0fc 0 448px,#0fe 0 449px,#0fc 0 451px,#0fd 0 453px,#0fe 0 454px,#0fc 0 456px,#0fe 0 460px,#0fc 0 464px,#0fe 0 467px,#0fb 0 469px,#0fc 0 472px,#0fd 0 475px,#0fe 0 476px,#0fd 0 477px,#0fb 0 485px,#0fd 0 489px,#0fc 0 492px,#0fd 0 495px,#0fb 0 499px,#0fc 0 505px,#0fb 0 508px,#0fc 0 512px,#0fd 0 513px,#0fb 0 514px,#0fd 0 516px,#0fe 0 517px,#0fc 0 520px,#0fb 0 522px,#0fc 0 525px,#0fe 0 527px,#0fc 0 528px,#0fd 0 532px,#0fc 0 533px,#0fd 0 535px,#0fe 0 536px,#0fd 0 537px,#0fe 0 541px,#0fd 0 543px,#0fe 0 545px,#0fc 0 546px,#0fd 0 547px,#0fc 0 549px,#0fb 0 550px,#0fd 0 554px,#0fe 0 555px,#0fc 0 558px,#0fd 0 561px,#0fe 0 562px,#0fd 0 563px,#0fc 0 565px,#0fb 0 566px,#0fe 0 568px,#0fb 0 569px,#0fc 0 571px,#0fb 0 576px,#0fe 0 578px,#0fd 0 579px,#0fc 0 582px,#0fe 0 584px,#0fc 0 586px,#0fb 0 587px,#0fc 0 588px,#0fe 0 594px,#0fc 0 595px,#0fb 0 596px,#0fd 0 598px,#0fc 0 600px,#0fe 0 601px,#0fc 0 603px,#0fd 0 607px,#0fc 0 608px,#0fe 0 609px,#0fb 0 612px,#0fc 0 613px,#0fd 0 617px,#0fb 0 619px,#0fe 0 620px,#0fc 0 621px,#0fd 0 623px,#0fb 0 624px,#0fc 0 625px,#0fb 0 626px,#0fc 0 627px,#0fd 0 631px,#0fe 0 633px)"></b><b style="top:42px;height:12.5px;background:linear-gradient(90deg,#0f7 0 1px,#2f0 0 6px,#4f0 0 8px,#0f1 0 9px,#4f0 0 10px,#1f0 0 11px,#0f5 0 12px,#bf0 0 13px,#7f0 0 14px,#4f0 0 18px,#bf0 0 19px,#6f0 0 20px,#ef0 0 22px,#df0 0 23px,#4f0 0 27px,#3f0 0 30px,#0f2 0 31px,#0f4 0 32px,#0f6 0 33px,#4f0 0 36px,#5f0 0 37px,#4f0 0 38px,#2f0 0 40px,#5f0 0 42px,#3f0 0 43px,#2f0 0 45px,#3f0 0 51px,#4f0 0 55px,#1f0 0 57px,#5f0 0 58px,#6f0 0 60px,#9f0 0 61px,#2f0 0 65px,#ef0 0 66px,#8f0 0 71px,#ef0 0 75px,#af0 0 78px,#ff0 0 80px,#5f0 0 81px,#ef0 0 82px,#df0 0 83px,#ef0 0 84px,#cf0 0 86px,#4f0 0 88px,#9f0 0 89px,#5f0 0 90px,#3f0 0 92px,#0f1 0 93px,#0f6 0 95px,#4f0 0 97px,#5f0 0 98px,#9f0 0 100px,#ef0 0 101px,#cf0 0 102px,#ef0 0 104px,#cf0 0 105px,#ef0 0 106px,#df0 0 107px,#6f0 0 109px,#5f0 0 113px,#6f0 0 114px,#4f0 0 117px,#6f0 0 120px,#8f0 0 121px,#0f0 0 122px,#8f0 0 123px,#6f0 0 126px,#7f0 0 127px,#8f0 0 128px,#6f0 0 133px,#4f0 0 134px,#1f0 0 136px,#9f0 0 137px,#2f0 0 140px,#7f0 0 141px,#9f0 0 142px,#8f0 0 147px,#5f0 0 148px,#9f0 0 149px,#8f0 0 150px,#9f0 0 152px,#6f0 0 153px,#0f2 0 154px,#6f0 0 155px,#4f0 0 156px,#3f0 0 157px,#7f0 0 161px,#0f1 0 162px,#9f0 0 164px,#2f0 0 165px,#af0 0 166px,#2f0 0 168px,#4f0 0 169px,#af0 0 170px,#2f0 0 172px,#3f0 0 173px,#9f0 0 175px,#8f0 0 176px,#4f0 0 179px,#ff0 0 181px,#ef0 0 182px,#4f0 0 185px,#cf0 0 186px,#af0 0 187px,#9f0 0 189px,#8f0 0 190px,#2f0 0 191px,#5f0 0 195px,#9f0 0 196px,#8f0 0 198px,#6f0 0 201px,#cf0 0 205px,#ef0 0 206px,#3f0 0 208px,#6f0 0 210px,#0f0 0 211px,#8f0 0 213px,#9f0 0 217px,#8f0 0 219px,#0f2 0 221px,#7f0 0 222px,#5f0 0 223px,#7f0 0 224px,#8f0 0 225px,#9f0 0 227px,#8f0 0 230px,#2f0 0 231px,#8f0 0 232px,#9f0 0 235px,#2f0 0 236px,#8f0 0 238px,#9f0 0 239px,#8f0 0 240px,#3f0 0 242px,#af0 0 243px,#8f0 0 244px,#7f0 0 246px,#0f0 0 247px,#af0 0 249px,#6f0 0 250px,#9f0 0 252px,#8f0 0 253px,#9f0 0 254px,#af0 0 257px,#0fa 0 258px,#0f9 0 259px,#0f7 0 260px,#0fa 0 261px,#0f9 0 262px,#0fa 0 263px,#0f9 0 264px,#0fa 0 266px,#0f7 0 267px,#0fb 0 268px,#0f7 0 269px,#0f9 0 270px,#0fa 0 274px,#0f9 0 275px,#0f8 0 276px,#0f9 0 278px,#0f8 0 279px,#0fa 0 282px,#0f8 0 283px,#0f9 0 284px,#0fa 0 285px,#0fb 0 287px,#0fa 0 290px,#0f9 0 291px,#0fb 0 292px,#0fa 0 293px,#0f8 0 294px,#0f9 0 296px,#0fa 0 297px,#0f7 0 299px,#0fa 0 300px,#0f8 0 302px,#0f7 0 304px,#0f8 0 305px,#0fa 0 307px,#0fb 0 308px,#0f8 0 309px,#0fb 0 313px,#0f9 0 314px,#0f7 0 315px,#0fa 0 317px,#0f8 0 318px,#0f9 0 320px,#0fa 0 321px,#0fb 0 322px,#0f9 0 323px,#0f8 0 324px,#0f7 0 325px,#0f9 0 327px,#0f7 0 328px,#0f8 0 332px,#0fb 0 335px,#0fa 0 337px,#0f8 0 339px,#0f9 0 340px,#0f8 0 341px,#0fa 0 342px,#0f8 0 344px,#0f9 0 345px,#0f7 0 347px,#0f9 0 348px,#0f8 0 350px,#0fa 0 352px,#0f8 0 353px,#0f9 0 355px,#0fa 0 356px,#0f8 0 357px,#0f9 0 363px,#0f8 0 364px,#0fa 0 367px,#0fb 0 371px,#0f9 0 373px,#0fa 0 375px,#0f9 0 378px,#0f8 0 379px,#0f9 0 386px,#0f7 0 387px,#0fa 0 390px,#0f8 0 391px,#0fa 0 393px,#0f7 0 394px,#0f9 0 395px,#0f8 0 397px,#0fa 0 400px,#0f8 0 405px,#0f9 0 406px,#0f8 0 409px,#0f9 0 411px,#0f8 0 413px,#0f9 0 415px,#0f8 0 417px,#0f9 0 418px,#0f8 0 419px,#0f9 0 420px,#0f8 0 421px,#0fb 0 423px,#0f7 0 424px,#0fa 0 428px,#0f8 0 431px,#0f9 0 432px,#0f8 0 434px,#0fa 0 436px,#0f8 0 439px,#0fb 0 442px,#0fa 0 443px,#0fb 0 446px,#0f9 0 448px,#0fa 0 451px,#0f8 0 453px,#0fa 0 454px,#0f7 0 460px,#0fa 0 461px,#0f8 0 464px,#0fa 0 467px,#0f7 0 468px,#0fa 0 469px,#0f9 0 472px,#0f8 0 474px,#0fb 0 475px,#0fa 0 476px,#0fb 0 477px,#0f9 0 485px,#0f8 0 486px,#0fa 0 487px,#0fb 0 489px,#0f7 0 492px,#0fa 0 493px,#0f7 0 495px,#0f9 0 496px,#0fb 0 499px,#0f8 0 500px,#0fa 0 501px,#0fb 0 502px,#0f8 0 505px,#0fb 0 506px,#0f9 0 508px,#0f7 0 513px,#0f9 0 516px,#0fa 0 519px,#0f9 0 522px,#0f8 0 525px,#0f9 0 527px,#0f8 0 528px,#0f9 0 533px,#0fa 0 535px,#0f9 0 536px,#0f8 0 537px,#0f9 0 542px,#0f8 0 543px,#0f9 0 544px,#0fa 0 545px,#0fb 0 546px,#0f9 0 547px,#0fa 0 549px,#0f7 0 550px,#0fa 0 554px,#0f8 0 558px,#0f9 0 561px,#0fa 0 562px,#0f8 0 563px,#0f7 0 564px,#0fa 0 565px,#0f7 0 566px,#0f9 0 569px,#0fb 0 571px,#0f9 0 584px,#0f8 0 586px,#0fa 0 587px,#0f9 0 588px,#0f8 0 589px,#0fa 0 592px,#0fb 0 593px,#0fa 0 594px,#0f9 0 595px,#0f7 0 596px,#0fa 0 598px,#0f8 0 599px,#0fa 0 601px,#0f8 0 605px,#0f7 0 606px,#0f8 0 607px,#0f9 0 608px,#0f8 0 609px,#0fa 0 612px,#0f9 0 613px,#0fa 0 615px,#0f9 0 618px,#0f8 0 619px,#0f7 0 620px,#0fb 0 624px,#0f9 0 626px,#0f8 0 627px,#0fb 0 630px,#0f9 0 631px,#0fa 0 633px)"></b><b style="top:54.5px;height:4.5px;background:linear-gradient(90deg,#5f0 0 1px,#ff0 0 6px,#fd0 0 8px,#cf0 0 9px,#fc0 0 10px,#ef0 0 11px,#7f0 0 12px,#f70 0 13px,#fa0 0 14px,#fd0 0 18px,#f60 0 19px,#fb0 0 20px,#f40 0 22px,#f50 0 23px,#fd0 0 29px,#fe0 0 30px,#bf0 0 31px,#9f0 0 32px,#6f0 0 33px,#fd0 0 36px,#fc0 0 37px,#fd0 0 38px,#fe0 0 40px,#fc0 0 42px,#fd0 0 43px,#ff0 0 44px,#fe0 0 51px,#fd0 0 55px,#ef0 0 57px,#fc0 0 58px,#fb0 0 60px,#f80 0 61px,#ff0 0 65px,#f40 0 66px,#f90 0 71px,#f40 0 72px,#f50 0 74px,#f40 0 75px,#f70 0 78px,#f40 0 80px,#fc0 0 81px,#f40 0 82px,#f50 0 83px,#f40 0 84px,#f50 0 86px,#fd0 0 88px,#f80 0 89px,#fc0 0 90px,#fd0 0 92px,#cf0 0 93px,#7f0 0 95px,#fd0 0 97px,#fc0 0 98px,#f80 0 100px,#f50 0 102px,#f40 0 104px,#f60 0 105px,#f40 0 106px,#f50 0 107px,#fb0 0 109px,#fc0 0 113px,#fb0 0 114px,#fd0 0 117px,#fb0 0 120px,#f90 0 121px,#df0 0 122px,#f90 0 123px,#fb0 0 126px,#fa0 0 127px,#f90 0 128px,#fb0 0 133px,#fc0 0 134px,#ff0 0 136px,#f80 0 137px,#ff0 0 140px,#fa0 0 141px,#f80 0 142px,#f90 0 147px,#fc0 0 148px,#f80 0 149px,#fa0 0 150px,#f80 0 152px,#fb0 0 153px,#bf0 0 154px,#fb0 0 155px,#fd0 0 156px,#fe0 0 157px,#fa0 0 161px,#cf0 0 162px,#f80 0 164px,#ff0 0 165px,#f80 0 166px,#fe0 0 168px,#fd0 0 169px,#f80 0 170px,#ff0 0 172px,#fe0 0 173px,#f90 0 176px,#fc0 0 178px,#fd0 0 179px,#f30 0 181px,#f50 0 182px,#fd0 0 185px,#f60 0 186px,#f70 0 187px,#f90 0 188px,#f80 0 189px,#f90 0 190px,#fe0 0 191px,#fc0 0 195px,#f90 0 198px,#fb0 0 201px,#f60 0 205px,#f40 0 206px,#fe0 0 208px,#fb0 0 210px,#ef0 0 211px,#fa0 0 212px,#f90 0 219px,#bf0 0 221px,#fa0 0 222px,#fc0 0 223px,#fa0 0 224px,#f90 0 225px,#f80 0 227px,#f90 0 228px,#fa0 0 230px,#fe0 0 231px,#f90 0 232px,#f80 0 235px,#fe0 0 236px,#f90 0 238px,#f80 0 239px,#f90 0 240px,#fe0 0 242px,#f80 0 243px,#fa0 0 246px,#df0 0 247px,#f70 0 249px,#fb0 0 250px,#f80 0 252px,#f90 0 253px,#f80 0 254px,#f70 0 257px,#0f1 0 258px,#0f0 0 259px,#2f0 0 260px,#0f9 0 261px,#0f5 0 263px,#0f1 0 264px,#0f2 0 266px,#0f7 0 267px,#0f8 0 268px,#1f0 0 269px,#0f6 0 270px,#0fa 0 271px,#6f0 0 273px,#0f0 0 274px,#5f0 0 275px,#3f0 0 276px,#5f0 0 277px,#0f2 0 278px,#0f1 0 279px,#6f0 0 281px,#2f0 0 282px,#0fa 0 283px,#0f8 0 284px,#2f0 0 285px,#0f4 0 286px,#0f3 0 287px,#0f5 0 290px,#6f0 0 291px,#0f8 0 292px,#0f0 0 293px,#3f0 0 294px,#2f0 0 296px,#1f0 0 297px,#0f4 0 300px,#0f0 0 301px,#0f5 0 302px,#0f4 0 304px,#0f0 0 305px,#0f1 0 307px,#0f5 0 308px,#0f8 0 309px,#1f0 0 313px,#0f1 0 314px,#1f0 0 315px,#0f1 0 316px,#0f2 0 317px,#0f0 0 318px,#0f9 0 320px,#0f4 0 321px,#0f5 0 322px,#4f0 0 323px,#6f0 0 324px,#5f0 0 326px,#0f5 0 327px,#0f2 0 328px,#3f0 0 329px,#0f2 0 332px,#0fb 0 335px,#0f7 0 339px,#0f5 0 340px,#0f3 0 341px,#4f0 0 342px,#1f0 0 344px,#0f4 0 345px,#0f6 0 347px,#0f9 0 348px,#0f8 0 350px,#0f3 0 352px,#5f0 0 353px,#0f7 0 355px,#0f5 0 356px,#0f6 0 357px,#0fa 0 358px,#3f0 0 363px,#5f0 0 364px,#0f7 0 365px,#2f0 0 367px,#0f1 0 371px,#0f4 0 373px,#0f3 0 375px,#0f6 0 376px,#0f1 0 378px,#1f0 0 379px,#0fb 0 381px,#0f1 0 382px,#0f4 0 386px,#0f7 0 387px,#0fa 0 391px,#3f0 0 392px,#2f0 0 393px,#0f3 0 394px,#0f8 0 395px,#0f2 0 396px,#0f3 0 397px,#0fb 0 400px,#0f6 0 402px,#0f9 0 403px,#3f0 0 405px,#0f3 0 406px,#4f0 0 409px,#2f0 0 410px,#0f8 0 411px,#0f4 0 413px,#0f6 0 414px,#0f0 0 415px,#0f4 0 416px,#6f0 0 417px,#3f0 0 418px,#0f8 0 419px,#0fa 0 420px,#0f3 0 421px,#0f0 0 423px,#0f8 0 424px,#0f3 0 425px,#0f1 0 428px,#0f9 0 429px,#0f4 0 431px,#0f6 0 432px,#6f0 0 434px,#1f0 0 435px,#0f7 0 436px,#0fb 0 438px,#0f6 0 439px,#2f0 0 442px,#0f3 0 443px,#2f0 0 446px,#0f1 0 448px,#5f0 0 449px,#0f3 0 451px,#3f0 0 453px,#1f0 0 454px,#5f0 0 456px,#0f4 0 460px,#0f5 0 461px,#0f4 0 462px,#0f2 0 464px,#0f4 0 467px,#4f0 0 468px,#0f1 0 469px,#2f0 0 472px,#0f7 0 474px,#4f0 0 475px,#0f9 0 476px,#0f5 0 477px,#0f1 0 479px,#0f9 0 481px,#0f5 0 483px,#0f4 0 485px,#0f8 0 486px,#0f1 0 487px,#1f0 0 489px,#3f0 0 491px,#0fa 0 492px,#3f0 0 493px,#0f1 0 496px,#2f0 0 499px,#0f7 0 500px,#0f4 0 501px,#0f2 0 502px,#3f0 0 503px,#0fa 0 505px,#1f0 0 506px,#0f3 0 508px,#0f6 0 513px,#0f8 0 514px,#4f0 0 516px,#1f0 0 517px,#0f4 0 519px,#0f3 0 520px,#6f0 0 522px,#3f0 0 523px,#0f9 0 525px,#0f1 0 527px,#0f0 0 528px,#0f5 0 532px,#0f1 0 533px,#4f0 0 535px,#0f7 0 537px,#0f2 0 541px,#0f0 0 542px,#4f0 0 543px,#0f7 0 544px,#1f0 0 546px,#0f7 0 547px,#0f4 0 549px,#0f1 0 550px,#0fa 0 551px,#0f6 0 554px,#4f0 0 555px,#0f8 0 558px,#3f0 0 562px,#0f6 0 563px,#5f0 0 564px,#0f9 0 565px,#0f4 0 566px,#6f0 0 568px,#4f0 0 569px,#0f5 0 573px,#0f9 0 576px,#0fa 0 578px,#0f9 0 579px,#0f3 0 582px,#0f7 0 583px,#0fa 0 584px,#0f1 0 586px,#3f0 0 587px,#2f0 0 588px,#0f1 0 589px,#4f0 0 592px,#0f2 0 593px,#0fa 0 594px,#0f5 0 595px,#1f0 0 596px,#0f9 0 597px,#0fa 0 598px,#0f3 0 599px,#3f0 0 600px,#0f8 0 601px,#4f0 0 603px,#0f1 0 605px,#4f0 0 606px,#0f2 0 607px,#0f8 0 608px,#0f9 0 609px,#0f4 0 612px,#4f0 0 613px,#3f0 0 615px,#4f0 0 617px,#0f8 0 618px,#1f0 0 619px,#0f6 0 620px,#1f0 0 621px,#0f2 0 622px,#6f0 0 623px,#2f0 0 624px,#0f8 0 625px,#0f2 0 626px,#0f4 0 629px,#0f1 0 630px,#0f4 0 631px,#0f0 0 633px)"></b></div><svg width="750" height="800" viewBox="0 0 750 800" shape-rendering="crispEdges" fill="#000"><g fill="none"><polyline points="57.4,68.3 64.6,67.6 76.6,66.8 83.8,67.8 91.0,68.5 97.0,66.6 104.2,66.6 110.2,68.0 117.4,68.0 124.6,66.8 129.4,67.6 133.0,67.1 139.0,68.3 155.8,68.3 163.0,67.1 170.2,68.0 175.0,69.0 184.6,68.3 194.2,68.8 199.0,68.0 208.6,68.5 213.4,67.1 215.0,67.6 219.8,65.2 224.6,60.4 228.9,58.5 233.0,60.9 239.0,63.3 243.8,62.1 247.4,59.7 254.6,59.7 260.6,60.4 264.2,58.5 270.2,58.7 276.2,62.3 284.6,60.9 291.8,61.1 295.4,52.0 297.8,46.0 301.4,42.4 305.0,35.9 308.1,33.5 311.0,35.2 315.8,37.6 319.4,41.2 323.0,47.2 326.6,50.8 332.6,53.2 335.0,56.8 339.8,58.0 345.8,63.3 350.6,62.3 354.2,60.4 359.0,61.6 365.0,65.2 372.2,67.6 375.0,68.0 381.0,67.1 384.6,56.8 388.2,47.9 391.8,43.6 395.4,48.4 399.0,50.8 402.6,47.2 406.2,42.4 409.8,38.8 413.4,40.5 419.4,40.5 423.0,44.8 427.8,49.6 432.6,50.1 437.4,49.6 439.8,53.2 447.0,55.1 459.0,58.0 471.0,61.6 478.2,64.0 483.0,64.0 486.6,56.8 490.2,54.4 495.0,53.2 499.8,51.3 505.8,52.0 511.8,54.9 516.6,53.7 521.4,55.6 526.2,54.9 531.0,60.4 534.6,58.0 535.0,58.0 539.8,54.4 547.0,53.7 551.8,54.4 559.0,52.0 565.0,46.5 571.0,46.5 575.8,47.9 579.4,47.2 581.8,39.3 585.4,39.3 589.0,43.6 592.6,47.2 598.6,46.0 602.2,48.9 607.0,49.6 611.8,52.7 620.2,52.7 626.2,54.4 631.0,53.7 634.6,55.6 643.0,56.1 650.2,56.8 655.0,58.0 662.2,59.7 669.4,59.2 676.6,61.6 683.8,61.6 688.6,63.3 692.2,64.0" fill="none" stroke="#000" stroke-width="1"/><polyline points="57.4,69.2 64.6,68.3 73.0,68.3 81.4,69.5 88.6,71.2 93.4,68.8 98.2,66.6 103.0,67.6 109.0,68.8 116.2,67.8 123.4,64.0 131.8,61.1 136.6,62.3 151.0,62.8 159.4,61.8 164.2,63.3 169.0,65.2 177.4,62.3 185.8,63.7 194.2,62.1 201.4,63.3 208.6,62.3 213.4,59.9 215.0,59.2 217.9,48.4 219.8,56.8 223.4,50.8 225.8,52.7 229.4,48.4 233.0,49.6 236.6,47.7 239.0,50.3 246.2,51.3 253.4,54.4 257.0,52.7 261.8,54.4 269.0,56.8 275.0,60.9 282.2,61.6 287.0,62.8 288.9,55.6 290.6,38.8 293.0,40.0 295.4,38.3 299.0,24.4 301.4,23.2 303.3,27.3 306.2,24.9 308.6,23.7 311.0,28.0 314.6,29.2 318.2,31.6 321.8,40.0 325.4,47.2 329.0,45.5 332.6,49.6 335.0,52.7 339.8,53.2 344.6,54.9 349.4,54.9 352.3,53.7 356.6,58.0 361.4,62.3 366.2,65.6 372.2,68.0 375.0,67.1 382.2,68.0 385.8,58.0 389.4,47.2 393.0,40.0 395.4,40.7 398.3,36.4 401.4,40.0 405.0,38.8 408.6,42.4 412.2,39.3 414.6,40.7 425.4,40.5 429.0,40.0 433.8,42.4 438.6,45.5 444.6,44.1 450.6,41.9 454.2,43.1 459.0,47.2 466.2,53.2 473.4,58.0 479.4,62.1 483.0,60.9 485.9,54.4 488.3,52.0 490.2,53.2 491.4,63.3 499.8,64.4 504.6,60.9 514.2,59.9 519.0,61.6 521.4,59.2 525.0,55.6 529.8,61.6 533.4,56.8 535.0,52.7 539.8,58.0 549.4,57.3 556.6,54.4 560.2,49.6 563.8,54.4 571.0,57.3 578.2,55.1 583.0,56.8 586.6,54.4 589.0,57.3 593.8,50.8 597.9,57.5 604.6,61.6 611.8,59.2 615.4,56.8 619.0,61.6 625.0,58.0 631.0,60.4 635.8,59.2 641.8,64.0 645.4,62.3 648.3,57.5 652.6,60.4 659.8,63.3 669.4,67.1 676.6,65.2 681.4,65.9 686.2,68.3 689.8,68.3 692.9,63.3" fill="none" stroke="#00f" stroke-width="1"/><polyline points="59.0,184.6 60.0,185.4 61.0,183.9 62.0,181.4 63.0,183.8 64.0,190.2 65.0,186.7 66.0,184.2 67.0,186.4 68.0,185.9 69.0,184.0 70.0,186.2 71.0,183.4 72.0,187.2 73.0,186.8 74.0,186.9 75.0,186.1 76.0,186.6 77.0,186.2 78.0,182.2 79.0,189.3 80.0,184.6 81.0,184.8 82.0,185.3 83.0,186.5 84.0,186.8 85.0,188.7 86.0,184.3 87.0,188.7 88.0,188.3 89.0,184.7 90.0,187.0 91.0,183.3 92.0,188.7 93.0,183.1 94.0,184.0 95.0,185.7 96.0,185.9 97.0,183.8 98.0,185.1 99.0,189.1 100.0,186.8 101.0,183.5 102.0,183.7 103.0,183.7 104.0,184.1 105.0,182.2 106.0,186.4 107.0,187.5 108.0,185.2 109.0,185.6 110.0,185.6 111.0,188.9 112.0,185.9 113.0,183.7 114.0,190.0 115.0,183.6 116.0,185.4 117.0,180.7 118.0,182.4 119.0,181.4 120.0,178.9 121.0,178.0 122.0,171.9 123.0,181.2 124.0,180.0 125.0,181.0 126.0,180.7 127.0,181.5 128.0,180.4 129.0,180.3 130.0,181.7 131.0,179.5 132.0,181.0 133.0,178.9 134.0,179.3 135.0,179.4 136.0,181.5 137.0,180.8 138.0,180.1 139.0,182.0 140.0,177.3 141.0,178.4 142.0,181.7 143.0,176.4 144.0,178.6 145.0,176.0 146.0,170.5 147.0,176.0 148.0,178.1 149.0,181.3 150.0,186.2 151.0,180.0 152.0,188.1 153.0,185.5 154.0,186.6 155.0,185.8 156.0,184.2 157.0,183.0 158.0,181.6 159.0,183.3 160.0,183.8 161.0,187.6 162.0,188.8 163.0,187.1 164.0,179.6 165.0,181.7 166.0,184.3 167.0,185.5 168.0,183.5 169.0,184.5 170.0,184.9 171.0,182.8 172.0,185.1 173.0,183.4 174.0,188.5 175.0,183.8 176.0,185.3 177.0,179.0 178.0,183.5 179.0,183.9 180.0,183.2 181.0,178.6 182.0,180.0 183.0,190.1 184.0,180.7 185.0,183.0 186.0,184.3 187.0,183.5 188.0,182.0 189.0,181.7 190.0,184.0 191.0,179.4 192.0,184.2 193.0,184.6 194.0,185.7 195.0,183.5 196.0,184.7 197.0,184.6 198.0,183.1 199.0,184.7 200.0,180.0 201.0,185.3 202.0,187.4 203.0,188.0 204.0,183.2 205.0,182.6 206.0,185.5 207.0,185.7 208.0,184.8 209.0,181.3 210.0,177.0 211.0,183.3 212.0,179.4 213.0,185.4 214.0,180.1 215.0,182.6 216.0,185.4 217.0,188.6 218.0,183.6 219.0,184.9 220.0,183.1 221.0,186.3 222.0,179.3 223.0,185.2 224.0,182.0 225.0,183.7 226.0,184.4 227.0,183.5 228.0,183.5 229.0,180.5 230.0,188.7 231.0,183.5 232.0,185.2 233.0,184.3 234.0,184.5 235.0,185.7 236.0,181.7 237.0,187.5 238.0,184.8 239.0,181.7 240.0,183.0 241.0,182.7 242.0,186.0 243.0,184.3 244.0,185.2 245.0,183.2 246.0,181.2 247.0,183.6 248.0,181.8 249.0,184.7 250.0,183.6 251.0,184.3 252.0,185.2 253.0,185.8 254.0,184.8 255.0,185.8 256.0,186.3 257.0,183.0 258.0,183.9 259.0,185.9 260.0,185.2 261.0,181.6 262.0,183.2 263.0,187.7 264.0,184.6 265.0,183.4 266.0,183.0 267.0,181.9 268.0,183.0 269.0,184.7 270.0,177.5 271.0,183.9 272.0,183.1 273.0,188.2 274.0,182.6 275.0,184.0 276.0,182.5 277.0,185.9 278.0,187.8 279.0,185.9 280.0,184.2 281.0,185.3 282.0,184.3 283.0,189.5 284.0,182.5 285.0,183.4 286.0,185.2 287.0,182.8 288.0,184.6 289.0,183.8 290.0,182.8 291.0,186.6 292.0,184.6 293.0,184.2 294.0,184.0 295.0,182.4 296.0,180.8 297.0,185.0 298.0,184.1 299.0,182.9 300.0,184.8 301.0,183.0 302.0,184.4 303.0,183.4 304.0,185.0 305.0,185.1 306.0,180.2 307.0,179.3 308.0,185.9 309.0,181.2 310.0,184.8 311.0,185.9 312.0,183.4 313.0,183.9 314.0,184.5 315.0,184.1 316.0,184.6 317.0,185.4 318.0,185.7 319.0,185.2 320.0,185.6 321.0,185.4 322.0,185.7 323.0,185.5 324.0,184.8 325.0,185.5 326.0,185.4 327.0,185.3 328.0,184.8 329.0,185.4 330.0,185.7 331.0,185.6 332.0,185.7 333.0,184.8 334.0,185.2 335.0,185.7 336.0,185.6 337.0,185.3 338.0,185.8 339.0,186.0 340.0,185.5 341.0,185.8 342.0,185.7 343.0,185.6 344.0,184.9 345.0,184.9 346.0,185.2 347.0,185.6 348.0,185.6 349.0,185.4 350.0,185.6 351.0,185.5 352.0,185.5 353.0,185.5 354.0,185.4 355.0,184.6 356.0,185.5 357.0,185.4 358.0,185.2 359.0,185.4 360.0,184.7 361.0,185.3 362.0,184.8 363.0,185.5 364.0,185.4 365.0,185.5 366.0,185.1 367.0,185.2 368.0,185.4 369.0,185.5 370.0,185.0 371.0,185.5 372.0,185.7 373.0,186.0 374.0,185.4 375.0,185.8 376.0,185.4 377.0,185.8 378.0,185.3 379.0,184.8 380.0,185.1 381.0,185.1 382.0,185.8 383.0,186.2 384.0,185.9 385.0,185.9 386.0,185.6 387.0,185.9 388.0,185.7 389.0,185.2 390.0,185.7 391.0,185.9 392.0,185.8 393.0,185.9 394.0,186.0 395.0,185.5 396.0,185.7 397.0,185.4 398.0,185.7 399.0,185.6 400.0,185.5 401.0,185.5 402.0,185.7 403.0,185.5 404.0,185.7 405.0,185.8 406.0,185.9 407.0,186.3 408.0,185.5 409.0,184.4 410.0,186.6 411.0,185.2 412.0,184.8 413.0,184.9 414.0,185.2 415.0,185.1 416.0,185.9 417.0,185.4 418.0,186.0 419.0,186.0 420.0,185.3 421.0,184.7 422.0,185.8 423.0,184.6 424.0,185.7 425.0,184.6 426.0,185.7 427.0,185.9 428.0,186.4 429.0,185.8 430.0,185.3 431.0,186.2 432.0,185.8 433.0,185.7 434.0,185.6 435.0,185.7 436.0,185.4 437.0,185.8 438.0,185.8 439.0,185.6 440.0,186.2 441.0,185.6 442.0,185.5 443.0,186.2 444.0,186.2 445.0,185.9 446.0,180.4 447.0,192.4 448.0,186.2 449.0,185.8 450.0,186.5 451.0,185.9 452.0,185.5 453.0,185.7 454.0,185.8 455.0,185.4 456.0,185.7 457.0,185.8 458.0,185.8 459.0,185.4 460.0,185.6 461.0,185.7 462.0,186.0 463.0,186.4 464.0,185.7 465.0,185.7 466.0,185.8 467.0,185.9 468.0,185.7 469.0,186.2 470.0,185.7 471.0,185.8 472.0,185.6 473.0,185.7 474.0,185.3 475.0,185.9 476.0,186.4 477.0,192.4 478.0,185.5 479.0,185.8 480.0,185.4 481.0,185.5 482.0,185.9 483.0,185.8 484.0,185.4 485.0,185.9 486.0,186.3 487.0,185.7 488.0,186.0 489.0,186.0 490.0,185.8 491.0,185.5 492.0,186.0 493.0,186.2 494.0,186.0 495.0,186.0 496.0,185.9 497.0,185.6 498.0,186.1 499.0,185.8 500.0,185.9 501.0,186.0 502.0,186.2 503.0,185.9 504.0,186.0 505.0,186.2 506.0,185.7 507.0,185.9 508.0,185.8 509.0,186.1 510.0,185.7 511.0,185.9 512.0,186.3 513.0,185.8 514.0,192.6 515.0,186.0 516.0,185.8 517.0,186.5 518.0,185.9 519.0,185.8 520.0,186.0 521.0,185.5 522.0,185.7 523.0,186.0 524.0,186.2 525.0,185.9 526.0,186.1 527.0,185.5 528.0,185.9 529.0,185.8 530.0,186.0 531.0,185.9 532.0,186.0 533.0,186.0 534.0,185.6 535.0,185.9 536.0,186.0 537.0,186.1 538.0,186.4 539.0,185.8 540.0,186.1 541.0,185.8 542.0,185.7 543.0,186.1 544.0,185.6 545.0,186.5 546.0,186.4 547.0,186.1 548.0,186.1 549.0,185.8 550.0,186.1 551.0,186.1 552.0,186.0 553.0,186.0 554.0,186.1 555.0,186.2 556.0,186.1 557.0,186.6 558.0,185.8 559.0,185.8 560.0,186.5 561.0,186.1 562.0,185.7 563.0,186.3 564.0,186.1 565.0,186.0 566.0,186.0 567.0,185.9 568.0,186.0 569.0,186.0 570.0,186.1 571.0,186.7 572.0,186.4 573.0,186.2 574.0,185.9 575.0,186.1 576.0,186.1 577.0,186.2 578.0,186.1 579.0,186.2 580.0,186.6 581.0,186.1 582.0,185.7 583.0,186.4 584.0,185.9 585.0,186.2 586.0,186.0 587.0,186.2 588.0,186.2 589.0,186.1 590.0,186.1 591.0,186.1 592.0,186.2 593.0,186.0 594.0,186.0 595.0,186.0 596.0,185.8 597.0,185.9 598.0,186.3 599.0,186.2 600.0,186.4 601.0,186.4 602.0,186.1 603.0,186.3 604.0,186.3 605.0,186.0 606.0,186.3 607.0,185.7 608.0,186.0 609.0,186.2 610.0,186.1 611.0,186.1 612.0,186.2 613.0,186.1 614.0,186.7 615.0,185.9 616.0,186.4 617.0,185.7 618.0,186.2 619.0,186.5 620.0,186.1 621.0,186.3 622.0,186.1 623.0,186.0 624.0,185.9 625.0,186.2 626.0,185.9 627.0,186.3 628.0,186.2 629.0,186.7 630.0,186.1 631.0,186.3 632.0,186.0 633.0,186.2 634.0,186.4 635.0,186.5 636.0,186.0 637.0,186.2 638.0,186.2 639.0,186.2 640.0,186.5 641.0,186.5 642.0,186.1 643.0,185.9 644.0,186.3 645.0,186.3 646.0,186.2 647.0,186.1 648.0,186.3 649.0,186.1 650.0,186.2 651.0,186.2 652.0,186.2 653.0,186.3 654.0,186.2 655.0,186.3 656.0,186.3 657.0,186.2 658.0,186.5 659.0,186.3 660.0,186.4 661.0,186.2 662.0,186.6 663.0,186.4 664.0,186.2 665.0,186.3 666.0,186.4 667.0,186.1 668.0,186.5 669.0,186.4 670.0,186.3 671.0,186.4 672.0,186.1 673.0,186.4 674.0,186.4 675.0,186.6 676.0,186.9 677.0,186.3 678.0,186.0 679.0,186.4 680.0,186.4 681.0,186.3 682.0,186.3 683.0,186.2 684.0,186.4 685.0,186.2 686.0,186.2 687.0,186.3 688.0,186.0 689.0,186.3 690.0,186.1 691.0,186.5 692.0,186.6" fill="none" stroke="#00f" stroke-width="1"/><polyline points="59.0,187.5 60.0,188.9 61.0,184.8 62.0,197.0 63.0,190.5 64.0,189.6 65.0,186.4 66.0,191.3 67.0,194.6 68.0,191.0 69.0,190.9 70.0,193.3 71.0,192.3 72.0,177.7 73.0,175.6 74.0,175.5 75.0,185.3 76.0,182.4 77.0,193.7 78.0,194.3 79.0,188.3 80.0,188.5 81.0,185.2 82.0,176.5 83.0,171.7 84.0,177.4 85.0,182.8 86.0,196.0 87.0,187.7 88.0,188.3 89.0,190.3 90.0,189.1 91.0,191.7 92.0,182.1 93.0,191.0 94.0,187.1 95.0,186.6 96.0,183.6 97.0,195.7 98.0,192.4 99.0,180.3 100.0,197.4 101.0,191.3 102.0,190.8 103.0,186.8 104.0,187.1 105.0,191.3 106.0,186.1 107.0,180.8 108.0,189.8 109.0,186.2 110.0,196.3 111.0,184.9 112.0,181.1 113.0,187.5 114.0,182.1 115.0,190.4 116.0,185.3 117.0,189.8 118.0,196.8 119.0,187.2 120.0,181.5 121.0,189.7 122.0,191.3 123.0,180.3 124.0,183.6 125.0,183.0 126.0,172.8 127.0,180.3 128.0,182.4 129.0,180.1 130.0,177.9 131.0,172.9 132.0,175.5 133.0,182.2 134.0,176.1 135.0,178.4 136.0,178.2 137.0,177.3 138.0,177.6 139.0,180.9 140.0,186.5 141.0,174.6 142.0,181.2 143.0,190.2 144.0,177.2 145.0,188.8 146.0,191.7 147.0,184.0 148.0,191.1 149.0,190.0 150.0,191.9 151.0,192.4 152.0,190.6 153.0,187.7 154.0,194.1 155.0,188.4 156.0,178.1 157.0,188.2 158.0,192.3 159.0,184.1 160.0,189.7 161.0,181.6 162.0,188.5 163.0,187.6 164.0,188.9 165.0,186.8 166.0,193.3 167.0,184.7 168.0,192.4 169.0,190.1 170.0,187.4 171.0,190.5 172.0,189.4 173.0,189.8 174.0,187.5 175.0,183.8 176.0,187.3 177.0,190.3 178.0,186.2 179.0,187.9 180.0,189.3 181.0,185.8 182.0,188.8 183.0,189.4 184.0,197.1 185.0,189.1 186.0,189.9 187.0,190.3 188.0,189.6 189.0,190.4 190.0,186.1 191.0,188.8 192.0,186.4 193.0,180.9 194.0,188.5 195.0,192.1 196.0,187.3 197.0,186.0 198.0,190.4 199.0,186.5 200.0,186.6 201.0,177.7 202.0,196.4 203.0,191.7 204.0,192.9 205.0,188.1 206.0,190.4 207.0,191.8 208.0,184.8 209.0,189.7 210.0,189.9 211.0,189.8 212.0,188.5 213.0,193.6 214.0,186.0 215.0,188.3 216.0,199.0 217.0,187.4 218.0,189.1 219.0,185.3 220.0,185.9 221.0,189.1 222.0,190.2 223.0,186.2 224.0,184.7 225.0,198.6 226.0,187.0 227.0,181.7 228.0,188.7 229.0,193.8 230.0,183.4 231.0,189.8 232.0,186.7 233.0,188.6 234.0,193.6 235.0,186.1 236.0,180.7 237.0,164.8 238.0,184.5 239.0,189.3 240.0,189.7 241.0,190.6 242.0,193.0 243.0,188.9 244.0,189.0 245.0,186.0 246.0,190.7 247.0,180.2 248.0,190.3 249.0,188.7 250.0,190.3 251.0,187.3 252.0,182.3 253.0,182.3 254.0,182.9 255.0,192.6 256.0,186.7 257.0,189.0 258.0,187.3 259.0,197.7 260.0,195.5 261.0,189.5 262.0,190.9 263.0,164.8 264.0,191.8 265.0,190.1 266.0,185.3 267.0,186.6 268.0,191.9 269.0,189.4 270.0,187.0 271.0,192.6 272.0,194.2 273.0,189.1 274.0,188.0 275.0,195.3 276.0,183.6 277.0,188.0 278.0,186.4 279.0,183.5 280.0,191.5 281.0,186.2 282.0,197.4 283.0,185.0 284.0,191.3 285.0,185.2 286.0,186.1 287.0,185.8 288.0,189.6 289.0,190.5 290.0,186.5 291.0,185.2 292.0,190.2 293.0,190.8 294.0,188.1 295.0,190.5 296.0,185.9 297.0,181.7 298.0,192.2 299.0,188.3 300.0,189.6 301.0,187.9 302.0,186.6 303.0,178.9 304.0,189.2 305.0,185.4 306.0,185.1 307.0,197.2 308.0,188.2 309.0,190.0 310.0,185.6 311.0,187.2 312.0,191.0 313.0,187.8 314.0,187.3 315.0,187.5 316.0,188.0 317.0,187.1 318.0,187.4 319.0,186.9 320.0,187.2 321.0,186.9 322.0,187.8 323.0,187.5 324.0,188.2 325.0,187.7 326.0,188.2 327.0,188.1 328.0,188.1 329.0,187.8 330.0,187.1 331.0,187.3 332.0,187.6 333.0,187.7 334.0,188.0 335.0,186.9 336.0,187.4 337.0,187.5 338.0,187.6 339.0,187.7 340.0,188.0 341.0,187.8 342.0,187.3 343.0,187.6 344.0,187.9 345.0,187.4 346.0,187.7 347.0,187.5 348.0,187.6 349.0,187.6 350.0,187.1 351.0,187.9 352.0,187.5 353.0,187.6 354.0,188.0 355.0,188.3 356.0,187.5 357.0,187.7 358.0,187.5 359.0,187.8 360.0,187.1 361.0,187.4 362.0,187.6 363.0,187.5 364.0,187.7 365.0,187.9 366.0,188.0 367.0,187.6 368.0,187.6 369.0,187.8 370.0,187.5 371.0,188.0 372.0,188.2 373.0,187.8 374.0,187.3 375.0,187.8 376.0,188.3 377.0,187.7 378.0,187.4 379.0,187.8 380.0,187.5 381.0,187.7 382.0,188.4 383.0,187.6 384.0,186.9 385.0,188.1 386.0,187.2 387.0,187.2 388.0,188.0 389.0,188.1 390.0,187.7 391.0,188.3 392.0,188.2 393.0,186.9 394.0,187.6 395.0,187.3 396.0,187.8 397.0,187.7 398.0,187.5 399.0,187.5 400.0,187.4 401.0,187.6 402.0,187.7 403.0,187.4 404.0,187.4 405.0,187.6 406.0,187.7 407.0,187.5 408.0,187.9 409.0,187.4 410.0,187.4 411.0,196.0 412.0,187.8 413.0,187.4 414.0,189.3 415.0,188.4 416.0,187.5 417.0,197.2 418.0,187.4 419.0,187.3 420.0,187.4 421.0,187.6 422.0,188.7 423.0,188.0 424.0,186.8 425.0,189.0 426.0,186.4 427.0,186.1 428.0,187.4 429.0,195.5 430.0,187.4 431.0,187.9 432.0,187.4 433.0,187.7 434.0,187.1 435.0,188.3 436.0,187.8 437.0,188.2 438.0,187.8 439.0,187.1 440.0,187.8 441.0,187.9 442.0,187.8 443.0,187.6 444.0,187.6 445.0,187.2 446.0,187.5 447.0,187.9 448.0,188.0 449.0,187.9 450.0,187.9 451.0,187.6 452.0,188.2 453.0,188.0 454.0,187.8 455.0,188.0 456.0,187.9 457.0,187.7 458.0,187.4 459.0,187.8 460.0,187.6 461.0,187.9 462.0,187.7 463.0,187.9 464.0,187.6 465.0,187.3 466.0,187.8 467.0,187.8 468.0,187.5 469.0,187.8 470.0,187.8 471.0,188.4 472.0,188.1 473.0,188.2 474.0,187.8 475.0,188.0 476.0,178.0 477.0,187.7 478.0,187.7 479.0,187.7 480.0,187.4 481.0,188.0 482.0,187.5 483.0,187.8 484.0,188.1 485.0,187.7 486.0,187.2 487.0,187.9 488.0,187.7 489.0,187.8 490.0,187.7 491.0,187.1 492.0,187.8 493.0,187.3 494.0,187.8 495.0,187.9 496.0,188.1 497.0,187.7 498.0,187.6 499.0,188.0 500.0,188.0 501.0,187.7 502.0,187.7 503.0,187.7 504.0,188.1 505.0,188.2 506.0,188.0 507.0,187.8 508.0,188.1 509.0,187.4 510.0,187.6 511.0,188.1 512.0,188.0 513.0,187.7 514.0,178.0 515.0,187.2 516.0,188.0 517.0,187.9 518.0,187.9 519.0,188.1 520.0,188.4 521.0,187.9 522.0,187.9 523.0,187.8 524.0,187.7 525.0,187.7 526.0,187.7 527.0,187.8 528.0,188.1 529.0,187.8 530.0,187.8 531.0,188.0 532.0,187.9 533.0,187.7 534.0,188.1 535.0,187.8 536.0,188.5 537.0,187.8 538.0,187.7 539.0,187.8 540.0,187.9 541.0,187.5 542.0,187.9 543.0,188.0 544.0,188.0 545.0,188.0 546.0,188.0 547.0,187.7 548.0,188.0 549.0,188.3 550.0,187.9 551.0,188.2 552.0,187.9 553.0,187.9 554.0,187.7 555.0,187.7 556.0,187.7 557.0,187.9 558.0,187.7 559.0,187.8 560.0,187.8 561.0,187.8 562.0,187.8 563.0,188.1 564.0,187.9 565.0,187.8 566.0,188.1 567.0,187.5 568.0,187.9 569.0,187.8 570.0,187.9 571.0,187.8 572.0,188.1 573.0,188.1 574.0,188.2 575.0,188.0 576.0,187.7 577.0,187.8 578.0,188.0 579.0,187.6 580.0,187.9 581.0,187.9 582.0,188.1 583.0,187.3 584.0,188.1 585.0,188.1 586.0,187.7 587.0,188.1 588.0,188.1 589.0,188.2 590.0,187.9 591.0,188.1 592.0,188.2 593.0,187.4 594.0,187.8 595.0,187.6 596.0,187.9 597.0,187.7 598.0,187.8 599.0,188.0 600.0,187.7 601.0,188.0 602.0,188.1 603.0,187.9 604.0,187.9 605.0,187.9 606.0,187.9 607.0,188.0 608.0,188.2 609.0,188.0 610.0,188.1 611.0,188.0 612.0,188.0 613.0,188.0 614.0,188.1 615.0,187.9 616.0,188.0 617.0,188.6 618.0,187.9 619.0,188.0 620.0,187.9 621.0,188.3 622.0,188.2 623.0,188.1 624.0,188.3 625.0,187.7 626.0,187.7 627.0,187.9 628.0,187.9 629.0,188.2 630.0,188.0 631.0,187.8 632.0,187.9 633.0,188.0 634.0,188.0 635.0,188.0 636.0,187.8 637.0,188.1 638.0,187.8 639.0,188.0 640.0,188.2 641.0,188.1 642.0,188.1 643.0,188.0 644.0,187.6 645.0,187.8 646.0,188.0 647.0,187.9 648.0,188.3 649.0,188.4 650.0,188.1 651.0,187.9 652.0,188.1 653.0,188.0 654.0,187.7 655.0,188.2 656.0,187.6 657.0,188.0 658.0,187.7 659.0,188.1 660.0,188.0 661.0,188.0 662.0,188.0 663.0,188.2 664.0,188.2 665.0,187.9 666.0,187.7 667.0,188.1 668.0,188.1 669.0,188.1 670.0,187.7 671.0,188.4 672.0,188.0 673.0,188.0 674.0,188.1 675.0,188.1 676.0,188.1 677.0,188.0 678.0,188.1 679.0,188.1 680.0,188.1 681.0,187.9 682.0,188.2 683.0,188.0 684.0,188.1 685.0,187.9 686.0,187.9 687.0,188.2 688.0,187.7 689.0,187.9 690.0,187.9 691.0,188.0 692.0,188.1" fill="none" stroke="#0f0" stroke-width="1"/><polyline points="59.0,161.1 59.5,161.9 60.0,172.7 60.5,162.8 61.0,158.2 61.5,163.1 62.0,168.5 62.5,162.5 63.0,162.4 63.5,169.9 64.0,158.0 64.5,164.7 65.0,160.8 65.5,157.1 66.0,161.8 66.5,160.4 67.0,160.9 67.5,160.1 68.0,163.5 68.5,161.0 69.0,167.5 69.5,159.2 70.0,162.9 70.5,164.8 71.0,178.7 71.5,161.8 72.0,183.1 72.5,186.4 73.0,182.9 73.5,183.6 74.0,160.5 74.5,182.2 75.0,186.5 75.5,162.6 76.0,161.5 76.5,160.3 77.0,158.5 77.5,166.7 78.0,160.7 78.5,163.2 79.0,162.7 79.5,162.9 80.0,163.2 80.5,185.6 81.0,178.7 81.5,185.2 82.0,163.7 82.5,164.9 83.0,163.0 83.5,161.5 84.0,159.2 84.5,160.8 85.0,161.7 85.5,183.5 86.0,162.1 86.5,183.0 87.0,181.5 87.5,160.5 88.0,164.7 88.5,163.9 89.0,162.2 89.5,160.5 90.0,155.1 90.5,161.6 91.0,159.4 91.5,160.1 92.0,160.0 92.5,159.3 93.0,161.9 93.5,161.3 94.0,156.4 94.5,160.6 95.0,160.3 95.5,160.6 96.0,162.8 96.5,154.9 97.0,160.3 97.5,160.5 98.0,162.0 98.5,162.2 99.0,162.9 99.5,161.1 100.0,161.8 100.5,161.8 101.0,156.8 101.5,167.7 102.0,162.5 102.5,162.8 103.0,162.0 103.5,159.1 104.0,162.5 104.5,164.8 105.0,160.4 105.5,165.7 106.0,162.0 106.5,160.9 107.0,160.9 107.5,160.4 108.0,159.1 108.5,161.1 109.0,162.6 109.5,162.9 110.0,159.6 110.5,168.3 111.0,160.2 111.5,163.0 112.0,164.9 112.5,165.0 113.0,182.0 113.5,161.4 114.0,156.6 114.5,163.9 115.0,162.7 115.5,163.0 116.0,160.5 116.5,164.4 117.0,167.7 117.5,159.2 118.0,156.5 118.5,158.9 119.0,187.3 119.5,187.1 120.0,162.1 120.5,184.3 121.0,183.9 121.5,164.8 122.0,186.5 122.5,162.0 123.0,187.1 123.5,188.4 124.0,189.7 124.5,155.2 125.0,183.7 125.5,183.3 126.0,187.0 126.5,185.8 127.0,188.5 127.5,186.9 128.0,160.5 128.5,190.4 129.0,154.1 129.5,183.7 130.0,185.0 130.5,185.8 131.0,189.2 131.5,165.4 132.0,186.8 132.5,167.6 133.0,189.3 133.5,160.7 134.0,185.3 134.5,188.1 135.0,185.6 135.5,183.4 136.0,185.2 136.5,189.0 137.0,162.4 137.5,189.5 138.0,177.1 138.5,184.7 139.0,180.1 139.5,158.5 140.0,182.3 140.5,181.4 141.0,162.0 141.5,162.8 142.0,158.9 142.5,160.9 143.0,165.1 143.5,164.6 144.0,162.4 144.5,179.7 145.0,184.2 145.5,163.2 146.0,163.2 146.5,180.3 147.0,180.9 147.5,164.6 148.0,160.2 148.5,159.7 149.0,162.5 149.5,158.4 150.0,168.5 150.5,161.4 151.0,163.6 151.5,160.4 152.0,158.2 152.5,161.0 153.0,159.2 153.5,159.4 154.0,156.9 154.5,162.9 155.0,161.6 155.5,157.8 156.0,161.2 156.5,161.1 157.0,162.6 157.5,160.1 158.0,160.0 158.5,161.4 159.0,167.1 159.5,161.2 160.0,153.7 160.5,162.9 161.0,160.0 161.5,163.7 162.0,163.2 162.5,162.0 163.0,162.4 163.5,165.7 164.0,167.4 164.5,158.0 165.0,160.2 165.5,160.2 166.0,162.5 166.5,161.0 167.0,160.0 167.5,157.5 168.0,163.5 168.5,162.3 169.0,165.4 169.5,164.0 170.0,162.3 170.5,163.1 171.0,166.9 171.5,162.6 172.0,158.1 172.5,159.9 173.0,165.3 173.5,160.8 174.0,156.9 174.5,161.4 175.0,152.5 175.5,159.0 176.0,161.8 176.5,162.1 177.0,160.8 177.5,160.9 178.0,161.1 178.5,164.1 179.0,167.8 179.5,164.3 180.0,167.1 180.5,160.1 181.0,159.0 181.5,159.0 182.0,163.3 182.5,164.4 183.0,158.3 183.5,160.4 184.0,160.5 184.5,158.9 185.0,161.0 185.5,160.3 186.0,163.4 186.5,161.9 187.0,159.8 187.5,152.9 188.0,163.0 188.5,163.4 189.0,168.0 189.5,163.0 190.0,164.3 190.5,171.8 191.0,170.9 191.5,158.8 192.0,160.8 192.5,162.8 193.0,162.3 193.5,166.1 194.0,162.3 194.5,162.0 195.0,160.9 195.5,161.9 196.0,167.5 196.5,164.9 197.0,163.5 197.5,159.9 198.0,163.4 198.5,159.6 199.0,163.3 199.5,159.1 200.0,162.3 200.5,160.5 201.0,159.3 201.5,163.2 202.0,161.2 202.5,162.1 203.0,158.4 203.5,163.6 204.0,158.1 204.5,160.6 205.0,162.3 205.5,159.7 206.0,163.2 206.5,161.0 207.0,160.3 207.5,160.4 208.0,163.4 208.5,162.0 209.0,163.3 209.5,156.8 210.0,160.5 210.5,162.4 211.0,161.2 211.5,159.8 212.0,167.3 212.5,166.5 213.0,171.7 213.5,171.2 214.0,159.3 214.5,162.2 215.0,161.1 215.5,160.9 216.0,157.1 216.5,159.4 217.0,157.3 217.5,163.0 218.0,157.7 218.5,163.1 219.0,167.7 219.5,162.5 220.0,158.7 220.5,156.8 221.0,160.6 221.5,157.8 222.0,163.0 222.5,159.9 223.0,161.0 223.5,163.1 224.0,166.4 224.5,164.4 225.0,160.3 225.5,163.1 226.0,162.8 226.5,160.7 227.0,163.3 227.5,159.3 228.0,155.4 228.5,158.0 229.0,165.4 229.5,153.2 230.0,161.5 230.5,158.8 231.0,155.0 231.5,162.4 232.0,163.1 232.5,161.0 233.0,163.4 233.5,160.2 234.0,158.0 234.5,183.5 235.0,161.5 235.5,159.2 236.0,160.6 236.5,184.0 237.0,182.8 237.5,181.2 238.0,163.0 238.5,184.2 239.0,187.5 239.5,184.3 240.0,181.8 240.5,162.9 241.0,163.2 241.5,155.5 242.0,159.5 242.5,162.1 243.0,162.4 243.5,159.4 244.0,161.0 244.5,154.6 245.0,161.1 245.5,159.5 246.0,164.5 246.5,160.4 247.0,160.5 247.5,160.2 248.0,164.6 248.5,159.4 249.0,161.2 249.5,169.2 250.0,164.3 250.5,163.0 251.0,162.4 251.5,158.2 252.0,159.4 252.5,161.3 253.0,156.9 253.5,160.6 254.0,160.0 254.5,162.0 255.0,161.3 255.5,160.5 256.0,160.1 256.5,158.5 257.0,163.1 257.5,168.0 258.0,165.0 258.5,167.1 259.0,158.4 259.5,186.8 260.0,185.7 260.5,183.4 261.0,185.1 261.5,185.9 262.0,168.0 262.5,157.4 263.0,161.9 263.5,183.5 264.0,187.2 264.5,183.4 265.0,186.8 265.5,156.5 266.0,161.4 266.5,154.8 267.0,164.4 267.5,160.7 268.0,154.0 268.5,164.7 269.0,162.3 269.5,162.9 270.0,164.5 270.5,161.7 271.0,167.8 271.5,163.3 272.0,167.5 272.5,160.7 273.0,162.4 273.5,160.8 274.0,165.9 274.5,159.2 275.0,163.6 275.5,158.6 276.0,159.5 276.5,157.2 277.0,166.1 277.5,168.0 278.0,161.9 278.5,161.9 279.0,165.7 279.5,162.4 280.0,160.6 280.5,162.4 281.0,164.2 281.5,160.4 282.0,170.5 282.5,161.7 283.0,164.2 283.5,166.9 284.0,168.2 284.5,164.5 285.0,163.9 285.5,163.7 286.0,162.0 286.5,161.1 287.0,162.3 287.5,154.6 288.0,163.5 288.5,161.7 289.0,168.8 289.5,163.5 290.0,162.5 290.5,163.5 291.0,162.7 291.5,169.3 292.0,156.2 292.5,166.8 293.0,154.3 293.5,163.8 294.0,162.6 294.5,162.0 295.0,163.8 295.5,161.5 296.0,163.1 296.5,165.6 297.0,160.8 297.5,159.6 298.0,159.2 298.5,162.2 299.0,164.8 299.5,159.2 300.0,161.3 300.5,160.0 301.0,162.7 301.5,161.2 302.0,162.0 302.5,158.7 303.0,161.8 303.5,166.2 304.0,161.7 304.5,158.5 305.0,160.0 305.5,157.4 306.0,167.3 306.5,166.1 307.0,158.4 307.5,159.8 308.0,159.5 308.5,158.2 309.0,155.9 309.5,155.9 310.0,159.1 310.5,157.7 311.0,157.0 311.5,158.0 312.0,157.7 312.5,158.4 313.0,158.7 313.5,158.8 314.0,159.2 314.5,158.3 315.0,159.8 315.5,160.4 316.0,159.9 316.5,159.7 317.0,159.5 317.5,159.5 318.0,160.2 318.5,160.0 319.0,160.0 319.5,160.5 320.0,159.4 320.5,160.2 321.0,159.8 321.5,160.5 322.0,160.3 322.5,160.2 323.0,160.2 323.5,160.4 324.0,160.3 324.5,160.1 325.0,160.1 325.5,160.3 326.0,159.9 326.5,160.7 327.0,160.5 327.5,160.5 328.0,160.5 328.5,161.0 329.0,160.8 329.5,160.9 330.0,160.9 330.5,160.8 331.0,160.8 331.5,160.7 332.0,161.2 332.5,160.7 333.0,160.7 333.5,160.7 334.0,160.8 334.5,160.9 335.0,160.9 335.5,160.6 336.0,161.0 336.5,161.1 337.0,161.0 337.5,160.4 338.0,160.8 338.5,161.1 339.0,161.1 339.5,161.2 340.0,161.0 340.5,160.8 341.0,160.9 341.5,160.6 342.0,160.9 342.5,161.0 343.0,160.4 343.5,161.3 344.0,160.9 344.5,161.1 345.0,161.0 345.5,161.0 346.0,160.9 346.5,160.4 347.0,160.4 347.5,160.0 348.0,160.4 348.5,160.7 349.0,160.9 349.5,161.2 350.0,161.0 350.5,160.8 351.0,160.7 351.5,160.6 352.0,161.0 352.5,160.8 353.0,160.8 353.5,161.4 354.0,160.3 354.5,160.6 355.0,160.8 355.5,160.8 356.0,160.5 356.5,160.9 357.0,160.6 357.5,160.6 358.0,160.9 358.5,160.3 359.0,160.8 359.5,160.6 360.0,160.3 360.5,161.2 361.0,160.7 361.5,160.6 362.0,160.8 362.5,160.5 363.0,160.6 363.5,161.1 364.0,160.4 364.5,160.1 365.0,160.1 365.5,160.7 366.0,160.6 366.5,160.5 367.0,160.9 367.5,160.0 368.0,160.7 368.5,160.9 369.0,160.4 369.5,160.8 370.0,160.9 370.5,160.4 371.0,160.8 371.5,160.9 372.0,160.5 372.5,160.6 373.0,161.0 373.5,160.6 374.0,160.5 374.5,160.5 375.0,160.3 375.5,160.5 376.0,160.5 376.5,161.0 377.0,160.2 377.5,160.5 378.0,160.7 378.5,161.3 379.0,160.7 379.5,160.8 380.0,160.7 380.5,160.8 381.0,160.9 381.5,160.8 382.0,161.1 382.5,161.1 383.0,161.0 383.5,160.7 384.0,161.0 384.5,161.0 385.0,160.8 385.5,161.1 386.0,161.1 386.5,161.4 387.0,161.3 387.5,161.2 388.0,161.2 388.5,161.3 389.0,161.4 389.5,161.5 390.0,161.1 390.5,160.8 391.0,161.1 391.5,161.3 392.0,161.1 392.5,160.9 393.0,160.9 393.5,160.6 394.0,160.6 394.5,160.7 395.0,160.6 395.5,160.5 396.0,160.1 396.5,160.4 397.0,160.7 397.5,160.0 398.0,160.0 398.5,159.9 399.0,159.8 399.5,160.0 400.0,159.9 400.5,159.5 401.0,159.4 401.5,159.2 402.0,159.5 402.5,159.4 403.0,159.3 403.5,159.4 404.0,159.3 404.5,159.6 405.0,158.9 405.5,158.7 406.0,158.6 406.5,158.6 407.0,158.8 407.5,159.1 408.0,159.3 408.5,158.2 409.0,158.6 409.5,160.5 410.0,158.2 410.5,158.3 411.0,159.1 411.5,161.0 412.0,157.7 412.5,159.0 413.0,157.6 413.5,159.5 414.0,156.9 414.5,161.0 415.0,159.1 415.5,159.4 416.0,158.4 416.5,159.6 417.0,159.9 417.5,159.6 418.0,158.5 418.5,157.9 419.0,158.9 419.5,158.7 420.0,159.1 420.5,159.0 421.0,158.8 421.5,157.5 422.0,157.0 422.5,158.1 423.0,158.5 423.5,158.3 424.0,158.7 424.5,158.3 425.0,158.1 425.5,157.4 426.0,158.3 426.5,157.1 427.0,158.1 427.5,159.2 428.0,158.9 428.5,156.2 429.0,158.5 429.5,158.4 430.0,158.2 430.5,157.7 431.0,158.0 431.5,157.7 432.0,158.1 432.5,157.9 433.0,158.0 433.5,158.0 434.0,158.3 434.5,158.0 435.0,158.0 435.5,158.0 436.0,157.9 436.5,157.8 437.0,157.9 437.5,158.0 438.0,157.9 438.5,158.0 439.0,158.1 439.5,157.5 440.0,157.7 440.5,157.7 441.0,157.6 441.5,157.9 442.0,157.7 442.5,157.9 443.0,158.0 443.5,157.7 444.0,157.3 444.5,157.5 445.0,159.7 445.5,157.5 446.0,157.6 446.5,157.6 447.0,157.4 447.5,157.6 448.0,157.8 448.5,157.4 449.0,157.0 449.5,157.6 450.0,157.8 450.5,157.5 451.0,157.2 451.5,157.6 452.0,157.9 452.5,157.5 453.0,157.4 453.5,157.5 454.0,157.6 454.5,157.5 455.0,157.4 455.5,157.5 456.0,157.3 456.5,157.4 457.0,157.0 457.5,157.5 458.0,157.4 458.5,157.6 459.0,157.3 459.5,157.3 460.0,157.3 460.5,156.9 461.0,157.2 461.5,156.8 462.0,157.3 462.5,157.3 463.0,156.8 463.5,157.6 464.0,157.0 464.5,157.5 465.0,157.2 465.5,157.1 466.0,157.2 466.5,157.1 467.0,157.0 467.5,157.1 468.0,157.1 468.5,157.1 469.0,157.1 469.5,157.0 470.0,156.9 470.5,157.0 471.0,157.1 471.5,156.6 472.0,156.9 472.5,156.9 473.0,157.0 473.5,157.1 474.0,156.9 474.5,156.9 475.0,156.8 475.5,156.4 476.0,156.6 476.5,157.0 477.0,157.0 477.5,157.2 478.0,156.7 478.5,156.6 479.0,156.7 479.5,157.2 480.0,156.4 480.5,156.5 481.0,156.8 481.5,156.3 482.0,156.6 482.5,156.2 483.0,156.5 483.5,156.6 484.0,156.5 484.5,156.8 485.0,156.6 485.5,156.6 486.0,156.1 486.5,156.7 487.0,156.4 487.5,156.7 488.0,156.8 488.5,156.5 489.0,156.3 489.5,156.5 490.0,156.5 490.5,156.6 491.0,156.2 491.5,156.4 492.0,156.9 492.5,156.3 493.0,156.4 493.5,156.3 494.0,156.3 494.5,156.4 495.0,156.6 495.5,156.5 496.0,156.4 496.5,156.4 497.0,156.7 497.5,156.3 498.0,156.1 498.5,156.5 499.0,156.7 499.5,156.3 500.0,156.3 500.5,156.3 501.0,155.8 501.5,156.2 502.0,156.5 502.5,156.1 503.0,156.2 503.5,156.0 504.0,156.2 504.5,156.2 505.0,156.2 505.5,156.3 506.0,156.5 506.5,156.1 507.0,156.1 507.5,156.6 508.0,156.0 508.5,156.5 509.0,156.4 509.5,156.2 510.0,156.1 510.5,156.0 511.0,155.7 511.5,156.2 512.0,155.9 512.5,156.2 513.0,156.0 513.5,155.9 514.0,156.0 514.5,155.7 515.0,156.1 515.5,155.8 516.0,156.0 516.5,156.2 517.0,156.2 517.5,156.1 518.0,156.0 518.5,155.9 519.0,155.9 519.5,155.9 520.0,155.7 520.5,155.8 521.0,155.6 521.5,156.0 522.0,156.0 522.5,155.8 523.0,155.9 523.5,156.1 524.0,156.1 524.5,155.8 525.0,155.4 525.5,155.9 526.0,155.6 526.5,155.9 527.0,155.9 527.5,155.9 528.0,155.8 528.5,155.7 529.0,155.5 529.5,155.8 530.0,155.6 530.5,155.8 531.0,155.6 531.5,155.9 532.0,155.7 532.5,155.4 533.0,155.9 533.5,155.7 534.0,155.7 534.5,155.7 535.0,155.6 535.5,155.7 536.0,155.7 536.5,155.6 537.0,155.8 537.5,155.6 538.0,155.6 538.5,155.2 539.0,155.6 539.5,155.8 540.0,155.5 540.5,155.1 541.0,155.5 541.5,155.3 542.0,155.2 542.5,155.5 543.0,155.4 543.5,155.2 544.0,155.3 544.5,155.2 545.0,155.5 545.5,155.4 546.0,155.1 546.5,154.8 547.0,155.3 547.5,155.2 548.0,155.7 548.5,154.9 549.0,155.5 549.5,155.1 550.0,155.0 550.5,155.0 551.0,155.0 551.5,154.9 552.0,155.3 552.5,155.0 553.0,154.7 553.5,155.2 554.0,154.9 554.5,155.0 555.0,155.0 555.5,154.9 556.0,154.6 556.5,154.6 557.0,154.7 557.5,154.9 558.0,154.4 558.5,155.1 559.0,154.8 559.5,154.7 560.0,154.6 560.5,154.7 561.0,154.6 561.5,154.8 562.0,154.7 562.5,154.7 563.0,154.3 563.5,154.8 564.0,154.4 564.5,154.5 565.0,154.7 565.5,154.4 566.0,154.4 566.5,154.4 567.0,154.4 567.5,154.5 568.0,154.1 568.5,154.0 569.0,154.3 569.5,154.1 570.0,154.3 570.5,154.3 571.0,154.2 571.5,154.2 572.0,154.2 572.5,154.2 573.0,154.1 573.5,154.4 574.0,154.2 574.5,154.1 575.0,154.1 575.5,154.0 576.0,154.0 576.5,153.9 577.0,153.9 577.5,154.1 578.0,154.0 578.5,154.2 579.0,153.9 579.5,153.9 580.0,154.0 580.5,153.8 581.0,153.9 581.5,153.8 582.0,153.9 582.5,154.1 583.0,153.9 583.5,153.6 584.0,153.7 584.5,153.7 585.0,153.8 585.5,153.4 586.0,153.5 586.5,153.8 587.0,153.6 587.5,153.6 588.0,153.6 588.5,154.0 589.0,153.4 589.5,153.8 590.0,153.7 590.5,153.4 591.0,153.2 591.5,153.5 592.0,153.3 592.5,153.3 593.0,153.3 593.5,153.4 594.0,153.1 594.5,153.2 595.0,153.2 595.5,153.4 596.0,153.0 596.5,153.3 597.0,153.2 597.5,153.3 598.0,153.1 598.5,153.2 599.0,153.3 599.5,153.1 600.0,153.0 600.5,153.2 601.0,153.1 601.5,152.9 602.0,153.0 602.5,153.0 603.0,153.0 603.5,152.8 604.0,152.7 604.5,152.9 605.0,152.9 605.5,152.6 606.0,152.8 606.5,152.9 607.0,152.9 607.5,152.8 608.0,153.0 608.5,152.6 609.0,152.8 609.5,152.7 610.0,152.8 610.5,152.6 611.0,152.6 611.5,152.2 612.0,152.6 612.5,152.2 613.0,152.8 613.5,152.6 614.0,152.4 614.5,152.6 615.0,152.8 615.5,152.5 616.0,152.7 616.5,152.5 617.0,152.3 617.5,152.5 618.0,152.3 618.5,152.3 619.0,152.2 619.5,152.1 620.0,152.5 620.5,152.3 621.0,152.3 621.5,152.2 622.0,152.2 622.5,152.2 623.0,152.3 623.5,152.3 624.0,152.2 624.5,152.0 625.0,152.2 625.5,152.0 626.0,152.1 626.5,152.2 627.0,152.1 627.5,152.0 628.0,152.0 628.5,151.7 629.0,152.4 629.5,152.0 630.0,152.1 630.5,151.9 631.0,151.8 631.5,152.4 632.0,151.9 632.5,152.1 633.0,151.8 633.5,151.9 634.0,151.7 634.5,151.7 635.0,151.8 635.5,151.8 636.0,151.6 636.5,151.8 637.0,151.8 637.5,151.7 638.0,151.7 638.5,151.6 639.0,151.3 639.5,151.3 640.0,151.6 640.5,151.4 641.0,151.6 641.5,151.6 642.0,151.5 642.5,151.4 643.0,151.5 643.5,151.5 644.0,151.1 644.5,151.4 645.0,151.5 645.5,151.4 646.0,151.1 646.5,151.4 647.0,151.4 647.5,151.4 648.0,151.7 648.5,151.3 649.0,151.3 649.5,151.2 650.0,151.2 650.5,151.5 651.0,151.0 651.5,151.4 652.0,150.7 652.5,151.2 653.0,151.6 653.5,151.2 654.0,151.0 654.5,151.1 655.0,151.1 655.5,151.2 656.0,151.2 656.5,151.0 657.0,150.7 657.5,150.9 658.0,151.0 658.5,151.0 659.0,150.9 659.5,150.9 660.0,151.0 660.5,150.6 661.0,150.8 661.5,150.7 662.0,150.8 662.5,150.8 663.0,150.6 663.5,150.6 664.0,150.9 664.5,150.8 665.0,150.8 665.5,150.7 666.0,150.6 666.5,150.7 667.0,150.8 667.5,150.5 668.0,150.7 668.5,150.6 669.0,150.4 669.5,150.6 670.0,150.3 670.5,150.6 671.0,150.4 671.5,150.0 672.0,150.1 672.5,150.4 673.0,150.5 673.5,150.4 674.0,150.4 674.5,150.3 675.0,150.7 675.5,150.3 676.0,150.7 676.5,150.2 677.0,149.9 677.5,150.4 678.0,150.0 678.5,150.0 679.0,150.0 679.5,150.3 680.0,150.3 680.5,150.2 681.0,150.0 681.5,150.2 682.0,150.1 682.5,150.1 683.0,150.2 683.5,150.1 684.0,149.9 684.5,150.2 685.0,150.0 685.5,150.4 686.0,150.1 686.5,150.0 687.0,150.3 687.5,150.1 688.0,150.0 688.5,149.9 689.0,150.4 689.5,149.9 690.0,150.1 690.5,150.2 691.0,150.2 691.5,150.2 692.0,150.1" fill="none" stroke="#f00" stroke-width="1.2"/><polyline points="59.0,209.2 60.0,209.7 61.0,209.5 62.0,208.5 63.0,210.3 64.0,209.4 65.0,208.6 66.0,209.0 67.0,208.5 68.0,209.2 69.0,208.8 70.0,208.9 71.0,208.5 72.0,208.5 73.0,208.5 74.0,210.9 75.0,209.2 76.0,209.1 77.0,209.0 78.0,209.5 79.0,209.5 80.0,208.5 81.0,208.5 82.0,208.9 83.0,208.5 84.0,208.6 85.0,209.3 86.0,208.8 87.0,208.5 88.0,209.9 89.0,209.5 90.0,208.5 91.0,208.9 92.0,208.5 93.0,208.9 94.0,208.8 95.0,210.5 96.0,208.7 97.0,209.2 98.0,208.5 99.0,209.6 100.0,208.5 101.0,208.5 102.0,209.3 103.0,209.3 104.0,208.7 105.0,208.5 106.0,208.5 107.0,209.5 108.0,208.5 109.0,210.5 110.0,208.6 111.0,209.2 112.0,208.8 113.0,208.5 114.0,208.5 115.0,209.0 116.0,209.5 117.0,209.2 118.0,208.5 119.0,208.6 120.0,208.7 121.0,211.0 122.0,210.3 123.0,209.1 124.0,208.7 125.0,208.5 126.0,209.4 127.0,210.3 128.0,208.7 129.0,208.5 130.0,209.6 131.0,209.1 132.0,209.4 133.0,209.2 134.0,209.1 135.0,208.7 136.0,209.3 137.0,209.2 138.0,209.0 139.0,208.5 140.0,208.8 141.0,209.2 142.0,209.2 143.0,209.0 144.0,209.4 145.0,209.2 146.0,209.8 147.0,210.8 148.0,208.9 149.0,208.7 150.0,210.0 151.0,209.2 152.0,208.7 153.0,209.3 154.0,208.9 155.0,209.2 156.0,209.1 157.0,208.5 158.0,209.0 159.0,208.8 160.0,208.5 161.0,208.6 162.0,208.5 163.0,208.5 164.0,208.5 165.0,208.8 166.0,209.0 167.0,209.0 168.0,208.5 169.0,208.6 170.0,208.5 171.0,208.5 172.0,208.5 173.0,208.7 174.0,209.3 175.0,209.2 176.0,209.4 177.0,208.5 178.0,209.0 179.0,210.6 180.0,208.7 181.0,209.2 182.0,208.5 183.0,208.5 184.0,209.3 185.0,208.8 186.0,208.5 187.0,210.1 188.0,210.6 189.0,208.7 190.0,210.3 191.0,208.7 192.0,210.4 193.0,208.7 194.0,208.5 195.0,208.7 196.0,209.5 197.0,208.5 198.0,209.2 199.0,208.9 200.0,208.5 201.0,210.2 202.0,208.9 203.0,209.0 204.0,208.7 205.0,208.9 206.0,208.7 207.0,208.8 208.0,208.7 209.0,209.2 210.0,208.5 211.0,209.3 212.0,209.7 213.0,208.5 214.0,208.9 215.0,209.1 216.0,209.3 217.0,208.8 218.0,209.1 219.0,209.1 220.0,208.5 221.0,208.9 222.0,209.0 223.0,209.4 224.0,208.9 225.0,208.7 226.0,208.5 227.0,208.9 228.0,208.9 229.0,209.4 230.0,208.5 231.0,210.8 232.0,208.6 233.0,209.1 234.0,209.3 235.0,208.7 236.0,209.2 237.0,208.5 238.0,208.5 239.0,208.5 240.0,208.5 241.0,208.5 242.0,209.1 243.0,209.2 244.0,208.7 245.0,208.9 246.0,209.8 247.0,208.5 248.0,208.5 249.0,209.3 250.0,209.0 251.0,208.8 252.0,208.9 253.0,208.5 254.0,208.5 255.0,208.7 256.0,209.1 257.0,208.5 258.0,208.5 259.0,208.6 260.0,209.5 261.0,209.1 262.0,208.5 263.0,208.5 264.0,210.2 265.0,208.5 266.0,210.3 267.0,209.0 268.0,208.8 269.0,208.5 270.0,208.8 271.0,208.5 272.0,209.5 273.0,209.4 274.0,210.3 275.0,210.5 276.0,211.2 277.0,210.5 278.0,211.2 279.0,212.5 280.0,211.5 281.0,212.0 282.0,211.5 283.0,211.1 284.0,210.5 285.0,210.9 286.0,210.9 287.0,209.7 288.0,208.9 289.0,208.8 290.0,208.5 291.0,209.3 292.0,209.1 293.0,209.3 294.0,208.5 295.0,209.0 296.0,208.8 297.0,208.5 298.0,208.5 299.0,209.4 300.0,208.8 301.0,208.8 302.0,209.4 303.0,208.5 304.0,209.5 305.0,209.0 306.0,209.9 307.0,208.5 308.0,208.7 309.0,209.5 310.0,209.0 311.0,208.5 312.0,210.0 313.0,210.0 314.0,209.0 315.0,209.3 316.0,209.6 317.0,209.6 318.0,209.5 319.0,210.0 320.0,210.5 321.0,209.7 322.0,210.2 323.0,211.7 324.0,211.3 325.0,210.2 326.0,211.4 327.0,211.6 328.0,212.1 329.0,211.7 330.0,212.1 331.0,211.5 332.0,211.8 333.0,212.6 334.0,211.9 335.0,212.3 336.0,212.8 337.0,212.3 338.0,212.5 339.0,212.4 340.0,212.5 341.0,212.6 342.0,212.9 343.0,213.2 344.0,212.9 345.0,212.9 346.0,213.0 347.0,212.9 348.0,212.8 349.0,212.5 350.0,212.0 351.0,212.7 352.0,212.4 353.0,212.9 354.0,211.7 355.0,212.3 356.0,213.3 357.0,212.6 358.0,212.6 359.0,212.4 360.0,212.9 361.0,212.6 362.0,212.5 363.0,212.8 364.0,213.5 365.0,212.2 366.0,213.2 367.0,212.7 368.0,213.1 369.0,213.0 370.0,212.5 371.0,212.9 372.0,212.3 373.0,212.1 374.0,212.9 375.0,212.6 376.0,212.5 377.0,212.6 378.0,212.7 379.0,212.6 380.0,213.7 381.0,213.1 382.0,212.5 383.0,213.0 384.0,211.9 385.0,212.4 386.0,208.9 387.0,212.8 388.0,212.9 389.0,212.9 390.0,212.5 391.0,212.8 392.0,212.5 393.0,212.4 394.0,212.6 395.0,212.8 396.0,212.9 397.0,213.1 398.0,212.8 399.0,212.9 400.0,212.7 401.0,212.8 402.0,212.4 403.0,212.2 404.0,212.8 405.0,212.7 406.0,213.1 407.0,212.6 408.0,212.9 409.0,213.5 410.0,212.9 411.0,208.9 412.0,212.6 413.0,213.0 414.0,213.4 415.0,212.5 416.0,212.6 417.0,208.9 418.0,213.2 419.0,212.5 420.0,212.8 421.0,212.7 422.0,212.9 423.0,212.6 424.0,212.9 425.0,212.5 426.0,212.7 427.0,212.2 428.0,213.1 429.0,208.9 430.0,212.7 431.0,213.0 432.0,212.7 433.0,213.2 434.0,211.9 435.0,212.8 436.0,212.4 437.0,212.8 438.0,212.9 439.0,212.2 440.0,213.2 441.0,212.8 442.0,212.9 443.0,212.7 444.0,212.9 445.0,212.2 446.0,208.9 447.0,212.5 448.0,212.8 449.0,213.5 450.0,213.7 451.0,214.1 452.0,213.6 453.0,212.9 454.0,212.8 455.0,213.4 456.0,213.5 457.0,212.9 458.0,213.3 459.0,213.1 460.0,213.4 461.0,213.6 462.0,213.7 463.0,213.5 464.0,213.1 465.0,213.3 466.0,213.6 467.0,213.2 468.0,213.4 469.0,213.5 470.0,213.2 471.0,213.5 472.0,212.7 473.0,213.2 474.0,212.7 475.0,212.9 476.0,213.9 477.0,213.4 478.0,212.8 479.0,213.2 480.0,213.3 481.0,212.5 482.0,213.2 483.0,213.0 484.0,213.3 485.0,213.2 486.0,212.7 487.0,213.8 488.0,213.0 489.0,213.3 490.0,213.2 491.0,213.6 492.0,213.0 493.0,212.6 494.0,213.3 495.0,213.5 496.0,213.3 497.0,213.4 498.0,213.0 499.0,213.3 500.0,213.6 501.0,213.0 502.0,213.0 503.0,212.9 504.0,212.8 505.0,212.6 506.0,213.5 507.0,212.7 508.0,213.4 509.0,212.9 510.0,213.1 511.0,213.3 512.0,212.8 513.0,213.0 514.0,213.1 515.0,212.8 516.0,213.6 517.0,212.4 518.0,212.9 519.0,212.9 520.0,213.1 521.0,212.8 522.0,212.8 523.0,212.7 524.0,212.8 525.0,212.2 526.0,212.6 527.0,212.7 528.0,212.1 529.0,211.9 530.0,212.2 531.0,212.3 532.0,212.5 533.0,212.3 534.0,212.5 535.0,212.9 536.0,212.0 537.0,212.4 538.0,212.2 539.0,212.0 540.0,212.3 541.0,212.1 542.0,211.6 543.0,211.9 544.0,211.6 545.0,211.2 546.0,211.5 547.0,212.1 548.0,211.7 549.0,211.5 550.0,211.7 551.0,211.5 552.0,211.2 553.0,211.6 554.0,211.5 555.0,210.9 556.0,211.4 557.0,210.5 558.0,211.4 559.0,211.4 560.0,211.1 561.0,211.4 562.0,211.2 563.0,211.6 564.0,210.9 565.0,210.8 566.0,211.3 567.0,211.7 568.0,210.9 569.0,211.3 570.0,211.3 571.0,211.1 572.0,211.4 573.0,211.6 574.0,211.0 575.0,211.4 576.0,211.0 577.0,211.1 578.0,211.3 579.0,211.2 580.0,211.1 581.0,211.3 582.0,211.4 583.0,211.0 584.0,211.3 585.0,211.6 586.0,211.3 587.0,211.5 588.0,211.1 589.0,211.2 590.0,211.5 591.0,211.3 592.0,211.6 593.0,211.3 594.0,211.0 595.0,211.5 596.0,211.0 597.0,211.3 598.0,211.2 599.0,211.2 600.0,210.8 601.0,211.3 602.0,211.4 603.0,211.1 604.0,211.8 605.0,211.6 606.0,211.0 607.0,211.0 608.0,211.2 609.0,211.0 610.0,211.8 611.0,211.1 612.0,211.2 613.0,211.1 614.0,211.8 615.0,211.2 616.0,211.4 617.0,211.2 618.0,211.4 619.0,211.3 620.0,211.8 621.0,211.9 622.0,211.7 623.0,212.7 624.0,212.7 625.0,212.9 626.0,213.2 627.0,213.1 628.0,213.3 629.0,212.9 630.0,213.3 631.0,213.1 632.0,212.9 633.0,212.9 634.0,213.3 635.0,213.1 636.0,213.0 637.0,213.1 638.0,212.9 639.0,213.1 640.0,213.2 641.0,213.2 642.0,213.5 643.0,213.1 644.0,213.3 645.0,213.2 646.0,213.5 647.0,213.3 648.0,213.1 649.0,213.5 650.0,213.4 651.0,213.3 652.0,213.2 653.0,213.2 654.0,213.3 655.0,213.2 656.0,213.0 657.0,213.4 658.0,213.2 659.0,213.2 660.0,212.9 661.0,213.7 662.0,213.2 663.0,213.2 664.0,213.1 665.0,213.0 666.0,213.2 667.0,213.3 668.0,213.1 669.0,213.2 670.0,213.3 671.0,213.2 672.0,212.8 673.0,213.2 674.0,212.7 675.0,213.2 676.0,213.2 677.0,213.3 678.0,213.1 679.0,213.4 680.0,213.3 681.0,213.3 682.0,213.4 683.0,212.9 684.0,213.5 685.0,212.9 686.0,212.9 687.0,212.9 688.0,212.7 689.0,213.2 690.0,213.1 691.0,213.6 692.0,213.1" fill="none" stroke="#00f" stroke-width="1"/><polyline points="59.0,247.9 60.0,248.0 61.0,248.5 62.0,246.8 63.0,246.4 64.0,246.3 65.0,249.5 66.0,247.2 67.0,249.9 68.0,248.9 69.0,250.8 70.0,249.8 71.0,247.4 72.0,242.4 73.0,241.4 74.0,241.8 75.0,241.2 76.0,247.8 77.0,250.4 78.0,250.4 79.0,250.0 80.0,246.1 81.0,241.3 82.0,242.3 83.0,241.7 84.0,243.8 85.0,242.4 86.0,264.8 87.0,247.0 88.0,250.9 89.0,251.2 90.0,250.6 91.0,250.1 92.0,251.8 93.0,250.4 94.0,248.5 95.0,251.0 96.0,250.4 97.0,250.2 98.0,247.3 99.0,248.3 100.0,248.3 101.0,248.1 102.0,250.3 103.0,247.9 104.0,250.2 105.0,250.9 106.0,249.0 107.0,249.9 108.0,250.8 109.0,247.9 110.0,248.6 111.0,248.6 112.0,246.0 113.0,248.8 114.0,251.1 115.0,248.8 116.0,247.9 117.0,250.3 118.0,250.0 119.0,248.1 120.0,247.0 121.0,245.5 122.0,246.9 123.0,243.6 124.0,239.3 125.0,241.1 126.0,240.9 127.0,242.1 128.0,242.1 129.0,242.0 130.0,244.5 131.0,242.7 132.0,240.5 133.0,242.2 134.0,242.9 135.0,241.0 136.0,242.1 137.0,241.9 138.0,243.5 139.0,244.1 140.0,242.2 141.0,242.3 142.0,243.2 143.0,242.1 144.0,244.2 145.0,244.2 146.0,243.8 147.0,242.3 148.0,241.9 149.0,242.2 150.0,249.2 151.0,251.1 152.0,251.7 153.0,250.9 154.0,248.1 155.0,247.9 156.0,249.6 157.0,249.7 158.0,249.4 159.0,247.5 160.0,250.7 161.0,249.0 162.0,248.5 163.0,249.0 164.0,250.7 165.0,249.3 166.0,248.3 167.0,246.8 168.0,250.4 169.0,248.0 170.0,251.0 171.0,248.4 172.0,246.5 173.0,250.7 174.0,248.9 175.0,248.8 176.0,248.4 177.0,247.5 178.0,247.8 179.0,247.6 180.0,247.6 181.0,247.8 182.0,248.6 183.0,248.5 184.0,247.9 185.0,247.0 186.0,247.3 187.0,245.6 188.0,246.9 189.0,248.0 190.0,247.5 191.0,248.0 192.0,246.4 193.0,246.8 194.0,247.9 195.0,247.8 196.0,248.7 197.0,247.4 198.0,247.6 199.0,247.3 200.0,247.9 201.0,248.0 202.0,248.7 203.0,247.9 204.0,247.5 205.0,246.1 206.0,245.3 207.0,245.9 208.0,248.3 209.0,246.7 210.0,246.8 211.0,249.1 212.0,247.5 213.0,247.2 214.0,250.2 215.0,246.4 216.0,247.0 217.0,246.4 218.0,246.8 219.0,247.2 220.0,244.7 221.0,247.3 222.0,246.3 223.0,248.4 224.0,245.7 225.0,245.7 226.0,246.5 227.0,247.9 228.0,247.5 229.0,247.0 230.0,247.6 231.0,245.2 232.0,247.3 233.0,246.4 234.0,244.7 235.0,241.1 236.0,240.9 237.0,241.7 238.0,242.6 239.0,241.2 240.0,241.6 241.0,240.3 242.0,246.0 243.0,247.8 244.0,248.3 245.0,247.7 246.0,247.4 247.0,247.2 248.0,248.5 249.0,247.6 250.0,249.2 251.0,248.7 252.0,248.7 253.0,248.2 254.0,249.0 255.0,248.6 256.0,248.6 257.0,248.0 258.0,246.0 259.0,245.9 260.0,240.5 261.0,240.4 262.0,242.5 263.0,240.7 264.0,241.0 265.0,240.4 266.0,248.4 267.0,250.0 268.0,248.2 269.0,247.4 270.0,245.1 271.0,247.6 272.0,247.0 273.0,244.8 274.0,245.9 275.0,244.8 276.0,246.9 277.0,247.7 278.0,248.4 279.0,248.8 280.0,248.0 281.0,250.1 282.0,249.1 283.0,247.0 284.0,249.2 285.0,248.2 286.0,246.2 287.0,247.1 288.0,247.2 289.0,246.3 290.0,246.0 291.0,244.6 292.0,244.5 293.0,244.9 294.0,245.8 295.0,245.9 296.0,244.9 297.0,246.4 298.0,245.6 299.0,245.1 300.0,245.5 301.0,243.9 302.0,245.4 303.0,246.5 304.0,245.4 305.0,245.8 306.0,246.1 307.0,245.1 308.0,244.5 309.0,245.6 310.0,244.9 311.0,243.7 312.0,246.3 313.0,246.1 314.0,246.6 315.0,246.5 316.0,247.8 317.0,249.6 318.0,246.4 319.0,249.1 320.0,248.4 321.0,249.1 322.0,249.1 323.0,249.2 324.0,250.3 325.0,250.0 326.0,250.4 327.0,249.8 328.0,249.3 329.0,248.5 330.0,249.5 331.0,249.1 332.0,249.9 333.0,248.7 334.0,249.8 335.0,250.6 336.0,250.2 337.0,249.6 338.0,251.0 339.0,249.6 340.0,249.3 341.0,249.4 342.0,249.9 343.0,249.4 344.0,249.5 345.0,250.1 346.0,250.5 347.0,250.1 348.0,250.6 349.0,249.5 350.0,249.8 351.0,250.0 352.0,249.3 353.0,250.3 354.0,249.7 355.0,249.9 356.0,250.7 357.0,249.7 358.0,249.7 359.0,249.2 360.0,249.9 361.0,249.6 362.0,250.8 363.0,249.5 364.0,249.2 365.0,249.5 366.0,249.5 367.0,250.1 368.0,249.9 369.0,249.8 370.0,249.7 371.0,248.9 372.0,250.6 373.0,249.9 374.0,250.1 375.0,249.6 376.0,249.8 377.0,251.0 378.0,250.0 379.0,249.0 380.0,250.5 381.0,249.5 382.0,250.2 383.0,250.5 384.0,250.7 385.0,249.1 386.0,245.6 387.0,250.9 388.0,250.1 389.0,249.9 390.0,249.2 391.0,250.0 392.0,249.8 393.0,249.2 394.0,250.1 395.0,249.0 396.0,250.0 397.0,249.7 398.0,249.6 399.0,249.8 400.0,251.0 401.0,250.5 402.0,249.6 403.0,251.1 404.0,249.5 405.0,250.1 406.0,249.8 407.0,250.3 408.0,249.4 409.0,249.9 410.0,249.8 411.0,245.6 412.0,249.8 413.0,250.9 414.0,250.1 415.0,250.0 416.0,250.3 417.0,245.6 418.0,249.8 419.0,250.4 420.0,249.5 421.0,250.2 422.0,249.2 423.0,249.1 424.0,251.0 425.0,250.5 426.0,250.7 427.0,250.1 428.0,249.9 429.0,245.6 430.0,249.9 431.0,249.3 432.0,249.9 433.0,250.7 434.0,250.9 435.0,250.3 436.0,250.4 437.0,249.2 438.0,250.4 439.0,249.7 440.0,250.4 441.0,250.3 442.0,250.0 443.0,248.8 444.0,250.7 445.0,250.6 446.0,245.6 447.0,251.2 448.0,250.2 449.0,250.0 450.0,249.2 451.0,251.1 452.0,250.8 453.0,250.1 454.0,251.6 455.0,250.1 456.0,250.4 457.0,251.0 458.0,250.9 459.0,251.0 460.0,250.4 461.0,250.3 462.0,250.4 463.0,250.5 464.0,250.1 465.0,249.6 466.0,251.0 467.0,251.6 468.0,250.2 469.0,250.1 470.0,250.8 471.0,250.5 472.0,251.0 473.0,251.2 474.0,250.6 475.0,251.1 476.0,250.8 477.0,250.8 478.0,250.6 479.0,250.9 480.0,250.9 481.0,251.4 482.0,250.9 483.0,251.5 484.0,252.0 485.0,251.3 486.0,251.8 487.0,250.0 488.0,250.3 489.0,252.2 490.0,251.8 491.0,251.6 492.0,251.2 493.0,251.7 494.0,251.2 495.0,250.8 496.0,250.4 497.0,251.0 498.0,250.9 499.0,249.8 500.0,250.9 501.0,250.8 502.0,251.4 503.0,249.9 504.0,251.1 505.0,250.8 506.0,250.9 507.0,250.9 508.0,251.4 509.0,251.1 510.0,251.0 511.0,252.0 512.0,250.8 513.0,251.0 514.0,250.2 515.0,251.3 516.0,251.4 517.0,250.8 518.0,250.0 519.0,251.4 520.0,250.5 521.0,251.1 522.0,250.5 523.0,251.4 524.0,250.5 525.0,251.7 526.0,250.5 527.0,252.4 528.0,250.8 529.0,251.8 530.0,251.9 531.0,251.2 532.0,251.1 533.0,251.4 534.0,251.2 535.0,250.8 536.0,251.0 537.0,250.4 538.0,251.5 539.0,250.2 540.0,250.9 541.0,251.2 542.0,251.2 543.0,251.0 544.0,251.2 545.0,251.3 546.0,251.1 547.0,250.1 548.0,251.0 549.0,251.6 550.0,250.9 551.0,250.9 552.0,250.6 553.0,250.5 554.0,250.9 555.0,250.9 556.0,251.6 557.0,250.9 558.0,251.1 559.0,251.9 560.0,252.1 561.0,251.6 562.0,251.3 563.0,251.6 564.0,251.8 565.0,251.9 566.0,250.3 567.0,251.2 568.0,251.8 569.0,251.4 570.0,251.6 571.0,250.9 572.0,251.2 573.0,250.0 574.0,251.3 575.0,251.7 576.0,251.2 577.0,250.8 578.0,251.3 579.0,251.9 580.0,251.7 581.0,251.1 582.0,251.3 583.0,251.5 584.0,252.7 585.0,251.6 586.0,251.2 587.0,251.2 588.0,251.6 589.0,251.8 590.0,251.6 591.0,251.0 592.0,250.1 593.0,251.4 594.0,251.8 595.0,250.7 596.0,251.1 597.0,250.1 598.0,250.7 599.0,251.3 600.0,251.3 601.0,251.5 602.0,251.3 603.0,251.1 604.0,250.9 605.0,252.3 606.0,251.3 607.0,250.4 608.0,251.4 609.0,251.5 610.0,252.6 611.0,251.7 612.0,250.6 613.0,251.4 614.0,250.9 615.0,250.4 616.0,252.2 617.0,251.4 618.0,251.7 619.0,251.7 620.0,251.4 621.0,251.0 622.0,252.0 623.0,250.6 624.0,251.8 625.0,251.8 626.0,251.1 627.0,251.1 628.0,251.8 629.0,252.0 630.0,251.6 631.0,251.6 632.0,252.0 633.0,251.7 634.0,252.5 635.0,251.9 636.0,251.4 637.0,252.2 638.0,251.7 639.0,252.2 640.0,251.9 641.0,251.9 642.0,252.2 643.0,252.0 644.0,252.1 645.0,251.9 646.0,251.6 647.0,251.6 648.0,251.3 649.0,250.9 650.0,251.5 651.0,251.5 652.0,250.3 653.0,252.0 654.0,252.1 655.0,251.0 656.0,252.1 657.0,252.5 658.0,251.3 659.0,253.0 660.0,251.0 661.0,250.9 662.0,252.6 663.0,252.2 664.0,251.7 665.0,250.9 666.0,251.8 667.0,251.8 668.0,250.5 669.0,252.0 670.0,251.8 671.0,253.0 672.0,252.5 673.0,250.8 674.0,252.2 675.0,252.1 676.0,251.7 677.0,252.1 678.0,252.1 679.0,250.4 680.0,252.6 681.0,250.7 682.0,252.2 683.0,251.7 684.0,252.2 685.0,252.2 686.0,251.7 687.0,252.1 688.0,251.5 689.0,251.5 690.0,252.4 691.0,252.0 692.0,252.0" fill="none" stroke="#000" stroke-width="1.4"/><polyline points="59.0,242.4 60.0,244.4 61.0,242.4 62.0,244.4 63.0,244.4 64.0,244.4 65.0,244.4 66.0,245.0 67.0,242.3 68.0,242.3 69.0,245.0 70.0,244.4 71.0,244.4 72.0,239.1 73.0,239.1 74.0,237.0 75.0,239.1 76.0,245.0 77.0,242.3 78.0,242.3 79.0,242.3 80.0,241.9 81.0,239.2 82.0,239.3 83.0,237.2 84.0,237.3 85.0,240.2 86.0,241.0 87.0,243.2 88.0,245.0 89.0,242.2 90.0,245.0 91.0,244.4 92.0,242.2 93.0,244.4 94.0,244.4 95.0,244.4 96.0,242.2 97.0,244.4 98.0,242.2 99.0,245.0 100.0,244.4 101.0,244.4 102.0,245.1 103.0,245.1 104.0,244.4 105.0,244.4 106.0,244.4 107.0,242.1 108.0,244.4 109.0,245.1 110.0,244.4 111.0,242.1 112.0,244.4 113.0,242.1 114.0,242.1 115.0,245.1 116.0,245.1 117.0,242.1 118.0,244.4 119.0,245.1 120.0,242.0 121.0,242.0 122.0,239.6 123.0,239.6 124.0,242.0 125.0,242.0 126.0,239.6 127.0,242.0 128.0,242.0 129.0,239.6 130.0,242.7 131.0,239.6 132.0,242.0 133.0,242.0 134.0,239.6 135.0,242.7 136.0,242.0 137.0,242.0 138.0,242.7 139.0,242.0 140.0,239.5 141.0,239.5 142.0,242.0 143.0,242.0 144.0,239.5 145.0,242.0 146.0,242.7 147.0,239.5 148.0,242.0 149.0,242.8 150.0,244.4 151.0,244.4 152.0,245.4 153.0,244.4 154.0,240.9 155.0,245.4 156.0,240.9 157.0,240.9 158.0,244.4 159.0,244.4 160.0,240.9 161.0,240.9 162.0,240.9 163.0,244.4 164.0,244.4 165.0,245.4 166.0,240.9 167.0,244.4 168.0,244.4 169.0,240.9 170.0,240.9 171.0,245.4 172.0,240.9 173.0,244.4 174.0,240.9 175.0,244.4 176.0,244.4 177.0,240.9 178.0,245.4 179.0,240.9 180.0,240.9 181.0,240.9 182.0,244.4 183.0,240.9 184.0,240.9 185.0,240.9 186.0,244.4 187.0,245.4 188.0,240.9 189.0,244.4 190.0,244.4 191.0,245.4 192.0,245.4 193.0,244.4 194.0,240.9 195.0,240.9 196.0,245.4 197.0,244.4 198.0,244.4 199.0,244.4 200.0,240.9 201.0,244.4 202.0,244.4 203.0,240.9 204.0,244.4 205.0,244.4 206.0,244.4 207.0,240.9 208.0,240.9 209.0,244.4 210.0,240.9 211.0,244.4 212.0,240.9 213.0,240.9 214.0,240.9 215.0,240.9 216.0,244.4 217.0,240.9 218.0,240.9 219.0,245.4 220.0,240.9 221.0,240.9 222.0,244.4 223.0,245.4 224.0,240.9 225.0,240.9 226.0,244.4 227.0,245.4 228.0,240.9 229.0,244.4 230.0,244.4 231.0,245.4 232.0,244.4 233.0,240.9 234.0,239.2 235.0,242.5 236.0,238.0 237.0,241.5 238.0,241.5 239.0,242.5 240.0,238.1 241.0,238.1 242.0,245.4 243.0,244.4 244.0,244.4 245.0,241.1 246.0,244.4 247.0,241.1 248.0,241.1 249.0,244.4 250.0,244.4 251.0,244.4 252.0,241.2 253.0,241.2 254.0,244.4 255.0,245.3 256.0,245.3 257.0,244.4 258.0,244.4 259.0,240.8 260.0,237.8 261.0,240.8 262.0,240.8 263.0,240.8 264.0,240.8 265.0,237.9 266.0,244.4 267.0,241.8 268.0,242.0 269.0,242.2 270.0,245.2 271.0,242.7 272.0,245.7 273.0,245.9 274.0,246.1 275.0,246.3 276.0,246.4 277.0,247.4 278.0,247.5 279.0,246.8 280.0,244.4 281.0,247.1 282.0,247.2 283.0,246.8 284.0,247.1 285.0,246.5 286.0,245.2 287.0,245.4 288.0,244.2 289.0,243.6 290.0,244.1 291.0,241.0 292.0,241.0 293.0,244.1 294.0,243.4 295.0,244.1 296.0,243.4 297.0,244.1 298.0,241.2 299.0,243.4 300.0,241.2 301.0,243.4 302.0,243.4 303.0,241.3 304.0,244.1 305.0,243.4 306.0,244.0 307.0,241.3 308.0,241.4 309.0,244.0 310.0,243.4 311.0,244.0 312.0,243.9 313.0,244.3 314.0,243.1 315.0,243.7 316.0,244.2 317.0,244.8 318.0,245.4 319.0,246.9 320.0,246.5 321.0,248.0 322.0,247.6 323.0,248.7 324.0,248.7 325.0,248.7 326.0,248.7 327.0,248.7 328.0,248.7 329.0,248.7 330.0,248.2 331.0,248.7 332.0,248.7 333.0,248.8 334.0,248.3 335.0,248.3 336.0,248.3 337.0,248.8 338.0,248.8 339.0,248.9 340.0,248.8 341.0,248.8 342.0,248.3 343.0,249.0 344.0,248.8 345.0,248.3 346.0,249.0 347.0,248.8 348.0,249.0 349.0,248.8 350.0,248.9 351.0,248.9 352.0,248.9 353.0,248.9 354.0,249.0 355.0,248.9 356.0,249.0 357.0,248.4 358.0,248.9 359.0,248.9 360.0,248.9 361.0,249.1 362.0,249.1 363.0,248.9 364.0,248.4 365.0,248.5 366.0,248.9 367.0,248.5 368.0,249.1 369.0,248.5 370.0,249.1 371.0,249.0 372.0,249.0 373.0,249.0 374.0,249.0 375.0,248.5 376.0,249.0 377.0,249.0 378.0,248.5 379.0,249.2 380.0,249.0 381.0,249.0 382.0,249.0 383.0,249.2 384.0,249.1 385.0,248.6 386.0,244.9 387.0,248.6 388.0,249.1 389.0,249.1 390.0,249.2 391.0,248.6 392.0,249.2 393.0,249.1 394.0,248.6 395.0,249.3 396.0,249.1 397.0,249.1 398.0,249.1 399.0,248.7 400.0,248.7 401.0,249.1 402.0,248.7 403.0,248.7 404.0,249.2 405.0,249.2 406.0,248.7 407.0,248.7 408.0,248.7 409.0,249.2 410.0,248.7 411.0,244.9 412.0,248.7 413.0,249.4 414.0,249.2 415.0,249.4 416.0,249.2 417.0,244.9 418.0,248.8 419.0,249.4 420.0,249.3 421.0,249.3 422.0,249.4 423.0,249.3 424.0,249.3 425.0,249.3 426.0,249.4 427.0,249.4 428.0,249.3 429.0,244.9 430.0,249.3 431.0,249.3 432.0,249.3 433.0,249.3 434.0,248.9 435.0,249.3 436.0,249.4 437.0,249.5 438.0,249.5 439.0,248.9 440.0,249.4 441.0,249.5 442.0,249.4 443.0,248.9 444.0,249.4 445.0,249.4 446.0,244.9 447.0,249.4 448.0,249.0 449.0,249.5 450.0,249.0 451.0,249.6 452.0,249.5 453.0,249.5 454.0,249.1 455.0,249.6 456.0,249.7 457.0,249.2 458.0,249.6 459.0,249.7 460.0,249.8 461.0,249.2 462.0,249.7 463.0,249.7 464.0,249.9 465.0,249.8 466.0,249.8 467.0,250.0 468.0,249.8 469.0,250.0 470.0,250.0 471.0,249.4 472.0,250.1 473.0,250.1 474.0,250.0 475.0,250.0 476.0,249.5 477.0,250.0 478.0,250.0 479.0,250.2 480.0,249.6 481.0,250.2 482.0,250.1 483.0,250.1 484.0,249.6 485.0,250.0 486.0,249.9 487.0,249.4 488.0,249.9 489.0,249.9 490.0,249.8 491.0,249.7 492.0,249.5 493.0,249.0 494.0,249.4 495.0,248.9 496.0,248.8 497.0,249.3 498.0,249.1 499.0,249.1 500.0,249.0 501.0,249.1 502.0,248.9 503.0,248.8 504.0,248.7 505.0,248.7 506.0,248.7 507.0,248.5 508.0,248.0 509.0,248.5 510.0,248.3 511.0,248.3 512.0,248.2 513.0,248.1 514.0,248.1 515.0,248.0 516.0,247.9 517.0,247.4 518.0,247.8 519.0,247.3 520.0,247.7 521.0,247.7 522.0,247.8 523.0,247.3 524.0,247.3 525.0,247.7 526.0,247.7 527.0,247.7 528.0,247.7 529.0,247.2 530.0,247.2 531.0,247.6 532.0,247.6 533.0,247.8 534.0,247.2 535.0,247.2 536.0,247.2 537.0,247.1 538.0,247.1 539.0,247.7 540.0,247.1 541.0,247.6 542.0,247.6 543.0,247.5 544.0,247.5 545.0,247.5 546.0,247.5 547.0,247.1 548.0,247.5 549.0,247.5 550.0,247.0 551.0,247.5 552.0,247.5 553.0,247.0 554.0,247.5 555.0,247.4 556.0,247.4 557.0,247.0 558.0,247.0 559.0,247.0 560.0,247.0 561.0,247.0 562.0,247.5 563.0,246.9 564.0,246.9 565.0,247.4 566.0,247.5 567.0,246.9 568.0,247.3 569.0,246.9 570.0,247.3 571.0,247.3 572.0,246.9 573.0,247.3 574.0,247.3 575.0,247.3 576.0,247.3 577.0,247.3 578.0,246.8 579.0,247.6 580.0,247.8 581.0,248.1 582.0,248.4 583.0,248.7 584.0,248.7 585.0,248.7 586.0,248.2 587.0,248.2 588.0,248.2 589.0,248.6 590.0,248.7 591.0,248.6 592.0,248.6 593.0,248.2 594.0,248.1 595.0,248.6 596.0,248.5 597.0,248.1 598.0,248.5 599.0,248.1 600.0,248.1 601.0,248.1 602.0,248.5 603.0,248.5 604.0,248.6 605.0,248.0 606.0,248.0 607.0,248.4 608.0,248.5 609.0,248.5 610.0,248.4 611.0,248.4 612.0,248.4 613.0,248.3 614.0,248.3 615.0,247.9 616.0,247.9 617.0,247.9 618.0,248.4 619.0,248.3 620.0,247.8 621.0,247.8 622.0,248.2 623.0,248.4 624.0,248.3 625.0,248.7 626.0,249.2 627.0,249.5 628.0,249.7 629.0,249.6 630.0,249.6 631.0,249.6 632.0,249.8 633.0,249.6 634.0,249.6 635.0,249.6 636.0,249.6 637.0,249.7 638.0,249.6 639.0,249.2 640.0,249.7 641.0,249.2 642.0,249.2 643.0,249.6 644.0,249.7 645.0,249.2 646.0,249.6 647.0,249.2 648.0,249.6 649.0,249.1 650.0,249.6 651.0,249.7 652.0,249.5 653.0,249.5 654.0,249.7 655.0,249.5 656.0,249.5 657.0,249.5 658.0,249.5 659.0,249.5 660.0,249.6 661.0,249.5 662.0,249.1 663.0,249.6 664.0,249.1 665.0,249.5 666.0,249.5 667.0,249.5 668.0,249.5 669.0,249.6 670.0,249.5 671.0,249.0 672.0,249.0 673.0,249.4 674.0,249.4 675.0,249.6 676.0,249.4 677.0,249.4 678.0,249.4 679.0,249.4 680.0,249.5 681.0,248.9 682.0,249.3 683.0,248.7 684.0,249.0 685.0,248.6 686.0,248.9 687.0,248.8 688.0,248.4 689.0,248.7 690.0,248.6 691.0,248.5 692.0,248.6" fill="none" stroke="#f00" stroke-width="1"/><polyline points="61.0,337.4 63.0,333.8 66.0,333.1 68.0,337.4 77.0,339.8 79.0,332.6 81.0,339.8 82.0,349.4" fill="none" stroke="#00f" stroke-width="1"/><polyline points="59.0,349.4 60.0,351.8 61.0,347.9 62.0,347.8 63.0,351.2 64.0,351.5 65.0,352.2 66.0,355.3 67.0,345.5 68.0,351.5 69.0,355.1 70.0,354.9 71.0,358.0 72.0,352.3 73.0,352.6 74.0,351.1 75.0,348.8 76.0,344.7 77.0,349.2 78.0,356.1 79.0,353.0 80.0,352.9 81.0,353.8 82.0,353.5 83.0,353.5 84.0,353.8 85.0,351.0 86.0,351.4 87.0,351.0 88.0,348.2 89.0,354.4 90.0,350.5 91.0,341.7 92.0,351.3 93.0,347.2 94.0,349.9 95.0,352.9 96.0,348.6 97.0,349.4 98.0,348.0 99.0,349.7 100.0,348.0 101.0,349.3 102.0,349.7 103.0,348.0 104.0,347.8 105.0,344.9 106.0,345.4 107.0,349.4 108.0,343.8 109.0,347.5 110.0,344.8 111.0,345.8 112.0,349.3 113.0,345.4 114.0,350.9 115.0,342.5 116.0,351.7 117.0,349.7 118.0,349.8 119.0,346.1 120.0,355.6 121.0,352.5 122.0,354.1 123.0,353.7 124.0,353.8 125.0,354.2 126.0,352.4 127.0,353.8 128.0,354.2 129.0,355.1 130.0,355.3 131.0,354.7 132.0,354.5 133.0,355.7 134.0,355.6 135.0,354.8 136.0,351.9 137.0,355.1 138.0,357.7 139.0,352.9 140.0,354.6 141.0,356.0 142.0,354.6 143.0,351.6 144.0,356.0 145.0,355.1 146.0,355.9 147.0,355.2 148.0,356.4 149.0,355.9 150.0,353.6 151.0,353.8 152.0,354.3 153.0,348.6 154.0,354.3 155.0,353.9 156.0,349.2 157.0,343.0 158.0,350.8 159.0,354.8 160.0,362.8 161.0,352.8 162.0,356.0 163.0,353.0 164.0,346.9 165.0,359.7 166.0,350.3 167.0,345.5 168.0,338.2 169.0,349.2 170.0,348.0 171.0,350.2 172.0,357.7 173.0,346.5 174.0,350.1 175.0,346.4 176.0,347.9 177.0,346.6 178.0,342.9 179.0,344.1 180.0,347.8 181.0,353.0 182.0,350.8 183.0,348.8 184.0,349.2 185.0,354.0 186.0,351.7 187.0,351.8 188.0,345.0 189.0,356.3 190.0,352.9 191.0,351.2 192.0,343.5 193.0,352.7 194.0,348.3 195.0,352.5 196.0,358.7 197.0,349.9 198.0,359.8 199.0,355.9 200.0,354.0 201.0,351.0 202.0,350.0 203.0,349.9 204.0,353.1 205.0,353.8 206.0,355.5 207.0,354.5 208.0,351.8 209.0,357.8 210.0,358.1 211.0,354.9 212.0,352.1 213.0,346.7 214.0,353.9 215.0,356.6 216.0,351.8 217.0,353.6 218.0,345.4 219.0,348.1 220.0,354.2 221.0,352.8 222.0,350.1 223.0,357.7 224.0,346.1 225.0,345.8 226.0,348.7 227.0,345.2 228.0,344.2 229.0,354.4 230.0,353.7 231.0,354.5 232.0,353.6 233.0,346.5 234.0,352.4 235.0,352.1 236.0,352.5 237.0,350.9 238.0,352.0 239.0,354.5 240.0,352.7 241.0,348.4 242.0,351.4 243.0,358.2 244.0,352.9 245.0,349.6 246.0,350.1 247.0,353.3 248.0,353.4 249.0,350.0 250.0,349.4 251.0,354.2 252.0,349.3 253.0,354.3 254.0,350.3 255.0,343.5 256.0,349.2 257.0,354.5 258.0,353.4 259.0,351.2 260.0,353.6 261.0,354.8 262.0,354.7 263.0,353.6 264.0,354.0 265.0,351.7 266.0,345.9 267.0,351.6 268.0,351.9 269.0,354.0 270.0,352.7 271.0,353.6 272.0,353.6 273.0,352.6 274.0,350.7 275.0,340.0 276.0,340.1 277.0,343.9 278.0,334.0 279.0,342.5 280.0,342.9 281.0,342.8 282.0,339.3 283.0,343.3 284.0,343.0 285.0,341.0 286.0,348.2 287.0,353.7 288.0,354.3 289.0,351.3 290.0,349.8 291.0,352.2 292.0,358.5 293.0,350.1 294.0,355.2 295.0,349.2 296.0,355.0 297.0,356.2 298.0,347.3 299.0,352.1 300.0,355.3 301.0,351.3 302.0,351.0 303.0,351.8 304.0,356.0 305.0,353.3 306.0,351.8 307.0,351.0 308.0,351.5 309.0,351.4 310.0,350.8 311.0,346.3 312.0,355.2 313.0,354.6 314.0,348.1 315.0,348.3 316.0,344.3 317.0,349.6 318.0,348.2 319.0,343.0 320.0,344.2 321.0,344.0 322.0,343.9 323.0,343.3 324.0,342.6 325.0,343.8 326.0,342.5 327.0,341.3 328.0,341.2 329.0,341.5 330.0,339.1 331.0,340.2 332.0,340.0 333.0,340.1 334.0,340.0 335.0,339.9 336.0,340.6 337.0,340.3 338.0,340.6 339.0,339.9 340.0,350.6 341.0,340.3 342.0,340.7 343.0,340.3 344.0,340.5 345.0,340.7 346.0,340.8 347.0,340.9 348.0,339.8 349.0,340.3 350.0,340.3 351.0,339.9 352.0,339.9 353.0,350.6 354.0,340.4 355.0,340.2 356.0,339.7 357.0,339.8 358.0,339.6 359.0,339.7 360.0,340.6 361.0,339.5 362.0,340.5 363.0,340.1 364.0,340.4 365.0,340.7 366.0,339.8 367.0,340.3 368.0,340.1 369.0,339.7 370.0,339.7 371.0,338.9 372.0,340.2 373.0,340.5 374.0,339.6 375.0,339.8 376.0,341.1 377.0,339.3 378.0,339.4 379.0,340.3 380.0,339.8 381.0,339.0 382.0,340.1 383.0,339.6 384.0,339.1 385.0,339.6 386.0,350.6 387.0,339.6 388.0,339.6 389.0,340.2 390.0,339.7 391.0,339.7 392.0,339.6 393.0,339.8 394.0,339.5 395.0,339.6 396.0,339.9 397.0,339.8 398.0,339.8 399.0,339.7 400.0,340.2 401.0,339.8 402.0,340.5 403.0,339.8 404.0,339.5 405.0,339.9 406.0,339.7 407.0,339.5 408.0,340.0 409.0,339.6 410.0,339.3 411.0,354.2 412.0,339.5 413.0,339.8 414.0,339.3 415.0,339.3 416.0,339.1 417.0,353.0 418.0,339.3 419.0,339.3 420.0,339.1 421.0,339.5 422.0,339.3 423.0,339.2 424.0,339.2 425.0,339.5 426.0,339.3 427.0,339.4 428.0,340.4 429.0,353.0 430.0,339.2 431.0,339.5 432.0,339.6 433.0,339.3 434.0,339.9 435.0,339.5 436.0,339.5 437.0,339.6 438.0,339.5 439.0,339.5 440.0,339.7 441.0,339.7 442.0,339.3 443.0,339.1 444.0,339.8 445.0,338.8 446.0,349.4 447.0,339.7 448.0,339.2 449.0,339.8 450.0,339.1 451.0,339.3 452.0,339.9 453.0,339.3 454.0,339.8 455.0,338.8 456.0,339.2 457.0,339.3 458.0,339.1 459.0,338.5 460.0,339.6 461.0,339.0 462.0,339.7 463.0,339.0 464.0,339.3 465.0,339.3 466.0,338.7 467.0,339.7 468.0,339.3 469.0,339.5 470.0,338.7 471.0,339.1 472.0,338.9 473.0,339.6 474.0,339.2 475.0,338.9 476.0,339.0 477.0,338.4 478.0,338.6 479.0,339.1 480.0,339.3 481.0,338.9 482.0,338.6 483.0,339.2 484.0,339.3 485.0,339.1 486.0,339.5 487.0,339.3 488.0,338.9 489.0,338.8 490.0,338.9 491.0,338.9 492.0,338.6 493.0,339.2 494.0,339.1 495.0,338.8 496.0,339.2 497.0,338.7 498.0,339.0 499.0,339.1 500.0,338.8 501.0,338.8 502.0,339.0 503.0,338.7 504.0,339.4 505.0,339.0 506.0,338.6 507.0,338.3 508.0,339.7 509.0,339.5 510.0,339.4 511.0,339.8 512.0,339.9 513.0,340.7 514.0,338.8 515.0,340.7 516.0,340.3 517.0,340.7 518.0,340.6 519.0,341.4 520.0,342.3 521.0,341.9 522.0,341.8 523.0,341.5 524.0,343.5 525.0,342.6 526.0,341.7 527.0,342.2 528.0,342.7 529.0,342.0 530.0,342.8 531.0,342.3 532.0,343.7 533.0,341.2 534.0,341.1 535.0,342.8 536.0,341.3 537.0,343.7 538.0,342.1 539.0,341.4 540.0,341.8 541.0,342.8 542.0,343.7 543.0,341.6 544.0,341.8 545.0,341.8 546.0,342.6 547.0,341.4 548.0,342.4 549.0,341.6 550.0,342.1 551.0,342.0 552.0,340.7 553.0,341.2 554.0,342.1 555.0,341.7 556.0,340.8 557.0,342.6 558.0,342.5 559.0,340.4 560.0,341.1 561.0,341.6 562.0,343.7 563.0,344.2 564.0,342.6 565.0,341.8 566.0,342.1 567.0,342.5 568.0,344.1 569.0,342.6 570.0,342.9 571.0,342.5 572.0,340.8 573.0,342.0 574.0,343.1 575.0,342.1 576.0,341.8 577.0,343.0 578.0,342.8 579.0,342.6 580.0,341.9 581.0,340.7 582.0,341.8 583.0,341.5 584.0,341.8 585.0,342.3 586.0,341.5 587.0,342.0 588.0,341.5 589.0,342.1 590.0,344.1 591.0,342.9 592.0,342.2 593.0,342.8 594.0,341.7 595.0,341.4 596.0,341.7 597.0,341.8 598.0,341.8 599.0,342.8 600.0,342.2 601.0,342.3 602.0,340.7 603.0,340.4 604.0,342.0 605.0,342.4 606.0,341.3 607.0,342.1 608.0,342.0 609.0,340.7 610.0,343.2 611.0,341.5 612.0,341.6 613.0,341.7 614.0,341.8 615.0,342.5 616.0,342.5 617.0,341.8 618.0,342.1 619.0,341.9 620.0,342.2 621.0,342.4 622.0,342.1 623.0,339.6 624.0,340.1 625.0,339.6 626.0,339.7 627.0,339.5 628.0,339.6 629.0,340.8 630.0,338.6 631.0,338.8 632.0,338.9 633.0,339.3 634.0,339.0 635.0,339.3 636.0,339.2 637.0,338.9 638.0,337.4 639.0,337.2 640.0,338.1 641.0,338.4 642.0,338.2 643.0,338.0 644.0,338.6 645.0,338.7 646.0,336.6 647.0,338.4 648.0,338.7 649.0,338.3 650.0,337.9 651.0,338.0 652.0,338.1 653.0,337.1 654.0,337.5 655.0,338.6 656.0,337.8 657.0,337.5 658.0,337.3 659.0,338.0 660.0,337.5 661.0,338.0 662.0,338.3 663.0,338.1 664.0,336.6 665.0,337.2 666.0,337.3 667.0,336.8 668.0,337.6 669.0,337.5 670.0,337.0 671.0,337.4 672.0,338.2 673.0,337.2 674.0,337.6 675.0,338.0 676.0,336.1 677.0,338.2 678.0,338.9 679.0,337.1 680.0,336.8 681.0,336.9 682.0,337.9 683.0,336.7 684.0,336.8 685.0,337.1 686.0,337.7 687.0,337.0 688.0,337.2 689.0,337.4 690.0,336.6 691.0,337.6 692.0,337.0" fill="none" stroke="#000" stroke-width="1.3"/><polyline points="59.0,341.6 60.0,338.4 61.0,332.0 62.0,337.1 63.0,337.0 64.0,337.1 65.0,334.5 66.0,336.6 67.0,334.3 68.0,334.5 69.0,339.0 70.0,342.4 71.0,342.4 72.0,344.9 73.0,349.7 74.0,336.8 75.0,333.5 76.0,334.2 77.0,334.4 78.0,335.3 79.0,335.9 80.0,339.9 81.0,342.1 82.0,348.7 83.0,349.6 84.0,341.5 85.0,340.6 86.0,335.5 87.0,337.7 88.0,338.1 89.0,332.8 90.0,336.1 91.0,334.9 92.0,336.7 93.0,333.5 94.0,335.0 95.0,331.1 96.0,335.9 97.0,331.9 98.0,333.9 99.0,336.9 100.0,337.0 101.0,335.7 102.0,335.1 103.0,337.9 104.0,331.3 105.0,336.7 106.0,334.6 107.0,333.6 108.0,342.1 109.0,335.8 110.0,337.7 111.0,338.9 112.0,336.8 113.0,337.9 114.0,338.4 115.0,339.0 116.0,338.6 117.0,338.8 118.0,338.7 119.0,338.0 120.0,337.7 121.0,339.3 122.0,338.2 123.0,338.4 124.0,340.2 125.0,339.5 126.0,342.5 127.0,339.9 128.0,340.5 129.0,340.7 130.0,339.6 131.0,340.6 132.0,337.7 133.0,342.7 134.0,342.9 135.0,341.2 136.0,340.0 137.0,340.5 138.0,343.4 139.0,341.5 140.0,339.7 141.0,340.8 142.0,339.9 143.0,340.7 144.0,337.4 145.0,340.4 146.0,341.1 147.0,342.8 148.0,334.6 149.0,338.1 150.0,338.7 151.0,337.2 152.0,341.6 153.0,337.8 154.0,337.2 155.0,339.4 156.0,339.7 157.0,336.7 158.0,340.3 159.0,337.9 160.0,342.7 161.0,338.0 162.0,339.5 163.0,339.9 164.0,344.8 165.0,338.7 166.0,338.9 167.0,338.4 168.0,337.1 169.0,338.1 170.0,336.4 171.0,339.6 172.0,343.9 173.0,340.5 174.0,341.7 175.0,336.8 176.0,341.6 177.0,339.9 178.0,338.2 179.0,338.6 180.0,338.6 181.0,339.3 182.0,336.8 183.0,344.8 184.0,335.7 185.0,343.2 186.0,339.9 187.0,337.3 188.0,343.1 189.0,339.4 190.0,332.7 191.0,331.7 192.0,338.0 193.0,337.5 194.0,336.8 195.0,342.2 196.0,336.6 197.0,339.0 198.0,339.8 199.0,340.7 200.0,339.3 201.0,339.0 202.0,339.3 203.0,338.9 204.0,343.3 205.0,342.4 206.0,345.0 207.0,338.9 208.0,340.4 209.0,339.9 210.0,333.4 211.0,333.8 212.0,332.1 213.0,337.1 214.0,341.3 215.0,345.5 216.0,342.3 217.0,340.0 218.0,338.3 219.0,340.0 220.0,338.7 221.0,336.9 222.0,341.3 223.0,346.5 224.0,343.2 225.0,340.7 226.0,340.2 227.0,332.4 228.0,340.4 229.0,342.3 230.0,338.8 231.0,343.9 232.0,338.3 233.0,339.8 234.0,338.4 235.0,339.9 236.0,337.0 237.0,345.4 238.0,338.5 239.0,337.2 240.0,338.4 241.0,340.0 242.0,339.2 243.0,338.7 244.0,345.4 245.0,339.5 246.0,337.4 247.0,337.6 248.0,339.0 249.0,343.2 250.0,340.1 251.0,339.7 252.0,338.2 253.0,338.4 254.0,340.1 255.0,346.5 256.0,337.7 257.0,340.5 258.0,337.6 259.0,340.4 260.0,339.7 261.0,344.6 262.0,343.7 263.0,339.3 264.0,339.3 265.0,335.0 266.0,335.6 267.0,335.7 268.0,335.0 269.0,332.9 270.0,339.3 271.0,336.9 272.0,337.2 273.0,336.8 274.0,333.9 275.0,333.5 276.0,329.1 277.0,333.6 278.0,333.8 279.0,335.2 280.0,337.0 281.0,332.0 282.0,339.3 283.0,339.6 284.0,334.1 285.0,340.0 286.0,336.6 287.0,334.9 288.0,340.0 289.0,339.6 290.0,345.0 291.0,341.6 292.0,336.1 293.0,341.2 294.0,339.5 295.0,342.0 296.0,345.3 297.0,341.9 298.0,343.4 299.0,343.2 300.0,343.1 301.0,343.7 302.0,340.3 303.0,344.0 304.0,342.8 305.0,343.4 306.0,341.4 307.0,339.6 308.0,337.3 309.0,345.8 310.0,340.4 311.0,347.0 312.0,341.3 313.0,345.9 314.0,339.5 315.0,339.0 316.0,339.1 317.0,338.7 318.0,335.7 319.0,335.7 320.0,334.2 321.0,335.1 322.0,334.4 323.0,334.9 324.0,334.9 325.0,335.2 326.0,335.2 327.0,335.0 328.0,335.0 329.0,334.7 330.0,334.5 331.0,333.7 332.0,335.0 333.0,333.9 334.0,334.8 335.0,335.8 336.0,334.6 337.0,333.8 338.0,335.6 339.0,334.3 340.0,333.8 341.0,333.1 342.0,334.6 343.0,335.1 344.0,334.3 345.0,334.6 346.0,335.7 347.0,334.4 348.0,333.9 349.0,334.0 350.0,333.9 351.0,334.0 352.0,334.6 353.0,334.3 354.0,334.2 355.0,334.3 356.0,335.1 357.0,334.0 358.0,334.0 359.0,334.2 360.0,333.7 361.0,334.3 362.0,334.6 363.0,333.9 364.0,334.4 365.0,334.0 366.0,335.3 367.0,334.6 368.0,334.1 369.0,334.3 370.0,333.8 371.0,333.7 372.0,335.4 373.0,334.2 374.0,333.5 375.0,333.5 376.0,334.5 377.0,333.6 378.0,334.5 379.0,334.1 380.0,333.9 381.0,334.5 382.0,334.6 383.0,333.3 384.0,334.3 385.0,334.6 386.0,338.4 387.0,333.5 388.0,334.3 389.0,334.2 390.0,333.8 391.0,333.9 392.0,334.6 393.0,334.5 394.0,334.5 395.0,335.2 396.0,333.4 397.0,334.5 398.0,334.2 399.0,333.8 400.0,333.1 401.0,334.3 402.0,334.5 403.0,334.8 404.0,334.3 405.0,333.9 406.0,334.5 407.0,334.3 408.0,334.5 409.0,333.9 410.0,333.9 411.0,338.4 412.0,334.0 413.0,334.0 414.0,333.4 415.0,333.8 416.0,334.9 417.0,338.4 418.0,334.0 419.0,333.5 420.0,333.7 421.0,334.0 422.0,334.6 423.0,334.6 424.0,333.7 425.0,335.3 426.0,334.0 427.0,334.4 428.0,333.3 429.0,338.4 430.0,333.2 431.0,334.2 432.0,333.9 433.0,333.8 434.0,333.9 435.0,333.7 436.0,333.3 437.0,333.8 438.0,334.4 439.0,334.5 440.0,333.7 441.0,333.8 442.0,334.2 443.0,335.2 444.0,334.8 445.0,335.0 446.0,334.3 447.0,334.1 448.0,334.5 449.0,334.0 450.0,334.2 451.0,335.0 452.0,334.2 453.0,333.9 454.0,334.2 455.0,333.2 456.0,333.9 457.0,333.8 458.0,334.5 459.0,334.0 460.0,334.0 461.0,333.9 462.0,334.4 463.0,334.2 464.0,335.0 465.0,333.4 466.0,333.8 467.0,334.1 468.0,334.2 469.0,334.1 470.0,334.2 471.0,333.8 472.0,334.2 473.0,334.5 474.0,333.8 475.0,334.1 476.0,333.6 477.0,333.5 478.0,333.8 479.0,334.2 480.0,333.8 481.0,333.6 482.0,333.6 483.0,333.9 484.0,334.2 485.0,333.3 486.0,335.1 487.0,333.9 488.0,334.9 489.0,334.5 490.0,333.4 491.0,333.9 492.0,334.1 493.0,332.8 494.0,334.7 495.0,333.4 496.0,333.2 497.0,333.4 498.0,335.4 499.0,331.2 500.0,334.1 501.0,333.9 502.0,336.4 503.0,334.1 504.0,333.3 505.0,332.3 506.0,334.9 507.0,333.9 508.0,333.4 509.0,333.7 510.0,334.0 511.0,334.8 512.0,333.7 513.0,333.9 514.0,335.0 515.0,332.6 516.0,334.2 517.0,334.4 518.0,334.2 519.0,334.4 520.0,332.4 521.0,333.3 522.0,333.5 523.0,334.6 524.0,333.2 525.0,333.8 526.0,334.4 527.0,333.2 528.0,334.0 529.0,334.4 530.0,333.5 531.0,334.0 532.0,333.5 533.0,335.2 534.0,333.3 535.0,334.6 536.0,334.5 537.0,334.0 538.0,332.9 539.0,333.4 540.0,333.9 541.0,333.5 542.0,333.0 543.0,334.0 544.0,333.8 545.0,332.5 546.0,333.9 547.0,334.0 548.0,334.5 549.0,333.9 550.0,334.1 551.0,333.6 552.0,333.3 553.0,333.3 554.0,334.8 555.0,333.6 556.0,333.1 557.0,333.5 558.0,333.5 559.0,332.8 560.0,333.7 561.0,333.4 562.0,333.3 563.0,332.3 564.0,333.6 565.0,333.4 566.0,332.9 567.0,333.2 568.0,334.4 569.0,334.9 570.0,332.8 571.0,333.1 572.0,333.6 573.0,332.5 574.0,333.6 575.0,332.9 576.0,334.2 577.0,333.9 578.0,332.5 579.0,333.6 580.0,332.6 581.0,333.1 582.0,333.8 583.0,334.6 584.0,333.8 585.0,333.7 586.0,334.5 587.0,334.2 588.0,333.1 589.0,332.0 590.0,332.2 591.0,332.1 592.0,333.9 593.0,332.8 594.0,335.2 595.0,334.3 596.0,334.2 597.0,333.0 598.0,334.7 599.0,333.3 600.0,333.0 601.0,333.0 602.0,332.7 603.0,333.3 604.0,332.6 605.0,333.8 606.0,333.5 607.0,333.8 608.0,333.6 609.0,333.6 610.0,333.7 611.0,335.8 612.0,334.2 613.0,333.6 614.0,333.9 615.0,332.5 616.0,332.5 617.0,332.7 618.0,332.7 619.0,333.4 620.0,332.6 621.0,334.5 622.0,333.4 623.0,333.3 624.0,333.7 625.0,332.7 626.0,333.0 627.0,333.5 628.0,332.9 629.0,332.6 630.0,334.1 631.0,333.5 632.0,334.3 633.0,333.2 634.0,333.4 635.0,332.4 636.0,333.2 637.0,333.4 638.0,333.7 639.0,333.0 640.0,332.8 641.0,332.3 642.0,333.3 643.0,332.6 644.0,332.9 645.0,333.2 646.0,333.3 647.0,332.8 648.0,333.5 649.0,334.6 650.0,332.9 651.0,332.0 652.0,332.6 653.0,333.3 654.0,333.4 655.0,332.7 656.0,330.6 657.0,332.4 658.0,331.3 659.0,331.0 660.0,332.5 661.0,332.9 662.0,332.6 663.0,332.9 664.0,332.8 665.0,334.6 666.0,333.1 667.0,333.1 668.0,331.6 669.0,333.6 670.0,331.9 671.0,333.3 672.0,331.5 673.0,331.8 674.0,332.4 675.0,332.6 676.0,332.8 677.0,333.0 678.0,332.0 679.0,334.6 680.0,332.3 681.0,333.3 682.0,332.0 683.0,331.9 684.0,333.1 685.0,332.4 686.0,332.2 687.0,332.9 688.0,332.2 689.0,334.9 690.0,332.7 691.0,331.1 692.0,333.4" fill="none" stroke="#0f0" stroke-width="1.3"/><path d="M59 75.5H202" stroke="#fb0" stroke-dasharray="4 1 1 1"/><rect x="57" y="389" width="636" height="4" fill="#f00"/><rect x="71" y="394" width="10" height="2" fill="#000"/><path d="M60 383.5h4M66 383.5h5M75 383.5h3" stroke="#000"/></g><path d="M58 13.5H693M58 72.5H693M58 90.5H693M58 149.5H693M58 207.5H693M58 266.5H693M58 325.5H693M58 384.5H693M58 396.5H693M58 455.5H693M58 513.5H693M58 572.5H693M58 631.5H693M58 690.5H693M58 749.5H693M58.5 13V750M692.5 13V750" stroke="#000"/><path d="M75.5 14v1M75.5 72v-1M93.5 14v1M93.5 72v-1M110.5 14v1M110.5 72v-1M128.5 14v1M128.5 72v-1M146.5 14v1M146.5 72v-1M163.5 14v2M163.5 72v-2M181.5 14v1M181.5 72v-1M199.5 14v1M199.5 72v-1M216.5 14v1M216.5 72v-1M234.5 14v1M234.5 72v-1M252.5 14v1M252.5 72v-1M269.5 14v2M269.5 72v-2M287.5 14v1M287.5 72v-1M305.5 14v1M305.5 72v-1M322.5 14v1M322.5 72v-1M340.5 14v1M340.5 72v-1M358.5 14v1M358.5 72v-1M375.5 14v2M375.5 72v-2M393.5 14v1M393.5 72v-1M411.5 14v1M411.5 72v-1M428.5 14v1M428.5 72v-1M446.5 14v1M446.5 72v-1M464.5 14v1M464.5 72v-1M481.5 14v2M481.5 72v-2M499.5 14v1M499.5 72v-1M517.5 14v1M517.5 72v-1M534.5 14v1M534.5 72v-1M552.5 14v1M552.5 72v-1M570.5 14v1M570.5 72v-1M587.5 14v2M587.5 72v-2M605.5 14v1M605.5 72v-1M623.5 14v1M623.5 72v-1M640.5 14v1M640.5 72v-1M658.5 14v1M658.5 72v-1M676.5 14v1M676.5 72v-1M75.5 91v1M75.5 149v-1M93.5 91v1M93.5 149v-1M110.5 91v1M110.5 149v-1M128.5 91v1M128.5 149v-1M146.5 91v1M146.5 149v-1M163.5 91v2M163.5 149v-2M181.5 91v1M181.5 149v-1M199.5 91v1M199.5 149v-1M216.5 91v1M216.5 149v-1M234.5 91v1M234.5 149v-1M252.5 91v1M252.5 149v-1M269.5 91v2M269.5 149v-2M287.5 91v1M287.5 149v-1M305.5 91v1M305.5 149v-1M322.5 91v1M322.5 149v-1M340.5 91v1M340.5 149v-1M358.5 91v1M358.5 149v-1M375.5 91v2M375.5 149v-2M393.5 91v1M393.5 149v-1M411.5 91v1M411.5 149v-1M428.5 91v1M428.5 149v-1M446.5 91v1M446.5 149v-1M464.5 91v1M464.5 149v-1M481.5 91v2M481.5 149v-2M499.5 91v1M499.5 149v-1M517.5 91v1M517.5 149v-1M534.5 91v1M534.5 149v-1M552.5 91v1M552.5 149v-1M570.5 91v1M570.5 149v-1M587.5 91v2M587.5 149v-2M605.5 91v1M605.5 149v-1M623.5 91v1M623.5 149v-1M640.5 91v1M640.5 149v-1M658.5 91v1M658.5 149v-1M676.5 91v1M676.5 149v-1M75.5 150v1M75.5 207v-1M93.5 150v1M93.5 207v-1M110.5 150v1M110.5 207v-1M128.5 150v1M128.5 207v-1M146.5 150v1M146.5 207v-1M163.5 150v2M163.5 207v-2M181.5 150v1M181.5 207v-1M199.5 150v1M199.5 207v-1M216.5 150v1M216.5 207v-1M234.5 150v1M234.5 207v-1M252.5 150v1M252.5 207v-1M269.5 150v2M269.5 207v-2M287.5 150v1M287.5 207v-1M305.5 150v1M305.5 207v-1M322.5 150v1M322.5 207v-1M340.5 150v1M340.5 207v-1M358.5 150v1M358.5 207v-1M375.5 150v2M375.5 207v-2M393.5 150v1M393.5 207v-1M411.5 150v1M411.5 207v-1M428.5 150v1M428.5 207v-1M446.5 150v1M446.5 207v-1M464.5 150v1M464.5 207v-1M481.5 150v2M481.5 207v-2M499.5 150v1M499.5 207v-1M517.5 150v1M517.5 207v-1M534.5 150v1M534.5 207v-1M552.5 150v1M552.5 207v-1M570.5 150v1M570.5 207v-1M587.5 150v2M587.5 207v-2M605.5 150v1M605.5 207v-1M623.5 150v1M623.5 207v-1M640.5 150v1M640.5 207v-1M658.5 150v1M658.5 207v-1M676.5 150v1M676.5 207v-1M75.5 208v1M75.5 266v-1M93.5 208v1M93.5 266v-1M110.5 208v1M110.5 266v-1M128.5 208v1M128.5 266v-1M146.5 208v1M146.5 266v-1M163.5 208v2M163.5 266v-2M181.5 208v1M181.5 266v-1M199.5 208v1M199.5 266v-1M216.5 208v1M216.5 266v-1M234.5 208v1M234.5 266v-1M252.5 208v1M252.5 266v-1M269.5 208v2M269.5 266v-2M287.5 208v1M287.5 266v-1M305.5 208v1M305.5 266v-1M322.5 208v1M322.5 266v-1M340.5 208v1M340.5 266v-1M358.5 208v1M358.5 266v-1M375.5 208v2M375.5 266v-2M393.5 208v1M393.5 266v-1M411.5 208v1M411.5 266v-1M428.5 208v1M428.5 266v-1M446.5 208v1M446.5 266v-1M464.5 208v1M464.5 266v-1M481.5 208v2M481.5 266v-2M499.5 208v1M499.5 266v-1M517.5 208v1M517.5 266v-1M534.5 208v1M534.5 266v-1M552.5 208v1M552.5 266v-1M570.5 208v1M570.5 266v-1M587.5 208v2M587.5 266v-2M605.5 208v1M605.5 266v-1M623.5 208v1M623.5 266v-1M640.5 208v1M640.5 266v-1M658.5 208v1M658.5 266v-1M676.5 208v1M676.5 266v-1M75.5 267v1M75.5 325v-1M93.5 267v1M93.5 325v-1M110.5 267v1M110.5 325v-1M128.5 267v1M128.5 325v-1M146.5 267v1M146.5 325v-1M163.5 267v2M163.5 325v-2M181.5 267v1M181.5 325v-1M199.5 267v1M199.5 325v-1M216.5 267v1M216.5 325v-1M234.5 267v1M234.5 325v-1M252.5 267v1M252.5 325v-1M269.5 267v2M269.5 325v-2M287.5 267v1M287.5 325v-1M305.5 267v1M305.5 325v-1M322.5 267v1M322.5 325v-1M340.5 267v1M340.5 325v-1M358.5 267v1M358.5 325v-1M375.5 267v2M375.5 325v-2M393.5 267v1M393.5 325v-1M411.5 267v1M411.5 325v-1M428.5 267v1M428.5 325v-1M446.5 267v1M446.5 325v-1M464.5 267v1M464.5 325v-1M481.5 267v2M481.5 325v-2M499.5 267v1M499.5 325v-1M517.5 267v1M517.5 325v-1M534.5 267v1M534.5 325v-1M552.5 267v1M552.5 325v-1M570.5 267v1M570.5 325v-1M587.5 267v2M587.5 325v-2M605.5 267v1M605.5 325v-1M623.5 267v1M623.5 325v-1M640.5 267v1M640.5 325v-1M658.5 267v1M658.5 325v-1M676.5 267v1M676.5 325v-1M75.5 326v1M75.5 384v-1M93.5 326v1M93.5 384v-1M110.5 326v1M110.5 384v-1M128.5 326v1M128.5 384v-1M146.5 326v1M146.5 384v-1M163.5 326v2M163.5 384v-2M181.5 326v1M181.5 384v-1M199.5 326v1M199.5 384v-1M216.5 326v1M216.5 384v-1M234.5 326v1M234.5 384v-1M252.5 326v1M252.5 384v-1M269.5 326v2M269.5 384v-2M287.5 326v1M287.5 384v-1M305.5 326v1M305.5 384v-1M322.5 326v1M322.5 384v-1M340.5 326v1M340.5 384v-1M358.5 326v1M358.5 384v-1M375.5 326v2M375.5 384v-2M393.5 326v1M393.5 384v-1M411.5 326v1M411.5 384v-1M428.5 326v1M428.5 384v-1M446.5 326v1M446.5 384v-1M464.5 326v1M464.5 384v-1M481.5 326v2M481.5 384v-2M499.5 326v1M499.5 384v-1M517.5 326v1M517.5 384v-1M534.5 326v1M534.5 384v-1M552.5 326v1M552.5 384v-1M570.5 326v1M570.5 384v-1M587.5 326v2M587.5 384v-2M605.5 326v1M605.5 384v-1M623.5 326v1M623.5 384v-1M640.5 326v1M640.5 384v-1M658.5 326v1M658.5 384v-1M676.5 326v1M676.5 384v-1M75.5 397v1M75.5 455v-1M93.5 397v1M93.5 455v-1M110.5 397v1M110.5 455v-1M128.5 397v1M128.5 455v-1M146.5 397v1M146.5 455v-1M163.5 397v2M163.5 455v-2M181.5 397v1M181.5 455v-1M199.5 397v1M199.5 455v-1M216.5 397v1M216.5 455v-1M234.5 397v1M234.5 455v-1M252.5 397v1M252.5 455v-1M269.5 397v2M269.5 455v-2M287.5 397v1M287.5 455v-1M305.5 397v1M305.5 455v-1M322.5 397v1M322.5 455v-1M340.5 397v1M340.5 455v-1M358.5 397v1M358.5 455v-1M375.5 397v2M375.5 455v-2M393.5 397v1M393.5 455v-1M411.5 397v1M411.5 455v-1M428.5 397v1M428.5 455v-1M446.5 397v1M446.5 455v-1M464.5 397v1M464.5 455v-1M481.5 397v2M481.5 455v-2M499.5 397v1M499.5 455v-1M517.5 397v1M517.5 455v-1M534.5 397v1M534.5 455v-1M552.5 397v1M552.5 455v-1M570.5 397v1M570.5 455v-1M587.5 397v2M587.5 455v-2M605.5 397v1M605.5 455v-1M623.5 397v1M623.5 455v-1M640.5 397v1M640.5 455v-1M658.5 397v1M658.5 455v-1M676.5 397v1M676.5 455v-1M75.5 456v1M75.5 513v-1M93.5 456v1M93.5 513v-1M110.5 456v1M110.5 513v-1M128.5 456v1M128.5 513v-1M146.5 456v1M146.5 513v-1M163.5 456v2M163.5 513v-2M181.5 456v1M181.5 513v-1M199.5 456v1M199.5 513v-1M216.5 456v1M216.5 513v-1M234.5 456v1M234.5 513v-1M252.5 456v1M252.5 513v-1M269.5 456v2M269.5 513v-2M287.5 456v1M287.5 513v-1M305.5 456v1M305.5 513v-1M322.5 456v1M322.5 513v-1M340.5 456v1M340.5 513v-1M358.5 456v1M358.5 513v-1M375.5 456v2M375.5 513v-2M393.5 456v1M393.5 513v-1M411.5 456v1M411.5 513v-1M428.5 456v1M428.5 513v-1M446.5 456v1M446.5 513v-1M464.5 456v1M464.5 513v-1M481.5 456v2M481.5 513v-2M499.5 456v1M499.5 513v-1M517.5 456v1M517.5 513v-1M534.5 456v1M534.5 513v-1M552.5 456v1M552.5 513v-1M570.5 456v1M570.5 513v-1M587.5 456v2M587.5 513v-2M605.5 456v1M605.5 513v-1M623.5 456v1M623.5 513v-1M640.5 456v1M640.5 513v-1M658.5 456v1M658.5 513v-1M676.5 456v1M676.5 513v-1M75.5 514v1M75.5 572v-1M93.5 514v1M93.5 572v-1M110.5 514v1M110.5 572v-1M128.5 514v1M128.5 572v-1M146.5 514v1M146.5 572v-1M163.5 514v2M163.5 572v-2M181.5 514v1M181.5 572v-1M199.5 514v1M199.5 572v-1M216.5 514v1M216.5 572v-1M234.5 514v1M234.5 572v-1M252.5 514v1M252.5 572v-1M269.5 514v2M269.5 572v-2M287.5 514v1M287.5 572v-1M305.5 514v1M305.5 572v-1M322.5 514v1M322.5 572v-1M340.5 514v1M340.5 572v-1M358.5 514v1M358.5 572v-1M375.5 514v2M375.5 572v-2M393.5 514v1M393.5 572v-1M411.5 514v1M411.5 572v-1M428.5 514v1M428.5 572v-1M446.5 514v1M446.5 572v-1M464.5 514v1M464.5 572v-1M481.5 514v2M481.5 572v-2M499.5 514v1M499.5 572v-1M517.5 514v1M517.5 572v-1M534.5 514v1M534.5 572v-1M552.5 514v1M552.5 572v-1M570.5 514v1M570.5 572v-1M587.5 514v2M587.5 572v-2M605.5 514v1M605.5 572v-1M623.5 514v1M623.5 572v-1M640.5 514v1M640.5 572v-1M658.5 514v1M658.5 572v-1M676.5 514v1M676.5 572v-1M75.5 573v1M75.5 631v-1M93.5 573v1M93.5 631v-1M110.5 573v1M110.5 631v-1M128.5 573v1M128.5 631v-1M146.5 573v1M146.5 631v-1M163.5 573v2M163.5 631v-2M181.5 573v1M181.5 631v-1M199.5 573v1M199.5 631v-1M216.5 573v1M216.5 631v-1M234.5 573v1M234.5 631v-1M252.5 573v1M252.5 631v-1M269.5 573v2M269.5 631v-2M287.5 573v1M287.5 631v-1M305.5 573v1M305.5 631v-1M322.5 573v1M322.5 631v-1M340.5 573v1M340.5 631v-1M358.5 573v1M358.5 631v-1M375.5 573v2M375.5 631v-2M393.5 573v1M393.5 631v-1M411.5 573v1M411.5 631v-1M428.5 573v1M428.5 631v-1M446.5 573v1M446.5 631v-1M464.5 573v1M464.5 631v-1M481.5 573v2M481.5 631v-2M499.5 573v1M499.5 631v-1M517.5 573v1M517.5 631v-1M534.5 573v1M534.5 631v-1M552.5 573v1M552.5 631v-1M570.5 573v1M570.5 631v-1M587.5 573v2M587.5 631v-2M605.5 573v1M605.5 631v-1M623.5 573v1M623.5 631v-1M640.5 573v1M640.5 631v-1M658.5 573v1M658.5 631v-1M676.5 573v1M676.5 631v-1M75.5 632v1M75.5 690v-1M93.5 632v1M93.5 690v-1M110.5 632v1M110.5 690v-1M128.5 632v1M128.5 690v-1M146.5 632v1M146.5 690v-1M163.5 632v2M163.5 690v-2M181.5 632v1M181.5 690v-1M199.5 632v1M199.5 690v-1M216.5 632v1M216.5 690v-1M234.5 632v1M234.5 690v-1M252.5 632v1M252.5 690v-1M269.5 632v2M269.5 690v-2M287.5 632v1M287.5 690v-1M305.5 632v1M305.5 690v-1M322.5 632v1M322.5 690v-1M340.5 632v1M340.5 690v-1M358.5 632v1M358.5 690v-1M375.5 632v2M375.5 690v-2M393.5 632v1M393.5 690v-1M411.5 632v1M411.5 690v-1M428.5 632v1M428.5 690v-1M446.5 632v1M446.5 690v-1M464.5 632v1M464.5 690v-1M481.5 632v2M481.5 690v-2M499.5 632v1M499.5 690v-1M517.5 632v1M517.5 690v-1M534.5 632v1M534.5 690v-1M552.5 632v1M552.5 690v-1M570.5 632v1M570.5 690v-1M587.5 632v2M587.5 690v-2M605.5 632v1M605.5 690v-1M623.5 632v1M623.5 690v-1M640.5 632v1M640.5 690v-1M658.5 632v1M658.5 690v-1M676.5 632v1M676.5 690v-1M75.5 691v1M75.5 749v-1M93.5 691v1M93.5 749v-1M110.5 691v1M110.5 749v-1M128.5 691v1M128.5 749v-1M146.5 691v1M146.5 749v-1M163.5 691v2M163.5 749v-2M181.5 691v1M181.5 749v-1M199.5 691v1M199.5 749v-1M216.5 691v1M216.5 749v-1M234.5 691v1M234.5 749v-1M252.5 691v1M252.5 749v-1M269.5 691v2M269.5 749v-2M287.5 691v1M287.5 749v-1M305.5 691v1M305.5 749v-1M322.5 691v1M322.5 749v-1M340.5 691v1M340.5 749v-1M358.5 691v1M358.5 749v-1M375.5 691v2M375.5 749v-2M393.5 691v1M393.5 749v-1M411.5 691v1M411.5 749v-1M428.5 691v1M428.5 749v-1M446.5 691v1M446.5 749v-1M464.5 691v1M464.5 749v-1M481.5 691v2M481.5 749v-2M499.5 691v1M499.5 749v-1M517.5 691v1M517.5 749v-1M534.5 691v1M534.5 749v-1M552.5 691v1M552.5 749v-1M570.5 691v1M570.5 749v-1M587.5 691v2M587.5 749v-2M605.5 691v1M605.5 749v-1M623.5 691v1M623.5 749v-1M640.5 691v1M640.5 749v-1M658.5 691v1M658.5 749v-1M676.5 691v1M676.5 749v-1" stroke="#000"/><path d="M59 62.5h12M692 62.5h-12M59 52.5h12M692 52.5h-12M59 42.5h12M692 42.5h-12M59 33.5h12M692 33.5h-12M59 23.5h12M692 23.5h-12M59 70.5h6M692 70.5h-6M59 68.5h6M692 68.5h-6M59 66.5h6M692 66.5h-6M59 64.5h6M692 64.5h-6M59 60.5h6M692 60.5h-6M59 58.5h6M692 58.5h-6M59 56.5h6M692 56.5h-6M59 54.5h6M692 54.5h-6M59 50.5h6M692 50.5h-6M59 48.5h6M692 48.5h-6M59 46.5h6M692 46.5h-6M59 44.5h6M692 44.5h-6M59 41.5h6M692 41.5h-6M59 39.5h6M692 39.5h-6M59 37.5h6M692 37.5h-6M59 35.5h6M692 35.5h-6M59 31.5h6M692 31.5h-6M59 29.5h6M692 29.5h-6M59 27.5h6M692 27.5h-6M59 25.5h6M692 25.5h-6M59 21.5h6M692 21.5h-6M59 19.5h6M692 19.5h-6M59 17.5h6M692 17.5h-6M59 15.5h6M692 15.5h-6" stroke="#000"/><text x="55.5" y="19.0" text-anchor="end">300</text><text x="55.5" y="27.0" text-anchor="end">250</text><text x="55.5" y="36.7" text-anchor="end">200</text><text x="55.5" y="46.5" text-anchor="end">150</text><text x="55.5" y="56.2" text-anchor="end">100</text><text x="55.5" y="66.0" text-anchor="end">50</text><text x="55.5" y="72.5" text-anchor="end">0</text><text x="34.0" y="43.5" text-anchor="middle" transform="rotate(-90 34.0 43.5)">AE Index</text><text x="45.0" y="81.5" text-anchor="middle" transform="rotate(-90 45.0 81.5)">ROI</text><path d="M59 139.5h12M692 139.5h-12M59 129.5h12M692 129.5h-12M59 119.5h12M692 119.5h-12M59 109.5h12M692 109.5h-12M59 99.5h12M692 99.5h-12M59 147.5h6M692 147.5h-6M59 145.5h6M692 145.5h-6M59 143.5h6M692 143.5h-6M59 141.5h6M692 141.5h-6M59 137.5h6M692 137.5h-6M59 135.5h6M692 135.5h-6M59 133.5h6M692 133.5h-6M59 131.5h6M692 131.5h-6M59 127.5h6M692 127.5h-6M59 125.5h6M692 125.5h-6M59 123.5h6M692 123.5h-6M59 121.5h6M692 121.5h-6M59 117.5h6M692 117.5h-6M59 115.5h6M692 115.5h-6M59 113.5h6M692 113.5h-6M59 111.5h6M692 111.5h-6M59 107.5h6M692 107.5h-6M59 105.5h6M692 105.5h-6M59 103.5h6M692 103.5h-6M59 101.5h6M692 101.5h-6M59 97.5h6M692 97.5h-6M59 95.5h6M692 95.5h-6M59 93.5h6M692 93.5h-6M59 91.5h6M692 91.5h-6" stroke="#000"/><text x="55.5" y="96.5" text-anchor="end">300</text><text x="55.5" y="103.2" text-anchor="end">250</text><text x="55.5" y="113.2" text-anchor="end">200</text><text x="55.5" y="123.2" text-anchor="end">150</text><text x="55.5" y="133.2" text-anchor="end">100</text><text x="55.5" y="143.2" text-anchor="end">50</text><text x="55.5" y="149.5" text-anchor="end">0</text><text x="34.0" y="120.0" text-anchor="middle" transform="rotate(-90 34.0 120.0)">Keogram</text><path d="M59 163.5h12M692 163.5h-12M59 178.5h12M692 178.5h-12M59 192.5h12M692 192.5h-12M59 203.5h6M692 203.5h-6M59 200.5h6M692 200.5h-6M59 196.5h6M692 196.5h-6M59 189.5h6M692 189.5h-6M59 185.5h6M692 185.5h-6M59 181.5h6M692 181.5h-6M59 174.5h6M692 174.5h-6M59 170.5h6M692 170.5h-6M59 167.5h6M692 167.5h-6M59 159.5h6M692 159.5h-6M59 156.5h6M692 156.5h-6M59 152.5h6M692 152.5h-6" stroke="#000"/><text x="55.5" y="155.0" text-anchor="end">40</text><text x="55.5" y="166.5" text-anchor="end">20</text><text x="55.5" y="181.2" text-anchor="end">0</text><text x="55.5" y="195.9" text-anchor="end">−20</text><text x="55.5" y="207.5" text-anchor="end">−40</text><text x="17.0" y="178.0" text-anchor="middle" transform="rotate(-90 17.0 178.0)">B FIT</text><text x="24.5" y="178.0" text-anchor="middle" transform="rotate(-90 24.5 178.0)">GSE</text><text x="32.0" y="178.0" text-anchor="middle" transform="rotate(-90 32.0 178.0)">[nT]</text><path d="M59 222.5h12M692 222.5h-12M59 234.5h12M692 234.5h-12M59 247.5h12M692 247.5h-12M59 260.5h12M692 260.5h-12M59 215.5h6M692 215.5h-6M59 228.5h6M692 228.5h-6M59 241.5h6M692 241.5h-6M59 253.5h6M692 253.5h-6" stroke="#000"/><text x="55.5" y="214.5" text-anchor="end">10<tspan dy="-3" font-size="6">6</tspan></text><text x="55.5" y="225.2" text-anchor="end">10<tspan dy="-3" font-size="6">4</tspan></text><text x="55.5" y="237.9" text-anchor="end">10<tspan dy="-3" font-size="6">2</tspan></text><text x="55.5" y="250.6" text-anchor="end">10<tspan dy="-3" font-size="6">0</tspan></text><text x="55.5" y="263.3" text-anchor="end">10<tspan dy="-3" font-size="6">−2</tspan></text><text x="17.0" y="237.0" text-anchor="middle" transform="rotate(-90 17.0 237.0)">Ni</text><text x="25.0" y="237.0" text-anchor="middle" transform="rotate(-90 25.0 237.0)">elec</text><text x="32.0" y="237.0" text-anchor="middle" transform="rotate(-90 32.0 237.0)">[1/cc]</text><path d="M59 274.5h12M692 274.5h-12M59 285.5h12M692 285.5h-12M59 296.5h12M692 296.5h-12M59 306.5h12M692 306.5h-12M59 317.5h12M692 317.5h-12" stroke="#000"/><text x="55.5" y="277.5" text-anchor="end">200</text><text x="55.5" y="288.2" text-anchor="end">100</text><text x="55.5" y="299.0" text-anchor="end">0</text><text x="55.5" y="309.8" text-anchor="end">−100</text><text x="55.5" y="320.5" text-anchor="end">−200</text><path d="M62 267V325M689 267V325" stroke="#000" stroke-width="6"/><text x="19.5" y="296.7" text-anchor="middle" transform="rotate(-90 19.5 296.7)">Vi</text><text x="27.3" y="296.7" text-anchor="middle" transform="rotate(-90 27.3 296.7)">[km/s]</text><path d="M73 296.5H686" stroke="#000" stroke-dasharray="1 3"/><path d="M59 337.5h12M692 337.5h-12M59 349.5h12M692 349.5h-12M59 361.5h12M692 361.5h-12M59 372.5h12M692 372.5h-12M59 380.5h6M692 380.5h-6M59 378.5h6M692 378.5h-6M59 377.5h6M692 377.5h-6M59 376.5h6M692 376.5h-6M59 375.5h6M692 375.5h-6M59 374.5h6M692 374.5h-6M59 373.5h6M692 373.5h-6M59 373.5h6M692 373.5h-6M59 369.5h6M692 369.5h-6M59 367.5h6M692 367.5h-6M59 365.5h6M692 365.5h-6M59 364.5h6M692 364.5h-6M59 363.5h6M692 363.5h-6M59 362.5h6M692 362.5h-6M59 362.5h6M692 362.5h-6M59 361.5h6M692 361.5h-6M59 357.5h6M692 357.5h-6M59 355.5h6M692 355.5h-6M59 353.5h6M692 353.5h-6M59 352.5h6M692 352.5h-6M59 351.5h6M692 351.5h-6M59 351.5h6M692 351.5h-6M59 350.5h6M692 350.5h-6M59 349.5h6M692 349.5h-6M59 345.5h6M692 345.5h-6M59 343.5h6M692 343.5h-6M59 342.5h6M692 342.5h-6M59 341.5h6M692 341.5h-6M59 340.5h6M692 340.5h-6M59 339.5h6M692 339.5h-6M59 338.5h6M692 338.5h-6M59 338.5h6M692 338.5h-6M59 334.5h6M692 334.5h-6M59 332.5h6M692 332.5h-6M59 330.5h6M692 330.5h-6M59 329.5h6M692 329.5h-6M59 328.5h6M692 328.5h-6M59 327.5h6M692 327.5h-6M59 327.5h6M692 327.5h-6M59 326.5h6M692 326.5h-6" stroke="#000"/><text x="55.5" y="340.6" text-anchor="end">1000.0</text><text x="55.5" y="352.3" text-anchor="end">100.0</text><text x="55.5" y="364.0" text-anchor="end">10.0</text><text x="55.5" y="375.7" text-anchor="end">1.0</text><text x="55.5" y="384.5" text-anchor="end">0.1</text><text x="6.0" y="356.0" text-anchor="middle" transform="rotate(-90 6.0 356.0)">Ti</text><text x="15.0" y="356.0" text-anchor="middle" transform="rotate(-90 15.0 356.0)">elec</text><text x="22.5" y="356.0" text-anchor="middle" transform="rotate(-90 22.5 356.0)">[eV]</text><path d="M59 413.5h12M692 413.5h-12M59 443.5h12M692 443.5h-12M59 452.5h6M692 452.5h-6M59 449.5h6M692 449.5h-6M59 447.5h6M692 447.5h-6M59 446.5h6M692 446.5h-6M59 444.5h6M692 444.5h-6M59 434.5h6M692 434.5h-6M59 428.5h6M692 428.5h-6M59 425.5h6M692 425.5h-6M59 422.5h6M692 422.5h-6M59 419.5h6M692 419.5h-6M59 417.5h6M692 417.5h-6M59 416.5h6M692 416.5h-6M59 414.5h6M692 414.5h-6M59 404.5h6M692 404.5h-6M59 398.5h6M692 398.5h-6" stroke="#000"/><text x="55.5" y="416.2" text-anchor="end">10<tspan dy="-3" font-size="6">6</tspan></text><text x="55.5" y="446.2" text-anchor="end">10<tspan dy="-3" font-size="6">5</tspan></text><text x="20.7" y="426.0" text-anchor="middle" transform="rotate(-90 20.7 426.0)">SST</text><text x="29.0" y="426.0" text-anchor="middle" transform="rotate(-90 29.0 426.0)">ions</text><text x="36.7" y="426.0" text-anchor="middle" transform="rotate(-90 36.7 426.0)">[eV]</text><path d="M59 461.5h12M692 461.5h-12M59 477.5h12M692 477.5h-12M59 494.5h12M692 494.5h-12M59 510.5h12M692 510.5h-12M59 512.5h6M692 512.5h-6M59 511.5h6M692 511.5h-6M59 510.5h6M692 510.5h-6M59 505.5h6M692 505.5h-6M59 502.5h6M692 502.5h-6M59 500.5h6M692 500.5h-6M59 498.5h6M692 498.5h-6M59 497.5h6M692 497.5h-6M59 496.5h6M692 496.5h-6M59 495.5h6M692 495.5h-6M59 494.5h6M692 494.5h-6M59 489.5h6M692 489.5h-6M59 486.5h6M692 486.5h-6M59 484.5h6M692 484.5h-6M59 482.5h6M692 482.5h-6M59 481.5h6M692 481.5h-6M59 480.5h6M692 480.5h-6M59 479.5h6M692 479.5h-6M59 478.5h6M692 478.5h-6M59 473.5h6M692 473.5h-6M59 470.5h6M692 470.5h-6M59 468.5h6M692 468.5h-6M59 466.5h6M692 466.5h-6M59 465.5h6M692 465.5h-6M59 464.5h6M692 464.5h-6M59 463.5h6M692 463.5h-6M59 462.5h6M692 462.5h-6M59 456.5h6M692 456.5h-6" stroke="#000"/><text x="55.5" y="464.8" text-anchor="end">10000</text><text x="55.5" y="480.9" text-anchor="end">1000</text><text x="55.5" y="497.1" text-anchor="end">100</text><text x="55.5" y="513.2" text-anchor="end">10</text><text x="8.7" y="484.5" text-anchor="middle" transform="rotate(-90 8.7 484.5)">ESA</text><text x="17.6" y="484.5" text-anchor="middle" transform="rotate(-90 17.6 484.5)">ions</text><text x="25.5" y="484.5" text-anchor="middle" transform="rotate(-90 25.5 484.5)">[eV]</text><path d="M59 551.5h12M692 551.5h-12M59 570.5h6M692 570.5h-6M59 565.5h6M692 565.5h-6M59 562.5h6M692 562.5h-6M59 559.5h6M692 559.5h-6M59 556.5h6M692 556.5h-6M59 554.5h6M692 554.5h-6M59 552.5h6M692 552.5h-6M59 539.5h6M692 539.5h-6M59 533.5h6M692 533.5h-6M59 528.5h6M692 528.5h-6M59 525.5h6M692 525.5h-6M59 522.5h6M692 522.5h-6M59 519.5h6M692 519.5h-6M59 517.5h6M692 517.5h-6M59 515.5h6M692 515.5h-6" stroke="#000"/><text x="55.5" y="554.0" text-anchor="end">10<tspan dy="-3" font-size="6">5</tspan></text><text x="20.7" y="543.0" text-anchor="middle" transform="rotate(-90 20.7 543.0)">SST</text><text x="29.2" y="543.0" text-anchor="middle" transform="rotate(-90 29.2 543.0)">elec</text><text x="37.0" y="543.0" text-anchor="middle" transform="rotate(-90 37.0 543.0)">[eV]</text><path d="M59 581.5h12M692 581.5h-12M59 597.5h12M692 597.5h-12M59 613.5h12M692 613.5h-12M59 628.5h12M692 628.5h-12M59 630.5h6M692 630.5h-6M59 629.5h6M692 629.5h-6M59 624.5h6M692 624.5h-6M59 621.5h6M692 621.5h-6M59 619.5h6M692 619.5h-6M59 617.5h6M692 617.5h-6M59 616.5h6M692 616.5h-6M59 615.5h6M692 615.5h-6M59 614.5h6M692 614.5h-6M59 613.5h6M692 613.5h-6M59 608.5h6M692 608.5h-6M59 605.5h6M692 605.5h-6M59 603.5h6M692 603.5h-6M59 601.5h6M692 601.5h-6M59 600.5h6M692 600.5h-6M59 599.5h6M692 599.5h-6M59 598.5h6M692 598.5h-6M59 597.5h6M692 597.5h-6M59 592.5h6M692 592.5h-6M59 589.5h6M692 589.5h-6M59 587.5h6M692 587.5h-6M59 585.5h6M692 585.5h-6M59 584.5h6M692 584.5h-6M59 583.5h6M692 583.5h-6M59 582.5h6M692 582.5h-6M59 581.5h6M692 581.5h-6M59 576.5h6M692 576.5h-6M59 573.5h6M692 573.5h-6" stroke="#000"/><text x="55.5" y="584.2" text-anchor="end">10000</text><text x="55.5" y="600.1" text-anchor="end">1000</text><text x="55.5" y="616.0" text-anchor="end">100</text><text x="55.5" y="631.9" text-anchor="end">10</text><text x="8.7" y="602.0" text-anchor="middle" transform="rotate(-90 8.7 602.0)">ESA</text><text x="17.6" y="602.0" text-anchor="middle" transform="rotate(-90 17.6 602.0)">elec</text><text x="25.5" y="602.0" text-anchor="middle" transform="rotate(-90 25.5 602.0)">[eV]</text><path d="" stroke="#000"/><text x="55.5" y="641.2" text-anchor="end">1000</text><text x="55.5" y="660.3" text-anchor="end">100</text><text x="55.5" y="679.8" text-anchor="end">10</text><text x="13.8" y="660.7" text-anchor="middle" transform="rotate(-90 13.8 660.7)">FBK</text><text x="22.5" y="660.7" text-anchor="middle" transform="rotate(-90 22.5 660.7)">edc12</text><text x="30.7" y="660.7" text-anchor="middle" transform="rotate(-90 30.7 660.7)">[Hz]</text><path d="M59 696.5h12M692 696.5h-12M59 716.5h12M692 716.5h-12M59 736.5h12M692 736.5h-12M59 746.5h6M692 746.5h-6M59 744.5h6M692 744.5h-6M59 742.5h6M692 742.5h-6M59 740.5h6M692 740.5h-6M59 739.5h6M692 739.5h-6M59 738.5h6M692 738.5h-6M59 737.5h6M692 737.5h-6M59 730.5h6M692 730.5h-6M59 726.5h6M692 726.5h-6M59 724.5h6M692 724.5h-6M59 722.5h6M692 722.5h-6M59 720.5h6M692 720.5h-6M59 719.5h6M692 719.5h-6M59 718.5h6M692 718.5h-6M59 717.5h6M692 717.5h-6M59 710.5h6M692 710.5h-6M59 707.5h6M692 707.5h-6M59 704.5h6M692 704.5h-6M59 702.5h6M692 702.5h-6M59 701.5h6M692 701.5h-6M59 699.5h6M692 699.5h-6M59 698.5h6M692 698.5h-6M59 697.5h6M692 697.5h-6" stroke="#000"/><text x="55.5" y="699.7" text-anchor="end">1000</text><text x="55.5" y="719.5" text-anchor="end">100</text><text x="55.5" y="739.2" text-anchor="end">10</text><text x="13.8" y="720.0" text-anchor="middle" transform="rotate(-90 13.8 720.0)">FBK</text><text x="22.5" y="720.0" text-anchor="middle" transform="rotate(-90 22.5 720.0)">scm1</text><text x="30.7" y="720.0" text-anchor="middle" transform="rotate(-90 30.7 720.0)">[Hz]</text><g fill="none"><polyline points="58.0,312.0 59.8,309.6 61.0,314.4 62.4,316.8 63.6,303.6 65.2,290.4 66.0,300.0 67.2,322.8 68.2,309.6 69.4,300.0 70.8,314.4 71.8,319.8 73.0,316.8 74.2,315.6 75.4,289.2 76.6,300.0 78.0,295.2 79.6,300.0 80.5,318.0 81.7,319.2 82.9,321.6" fill="none" stroke="#00f" stroke-width="1.2"/><polyline points="58.0,298.8 59.2,295.2 60.4,302.4 61.2,294.0 62.4,310.8 63.6,303.6 64.8,294.0 66.4,298.8 67.6,316.8 68.4,304.8 70.0,303.6 71.2,310.8 72.4,304.8 74.2,306.0 75.6,297.6 77.2,285.6 78.4,298.8 79.6,287.4 80.5,303.6 81.4,310.8 82.4,303.6" fill="none" stroke="#0f0" stroke-width="1.2"/><polyline points="58.0,303.6 59.2,309.6 60.4,300.0 61.6,304.8 62.8,295.2 63.6,290.4 64.6,300.0 65.8,292.8 67.0,275.4 68.0,295.2 68.8,300.0 70.0,292.2 71.2,307.2 72.4,300.0 73.6,304.8 74.8,302.4 76.0,313.2 77.2,300.0 78.4,292.8 79.6,292.2 80.8,303.6 82.4,302.4 82.6,307.2" fill="none" stroke="#f00" stroke-width="1.4"/></g><defs><linearGradient id="cb" x1="0" y1="1" x2="0" y2="0"><stop offset="0" stop-color="#000000"/><stop offset="0.04" stop-color="#200030"/><stop offset="0.11" stop-color="#6000a0"/><stop offset="0.2" stop-color="#0000ff"/><stop offset="0.26" stop-color="#0060ff"/><stop offset="0.38" stop-color="#00ffff"/><stop offset="0.53" stop-color="#00ff00"/><stop offset="0.68" stop-color="#ffff00"/><stop offset="0.78" stop-color="#ff8000"/><stop offset="0.89" stop-color="#ff0000"/><stop offset="1" stop-color="#960000"/></linearGradient></defs><rect x="697.5" y="90.5" width="5" height="59" fill="url(#cb)" stroke="#000"/><text x="705.0" y="97.0">1.2×10<tspan dy="-3" font-size="6">4</tspan></text><text x="705.0" y="109.0">1.0×10<tspan dy="-3" font-size="6">4</tspan></text><text x="705.0" y="120.5">8.0×10<tspan dy="-3" font-size="6">3</tspan></text><text x="705.0" y="132.0">6.0×10<tspan dy="-3" font-size="6">3</tspan></text><text x="705.0" y="144.0">4.0×10<tspan dy="-3" font-size="6">3</tspan></text><text x="745.0" y="120.0" text-anchor="middle" transform="rotate(-90 745.0 120.0)">[counts]</text><rect x="697.5" y="396.5" width="5" height="59" fill="url(#cb)" stroke="#000"/><text x="705.0" y="413.0">10<tspan dy="-3" font-size="6">6</tspan></text><text x="705.0" y="428.0">10<tspan dy="-3" font-size="6">4</tspan></text><text x="705.0" y="443.0">10<tspan dy="-3" font-size="6">2</tspan></text><text x="705.0" y="455.5">10<tspan dy="-3" font-size="6">0</tspan></text><text x="727.0" y="425.0" text-anchor="middle" transform="rotate(-90 727.0 425.0)">Eflux, EFU</text><rect x="697.5" y="455.5" width="5" height="58" fill="url(#cb)" stroke="#000"/><text x="705.0" y="466.0">10<tspan dy="-3" font-size="6">8</tspan></text><text x="705.0" y="476.5">10<tspan dy="-3" font-size="6">7</tspan></text><text x="705.0" y="486.0">10<tspan dy="-3" font-size="6">6</tspan></text><text x="705.0" y="496.5">10<tspan dy="-3" font-size="6">5</tspan></text><text x="705.0" y="506.0">10<tspan dy="-3" font-size="6">4</tspan></text><text x="705.0" y="513.0">10<tspan dy="-3" font-size="6">3</tspan></text><text x="727.0" y="484.0" text-anchor="middle" transform="rotate(-90 727.0 484.0)">Eflux, EFU</text><rect x="697.5" y="513.5" width="5" height="59" fill="url(#cb)" stroke="#000"/><text x="705.0" y="530.0">10<tspan dy="-3" font-size="6">6</tspan></text><text x="705.0" y="545.0">10<tspan dy="-3" font-size="6">4</tspan></text><text x="705.0" y="560.0">10<tspan dy="-3" font-size="6">2</tspan></text><text x="705.0" y="572.5">10<tspan dy="-3" font-size="6">0</tspan></text><text x="727.0" y="543.0" text-anchor="middle" transform="rotate(-90 727.0 543.0)">Eflux, EFU</text><rect x="697.5" y="572.5" width="5" height="59" fill="url(#cb)" stroke="#000"/><text x="705.0" y="586.0">10<tspan dy="-3" font-size="6">8</tspan></text><text x="705.0" y="598.0">10<tspan dy="-3" font-size="6">7</tspan></text><text x="705.0" y="610.0">10<tspan dy="-3" font-size="6">6</tspan></text><text x="705.0" y="622.0">10<tspan dy="-3" font-size="6">5</tspan></text><text x="705.0" y="631.5">10<tspan dy="-3" font-size="6">4</tspan></text><text x="727.0" y="602.0" text-anchor="middle" transform="rotate(-90 727.0 602.0)">Eflux, EFU</text><rect x="697.5" y="631.5" width="5" height="59" fill="url(#cb)" stroke="#000"/><text x="705.0" y="640.0">1.000</text><text x="705.0" y="658.0">0.100</text><text x="705.0" y="676.0">0.010</text><text x="705.0" y="689.5">0.001</text><text x="737.0" y="661.0" text-anchor="middle" transform="rotate(-90 737.0 661.0)">&lt;|mV/m|&gt;</text><rect x="697.5" y="690.5" width="5" height="59" fill="url(#cb)" stroke="#000"/><text x="705.0" y="697.0">1.0000</text><text x="705.0" y="709.0">0.1000</text><text x="705.0" y="720.0">0.0100</text><text x="705.0" y="731.5">0.0010</text><text x="705.0" y="744.0">0.0001</text><text x="741.0" y="719.0" text-anchor="middle" transform="rotate(-90 741.0 719.0)">&lt;|nT|&gt;</text><text x="701.0" y="29.0" color="#00f">Kyoto AE</text><text x="701.0" y="58.5">Themis AE</text><text x="701.0" y="159.0" color="#f00">Bz</text><text x="701.0" y="180.0" color="#0f0">By</text><text x="701.0" y="199.0" color="#00f">Bx</text><text x="701.0" y="218.0" color="#f00">Ne</text><text x="701.0" y="238.0">Ni</text><text x="701.0" y="258.0" color="#00f">Npot</text><text x="701.0" y="277.0" color="#f00">Viz</text><text x="701.0" y="297.0" color="#0f0">Viy</text><text x="701.0" y="316.0" color="#00f">Vix</text><text x="701.0" y="331.0">Te‖</text><text x="701.0" y="350.5" color="#f00">Te⊥</text><text x="701.0" y="360.0" color="#0f0">Ti‖</text><text x="701.0" y="379.5" color="#00f">Ti⊥</text><text x="5.0" y="760.0">X-GSE</text><text x="58.4" y="760.0" text-anchor="middle">3.1</text><text x="164.3" y="760.0" text-anchor="middle">3.5</text><text x="270.2" y="760.0" text-anchor="middle">3.9</text><text x="376.1" y="760.0" text-anchor="middle">4.3</text><text x="482.0" y="760.0" text-anchor="middle">4.6</text><text x="587.9" y="760.0" text-anchor="middle">4.8</text><text x="693.8" y="760.0" text-anchor="middle">5.0</text><text x="5.0" y="768.0">Y-GSE</text><text x="58.4" y="768.0" text-anchor="middle">−13.0</text><text x="164.3" y="768.0" text-anchor="middle">−12.5</text><text x="270.2" y="768.0" text-anchor="middle">−11.9</text><text x="376.1" y="768.0" text-anchor="middle">−11.2</text><text x="482.0" y="768.0" text-anchor="middle">−10.4</text><text x="587.9" y="768.0" text-anchor="middle">−9.5</text><text x="693.8" y="768.0" text-anchor="middle">−8.4</text><text x="5.0" y="775.0">Z-GSE</text><text x="58.4" y="775.0" text-anchor="middle">−3.8</text><text x="164.3" y="775.0" text-anchor="middle">−3.8</text><text x="270.2" y="775.0" text-anchor="middle">−3.6</text><text x="376.1" y="775.0" text-anchor="middle">−3.4</text><text x="482.0" y="775.0" text-anchor="middle">−3.1</text><text x="587.9" y="775.0" text-anchor="middle">−2.8</text><text x="693.8" y="775.0" text-anchor="middle">−2.4</text><text x="5.0" y="782.5">hhmm</text><text x="58.4" y="782.5" text-anchor="middle">0600</text><text x="164.3" y="782.5" text-anchor="middle">0700</text><text x="270.2" y="782.5" text-anchor="middle">0800</text><text x="376.1" y="782.5" text-anchor="middle">0900</text><text x="482.0" y="782.5" text-anchor="middle">1000</text><text x="587.9" y="782.5" text-anchor="middle">1100</text><text x="693.8" y="782.5" text-anchor="middle">1200</text><text x="5.0" y="789.0">2007 Nov 01</text><text x="375.5" y="9.8" text-anchor="middle" font-size="10.5" letter-spacing=".5">P5 (TH-A)</text></svg></body></html>
